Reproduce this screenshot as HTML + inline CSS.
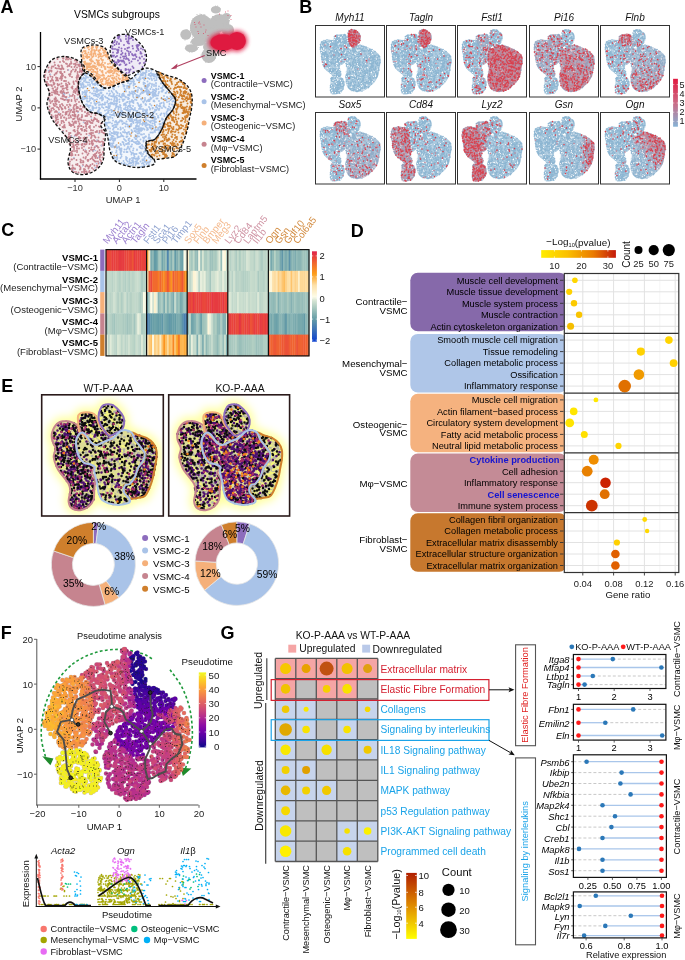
<!DOCTYPE html>
<html><head><meta charset="utf-8"><style>
html,body{margin:0;padding:0;background:#fff;}
svg{display:block;will-change:transform;font-family:"Liberation Sans", sans-serif;}
</style></head><body>
<svg width="685" height="960" viewBox="0 0 685 960">
<rect width="685" height="960" fill="#fff"/>
<text x="0.6" y="13.1" fill="#000" style="font-size:18px;font-weight:bold" >A</text>
<text x="117.0" y="14.5" text-anchor="middle" dominant-baseline="central" style="font-size:10.3px" >VSMCs subgroups</text>
<path d="M79.7 78.7C81.1 76.0 84.4 72.1 86.7 71.7C89.0 71.3 91.4 74.1 93.7 76.4C96.0 78.7 98.4 83.8 100.7 85.7C103.0 87.7 104.6 88.5 107.7 88.1C110.8 87.7 115.5 85.0 119.4 83.4C123.3 81.8 127.6 80.9 131.1 78.7C134.6 76.5 137.7 72.2 140.4 70.5C143.1 68.8 144.8 68.0 147.5 68.2C150.2 68.4 154.5 69.6 156.8 71.7C159.1 73.8 159.2 77.6 161.5 81.1C163.8 84.6 168.5 89.6 170.8 92.7C173.1 95.8 175.1 97.0 175.5 99.7C175.9 102.4 174.7 106.0 173.1 109.1C171.5 112.2 168.0 114.9 166.1 118.4C164.2 121.9 163.4 126.6 161.5 130.1C159.6 133.6 156.8 137.6 154.5 139.5C152.2 141.4 148.9 139.9 147.5 141.8C146.1 143.7 145.1 148.0 146.3 151.1C147.5 154.2 153.5 158.2 154.5 160.5C155.5 162.8 154.8 164.0 152.1 165.2C149.4 166.4 142.8 167.5 138.1 167.5C133.4 167.5 128.0 166.4 124.1 165.2C120.2 164.0 117.0 162.8 114.7 160.5C112.4 158.2 111.3 155.0 110.1 151.1C108.9 147.2 108.7 141.8 107.7 137.1C106.7 132.4 104.6 126.4 104.2 123.1C103.8 119.8 106.4 118.8 105.4 117.3C104.4 115.8 101.1 114.8 98.4 113.8C95.7 112.8 91.8 113.4 89.1 111.4C86.4 109.5 83.8 106.0 82.0 102.1C80.2 98.2 78.9 92.0 78.5 88.1C78.1 84.2 78.3 81.4 79.7 78.7Z" fill="#f3f7fc" />
<path d="M44.7 71.7C45.9 68.2 48.6 62.5 51.7 60.0C54.8 57.5 59.5 56.7 63.4 56.5C67.3 56.3 71.7 57.5 75.0 58.9C78.3 60.3 81.6 62.6 83.2 64.7C84.8 66.8 85.0 69.4 84.4 71.7C83.8 74.0 80.7 76.0 79.7 78.7C78.7 81.4 78.1 84.2 78.5 88.1C78.9 92.0 80.2 98.2 82.0 102.1C83.8 106.0 86.4 109.5 89.1 111.4C91.8 113.4 95.9 112.6 98.4 113.8C100.9 115.0 103.8 116.5 104.2 118.4C104.6 120.3 100.5 123.1 100.7 125.4C100.9 127.8 104.8 129.0 105.4 132.5C106.0 136.0 104.6 141.8 104.2 146.5C103.8 151.2 104.4 156.6 103.1 160.5C101.8 164.4 99.2 167.5 96.1 169.8C93.0 172.1 88.3 174.1 84.4 174.5C80.5 174.9 75.4 174.1 72.7 172.2C70.0 170.2 68.4 166.7 68.0 162.8C67.6 158.9 70.4 152.7 70.4 148.8C70.4 144.9 70.0 143.0 68.0 139.5C66.0 136.0 61.4 131.3 58.7 127.8C56.0 124.3 53.7 122.3 51.7 118.4C49.8 114.5 47.4 108.7 47.0 104.4C46.6 100.1 49.7 96.6 49.3 92.7C48.9 88.8 45.5 84.6 44.7 81.1C43.9 77.6 43.5 75.2 44.7 71.7Z" fill="#f7eeef" />
<path d="M82.0 48.4C84.0 45.9 89.8 44.9 93.7 44.9C97.6 44.9 102.7 45.9 105.4 48.4C108.1 50.9 108.1 56.7 110.1 60.0C112.0 63.3 114.4 65.7 117.1 68.2C119.8 70.7 124.3 73.2 126.4 75.2C128.5 77.2 131.1 78.5 129.9 79.9C128.7 81.3 123.1 82.0 119.4 83.4C115.7 84.8 110.8 87.7 107.7 88.1C104.6 88.5 103.4 87.7 100.7 85.7C98.0 83.8 94.3 78.9 91.4 76.4C88.5 73.9 84.8 73.2 83.2 70.5C81.6 67.8 81.8 63.7 81.6 60.0C81.4 56.3 80.0 50.9 82.0 48.4Z" fill="#fef4ec" />
<path d="M117.1 35.5C119.8 34.4 125.3 33.8 128.8 34.8C132.3 35.8 135.4 38.8 138.1 41.4C140.8 44.0 143.7 47.6 145.1 50.7C146.5 53.8 146.7 57.1 146.3 60.0C145.9 62.9 144.6 66.2 142.8 68.2C141.1 70.2 138.1 70.5 135.8 71.7C133.5 72.9 130.8 74.6 128.8 75.2C126.9 75.8 126.0 76.6 124.1 75.2C122.1 73.8 119.0 69.5 117.1 67.0C115.1 64.5 113.6 62.7 112.4 60.0C111.2 57.3 110.1 53.8 110.1 50.7C110.1 47.6 111.2 43.9 112.4 41.4C113.6 38.9 114.4 36.6 117.1 35.5Z" fill="#efeaf6" />
<path d="M156.8 71.7C157.6 70.7 162.6 74.0 166.1 75.2C169.6 76.4 174.3 77.0 177.8 78.7C181.3 80.5 184.9 83.0 187.2 85.7C189.5 88.4 191.0 91.6 191.8 95.1C192.6 98.6 192.2 102.9 191.8 106.8C191.4 110.7 190.3 114.5 189.5 118.4C188.7 122.3 188.4 125.8 187.2 130.1C186.0 134.4 184.4 139.8 182.5 144.1C180.6 148.4 178.2 153.5 175.5 155.8C172.8 158.1 169.2 157.5 166.1 158.1C163.0 158.7 159.1 159.3 156.8 159.3C154.5 159.3 153.7 159.5 152.1 158.1C150.5 156.7 148.5 153.8 147.5 151.1C146.5 148.4 145.1 143.7 146.3 141.8C147.5 139.9 152.0 141.4 154.5 139.5C157.0 137.6 159.6 133.6 161.5 130.1C163.4 126.6 164.2 121.9 166.1 118.4C168.0 114.9 171.5 112.2 173.1 109.1C174.7 106.0 175.9 102.4 175.5 99.7C175.1 97.0 173.1 95.8 170.8 92.7C168.5 89.6 163.8 84.6 161.5 81.1C159.2 77.6 156.0 72.7 156.8 71.7Z" fill="#f8ede1" />
<path transform="scale(0.5)" d="M303 141h0m-5 1h0m-5-1h0m-1 1h0m-11-1h0m-114 14h0m2-5h0m2-3h0m1 6h0m0-1h0m1 1h0m1-7h0m1-1h0m1 10h0m1-7h0m3 3h0m0 2h0m0-1h0m0 0h0m2 2h0m2 1h0m1-2h0m86 2h0m1-5h0m0 0h0m4-2h0m4 6h0m1-10h0m0 5h0m0 1h0m2-2h0m1 3h0m2-1h0m0-3h0m0-2h0m2 10h0m1-9h0m2 3h0m0 3h0m1-7h0m1-1h0m4 6h0m1-2h0m1 0h0m1 3h0m1 2h0m1-7h0m1 5h0m1-3h0m2 0h0m0 2h0m1 2h0m1-3h0m2 4h0m0-4h0m3 0h0m1 0h0m0 3h0m2-1h0m1 4h0m9 12h0m-4 0h0m-9-11h0m0 4h0m-1 6h0m0 1h0m-2-6h0m-2-4h0m-4 3h0m-1-3h0m-3 10h0m-1 0h0m0-9h0m-3-2h0m-1 7h0m-4-7h0m-1 11h0m-1-1h0m0-6h0m0-3h0m-1 1h0m-1 7h0m-2-9h0m-4 2h0m-2 2h0m0 2h0m-1-5h0m0 4h0m-3-1h0m-1-1h0m-6 4h0m-1 3h0m0-1h0m0-5h0m0 5h0m-1-2h0m-1-6h0m-2 6h0m-1 4h0m-2-5h0m-1-1h0m-2 0h0m-1 5h0m-64 1h0m0 0h0m0-5h0m-1-4h0m0 8h0m-4-5h0m-3 5h0m0-3h0m-1 0h0m-1-4h0m-3 1h0m-1 5h0m-3 0h0m-3-9h0m0 8h0m-1-4h0m-2-3h0m-1-1h0m0 7h0m0-1h0m-1-5h0m-2 9h0m-1-8h0m-1 0h0m0 1h0m-1-2h0m-1 6h0m-2 15h0m1-2h0m1-8h0m0 1h0m1 1h0m1 2h0m0-3h0m0 5h0m0-3h0m3-3h0m0 8h0m1-1h0m0-6h0m0 3h0m3 1h0m1 0h0m1 0h0m4-3h0m4 2h0m0-3h0m4 7h0m0 0h0m2 1h0m0-8h0m2-1h0m1 9h0m1-7h0m2 6h0m1 1h0m2-8h0m0 10h0m1-9h0m8 4h0m1 0h0m1 2h0m1 0h0m4 1h0m9-3h0m6 1h0m0 2h0m2 2h0m0-5h0m1-3h0m8 2h0m9-4h0m1 4h0m2-1h0m0 5h0m0-6h0m5 1h0m0 4h0m2-4h0m2 5h0m1-4h0m0 1h0m0-3h0m1-3h0m7 3h0m0-1h0m1 6h0m2-8h0m6 7h0m3 1h0m3 3h0m1-2h0m1 2h0m3-11h0m2 4h0m1 4h0m0-4h0m2 2h0m1 3h0m1-5h0m0 7h0m1-4h0m0-5h0m1 2h0m0 1h0m0-4h0m2 2h0m3 7h0m2-4h0m1-6h0m0 2h0m2 9h0m2-7h0m0-3h0m4 3h0m0-1h0m0 6h0m0-6h0m1 8h0m4-1h0m1-5h0m0 0h0m4 3h0m2 1h0m1-2h0m1-3h0m1-4h0m1 1h0m1 3h0m2 3h0m7 11h0m-4-3h0m-2 3h0m-1 0h0m-4-6h0m-2 1h0m0 2h0m-2 0h0m-5 1h0m-1 3h0m-1 4h0m-3 0h0m-1-8h0m-1 1h0m0-2h0m0 6h0m-2-8h0m0 6h0m-1 4h0m0-5h0m0 6h0m-1-3h0m-1 0h0m0-5h0m-1 7h0m-1-5h0m-3 1h0m-1 2h0m-1-4h0m0 3h0m-1 2h0m0-4h0m-1-2h0m0-2h0m-1 9h0m0-4h0m0-3h0m-1 1h0m-1 4h0m0-2h0m-1-3h0m-1 0h0m0-2h0m-3 2h0m-2-1h0m0 3h0m-2-1h0m0 2h0m-2-1h0m-2 3h0m-3 3h0m-2-11h0m-1 3h0m0 1h0m-1 6h0m-1 0h0m-1-9h0m-2 6h0m-1-5h0m0 5h0m-1-2h0m-1-1h0m-1 5h0m-2-5h0m0-1h0m0 4h0m-3 0h0m-2-3h0m0 5h0m0 2h0m-1-2h0m-2 1h0m0 0h0m-4-7h0m-1-3h0m0 2h0m0 0h0m-1 0h0m-2 8h0m-1-3h0m-2 1h0m-1 3h0m0-1h0m-5-2h0m-4-2h0m-1-1h0m0 6h0m-1-7h0m0 0h0m-1-2h0m-4 6h0m-1 2h0m0-1h0m-2-4h0m-2-3h0m-3 5h0m-1 1h0m0 0h0m-1-6h0m0 9h0m-4-4h0m-7-7h0m-1 10h0m-2-10h0m-1 6h0m0-1h0m-1 2h0m0-7h0m-1 5h0m0-5h0m-2 11h0m-1-1h0m0-2h0m0-7h0m-3 1h0m0 7h0m-1-5h0m0-2h0m-1-2h0m0 3h0m-1 0h0m0 6h0m-1 2h0m-1-4h0m-2 4h0m0-9h0m-2 5h0m-2 0h0m-4-2h0m-6-4h0m0 1h0m-1 8h0m0-5h0m-1 3h0m-1 2h0m0-5h0m-1-3h0m0 7h0m-2-4h0m-3-1h0m0 4h0m-5-8h0m-2 1h0m5 18h0m2 0h0m0-4h0m2-2h0m1 5h0m2-3h0m0 1h0m2 1h0m0-1h0m1 1h0m1 5h0m0-9h0m1 4h0m0 6h0m3 0h0m1-10h0m1 7h0m0-3h0m3-1h0m1 1h0m1 1h0m1 0h0m2 4h0m2-2h0m3-8h0m1 7h0m2-5h0m4 3h0m1-1h0m2-2h0m0 3h0m1-1h0m0 5h0m0-9h0m1 2h0m1 5h0m0-3h0m4-3h0m2 2h0m3 8h0m0-1h0m0-6h0m2 2h0m2 1h0m3-7h0m1 7h0m2-6h0m1-1h0m2 1h0m0 10h0m0-1h0m1-9h0m0 5h0m0 1h0m0-3h0m0 2h0m2-5h0m1 9h0m1-6h0m1 7h0m0-7h0m0 3h0m1 1h0m3-8h0m1 7h0m0-7h0m2 2h0m2 1h0m2 4h0m1-7h0m0 10h0m1-3h0m2 0h0m0 0h0m1-6h0m2 1h0m0 1h0m4 0h0m0 3h0m1 0h0m1-1h0m1 6h0m3 0h0m1 0h0m1-3h0m2-8h0m1 10h0m0-7h0m3 4h0m3-4h0m0-2h0m0 7h0m3-8h0m0 3h0m1-1h0m2-2h0m0 0h0m3 6h0m1 1h0m2-2h0m1 6h0m2 0h0m2-3h0m0-4h0m0 3h0m3 4h0m2-2h0m1 0h0m1 1h0m1-3h0m0 1h0m1 2h0m1-3h0m1-4h0m0 3h0m2-1h0m3-3h0m1 8h0m1-1h0m0 1h0m1 1h0m1-11h0m3 5h0m2 0h0m3 5h0m5-5h0m3 1h0m2-6h0m2 6h0m2 1h0m1 1h0m1-6h0m2 3h0m2 6h0m3-3h0m0-7h0m1 2h0m1 3h0m2 5h0m0-11h0m1 4h0m1 6h0m2-4h0m0 0h0m1 5h0m-2 7h0m-1 4h0m0-1h0m0-1h0m-3-3h0m-5-1h0m-1 5h0m-4-9h0m-3 11h0m-3-2h0m0-1h0m0-4h0m-1 4h0m0-7h0m-4 1h0m-2 7h0m-1-6h0m0 1h0m0 4h0m-1 0h0m-1 0h0m-4-2h0m0 5h0m-2-2h0m0 1h0m-9-3h0m-3-3h0m-2 6h0m-6-5h0m0 1h0m-1-2h0m0 1h0m-4-4h0m-4 8h0m-1-4h0m-2 6h0m0-4h0m-1 1h0m-1 0h0m-1-2h0m-1-3h0m-1-1h0m-8 0h0m-1 6h0m-1-8h0m-4 7h0m-1 3h0m0-10h0m-1 3h0m0 0h0m0 4h0m-2 1h0m-1 1h0m-1 2h0m0-11h0m-2 1h0m-1 6h0m-1 4h0m0-6h0m-1-1h0m0-1h0m-2 1h0m0 2h0m-7 1h0m-1-1h0m0 4h0m-1-10h0m-2 10h0m-1-1h0m-2 0h0m0-6h0m-1 2h0m-1 1h0m0-3h0m0 5h0m0 3h0m-3-8h0m-1 2h0m-2-1h0m-1-2h0m-3-1h0m0 3h0m-2 4h0m-1 1h0m0-6h0m-2 5h0m0-4h0m-1 7h0m0 0h0m-2-10h0m-1 9h0m-1 0h0m-2-9h0m0 3h0m0 1h0m-2 0h0m-3-1h0m-1 6h0m0-4h0m-3-1h0m-2-4h0m-1 10h0m0-10h0m0 5h0m-2-5h0m-3 2h0m0 8h0m-2-5h0m-1-3h0m-1-1h0m0 1h0m-3 7h0m-1-1h0m0 2h0m-3-9h0m-1 5h0m-3 4h0m0-4h0m-3 1h0m-1-3h0m-2 0h0m8 11h0m2 3h0m0-2h0m3-4h0m1 3h0m2-4h0m4 0h0m2 9h0m2-3h0m1-1h0m0 5h0m1-7h0m0 6h0m1-6h0m0 7h0m0-1h0m1-8h0m2 9h0m5-10h0m3 5h0m3 6h0m1-7h0m2 6h0m0-2h0m1 1h0m0-8h0m1 4h0m1-5h0m3 4h0m1 0h0m0 4h0m2-2h0m3 0h0m0 1h0m1 3h0m0-4h0m1-3h0m0-1h0m6 5h0m0 4h0m1-8h0m0-2h0m2 10h0m2-3h0m0 2h0m1 1h0m0-7h0m0-4h0m2 7h0m0-1h0m0 3h0m3 0h0m1-7h0m3 1h0m2 1h0m2 1h0m1-3h0m0 0h0m1 4h0m1 5h0m2-4h0m0-4h0m2 0h0m1-3h0m2 2h0m1 7h0m0 2h0m1-7h0m2-1h0m1 1h0m0-4h0m3 6h0m2 0h0m3 5h0m0-9h0m1 7h0m0-8h0m0 8h0m3-7h0m4 2h0m0-2h0m0 5h0m2 4h0m0 0h0m2-7h0m0 1h0m1 5h0m1-3h0m2-4h0m0 8h0m0-2h0m0-4h0m6-4h0m0 2h0m1 8h0m4-10h0m0-1h0m1 0h0m0 9h0m1 1h0m2-2h0m0-1h0m1-4h0m1 2h0m2-1h0m2-3h0m3 3h0m0-1h0m1-2h0m4 10h0m1-11h0m4 11h0m5 0h0m0-2h0m1-2h0m1-5h0m1 3h0m1-3h0m3 2h0m1-4h0m-5 13h0m-2 1h0m0 0h0m-5-2h0m0 4h0m-3 7h0m-1-1h0m-1 1h0m0-2h0m-3-8h0m0 1h0m-4 5h0m-1-3h0m0 3h0m-3-7h0m-1 10h0m-1 1h0m-1-5h0m-1 5h0m0-2h0m-1 0h0m-1-5h0m-1 2h0m-1-4h0m-2 6h0m-1-3h0m-1-5h0m-4 1h0m-1 5h0m0-4h0m-4 5h0m0-6h0m0 10h0m-1-3h0m-3-8h0m-5 2h0m-2 4h0m0-6h0m-1 0h0m0 1h0m-2 5h0m0-2h0m-1-2h0m-1 4h0m-1-6h0m0 3h0m-1-1h0m0 1h0m-1 6h0m0-9h0m-2 2h0m-1 2h0m-4 2h0m0-1h0m-1-5h0m-1 11h0m0-2h0m-1 2h0m-1-7h0m-1 4h0m0-6h0m-2 9h0m0-4h0m-1-2h0m-2 5h0m-1-9h0m-3 3h0m-2-3h0m-2 0h0m-3 1h0m-3-1h0m-2 2h0m-1 2h0m-2-3h0m-2 1h0m-6 0h0m-2-3h0m-1 2h0m-1 6h0m0-6h0m-2 0h0m-2 5h0m0-1h0m-1-5h0m0 0h0m-2 6h0m0-1h0m-1 1h0m0 4h0m-1-2h0m-2-4h0m-2-5h0m-1 10h0m0-7h0m-2-1h0m-3 2h0m-3-1h0m7 18h0m1-4h0m1 1h0m1 2h0m1 3h0m0-5h0m3-1h0m3 0h0m4 2h0m2-6h0m1 10h0m3-2h0m0-5h0m2 6h0m0-8h0m1 2h0m1 2h0m1 3h0m2-4h0m1-1h0m2-3h0m2 0h0m1 0h0m0 2h0m2 5h0m0-5h0m3 3h0m3 1h0m1 1h0m1-5h0m2 6h0m4-8h0m1 1h0m0 9h0m1-9h0m1-1h0m0 7h0m0 1h0m1 0h0m0-1h0m1-5h0m1-3h0m1 4h0m1 0h0m0 2h0m2-6h0m3 5h0m0-5h0m2 10h0m0-9h0m0 3h0m1 0h0m0 2h0m1-1h0m1 0h0m1-4h0m2 4h0m0 3h0m1-8h0m0 2h0m3 6h0m1 2h0m1-5h0m0 3h0m3-3h0m0 2h0m1 2h0m0-9h0m1 10h0m0-4h0m1-6h0m0 5h0m1 1h0m1 4h0m1-1h0m1-8h0m1 8h0m2-6h0m0 7h0m2-5h0m1-3h0m0 9h0m3-10h0m0 6h0m3-5h0m1 5h0m0-1h0m0-6h0m1 4h0m0 6h0m2-6h0m7 4h0m1-6h0m1 6h0m4 2h0m0 0h0m0-4h0m2-2h0m-2 10h0m-2 0h0m-1 4h0m-1-2h0m-1-3h0m0 9h0m-1-8h0m-1 6h0m-1-2h0m0 0h0m-1-2h0m-2 4h0m-3 0h0m0-4h0m0-1h0m-2 6h0m0 1h0m-3-5h0m0-3h0m-1-2h0m-2 7h0m-1-3h0m-1 0h0m0 0h0m-1-4h0m-1 3h0m-3 4h0m-1-2h0m-1 3h0m-1-5h0m-2-3h0m-2 7h0m-2-2h0m0 0h0m-2 0h0m-1 2h0m0 1h0m-2 2h0m0-6h0m-1 4h0m-1-1h0m-1 1h0m-1-4h0m0-4h0m0 11h0m-2-5h0m0 5h0m0-3h0m-1-7h0m-2 5h0m-1 4h0m0-8h0m0-2h0m-2 5h0m-1 5h0m-1-5h0m-4 5h0m-1-2h0m-1-8h0m-2 0h0m-1 3h0m-1-3h0m-2 1h0m-5 0h0m-2 7h0m-3-4h0m-4 2h0m-1 1h0m0-4h0m0 4h0m-5-1h0m-3-4h0m-2 0h0m-3 9h0m0-8h0m-1 2h0m-1 2h0m-1-7h0m-5 5h0m0 6h0m-3-9h0m-1 3h0m-5 0h0m4 14h0m4-3h0m1 1h0m3-3h0m0 5h0m1 3h0m0-8h0m1 6h0m2 1h0m0-6h0m1-2h0m1 3h0m1-1h0m2-3h0m1 5h0m2 3h0m0 3h0m0-8h0m0-2h0m0 5h0m1-5h0m0 1h0m2 8h0m3-1h0m0-7h0m1 6h0m1-3h0m0 2h0m2 1h0m1-8h0m1 9h0m2-8h0m1-1h0m3 2h0m0 7h0m0 1h0m1-6h0m0-2h0m1 7h0m0 0h0m1-8h0m2-1h0m1 4h0m2 1h0m4-5h0m4 11h0m2-5h0m1 3h0m0-9h0m2 10h0m1-2h0m0-5h0m3 6h0m0-6h0m1-1h0m3 3h0m2 0h0m2 6h0m2-7h0m2 6h0m1-1h0m1 0h0m6 1h0m0-5h0m0 1h0m3-5h0m3 0h0m2 0h0m4-1h0m8 2h0m0-1h0m0 1h0m-12 14h0m-1 0h0m-5-4h0m0 3h0m-1-1h0m-2-1h0m0-1h0m-5 5h0m-4-4h0m-1 6h0m0-2h0m-6-2h0m-1 8h0m-2-3h0m-1 1h0m-1 2h0m0-4h0m-1-1h0m0 0h0m-2 5h0m0-9h0m-1 6h0m-1 2h0m0-8h0m-3 6h0m-3-2h0m0-2h0m-2 2h0m-4-5h0m0 6h0m-2-3h0m0 6h0m0-8h0m-2 9h0m-3-5h0m-1-1h0m-1-1h0m-2-2h0m-1 7h0m0 0h0m-2-1h0m-14-7h0m-1 3h0m0-1h0m-1 2h0m0-4h0m-2 9h0m0-4h0m-1-1h0m0-3h0m-1 9h0m-1-11h0m-1 2h0m-1 9h0m0-11h0m-1 4h0m-2 6h0m0-6h0m-1-1h0m2 10h0m1 1h0m1 3h0m1 0h0m1 1h0m1-4h0m2 3h0m2 2h0m2-3h0m1-1h0m1 3h0m0-4h0m1 6h0m1-1h0m3-2h0m1 3h0m0 3h0m0-3h0m2-8h0m0 10h0m1-8h0m1 8h0m0-1h0m4-9h0m2 11h0m0-8h0m3-3h0m1 11h0m1-11h0m1 8h0m1-3h0m0 2h0m2-7h0m1 9h0m0 2h0m2-6h0m2 0h0m1-4h0m3 8h0m7-9h0m0 11h0m3-11h0m2 6h0m2 2h0m0-3h0m3 4h0m0-7h0m2 3h0m3 4h0m1-2h0m2-6h0m1-1h0m6 23h0m-5-4h0m-1-3h0m-3-2h0m-2 2h0m-2 4h0m-4-3h0m0 3h0m-3-2h0m-5-6h0m-1 8h0m-3 0h0m-2 0h0m0 2h0m-2-4h0m0-5h0m-3 5h0m0 3h0m-2-6h0m-6 1h0m-2 0h0m-5 0h0m-5-2h0m0 7h0m-1-5h0m0-1h0m-1-2h0m0 7h0m0-4h0m0 1h0m-6 4h0m-2-5h0m0-3h0m-1 4h0m-8-1h0m3 9h0m1 0h0m1 4h0m1-2h0m2 6h0m1-6h0m0 5h0m1-7h0m0 6h0m1-3h0m3 6h0m3-6h0m2-3h0m4 9h0m5-8h0m0 4h0m1 2h0m1-4h0m1 7h0m4 0h0m0-3h0m1-2h0m4-2h0m0 5h0m2-1h0m0 3h0m1-7h0m0 0h0m2-3h0m1 4h0m1 6h0m0 0h0m1-5h0m1-1h0m1 5h0m1-5h0m1 2h0m1-6h0m0 2h0m1 2h0m3 6h0m3-11h0m1 7h0m0 0h0m0 2h0m2-2h0m1 2h0m1-4h0m0 0h0m0-3h0m3 9h0m0-11h0m1 8h0m5-5h0m2 8h0m0-8h0m0 0h0m2 4h0m-4 6h0m0 4h0m-1-4h0m-1 0h0m-1 0h0m-2 3h0m-3-4h0m-1 8h0m-1-3h0m0 1h0m-2-4h0m-2 7h0m0-6h0m-3 7h0m-4-7h0m-1-1h0m-2 1h0m-1-1h0m-1 1h0m-1 3h0m-4-6h0m0 2h0m-1 4h0m-1-6h0m-2 2h0m-1 5h0m-1-5h0m-3 1h0m-3 3h0m-2-1h0m-4-3h0m0 1h0m-2 1h0m-4-2h0" stroke="#a9c3e8" stroke-width="3.80" stroke-linecap="round" fill="none" />
<path transform="scale(0.5)" d="M142 119h0m-3-2h0m-3 2h0m-1-4h0m-2 0h0m0 1h0m-1 3h0m0-5h0m-5 3h0m-1 0h0m-11 1h0m-15 7h0m9 0h0m1 5h0m6 1h0m1 0h0m3-7h0m3 7h0m3-9h0m2 2h0m4 3h0m2 1h0m5 2h0m1-2h0m2-4h0m1 3h0m5 1h0m2-7h0m0-1h0m1 7h0m0 4h0m1-2h0m1-8h0m1 3h0m2 5h0m1 2h0m1-1h0m2-2h0m5 2h0m2 10h0m-1-5h0m0-1h0m0-2h0m-1 11h0m0-6h0m-2 4h0m-3 1h0m0-10h0m0 6h0m-1-5h0m-5 2h0m-2 5h0m-1-1h0m-1 4h0m-1-9h0m-3 5h0m-3 3h0m0-8h0m-4-2h0m-3 0h0m0 8h0m-1-7h0m-8 5h0m-2-3h0m0 2h0m-1-5h0m-1 5h0m-1 2h0m-1-1h0m-3-5h0m0 4h0m-3 6h0m-1-6h0m-3-1h0m-4-3h0m-3 0h0m-1 8h0m0 2h0m0-7h0m-3 5h0m-1 1h0m-2-7h0m-5 6h0m-2 9h0m0 5h0m1-11h0m5 11h0m2-11h0m2 5h0m1 4h0m4 1h0m4-4h0m2-3h0m1 8h0m1-9h0m0 1h0m7-3h0m1 2h0m1 7h0m0-9h0m1 3h0m0 8h0m1-5h0m1 2h0m0-4h0m0 5h0m1-2h0m3-7h0m1 10h0m1 1h0m7-6h0m1 0h0m1 3h0m1-4h0m1-4h0m2 10h0m9 1h0m1-3h0m1-8h0m0 4h0m1 6h0m0-4h0m1 2h0m2-8h0m4 0h0m0 5h0m2 0h0m-6 8h0m-3 6h0m-1 0h0m0 2h0m-1-7h0m-2 4h0m-5 3h0m0-2h0m-10 2h0m-5-3h0m0 5h0m-3-5h0m-1 0h0m-4-5h0m-1 3h0m0 7h0m-2-11h0m-1 1h0m-4 4h0m-1-3h0m0-2h0m0 2h0m-2 2h0m0-3h0m-1 4h0m-3 6h0m0 0h0m-2-2h0m-1-4h0m0 0h0m-2-3h0m-1 3h0m-2 2h0m0-1h0m-5-4h0m-2 6h0m-2 0h0m1 5h0m1 0h0m1 1h0m1-2h0m2 2h0m4 0h0m1 1h0m1 1h0m1 5h0m1 0h0m1-8h0m1 0h0m0-1h0m2 6h0m2 5h0m2 0h0m1-11h0m0 8h0m1-5h0m0-1h0m3-1h0m3 4h0m2 0h0m1 5h0m1-6h0m0 5h0m2 0h0m4-1h0m0-6h0m1 1h0m1 2h0m0 6h0m1-9h0m0 9h0m0-5h0m4-6h0m4 7h0m2-2h0m0 4h0m3-9h0m3 11h0m0-1h0m1 1h0m1-2h0m2-3h0m0-1h0m0 6h0m1-8h0m1-3h0m2 21h0m-3-7h0m0 2h0m0 5h0m-1 0h0m0 0h0m-2-8h0m-2 3h0m0 2h0m-1-2h0m-2-3h0m-1 3h0m-1 5h0m-10-4h0m-3 1h0m-4 0h0m-1-1h0m0 6h0m0-2h0m0-4h0m-1-3h0m0 6h0m-1 3h0m-1-6h0m0 2h0m-1-1h0m-1-4h0m-2 1h0m0 2h0m-3 5h0m-3-2h0m0-4h0m-2-1h0m-1 4h0m-1-3h0m-1-2h0m0 5h0m-2-2h0m-1-4h0m-3 4h0m0 5h0m-4-3h0m0 4h0m-2-10h0m-1 14h0m2 4h0m0 2h0m0 0h0m0-2h0m1 3h0m4 1h0m1-1h0m4-4h0m0 1h0m1 4h0m1-8h0m0 3h0m1-1h0m0 5h0m1 1h0m0-2h0m2 0h0m7-4h0m3-4h0m0 5h0m2 1h0m1-6h0m1 7h0m2-6h0m1 5h0m1-5h0m2 6h0m2 3h0m1-3h0m2-8h0m3 8h0m0 2h0m1-10h0m5 4h0m0-4h0m1 8h0m1 3h0m3-4h0m15 16h0m-3-1h0m-5-2h0m-3-8h0m-2 11h0m-1-1h0m-2 0h0m0-6h0m-1 2h0m-3 0h0m-1 2h0m-1 3h0m-6-4h0m-1-1h0m-1-1h0m-2 5h0m-1-10h0m-2 6h0m-4 4h0m0 1h0m-4-4h0m-2-3h0m-3 5h0m-1-3h0m0 3h0m-2-9h0m-4 10h0m-1-5h0m-2-2h0m-1 5h0m-1-1h0m-1 0h0m-1-3h0m-6-2h0m-2 7h0m0 7h0m0 0h0m0 1h0m2 3h0m2-7h0m0 4h0m3-5h0m2 3h0m2 5h0m2-2h0m2 2h0m3-8h0m1 3h0m5-3h0m1 3h0m1-1h0m1 6h0m4-8h0m1 9h0m0-8h0m2 10h0m0-3h0m3-1h0m2-4h0m2 5h0m1-3h0m2-1h0m2 4h0m2 0h0m0-7h0m0 7h0m1-4h0m1 4h0m0-5h0m4-2h0m0 5h0m2 1h0m1-7h0m0 7h0m4-4h0m0-2h0m3 1h0m1 4h0m6 2h0m4 3h0m1 0h0m1-2h0m7 2h0m11 12h0m0 0h0m-3-9h0m0 0h0m0 8h0m-2-2h0m-1 3h0m-6-6h0m-4-4h0m-4 3h0m0-1h0m-3 1h0m0 0h0m-7 1h0m0 1h0m0-4h0m-1 5h0m-3 4h0m-1 0h0m0-2h0m-2-7h0m-1 9h0m0-7h0m-1 2h0m0 2h0m-4-3h0m0-3h0m-1 0h0m-1 7h0m0-5h0m0-4h0m-2 10h0m-1-7h0m0 7h0m-1-8h0m-3 5h0m-1-3h0m-2-4h0m-1 8h0m-1-5h0m-4 6h0m0-9h0m-2 1h0m-2 6h0m-1 0h0m0 0h0m-3-4h0m-3 5h0m0-2h0m-1-6h0m-1 2h0m-3-2h0m-1 11h0m-1-8h0m0 3h0m-2 4h0m-1-7h0m0 4h0m0 2h0m-1-6h0m0 3h0m-5-1h0m-2 1h0m0 2h0m-1-6h0m8 12h0m1-1h0m0 6h0m1 2h0m2-3h0m1-2h0m4 6h0m3-4h0m0-4h0m3 0h0m2 3h0m1 5h0m3-10h0m6 5h0m1 2h0m0 3h0m2-1h0m2 1h0m2-7h0m1 7h0m1 0h0m0-3h0m1-1h0m2-3h0m2 0h0m0 3h0m5-3h0m2 5h0m0-1h0m4-7h0m4 1h0m0 0h0m3 5h0m0-5h0m1 5h0m1 4h0m1-1h0m1-6h0m0 5h0m0-6h0m1 6h0m0-3h0m3-3h0m2 2h0m2 1h0m0 1h0m1-6h0m2 6h0m1-4h0m1-1h0m5 10h0m2-9h0m3 0h0m0 2h0m5 3h0m2-1h0m3 14h0m-4 1h0m-3-7h0m-1 8h0m-1-9h0m-4 9h0m-6-8h0m-2 7h0m-4 0h0m0-1h0m-2-8h0m0 4h0m-2-2h0m-5 3h0m0 5h0m-1-9h0m-2 7h0m-1 2h0m0-2h0m-2-6h0m-3 7h0m0-3h0m-1-6h0m-1 6h0m0-6h0m-4 1h0m0-1h0m-2 1h0m0 4h0m-1 4h0m-5 2h0m-1-3h0m0-6h0m-2 7h0m-5-9h0m-9 10h0m-3-7h0m-1-2h0m-1-1h0m-1 3h0m-1 7h0m-1-8h0m5 17h0m6 4h0m2-2h0m0-4h0m0-3h0m3 8h0m0-8h0m1 6h0m8-1h0m2-2h0m1 2h0m2-4h0m0-1h0m0 3h0m1-5h0m2 10h0m0-7h0m1-1h0m3 3h0m7 6h0m4-7h0m1 7h0m5-8h0m3 2h0m0-1h0m0-2h0m1 0h0m0 8h0m1-3h0m2-5h0m2 5h0m1 1h0m1 2h0m1 1h0m0-11h0m3 0h0m3 11h0m2-10h0m5-1h0m0 0h0m3 2h0m2 1h0m-1 19h0m-1-8h0m-1 6h0m-2-1h0m-4 1h0m-3-1h0m0-1h0m-1-1h0m-3 2h0m-3-1h0m-2-2h0m-2 7h0m-1-4h0m-1-2h0m-1 6h0m0-3h0m-1-8h0m-3 7h0m0 0h0m-2-3h0m0 0h0m-3 5h0m-1-2h0m-1 0h0m-2-5h0m-1 5h0m-1 0h0m-1-2h0m0 1h0m0-6h0m-6 0h0m-1 0h0m0 5h0m-2-4h0m-1-1h0m-2 9h0m-4-1h0m-3-3h0m-6 6h0m-1-3h0m-1-4h0m0-3h0m-3 0h0m2 11h0m5 6h0m2-1h0m0-5h0m1 3h0m1 7h0m0-3h0m0-1h0m3-4h0m3-2h0m0 9h0m0-4h0m3-4h0m1 8h0m5-8h0m1 2h0m0 5h0m1-8h0m3 5h0m1-5h0m2 1h0m2-1h0m0 0h0m5 8h0m1-8h0m3 11h0m1-4h0m2-5h0m1-2h0m2 11h0m1-4h0m2-2h0m2-1h0m1 0h0m2 3h0m1 0h0m6-4h0m3-3h0m0 3h0m1 15h0m-1-1h0m0-1h0m-3 5h0m-2 1h0m-1 0h0m0-5h0m-1-5h0m-1 6h0m-3-3h0m-2 3h0m-1 5h0m-2-3h0m-3 2h0m-1-8h0m-1-2h0m-6 2h0m-2 5h0m-2 3h0m-2-5h0m-1-3h0m-2 1h0m-3-3h0m-2 7h0m-8 3h0m-3-6h0m0-3h0m-3 9h0m-1-8h0m-4 0h0m-1 8h0m-1-3h0m-1-2h0m0 5h0m0 1h0m0-8h0m-1 2h0m-2 5h0m-1 0h0m1 13h0m3-4h0m1 0h0m4-2h0m5 3h0m8-1h0m1 2h0m4 1h0m1-7h0m4 2h0m1-3h0m3 6h0m1 2h0m1-2h0m4-2h0m3-2h0m0 0h0m1-2h0m1 5h0m2 2h0m1-9h0m1 1h0m0 10h0m1-7h0m1-3h0m0 10h0m3-7h0m1 7h0m3-11h0m0 3h0m1-1h0m0 5h0m2 3h0m3-7h0m-3 10h0m-1 0h0m-4 2h0m-2 6h0m-1-2h0m-1 4h0m-4-4h0m-4-3h0m-4 2h0m-1 2h0m-2 2h0m-2-1h0m-1-1h0m-2-2h0m-2 3h0m-4-9h0m-1 6h0m0 0h0m0-5h0m-4 0h0m-1-1h0m0 11h0m-2-3h0m-4-4h0m0 2h0m-3-1h0m-6 6h0m-1-4h0m-6-4h0m0 2h0m0 1h0m-1 0h0m5 7h0m1 4h0m1-1h0m1-2h0m0-1h0m1-1h0m1 8h0m2-6h0m0-1h0m2 7h0m5 1h0m3-6h0m1-2h0m0 1h0m3 6h0m4-6h0m0 5h0m0 1h0m0-4h0m1 6h0m1-7h0m0 4h0m3 0h0m1 3h0m3-9h0m1 7h0m1-2h0m5-6h0m3 3h0" stroke="#c6848f" stroke-width="3.80" stroke-linecap="round" fill="none" />
<path transform="scale(0.5)" d="M195 93h0m-1 2h0m-2-1h0m-6 0h0m0 1h0m-2 0h0m0-2h0m-6 0h0m-1 1h0m-1 1h0m-1 0h0m-10 10h0m3-3h0m1-6h0m1 11h0m1-5h0m0 2h0m1 3h0m5-2h0m1-6h0m4 5h0m0-1h0m1 1h0m0 2h0m0-9h0m1 2h0m0 2h0m0 0h0m3 6h0m1-7h0m1 3h0m1 3h0m0-4h0m3-6h0m0 4h0m0-1h0m0-3h0m4 5h0m0 1h0m2 3h0m1-5h0m2-4h0m3 1h0m1 3h0m1 5h0m1 1h0m1-2h0m0-2h0m1-1h0m0-4h0m1 6h0m2 3h0m5 9h0m0 0h0m-2 3h0m0-8h0m-1 4h0m-1-3h0m0-2h0m-2 4h0m0-3h0m-2 0h0m-3 1h0m-3 2h0m-1 6h0m0 0h0m-1-2h0m0-9h0m-1 0h0m0 4h0m0-3h0m-3 4h0m0 0h0m0-4h0m-1 6h0m-1-6h0m-4 3h0m-1-4h0m-4 4h0m0-3h0m-2 5h0m-1 0h0m-1 4h0m0-8h0m-1-2h0m-1 11h0m-1-10h0m0 10h0m-1-5h0m-2 0h0m-1 0h0m-1-5h0m0 7h0m-1-5h0m-1 4h0m-2-2h0m-3 4h0m-1-5h0m-1-2h0m0 1h0m0 3h0m-1 3h0m3 7h0m1 2h0m1 0h0m0-3h0m0 6h0m1-3h0m1 2h0m2-1h0m0 4h0m0 0h0m0-1h0m2-3h0m1 1h0m1 3h0m1-4h0m1-7h0m0 9h0m2-7h0m0 5h0m1-4h0m1-1h0m2 1h0m0 8h0m3-5h0m1 1h0m3-7h0m1 1h0m1 8h0m0-4h0m1-4h0m0 8h0m0-4h0m1-3h0m1 4h0m0-5h0m0 10h0m0-10h0m0 9h0m1-1h0m2 1h0m2-2h0m1-8h0m0 10h0m1-9h0m0 4h0m1-5h0m1 10h0m0 0h0m3-4h0m0 0h0m6 2h0m4-1h0m0-6h0m1 0h0m0 1h0m6 7h0m14 13h0m-1 0h0m-3 1h0m-1-4h0m-2-3h0m0 6h0m-2-1h0m-1-3h0m-1 5h0m0-4h0m-1 4h0m0-11h0m-1 7h0m-2-7h0m-1 4h0m0 6h0m-2 1h0m0-7h0m-1-2h0m0 6h0m-2 1h0m0-6h0m-2 0h0m0 6h0m-3-7h0m0 9h0m-4-5h0m-1-2h0m0 2h0m0-4h0m-2-1h0m-3 9h0m-1 1h0m-1-9h0m0 9h0m-3-3h0m-5 3h0m0-6h0m-1 2h0m-1-1h0m-1-5h0m-2 3h0m-1-4h0m-2 10h0m0-8h0m0 6h0m-1-7h0m-1 6h0m0 0h0m-1-5h0m-1 4h0m-1-5h0m-1 7h0m-1 0h0m0-5h0m-2-1h0m-1 6h0m-1-6h0m-1 2h0m-1-1h0m0-1h0m-1 4h0m0-4h0m-5 2h0m0 0h0m0 3h0m-1-7h0m6 12h0m8 6h0m1 0h0m1-6h0m0 8h0m1-1h0m2-7h0m1 5h0m0 5h0m3-10h0m1 0h0m0 11h0m0-11h0m1 7h0m1-4h0m1 5h0m0-1h0m0-5h0m1 1h0m1 8h0m1-1h0m1-4h0m1 4h0m1 1h0m2-4h0m3-6h0m0 6h0m1-2h0m0 1h0m2 5h0m0-4h0m4-5h0m4 7h0m1-9h0m0 8h0m1-7h0m2 8h0m0-8h0m2 6h0m1-7h0m3 3h0m0 4h0m2-5h0m1 9h0m4-8h0m0 6h0m2-4h0m3 2h0m0 0h0m4-5h0m3 5h0m1-1h0m1 4h0m3-5h0m1 6h0m2-4h0m1 3h0m2 5h0m-1-2h0m-1-1h0m-1 2h0m-1 1h0m0-1h0m-1 1h0m0 1h0m-3-1h0m-1 0h0m-1 2h0m0 0h0m-1-4h0m0-1h0m-1 5h0m0 1h0m0 0h0m-4-4h0m-1 6h0m0-5h0m-2-3h0m0 8h0m-3-3h0m-1-1h0m0 6h0m-1-8h0m-3 5h0m-1-6h0m0 9h0m-1-4h0m-1-4h0m0 7h0m-1-9h0m-1 0h0m-1 8h0m-2-2h0m0 5h0m-2-1h0m-1-8h0m-1 9h0m-1-6h0m0 4h0m0 0h0m-2 1h0m-1-10h0m0 5h0m-1 3h0m-1-6h0m-3-1h0m-3 5h0m0-3h0m-1-1h0m0 9h0m-2-3h0m-1-4h0m-3 5h0m0-9h0m-2 0h0m0 2h0m-1 3h0m-1-3h0m0 2h0m-2 1h0m10 10h0m2-3h0m3 1h0m4-1h0m4 2h0m4 1h0m2 0h0m0-1h0m1-1h0m2 0h0m1 2h0m1 0h0m1-1h0m0-1h0m1 1h0" stroke="#f5b07a" stroke-width="3.80" stroke-linecap="round" fill="none" />
<path transform="scale(0.5)" d="M252 71h0m-22 10h0m6-8h0m0 3h0m1 1h0m1-2h0m1-3h0m2 7h0m1 3h0m10-4h0m0-5h0m2 10h0m3-8h0m0 7h0m0-4h0m1-6h0m2 5h0m3-1h0m1-2h0m2 6h0m12 10h0m-2 2h0m-1-2h0m-1 4h0m-1-3h0m-8 1h0m-7-5h0m0 8h0m-2-9h0m-8 4h0m-10-3h0m0 1h0m0 7h0m-4-11h0m-1 4h0m-4-4h0m0 6h0m-3-4h0m-1 7h0m0-8h0m-1 12h0m2 1h0m0 7h0m0 0h0m4-7h0m4 8h0m0-7h0m1 2h0m1 4h0m0-2h0m1-3h0m6 2h0m0-5h0m2 9h0m5-8h0m1 9h0m3-6h0m1-5h0m2 7h0m1 4h0m3-3h0m5-7h0m7 5h0m2-5h0m1 0h0m0 1h0m1 2h0m4 7h0m0-3h0m1-7h0m1 10h0m3-8h0m4 11h0m-2 8h0m-4-5h0m-4 4h0m-1-2h0m-6-1h0m-2-3h0m0-2h0m-1 0h0m0 9h0m-3-7h0m-1 7h0m-1-8h0m-1-2h0m-6 2h0m-1 9h0m-1-1h0m-3-2h0m-1 2h0m0-6h0m-1-4h0m-2 5h0m-1 4h0m-2-4h0m-3-4h0m-1 0h0m-1 6h0m-7-3h0m0 0h0m-3 2h0m-3-3h0m0 0h0m-2 2h0m-2-2h0m4 11h0m1 2h0m3 1h0m1 0h0m1 3h0m2-6h0m0-2h0m1 3h0m0 1h0m1-3h0m1 1h0m0 8h0m2-1h0m1-8h0m2 2h0m2-2h0m1 2h0m1 0h0m1 3h0m2 4h0m2-1h0m5-8h0m1 5h0m4-3h0m13-2h0m3 6h0m1-1h0m8 0h0m3-3h0m-6 11h0m-18 2h0m-2-3h0m-4 6h0m-2 3h0m-2-3h0m-4 0h0m-1 0h0m-1-1h0m0 2h0m-9 0h0m11 6h0m0 0h0m5-1h0m9-1h0" stroke="#8d6cbd" stroke-width="3.80" stroke-linecap="round" fill="none" />
<path transform="scale(0.5)" d="M317 145h0m2 6h0m0-2h0m2-3h0m0 9h0m2-6h0m1 2h0m1 4h0m3-1h0m3-3h0m3 3h0m32 12h0m-3-2h0m-2-1h0m0 0h0m-4 1h0m-3 2h0m-2-9h0m-2 1h0m-7 7h0m0-2h0m-1-5h0m-1 1h0m0-2h0m-1 4h0m-4-5h0m-1 6h0m-4 2h0m-1-2h0m-2-4h0m-1 4h0m0-6h0m-2 6h0m-5-6h0m10 13h0m1 3h0m1-4h0m0 2h0m3 0h0m0 6h0m3-3h0m3 4h0m3-9h0m4 10h0m2-3h0m1-5h0m1 6h0m2-8h0m1 6h0m2-1h0m1 1h0m2 5h0m0-5h0m3 0h0m3-6h0m1 8h0m1-1h0m1-2h0m0-3h0m1 6h0m2 1h0m1 1h0m1-1h0m8 12h0m0-1h0m-3 2h0m-2-3h0m-2 2h0m-2-5h0m-2 1h0m0 0h0m0 2h0m-1-5h0m-1 3h0m-1 6h0m-1-4h0m0-3h0m-4 6h0m-1-7h0m-1-2h0m0 5h0m-1 4h0m-5-4h0m0-2h0m-1-1h0m-3 6h0m-1-4h0m-2-2h0m0 6h0m-2-1h0m2 5h0m2 4h0m1 0h0m1-4h0m0 8h0m3-1h0m2-5h0m1-1h0m5-2h0m1 5h0m1-4h0m1 5h0m0-6h0m1 11h0m2-10h0m1 6h0m2-3h0m1 6h0m1-8h0m1 5h0m0-2h0m3 1h0m1-3h0m0-3h0m1 3h0m1 3h0m1-5h0m0 6h0m1 2h0m0 5h0m-1-1h0m0 1h0m-1-2h0m-1 9h0m-1 2h0m-4-8h0m-1 6h0m-3 2h0m-3 0h0m-2 0h0m-1-1h0m-2-4h0m0-5h0m-1 5h0m-1 0h0m0-5h0m0 6h0m0 2h0m-4 0h0m-1-4h0m0 0h0m-1 3h0m-2-2h0m-1-3h0m-2 2h0m-4 13h0m1 1h0m0 1h0m1 3h0m4-9h0m1 7h0m0-3h0m1-4h0m1-2h0m8 0h0m2 10h0m1-9h0m1 5h0m0 4h0m0-5h0m1 1h0m1 3h0m0-8h0m0 3h0m2 5h0m0-2h0m1 0h0m1-4h0m0 4h0m2 1h0m0 1h0m1 2h0m0-2h0m0-2h0m2-4h0m1-2h0m1 7h0m1-8h0m1 2h0m-5 11h0m0-1h0m-1 2h0m-1 3h0m-1 1h0m-1-3h0m-2 5h0m-1-3h0m0 1h0m-3 4h0m-2-2h0m-8 1h0m0-8h0m-5 1h0m0 9h0m-1-4h0m-4 0h0m-1-1h0m0 5h0m0-4h0m-2 1h0m-2-3h0m0-2h0m-1 0h0m-1-3h0m-2 9h0m-1-3h0m0-2h0m-3 3h0m-1 4h0m-4 11h0m1-2h0m4 1h0m2-3h0m1 5h0m3-6h0m1 2h0m3-7h0m2 1h0m1-1h0m1 2h0m0 0h0m1 2h0m3 5h0m2 0h0m0-6h0m0 6h0m0-3h0m3 5h0m0 0h0m5-1h0m0-8h0m1 9h0m1-10h0m6 3h0m1-4h0m1 11h0m2-3h0m1-5h0m0 0h0m0 11h0m-2-2h0m-1 3h0m0 5h0m-1 3h0m0-8h0m-3 4h0m-2-7h0m-3 4h0m-3 1h0m-1-2h0m-1-3h0m0 5h0m-2 3h0m-3-1h0m-2 4h0m-4-9h0m0 4h0m-1 5h0m-1-5h0m-2 4h0m0 1h0m0-8h0m-1 8h0m-1-11h0m-1 0h0m-1 5h0m-1 2h0m-1-6h0m0 9h0m-1-4h0m0-6h0m-4 8h0m-2-6h0m-3 9h0m0-11h0m0 8h0m-1-5h0m-4 6h0m-7 14h0m1 0h0m7-5h0m2-5h0m1 9h0m0-5h0m2 0h0m2 4h0m1 0h0m1 2h0m0 0h0m1-5h0m3-4h0m6-1h0m1 8h0m1 1h0m1-5h0m5 1h0m0-6h0m2 10h0m2 0h0m3-9h0m6 10h0m1-8h0m2-1h0m1 3h0m5-5h0m0 3h0m-7 13h0m-1 3h0m-2-1h0m-1 1h0m-2 1h0m-5-6h0m0 0h0m-2 5h0m-2-7h0m-1 11h0m-2-7h0m-1 6h0m-1-2h0m-4 2h0m-2-7h0m-1-2h0m-2 2h0m0 2h0m-2-1h0m0 2h0m-1-3h0m-3 8h0m-1-10h0m0 3h0m0-3h0m-1 10h0m-2-4h0m-1-1h0m-3 1h0m-4 2h0m0 2h0m-5-5h0m0-4h0m-1 7h0m-1-1h0m-2 0h0m0 2h0m-4-4h0m-1 5h0m-1-6h0m-6 2h0m-3 7h0m0 5h0m0-5h0m1 6h0m1-7h0m2 0h0m5 7h0m0-6h0m1 8h0m1-3h0m0 1h0m0-1h0m0-7h0m1 7h0m1 4h0m1 0h0m0-7h0m0 6h0m1-8h0m2 5h0m0-4h0m1 3h0m7 4h0m2 1h0m2 0h0m1-4h0m3-7h0m0 7h0m2-3h0m0 4h0m2-5h0m3 0h0m0 5h0m1-5h0m1 5h0m2 3h0m0-7h0m3 4h0m2-8h0m1 2h0m2 1h0m1-2h0m1 9h0m0-6h0m3-1h0m2 5h0m0-2h0m2-6h0m0 1h0m1 8h0m0-7h0m7-1h0m0 0h0m0 0h0m-15 13h0m0 7h0m0-7h0m-1 6h0m0-1h0m-2-1h0m0 2h0m-10-8h0m-3 9h0m0 0h0m-1 1h0m-1-1h0m-1-7h0m0 7h0m-1-4h0m-1 1h0m-1 2h0m-1-6h0m-1 2h0m-5 7h0m-3-5h0m-1-4h0m-2 1h0m-1 0h0m0 4h0m-1-1h0m-2 5h0m-1-1h0m-3-1h0m-2-7h0m0 8h0m-1-7h0m0-2h0m-1 1h0m-1-1h0m0-1h0m-1 0h0m5 14h0m0 0h0m10-1h0m3 5h0m9-1h0m3-1h0m1-4h0m1 2h0m3-2h0m10 0h0m1 1h0m4-1h0" stroke="#cf7f2c" stroke-width="3.80" stroke-linecap="round" fill="none" />
<path transform="scale(0.5)" d="M291 157h0m-13 8h0m-103 12h0m12-2h0m71-1h0m14-1h0m19-1h0m47 13h0m-39 4h0m-12-8h0m-16 1h0m-22 1h0m-71-2h0m-8 12h0m23 10h0m81-8h0m11 1h0m38 0h0m4 3h0m3 2h0m8-4h0m-29 14h0m-81 10h0m8 3h0m69 12h0m-10-4h0m-8 8h0m2 3h0m30 0h0m-7 11h0m-7 3h0m-46-4h0m3 19h0m1-6h0m9 6h0m-35 14h0m-7 8h0m3 17h0m-5 0h0m65 10h0" stroke="#cf7f2c" stroke-width="3.00" stroke-linecap="round" fill="none" />
<path transform="scale(0.5)" d="M160 126h0m-23 14h0m-40 1h0m4 8h0m38 40h0m-10 0h0m-2-2h0m-29 11h0m35 0h0m5-3h0m18 1h0m-38 29h0m22-7h0m16 7h0m27 11h0m-79-2h0m63 11h0m36 11h0m-77 7h0m17 9h0m6 1h0m29-2h0m20-4h0m-4 13h0m-25 4h0m-14-2h0m16 17h0m20-7h0m12-1h0m-12 10h0m-4 1h0m-49 17h0m10-4h0m49-1h0m3 11h0m-7 2h0m-2 8h0m-26-3h0m-18 8h0m43-4h0" stroke="#a9c3e8" stroke-width="3.00" stroke-linecap="round" fill="none" />
<path d="M79.7 78.7C81.1 76.0 84.4 72.1 86.7 71.7C89.0 71.3 91.4 74.1 93.7 76.4C96.0 78.7 98.4 83.8 100.7 85.7C103.0 87.7 104.6 88.5 107.7 88.1C110.8 87.7 115.5 85.0 119.4 83.4C123.3 81.8 127.6 80.9 131.1 78.7C134.6 76.5 137.7 72.2 140.4 70.5C143.1 68.8 144.8 68.0 147.5 68.2C150.2 68.4 154.5 69.6 156.8 71.7C159.1 73.8 159.2 77.6 161.5 81.1C163.8 84.6 168.5 89.6 170.8 92.7C173.1 95.8 175.1 97.0 175.5 99.7C175.9 102.4 174.7 106.0 173.1 109.1C171.5 112.2 168.0 114.9 166.1 118.4C164.2 121.9 163.4 126.6 161.5 130.1C159.6 133.6 156.8 137.6 154.5 139.5C152.2 141.4 148.9 139.9 147.5 141.8C146.1 143.7 145.1 148.0 146.3 151.1C147.5 154.2 153.5 158.2 154.5 160.5C155.5 162.8 154.8 164.0 152.1 165.2C149.4 166.4 142.8 167.5 138.1 167.5C133.4 167.5 128.0 166.4 124.1 165.2C120.2 164.0 117.0 162.8 114.7 160.5C112.4 158.2 111.3 155.0 110.1 151.1C108.9 147.2 108.7 141.8 107.7 137.1C106.7 132.4 104.6 126.4 104.2 123.1C103.8 119.8 106.4 118.8 105.4 117.3C104.4 115.8 101.1 114.8 98.4 113.8C95.7 112.8 91.8 113.4 89.1 111.4C86.4 109.5 83.8 106.0 82.0 102.1C80.2 98.2 78.9 92.0 78.5 88.1C78.1 84.2 78.3 81.4 79.7 78.7Z" fill="none" stroke="#111" stroke-width="1.3" stroke-dasharray="3 1.8"/>
<path d="M44.7 71.7C45.9 68.2 48.6 62.5 51.7 60.0C54.8 57.5 59.5 56.7 63.4 56.5C67.3 56.3 71.7 57.5 75.0 58.9C78.3 60.3 81.6 62.6 83.2 64.7C84.8 66.8 85.0 69.4 84.4 71.7C83.8 74.0 80.7 76.0 79.7 78.7C78.7 81.4 78.1 84.2 78.5 88.1C78.9 92.0 80.2 98.2 82.0 102.1C83.8 106.0 86.4 109.5 89.1 111.4C91.8 113.4 95.9 112.6 98.4 113.8C100.9 115.0 103.8 116.5 104.2 118.4C104.6 120.3 100.5 123.1 100.7 125.4C100.9 127.8 104.8 129.0 105.4 132.5C106.0 136.0 104.6 141.8 104.2 146.5C103.8 151.2 104.4 156.6 103.1 160.5C101.8 164.4 99.2 167.5 96.1 169.8C93.0 172.1 88.3 174.1 84.4 174.5C80.5 174.9 75.4 174.1 72.7 172.2C70.0 170.2 68.4 166.7 68.0 162.8C67.6 158.9 70.4 152.7 70.4 148.8C70.4 144.9 70.0 143.0 68.0 139.5C66.0 136.0 61.4 131.3 58.7 127.8C56.0 124.3 53.7 122.3 51.7 118.4C49.8 114.5 47.4 108.7 47.0 104.4C46.6 100.1 49.7 96.6 49.3 92.7C48.9 88.8 45.5 84.6 44.7 81.1C43.9 77.6 43.5 75.2 44.7 71.7Z" fill="none" stroke="#111" stroke-width="1.3" stroke-dasharray="3 1.8"/>
<path d="M82.0 48.4C84.0 45.9 89.8 44.9 93.7 44.9C97.6 44.9 102.7 45.9 105.4 48.4C108.1 50.9 108.1 56.7 110.1 60.0C112.0 63.3 114.4 65.7 117.1 68.2C119.8 70.7 124.3 73.2 126.4 75.2C128.5 77.2 131.1 78.5 129.9 79.9C128.7 81.3 123.1 82.0 119.4 83.4C115.7 84.8 110.8 87.7 107.7 88.1C104.6 88.5 103.4 87.7 100.7 85.7C98.0 83.8 94.3 78.9 91.4 76.4C88.5 73.9 84.8 73.2 83.2 70.5C81.6 67.8 81.8 63.7 81.6 60.0C81.4 56.3 80.0 50.9 82.0 48.4Z" fill="none" stroke="#111" stroke-width="1.3" stroke-dasharray="3 1.8"/>
<path d="M117.1 35.5C119.8 34.4 125.3 33.8 128.8 34.8C132.3 35.8 135.4 38.8 138.1 41.4C140.8 44.0 143.7 47.6 145.1 50.7C146.5 53.8 146.7 57.1 146.3 60.0C145.9 62.9 144.6 66.2 142.8 68.2C141.1 70.2 138.1 70.5 135.8 71.7C133.5 72.9 130.8 74.6 128.8 75.2C126.9 75.8 126.0 76.6 124.1 75.2C122.1 73.8 119.0 69.5 117.1 67.0C115.1 64.5 113.6 62.7 112.4 60.0C111.2 57.3 110.1 53.8 110.1 50.7C110.1 47.6 111.2 43.9 112.4 41.4C113.6 38.9 114.4 36.6 117.1 35.5Z" fill="none" stroke="#111" stroke-width="1.3" stroke-dasharray="3 1.8"/>
<path d="M156.8 71.7C157.6 70.7 162.6 74.0 166.1 75.2C169.6 76.4 174.3 77.0 177.8 78.7C181.3 80.5 184.9 83.0 187.2 85.7C189.5 88.4 191.0 91.6 191.8 95.1C192.6 98.6 192.2 102.9 191.8 106.8C191.4 110.7 190.3 114.5 189.5 118.4C188.7 122.3 188.4 125.8 187.2 130.1C186.0 134.4 184.4 139.8 182.5 144.1C180.6 148.4 178.2 153.5 175.5 155.8C172.8 158.1 169.2 157.5 166.1 158.1C163.0 158.7 159.1 159.3 156.8 159.3C154.5 159.3 153.7 159.5 152.1 158.1C150.5 156.7 148.5 153.8 147.5 151.1C146.5 148.4 145.1 143.7 146.3 141.8C147.5 139.9 152.0 141.4 154.5 139.5C157.0 137.6 159.6 133.6 161.5 130.1C163.4 126.6 164.2 121.9 166.1 118.4C168.0 114.9 171.5 112.2 173.1 109.1C174.7 106.0 175.9 102.4 175.5 99.7C175.1 97.0 173.1 95.8 170.8 92.7C168.5 89.6 163.8 84.6 161.5 81.1C159.2 77.6 156.0 72.7 156.8 71.7Z" fill="none" stroke="#111" stroke-width="1.3" stroke-dasharray="3 1.8"/>
<line x1="40.5" y1="32.0" x2="40.5" y2="179.5" stroke="#000" stroke-width="1.3" />
<line x1="39.9" y1="179.0" x2="196.5" y2="179.0" stroke="#000" stroke-width="1.3" />
<line x1="37.5" y1="66.6" x2="40.5" y2="66.6" stroke="#222" stroke-width="1" />
<text x="36.0" y="66.6" text-anchor="end" dominant-baseline="central" fill="#333" style="font-size:9.2px" >10</text>
<line x1="37.5" y1="107.9" x2="40.5" y2="107.9" stroke="#222" stroke-width="1" />
<text x="36.0" y="107.9" text-anchor="end" dominant-baseline="central" fill="#333" style="font-size:9.2px" >0</text>
<line x1="37.5" y1="149.1" x2="40.5" y2="149.1" stroke="#222" stroke-width="1" />
<text x="36.0" y="149.1" text-anchor="end" dominant-baseline="central" fill="#333" style="font-size:9.2px" >−10</text>
<line x1="75.0" y1="179.0" x2="75.0" y2="182.0" stroke="#222" stroke-width="1" />
<text x="75.0" y="188.0" text-anchor="middle" dominant-baseline="central" fill="#333" style="font-size:9.2px" >−10</text>
<line x1="119.4" y1="179.0" x2="119.4" y2="182.0" stroke="#222" stroke-width="1" />
<text x="119.4" y="188.0" text-anchor="middle" dominant-baseline="central" fill="#333" style="font-size:9.2px" >0</text>
<line x1="163.8" y1="179.0" x2="163.8" y2="182.0" stroke="#222" stroke-width="1" />
<text x="163.8" y="188.0" text-anchor="middle" dominant-baseline="central" fill="#333" style="font-size:9.2px" >10</text>
<text x="123.0" y="199.0" text-anchor="middle" dominant-baseline="central" fill="#222" style="font-size:9.4px" >UMAP 1</text>
<text x="0" y="0" transform="translate(18.6 104.0) rotate(-90)" text-anchor="middle" dominant-baseline="central" fill="#222" style="font-size:9.4px" >UMAP 2</text>
<text x="125.0" y="31.5" dominant-baseline="central" fill="#222" style="font-size:9.2px" >VSMCs-1</text>
<text x="64.1" y="40.5" dominant-baseline="central" fill="#222" style="font-size:9.2px" >VSMCs-3</text>
<text x="114.7" y="115.0" dominant-baseline="central" fill="#222" style="font-size:9.2px" >VSMCs-2</text>
<text x="48.2" y="139.5" dominant-baseline="central" fill="#222" style="font-size:9.2px" >VSMCs-4</text>
<text x="151.7" y="148.8" dominant-baseline="central" fill="#222" style="font-size:9.2px" >VSMCs-5</text>
<g fill="#bfbfbf">
<ellipse cx="215.9" cy="9.8" rx="5" ry="3.8"/>
<ellipse cx="226.5" cy="16.4" rx="4" ry="3.5"/>
<ellipse cx="201.5" cy="27.5" rx="11.5" ry="13"/>
<ellipse cx="219.4" cy="23" rx="10" ry="9"/>
<ellipse cx="185.8" cy="34.5" rx="5.5" ry="5.2"/>
<ellipse cx="198.4" cy="41.5" rx="7.5" ry="4.5"/>
<ellipse cx="191.4" cy="48.2" rx="6.5" ry="4"/>
<ellipse cx="208.9" cy="55.5" rx="7.5" ry="7.5"/>
<ellipse cx="211" cy="35" rx="9" ry="9"/>
<ellipse cx="211" cy="47" rx="8" ry="6"/>
<ellipse cx="228" cy="30" rx="6" ry="6"/>
</g>
<path transform="scale(0.5)" d="M440 17h0m-1 4h0m-2-1h0m-2-8h0m0 6h0m-4-6h0m-4 8h0m-2-5h0m-1 3h0m-34 17h0m2-1h0m2-5h0m0 0h0m6-1h0m1 2h0m2-1h0m3 3h0m0 0h0m2-3h0m2 1h0m15 4h0m0-1h0m2 0h0m5-2h0m0 4h0m10-4h0m3 4h0m0-3h0m6-1h0m2-1h0m1 0h0m7 3h0m0-1h0m-2 9h0m0 1h0m-5-6h0m0 8h0m0 1h0m-1-4h0m0 5h0m-1-2h0m-1-4h0m-4 7h0m-8-1h0m-1-8h0m-2 5h0m-2-1h0m-1-1h0m-3-1h0m-1-1h0m-2 4h0m-1-7h0m-1 7h0m0-5h0m-5-1h0m-3 1h0m-3 7h0m-4-8h0m-2 9h0m-16-8h0m-4-1h0m-3 1h0m-1 3h0m-10 18h0m7-8h0m1 6h0m1-8h0m2 4h0m4 2h0m1-4h0m0 6h0m11-8h0m6 5h0m1 1h0m5-2h0m3 2h0m4 4h0m0-7h0m0 2h0m1-1h0m0 4h0m0 1h0m1-9h0m1 6h0m0-3h0m2 6h0m1-3h0m0-6h0m0 9h0m1-7h0m1 1h0m1-4h0m0 7h0m1 1h0m0 3h0m3-8h0m2 3h0m0 5h0m1-1h0m0-9h0m4 0h0m1 7h0m5-8h0m3 2h0m2 5h0m3 3h0m1-1h0m1-7h0m1 0h0m2 5h0m0-2h0m5 1h0m2 12h0m-5-1h0m-2-2h0m-1 4h0m-2-3h0m0-1h0m-3 5h0m0-5h0m-3 0h0m-1-2h0m-2 3h0m-2 0h0m-3-2h0m-2 2h0m-2 3h0m-6-6h0m-4 4h0m-1-4h0m-2 3h0m0-1h0m-3 7h0m-1-8h0m-1 8h0m-4-4h0m0 5h0m-1-7h0m-1-1h0m0-1h0m-1 0h0m0-1h0m-2-1h0m-1 2h0m-3-1h0m-1-1h0m-7 6h0m-3-2h0m0 4h0m-1 1h0m0-8h0m-2 2h0m-3 8h0m-3-11h0m-6 1h0m-1 9h0m-2-1h0m-5-5h0m-1-1h0m-1 2h0m-5 6h0m0-9h0m-1 2h0m0 4h0m4 9h0m1 3h0m1-7h0m7 2h0m7-1h0m4 0h0m0-1h0m1 5h0m0-2h0m1-3h0m2 3h0m0 1h0m3-4h0m0 8h0m0-5h0m1 6h0m0-6h0m1-3h0m2 1h0m1 6h0m1 1h0m1-3h0m0-5h0m1 0h0m2 5h0m0 3h0m4 0h0m0-3h0m2-6h0m1 8h0m0-1h0m2-1h0m2-2h0m0-1h0m2 7h0m3-2h0m1-3h0m0 4h0m0-7h0m0 9h0m0-10h0m0 2h0m2-3h0m1 4h0m1 3h0m0-1h0m7 3h0m6-7h0m-5 21h0m-1-6h0m-2 0h0m-5 0h0m-1 4h0m-3 1h0m-4 1h0m-1-10h0m-3 2h0m-3 6h0m-1-9h0m-1 3h0m-1-3h0m0 11h0m-3-5h0m-1-6h0m-8 11h0m-3-4h0m-1 0h0m-4-4h0m-2-3h0m-1 2h0m0 4h0m0 3h0m-2 1h0m-2-8h0m0 9h0m0-2h0m-1-9h0m-7 6h0m-2 7h0m3-1h0m4 8h0m5 0h0m5-2h0m6-4h0m10 7h0m1 2h0m3-3h0m2 3h0m1-8h0m0 2h0m3-3h0m2 6h0m2-8h0m2 1h0m1 10h0m0-10h0m0 5h0m4 1h0m0-7h0m1 11h0m0-5h0m3-4h0m1 9h0m1-7h0m4-2h0m3-1h0m-8 19h0m0-2h0m-2 4h0m-3-1h0m-2-4h0m-1 1h0m-2-1h0m-6-4h0m-3 5h0m0-4h0m-2 5h0m-8-5h0m9 14h0m6-1h0m0 2h0m2-4h0m6 0h0m0 0h0" stroke="#bfbfbf" stroke-width="2.40" stroke-linecap="round" fill="none" />
<defs><filter id="fb" x="-50%" y="-50%" width="200%" height="200%"><feGaussianBlur stdDeviation="2"/></filter></defs>
<g fill="#e0143c" filter="url(#fb)" opacity="0.9"><ellipse cx="236.9" cy="40.9" rx="10.5" ry="10.5"/><ellipse cx="223" cy="42.5" rx="14.5" ry="10"/></g>
<g fill="#df1a40"><ellipse cx="236.9" cy="40.9" rx="9" ry="9"/><ellipse cx="223" cy="42.5" rx="12.5" ry="8.2"/></g>
<path transform="scale(0.5)" d="M456 22h0m-17 6h0m12-4h0m5 7h0m6 0h0m0 8h0m-63 5h0m-2 2h0m-8-1h0m1 4h0m2 5h0m8-6h0m2 6h0m6-4h0m8 21h0m-4-11h0m-1 4h0m-4 3h0m-10 0h0m-1-4h0" stroke="#e04060" stroke-width="1.80" stroke-linecap="round" fill="none" />
<line x1="204.7" y1="55.5" x2="173.0" y2="68.0" stroke="#b04060" stroke-width="1.1" />
<path d="M170.6 69.2 L177.5 63.6 L176.6 68.6 Z" fill="#b04060"/>
<text x="206.0" y="52.5" dominant-baseline="central" fill="#111" style="font-size:9.2px" >SMC</text>
<circle cx="204.1" cy="80.6" r="2.50" fill="#8d6cbd" />
<text x="210.8" y="78.6" fill="#000" style="font-size:8.9px;font-weight:bold" >VSMC-1</text>
<text x="210.8" y="86.9" fill="#222" style="font-size:9.2px" >(Contractile−VSMC)</text>
<circle cx="204.1" cy="101.8" r="2.50" fill="#a9c3e8" />
<text x="210.8" y="99.8" fill="#000" style="font-size:8.9px;font-weight:bold" >VSMC-2</text>
<text x="210.8" y="108.1" fill="#222" style="font-size:9.2px" >(Mesenchymal−VSMC)</text>
<circle cx="204.1" cy="123.0" r="2.50" fill="#f5b07a" />
<text x="210.8" y="121.0" fill="#000" style="font-size:8.9px;font-weight:bold" >VSMC-3</text>
<text x="210.8" y="129.3" fill="#222" style="font-size:9.2px" >(Osteogenic−VSMC)</text>
<circle cx="204.1" cy="144.2" r="2.50" fill="#c6848f" />
<text x="210.8" y="142.2" fill="#000" style="font-size:8.9px;font-weight:bold" >VSMC-4</text>
<text x="210.8" y="150.5" fill="#222" style="font-size:9.2px" >(Mφ−VSMC)</text>
<circle cx="204.1" cy="165.4" r="2.50" fill="#cf7f2c" />
<text x="210.8" y="163.4" fill="#000" style="font-size:8.9px;font-weight:bold" >VSMC-5</text>
<text x="210.8" y="171.7" fill="#222" style="font-size:9.2px" >(Fibroblast−VSMC)</text>
<text x="299.2" y="12.8" fill="#000" style="font-size:18px;font-weight:bold" >B</text>
<defs><g id="bbase"><path d="M33.4 4.7C34.1 3.9 35.4 3.2 36.6 3.2C37.8 3.2 39.6 3.9 40.8 4.7C42.0 5.5 43.3 6.7 44.0 7.9C44.7 9.1 45.0 10.7 45.0 12.1C45.0 13.5 44.7 15.1 44.0 16.3C43.3 17.5 41.9 18.5 40.8 19.5C39.7 20.4 38.7 22.1 37.6 22.1C36.6 22.1 35.2 20.4 34.5 19.5C33.8 18.5 33.8 17.5 33.4 16.3C33.1 15.1 32.6 13.5 32.4 12.1C32.2 10.7 32.2 9.1 32.4 7.9C32.6 6.7 32.7 5.5 33.4 4.7Z" fill="#afcce0"/><path d="M18.7 10.0C19.5 9.4 21.5 8.8 22.9 8.4C24.3 8.1 25.9 7.8 27.1 7.9C28.4 8.0 29.4 8.2 30.3 8.9C31.2 9.6 31.9 10.9 32.4 12.1C32.9 13.3 33.1 15.1 33.4 16.3C33.8 17.5 34.7 18.4 34.5 19.5C34.3 20.5 33.1 21.6 32.4 22.6C31.7 23.7 30.6 24.0 30.3 25.8C29.9 27.5 30.6 31.2 30.3 33.1C29.9 35.1 29.1 36.5 28.2 37.3C27.3 38.2 25.7 39.6 25.0 38.4C24.3 37.2 24.3 32.2 24.0 30.0C23.6 27.7 23.4 26.5 22.9 24.7C22.5 23.0 22.0 21.0 21.3 19.5C20.6 17.9 19.2 16.5 18.7 15.2C18.2 14.0 18.2 13.0 18.2 12.1C18.2 11.2 17.9 10.6 18.7 10.0Z" fill="#afcce0"/><path d="M4.5 19.5C4.8 17.9 5.1 16.2 6.1 15.2C7.1 14.3 8.9 13.9 10.3 13.7C11.7 13.4 13.1 13.4 14.5 13.7C15.9 13.9 17.6 14.3 18.7 15.2C19.9 16.2 20.6 17.9 21.3 19.5C22.0 21.0 22.5 23.0 22.9 24.7C23.4 26.5 23.6 27.7 24.0 30.0C24.3 32.2 25.0 36.3 25.0 38.4C25.0 40.5 23.8 41.0 24.0 42.6C24.2 44.2 26.1 46.4 26.1 47.8C26.1 49.2 25.0 50.5 24.0 51.0C22.9 51.5 21.0 51.3 19.8 51.0C18.5 50.6 17.8 49.8 16.6 48.9C15.4 48.0 13.6 46.8 12.4 45.7C11.2 44.7 10.2 44.0 9.3 42.6C8.3 41.2 7.2 39.4 6.6 37.3C6.0 35.2 5.9 32.1 5.6 30.0C5.2 27.9 4.7 26.5 4.5 24.7C4.3 23.0 4.3 21.0 4.5 19.5Z" fill="#afcce0"/><path d="M15.6 51.0C16.4 49.9 18.4 50.5 19.8 50.5C21.2 50.5 22.7 50.6 24.0 51.0C25.3 51.3 26.9 51.5 27.7 52.6C28.4 53.6 28.6 55.6 28.7 57.3C28.8 59.0 28.8 61.0 28.2 62.6C27.6 64.1 26.4 65.8 25.0 66.8C23.6 67.7 21.3 68.2 19.8 68.3C18.2 68.5 16.4 68.6 15.6 67.8C14.7 67.0 14.6 65.4 14.5 63.6C14.4 61.9 14.9 59.4 15.0 57.3C15.2 55.2 14.8 52.1 15.6 51.0Z" fill="#afcce0"/><path d="M30.3 25.8C30.6 24.0 31.2 23.2 32.4 22.6C33.6 22.0 36.2 22.6 37.6 22.1C39.0 21.6 39.6 20.0 40.8 19.5C42.0 18.9 43.4 18.8 45.0 18.9C46.6 19.1 48.5 19.9 50.3 20.5C52.0 21.1 53.8 21.7 55.5 22.6C57.3 23.5 59.3 24.5 60.8 25.8C62.3 27.0 63.8 28.2 64.5 30.0C65.2 31.7 65.1 34.2 65.0 36.3C64.9 38.4 64.3 40.5 63.9 42.6C63.6 44.7 63.6 46.8 62.9 48.9C62.2 51.0 61.1 53.3 59.7 55.2C58.3 57.1 56.2 59.0 54.5 60.5C52.7 62.0 51.1 63.3 49.2 64.1C47.3 65.0 45.0 65.6 42.9 65.7C40.8 65.8 38.3 65.4 36.6 64.7C34.8 64.0 33.4 62.9 32.4 61.5C31.3 60.1 30.6 58.4 30.3 56.3C29.9 54.2 30.1 51.2 30.3 48.9C30.5 46.6 31.3 44.5 31.3 42.6C31.3 40.7 30.5 38.9 30.3 37.3C30.1 35.8 30.3 35.1 30.3 33.1C30.3 31.2 29.9 27.5 30.3 25.8Z" fill="#afcce0"/><path transform="scale(0.5)" d="M67 10h0m0-1h0m2 1h0m1-1h0m1-1h0m1 1h0m1 1h0m0-2h0m1 3h0m3 0h0m1-3h0m1 1h0m1 0h0m1 2h0m8 9h0m-1-3h0m-1-2h0m-1-1h0m0 4h0m-1-3h0m0 4h0m-1-5h0m0 7h0m0 2h0m-1-9h0m-1 2h0m0-1h0m0-2h0m-1 10h0m-1-7h0m-1-1h0m-1 0h0m0 2h0m0 2h0m0 2h0m-1-6h0m-1 6h0m0-6h0m-1 5h0m0-7h0m0 5h0m0-3h0m0-3h0m-1 4h0m0 1h0m-1 1h0m-1 3h0m0-8h0m0 7h0m-1-3h0m-1 5h0m-1-9h0m0 0h0m-2 6h0m0-1h0m-1 1h0m0 4h0m-1-3h0m0-6h0m0 9h0m-4-1h0m-1-4h0m0 1h0m-2-2h0m-1 2h0m-3 4h0m0-2h0m-2-2h0m0 2h0m-2-2h0m-3 4h0m0-1h0m-3 1h0m-1-5h0m0 4h0m0-3h0m-1 4h0m-1-4h0m-3 2h0m-26 11h0m3 3h0m0-3h0m1 0h0m1-3h0m0 5h0m1-1h0m1-1h0m0 2h0m1-4h0m1 3h0m2-1h0m0-4h0m1 7h0m1-2h0m3-2h0m1 0h0m1 1h0m0-2h0m0 4h0m2-3h0m1 4h0m0-6h0m2 5h0m2-5h0m1-3h0m1 6h0m1-2h0m0-2h0m0 6h0m0 1h0m1 0h0m1-10h0m0 9h0m1-4h0m0-2h0m0 2h0m0-4h0m1 1h0m0 6h0m1-4h0m1-5h0m0 0h0m1 10h0m0-2h0m0-2h0m1-2h0m0 6h0m1-3h0m0 2h0m0-9h0m0 4h0m1 0h0m1 1h0m0 1h0m1 2h0m0 0h0m1-1h0m1 0h0m1-4h0m0 5h0m1-6h0m1 0h0m0 0h0m0-1h0m0 7h0m0 3h0m0-9h0m1 5h0m0-1h0m0 2h0m1-3h0m0 5h0m0 1h0m0-3h0m1-1h0m0 1h0m0-8h0m1 5h0m0 4h0m0-8h0m0 9h0m1-7h0m1 5h0m0-6h0m1-1h0m0 6h0m1-7h0m0 1h0m0 3h0m0 3h0m1-5h0m0-1h0m1-1h0m0 11h0m0-2h0m1-9h0m1 8h0m0 1h0m0-1h0m1-3h0m0 0h0m1 4h0m0 0h0m1-3h0m1-5h0m0 8h0m0-2h0m1-2h0m0 4h0m1-8h0m0 5h0m1-3h0m0 1h0m0 2h0m1-5h0m0 2h0m0 6h0m1 1h0m0-6h0m1 6h0m0 1h0m0-5h0m1-4h0m0-2h0m1 0h0m0 11h0m1-3h0m0 0h0m0-1h0m2 4h0m0-10h0m0-1h0m0 0h0m0 11h0m1-9h0m0 8h0m0-5h0m2 1h0m0-5h0m0 4h0m2-5h0m24 23h0m-4 0h0m-4 0h0m0-2h0m-4-3h0m0 2h0m-4-3h0m-1-1h0m-1 2h0m0 3h0m-1 2h0m0-6h0m0 1h0m-1 4h0m0 1h0m0-8h0m-1 3h0m-1 5h0m0-6h0m-2-3h0m0 7h0m0-7h0m-2 8h0m-2-6h0m0 6h0m-1-4h0m0 2h0m0 0h0m0-2h0m-1-2h0m-1-1h0m-1 0h0m0 3h0m-3 3h0m-1-1h0m0-1h0m-1-3h0m-1 4h0m0-1h0m0 4h0m-1-6h0m0 3h0m-3-6h0m-1-2h0m-1 1h0m0 2h0m-1 1h0m0-1h0m-1-2h0m-1 8h0m-1-7h0m0-2h0m0 10h0m-1 0h0m0-1h0m0-6h0m-1-1h0m0 6h0m0-4h0m-1 2h0m0-3h0m-1 3h0m-1 4h0m0-5h0m0-1h0m-1 1h0m0 4h0m0 2h0m0-5h0m-1 1h0m-1 2h0m0-2h0m-1-3h0m-1-2h0m0 0h0m-1 6h0m-1 0h0m-1-3h0m0-2h0m-1 7h0m0 1h0m-1-8h0m-1-2h0m-1 0h0m0 9h0m0-7h0m-1-3h0m-1 0h0m0 7h0m-2-1h0m-1-3h0m-1-2h0m0 0h0m0 8h0m0-6h0m-2 8h0m0-8h0m0 1h0m-1-2h0m0 4h0m-1-6h0m0 6h0m0 5h0m-1-9h0m0 9h0m0-11h0m-1 6h0m0 3h0m-1-1h0m-1-2h0m0-6h0m-1 2h0m-2 1h0m-1 8h0m-1-6h0m0-4h0m0-1h0m-1 5h0m0-5h0m-1 11h0m-1-10h0m-1 7h0m0-6h0m-1 2h0m-2 3h0m-1-3h0m0 4h0m-1-4h0m-2-1h0m0 2h0m-2 0h0m-1 2h0m0 3h0m0-10h0m-1 7h0m0-4h0m0 1h0m0 1h0m-1 0h0m0-4h0m0 1h0m-1 5h0m0 3h0m0-8h0m0 2h0m0 7h0m-1-7h0m-1 6h0m0-9h0m0 10h0m0-4h0m1 8h0m1 1h0m1 4h0m0-2h0m0-2h0m0 0h0m0 3h0m1-3h0m0 6h0m1-5h0m1-3h0m0 7h0m0-5h0m1 3h0m0 3h0m0-7h0m1 1h0m0 4h0m1-4h0m0 5h0m1-3h0m0-4h0m0 5h0m1-3h0m0 1h0m1 3h0m2 1h0m1-9h0m0 0h0m3 1h0m0 5h0m1-5h0m1 3h0m1 7h0m0-7h0m1-2h0m1-1h0m0 6h0m1 3h0m0-2h0m0-6h0m0 5h0m0 1h0m2 2h0m0 0h0m1-7h0m0 2h0m0 6h0m1-11h0m2 5h0m0 6h0m1-2h0m0-8h0m0 6h0m1 4h0m1-6h0m0-2h0m1 2h0m0-3h0m1 8h0m0-5h0m0 6h0m1-4h0m0-1h0m1 1h0m0 4h0m1-11h0m0 5h0m0-4h0m0 8h0m1-3h0m0 2h0m0 0h0m1 2h0m0-7h0m0 4h0m0 3h0m0-2h0m0 1h0m0-2h0m1 3h0m1-2h0m1 3h0m0-3h0m0-6h0m1 8h0m0-6h0m1-2h0m1 8h0m0-7h0m0 1h0m1 3h0m0-1h0m0 0h0m0-6h0m1 3h0m0 5h0m2-8h0m0 4h0m0-4h0m0 0h0m0 9h0m0-7h0m1 9h0m1-4h0m1 3h0m1 0h0m1-7h0m1 4h0m2-3h0m0-1h0m1-3h0m0 7h0m1-6h0m3 7h0m0 0h0m1-7h0m0 5h0m1-4h0m0 7h0m1 2h0m0-11h0m1 9h0m0-5h0m0 1h0m0 5h0m1 1h0m1-11h0m0 9h0m0-7h0m1-1h0m1 0h0m0 1h0m0 0h0m2 6h0m0-3h0m1-1h0m1 5h0m1-1h0m1-1h0m0-1h0m0 2h0m2-6h0m1 1h0m0 4h0m1 1h0m0 2h0m0 1h0m1-1h0m0-9h0m2 0h0m2 1h0m2-1h0m0 2h0m1 5h0m2-6h0m1 9h0m3 0h0m1-11h0m0 2h0m1-2h0m0 7h0m2-6h0m1 7h0m0-3h0m0-1h0m3-1h0m1 7h0m1-4h0m3 5h0m1-8h0m2 8h0m2-1h0m3 1h0m3 9h0m-1-7h0m0 6h0m-1-6h0m-1-1h0m-1 8h0m0-8h0m-1 3h0m-1 1h0m0 2h0m-1 2h0m-1 2h0m0-6h0m0-3h0m-1 4h0m0-2h0m-2 4h0m0-6h0m-1 1h0m0-2h0m0 11h0m-1-7h0m-1 5h0m0-2h0m0 3h0m-1-4h0m0-3h0m-1-2h0m-1 8h0m0-7h0m-1 8h0m0-7h0m-1 6h0m0-7h0m0 2h0m-1-2h0m0-2h0m-1 9h0m0-7h0m-2 7h0m-1-6h0m0 6h0m-1-4h0m0 3h0m-1-4h0m-1-3h0m-1 2h0m-1 6h0m-1-6h0m0 5h0m-1-5h0m-1 3h0m0-1h0m-1 5h0m0 0h0m-1-3h0m-1 2h0m-5-5h0m0 6h0m-1-7h0m0-3h0m-1 7h0m-1 1h0m0-6h0m0 0h0m-1-1h0m0 1h0m0 7h0m0-6h0m-1 1h0m-1 0h0m0 0h0m-1-1h0m0-2h0m0 0h0m-1 2h0m-1 6h0m0-1h0m0-4h0m-1-1h0m0 2h0m0-1h0m-1 1h0m0 2h0m-2 3h0m0-3h0m-1 4h0m-1-11h0m-1 5h0m0 0h0m-1 0h0m0-3h0m-3 3h0m0-1h0m0-3h0m0-1h0m-2 8h0m0-1h0m0-2h0m-2-2h0m-2 8h0m-1-4h0m0 0h0m0 3h0m0-5h0m0 2h0m-2-7h0m0 5h0m-1-2h0m0 4h0m0 0h0m0-4h0m-1 8h0m-1-4h0m0-1h0m-1-4h0m0 5h0m0-6h0m0 0h0m0 9h0m-1-5h0m0 1h0m-1 5h0m0-9h0m0 2h0m-1 0h0m-1 7h0m0-8h0m0 8h0m-1-9h0m0 7h0m0-8h0m-1 1h0m-1 3h0m0-5h0m0 4h0m0 2h0m-2 0h0m-1 1h0m0 3h0m0-7h0m-1 7h0m0-9h0m0 6h0m-1 2h0m0-6h0m-1 6h0m0-8h0m0 0h0m0 0h0m0 4h0m0-4h0m-3 6h0m0-6h0m0-1h0m-1 2h0m-1-1h0m-1 1h0m0 5h0m-2 3h0m0-9h0m0-1h0m0 2h0m0 3h0m0-1h0m-2-3h0m0-1h0m0 7h0m0-6h0m-1 1h0m-1-2h0m0 1h0m-3 8h0m0 2h0m-2-11h0m0 9h0m-1-8h0m0 4h0m-1 3h0m0-8h0m0 3h0m-2 0h0m0-3h0m0 1h0m0 7h0m0-4h0m-1 4h0m-1-4h0m0 5h0m-2-9h0m-1 7h0m-1 0h0m-2-6h0m-1 6h0m0-3h0m-1-3h0m2 11h0m1 5h0m2 3h0m0-7h0m0 5h0m0-4h0m1 8h0m0-1h0m0-2h0m2-2h0m1 3h0m0-1h0m1-4h0m1 5h0m1-6h0m0-2h0m1 6h0m0-6h0m0 10h0m0-10h0m0 10h0m1-8h0m1 2h0m1 3h0m0 3h0m0-2h0m1-2h0m1-2h0m0-3h0m0 0h0m2 2h0m0 1h0m0-3h0m0 2h0m0 8h0m0-7h0m0 0h0m0-4h0m2 2h0m2 0h0m1 2h0m1 4h0m0 1h0m1-6h0m1-3h0m1 7h0m2-7h0m1 9h0m1-2h0m1 2h0m0 1h0m1-8h0m0-2h0m1 5h0m3-3h0m6-2h0m4 3h0m1 5h0m1-2h0m1-2h0m4 5h0m0-5h0m0 4h0m1 1h0m0-7h0m1 3h0m0 3h0m1-1h0m1 1h0m2-4h0m0-3h0m0 10h0m0-2h0m1-6h0m0-1h0m1 5h0m0 0h0m0-1h0m2-4h0m1 4h0m0-6h0m1 1h0m0 9h0m1 0h0m0-5h0m0-2h0m1 1h0m1 3h0m1 0h0m0-6h0m0 4h0m1 0h0m0-2h0m0 0h0m1 7h0m0 1h0m1-11h0m0 6h0m1-4h0m0-1h0m0 7h0m0 0h0m1-8h0m0 0h0m1 5h0m1 1h0m2 3h0m1-8h0m0 9h0m1-2h0m1-5h0m1 3h0m2 3h0m0-7h0m1 6h0m1-1h0m1 1h0m1-1h0m0-5h0m0 0h0m0 6h0m6-5h0m1 7h0m1-4h0m0 3h0m0-2h0m1-4h0m1 6h0m0-2h0m0-5h0m0 2h0m0 6h0m1-8h0m1 5h0m0 2h0m0-5h0m0 7h0m0-10h0m1 7h0m0-6h0m4-2h0m0 2h0m0 9h0m1-2h0m0 2h0m1-7h0m0 6h0m1 1h0m0-6h0m0-2h0m1 4h0m0-6h0m0 2h0m3 4h0m0-1h0m1-3h0m0 0h0m1-2h0m0-1h0m-2 16h0m-1 0h0m0-4h0m-2 10h0m-1 1h0m-2-2h0m0-2h0m-1 1h0m0-6h0m0 8h0m-2-6h0m0 0h0m-1-2h0m-1 0h0m-1 7h0m0-2h0m-2-3h0m-2 2h0m0-6h0m0 2h0m-2 5h0m0 3h0m-1-9h0m0 3h0m-1 2h0m0 0h0m-3 4h0m0-1h0m0 0h0m0-4h0m-1 1h0m0-5h0m-1 2h0m-1 6h0m-1-1h0m-1 3h0m0-10h0m0 4h0m0-4h0m-1-1h0m-1 10h0m0-3h0m0-4h0m-1-1h0m-2 6h0m-1-2h0m0-2h0m0-1h0m-1-1h0m-1 2h0m0 1h0m0-4h0m-1 10h0m0-2h0m-1-2h0m0-6h0m0 5h0m-1-4h0m-2 8h0m-1-9h0m0 3h0m-2-4h0m0 4h0m-2 6h0m-1-6h0m0-1h0m0 4h0m-2-7h0m-1 9h0m-1-9h0m0 6h0m-1 3h0m-1-3h0m-1-1h0m-1-2h0m-1 1h0m0 1h0m-1 5h0m-1-2h0m0-3h0m-1 3h0m-1-7h0m-2 9h0m-3-2h0m-12-1h0m-2-3h0m0-2h0m-1 2h0m0-1h0m0-3h0m0 9h0m-3 2h0m0-5h0m-1 1h0m0 4h0m0-6h0m-1 2h0m0 2h0m0-3h0m-1-4h0m-1 1h0m-1 8h0m0-8h0m-2 1h0m0-4h0m-1 7h0m-1-6h0m0 4h0m-1-1h0m0 4h0m-1-1h0m0 0h0m0 1h0m-1-3h0m0-1h0m-1-2h0m0 5h0m-1-3h0m0 1h0m0 0h0m0 5h0m-1-8h0m0 0h0m0 5h0m0-1h0m0-6h0m-2 5h0m0 1h0m-3-2h0m-5-4h0m12 21h0m1-1h0m1 0h0m0-1h0m1-7h0m0 2h0m1 6h0m1-8h0m1 2h0m0 2h0m1-2h0m0-2h0m1 0h0m0 10h0m1-4h0m0 4h0m0-2h0m1-2h0m1-6h0m0 2h0m0 1h0m0 3h0m0 1h0m3-7h0m0 6h0m0 0h0m1-3h0m1 3h0m0 2h0m2-5h0m0 1h0m0-4h0m1 2h0m0 0h0m1 7h0m1 1h0m0 0h0m2 0h0m7-4h0m0 1h0m0-3h0m1-3h0m0 7h0m1 3h0m0-7h0m0 0h0m0-2h0m1-1h0m0 9h0m1-8h0m0 3h0m2-2h0m0 4h0m0-6h0m0 10h0m1-11h0m0 1h0m0 7h0m1 1h0m0-7h0m0 3h0m0-3h0m1 4h0m0-1h0m1 0h0m0-4h0m2 4h0m1 2h0m1 4h0m0 0h0m0-4h0m3 0h0m0 1h0m1 1h0m1-8h0m1 0h0m0 3h0m1 1h0m0 2h0m0 2h0m1-9h0m0 8h0m1 3h0m0-9h0m1 7h0m1-8h0m0 2h0m0-1h0m0 9h0m1-9h0m0 7h0m1-3h0m2-2h0m0-2h0m0 8h0m1-5h0m0-5h0m3 10h0m0-5h0m1 4h0m0-4h0m0-3h0m1 2h0m0 6h0m1-3h0m1-4h0m3-2h0m0-1h0m1 7h0m0 0h0m3-2h0m0 3h0m2 1h0m1-9h0m0 7h0m0-5h0m0 0h0m0 8h0m2-3h0m0 3h0m1-6h0m0 4h0m4-2h0m0 2h0m1 0h0m1-6h0m2 4h0m0 0h0m0-6h0m1 1h0m0 0h0m0 6h0m0-6h0m0-1h0m1 1h0m1 6h0m1-2h0m1-3h0m0-2h0m-8 16h0m-2 0h0m0-2h0m-2-2h0m0 8h0m-1-7h0m0 1h0m-1 3h0m-2-1h0m0-3h0m-1 4h0m0 3h0m0-2h0m-2-4h0m-1 4h0m-1-6h0m-1 3h0m-1-3h0m0 6h0m-1-1h0m-1 5h0m0-5h0m0-1h0m-2-3h0m0 3h0m-1-4h0m0 8h0m-1 1h0m-1-7h0m0 6h0m0-7h0m-1 1h0m-1 7h0m0-5h0m0 5h0m0 1h0m-1-5h0m-2 6h0m0 0h0m-1-1h0m-1-2h0m0 0h0m-1-1h0m0-2h0m-1-4h0m-2 9h0m-3-5h0m-1 5h0m0-7h0m0 8h0m0-2h0m0-7h0m-1 8h0m-2 1h0m0-2h0m-1-5h0m0 7h0m0-8h0m0 2h0m-2-5h0m-1 5h0m-1-1h0m0 4h0m0 0h0m-1-2h0m0 5h0m-3-4h0m0 1h0m-1-6h0m0 5h0m-1-1h0m-3-3h0m0 2h0m-5 3h0m0 2h0m0-6h0m0 0h0m-1-1h0m0 0h0m-2 4h0m-1-3h0m-2 7h0m0-10h0m-1 5h0m0 3h0m-1-5h0m0-3h0m0 8h0m-1-2h0m0 0h0m-1-3h0m0 6h0m-1-2h0m-1-5h0m0 8h0m-1-3h0m0 3h0m-1-7h0m0 7h0m0-9h0m-1 1h0m-1 6h0m0-9h0m-1 8h0m-1-7h0m0 5h0m0-3h0m0-1h0m-1 3h0m0-2h0m-1 0h0m-2 8h0m-1 0h0m0-8h0m-1 8h0m0-11h0m-1 11h0m0-10h0m0-1h0m-1 10h0m-1 1h0m0 3h0m0 4h0m0-3h0m0 6h0m2-8h0m0 2h0m1-3h0m2 2h0m0 3h0m1 5h0m0 0h0m1-3h0m2 3h0m1 1h0m0-6h0m0-2h0m2 7h0m0-1h0m0-2h0m1 3h0m0-1h0m0-6h0m0-3h0m1 5h0m0 1h0m1 4h0m0-3h0m0-2h0m0-2h0m1 4h0m0-4h0m0 5h0m1 3h0m0-9h0m1 2h0m2-4h0m1 2h0m0 4h0m0 0h0m1 3h0m0-9h0m0 9h0m2-8h0m1 0h0m0-1h0m0 1h0m0 5h0m11-3h0m0-1h0m1-2h0m1 5h0m2 0h0m0 2h0m3 2h0m0-4h0m3-4h0m0 5h0m0 3h0m1-2h0m0-7h0m1 3h0m1 4h0m2 3h0m2 1h0m0-8h0m1-2h0m1 9h0m1-9h0m0-1h0m0 9h0m1-5h0m0 3h0m1 1h0m1 0h0m1 0h0m0-1h0m1-3h0m0-4h0m2 4h0m0 6h0m0-7h0m1 1h0m4-4h0m0 4h0m1-2h0m0 1h0m0 0h0m2-3h0m1 1h0m4 2h0m1-2h0m-57 12h0m-1 0h0m-1 1h0m-5 0h0m-2-1h0m0 1h0m-4 0h0m-4-2h0" stroke="#8db6d2" stroke-width="3.20" stroke-linecap="round" fill="none" /><path transform="scale(0.5)" d="M85 18h0m0 1h0m-2-5h0m-2 6h0m0 0h0m-2 2h0m-2-9h0m-3 2h0m-1-3h0m-1 0h0m0 1h0m0 0h0m-5 0h0m-13 5h0m-2 4h0m-2 1h0m-3-2h0m-1 0h0m-6 2h0m-3 0h0m-20 7h0m6-1h0m0 0h0m2 4h0m3 2h0m1-3h0m1 1h0m4-2h0m4-4h0m6 2h0m4 5h0m4-4h0m1-2h0m10-3h0m1 4h0m0-4h0m1 8h0m2-4h0m3 2h0m7-6h0m1 9h0m2 1h0m0-7h0m0 1h0m3-1h0m5 2h0m18 16h0m-1-2h0m0 1h0m-10-6h0m-2 4h0m-4-3h0m-5 2h0m-9-4h0m-2-2h0m-2 10h0m-9-8h0m-1 2h0m-1 3h0m0 0h0m-1-1h0m0 1h0m-1-6h0m-4 7h0m-6 0h0m-1-8h0m-1 0h0m-13 5h0m-2 6h0m-3-9h0m-8-2h0m-4 10h0m0-2h0m-2-4h0m-2 6h0m0-8h0m-1 10h0m1 5h0m1-4h0m2 1h0m2 1h0m3-3h0m5 0h0m3 2h0m6 4h0m6-5h0m8 3h0m1-1h0m5-3h0m3 11h0m1-5h0m2-1h0m0-3h0m7 6h0m1-6h0m6 4h0m4 2h0m2 1h0m2-9h0m1 6h0m1-4h0m1-2h0m2 0h0m2 0h0m1 5h0m15 6h0m7-6h0m2 4h0m0-8h0m1 1h0m8 10h0m-1 6h0m-1-2h0m-13-3h0m-2 3h0m-5 2h0m-5-3h0m-3 5h0m-4-5h0m-6 0h0m-2 2h0m-6-5h0m-6 2h0m-1 8h0m-4-5h0m-1 1h0m-6 3h0m-2-5h0m-2 1h0m-3-5h0m0 10h0m0-3h0m-2 4h0m-1-8h0m-4-3h0m-1 8h0m-8-6h0m-5 3h0m-1 4h0m-8-6h0m0 8h0m-1-2h0m-4-9h0m0 11h0m-1 4h0m1 0h0m5-2h0m1 5h0m0 0h0m6-4h0m1 9h0m1-7h0m2 7h0m6-1h0m5-7h0m0 4h0m1 3h0m1-7h0m1 7h0m16-9h0m3 1h0m0 5h0m1 0h0m3 1h0m4 2h0m7-6h0m4 3h0m1-4h0m0 3h0m2 3h0m6 1h0m8-7h0m4 8h0m5-5h0m1-6h0m13 10h0m1 4h0m-7 5h0m-5 2h0m0-1h0m-1 1h0m-6-9h0m-6 1h0m0 1h0m-6 0h0m-2 5h0m-1-3h0m-2 3h0m-2-5h0m-8 5h0m-2-7h0m-1 3h0m0 1h0m-4 0h0m-9 4h0m-14-5h0m-6 1h0m-7 6h0m-3-6h0m-2 5h0m-5-5h0m-1-4h0m-3 0h0m14 13h0m4 0h0m0 4h0m0 6h0m3-3h0m2-3h0m1 5h0m2-3h0m15-2h0m1 4h0m3-5h0m1-1h0m4-1h0m2 1h0m1 0h0m1 6h0m3-7h0m2 2h0m4 4h0m1-8h0m4 7h0m1-5h0m12-1h0m1 8h0m0-3h0m13-1h0m4 0h0m0-2h0m0-3h0m-3 12h0m-2 5h0m-1-2h0m-6-1h0m-5-2h0m0 10h0m-1 0h0m0 0h0m-3-8h0m-5 8h0m-2-3h0m-1 4h0m-5-10h0m-11 8h0m-1-3h0m-7-5h0m-4 8h0m0-4h0m-10 5h0m-1-5h0m-2-4h0m-6-1h0m-2 7h0m-1-4h0m-2 1h0m-4-3h0m-2 4h0m-1 6h0m-2 6h0m2 4h0m1-7h0m5 1h0m9 6h0m4-2h0m20-4h0m1-1h0m12 5h0m1-4h0m3 2h0m4-4h0m1 7h0m4-1h0m-47 6h0m-10 0h0m-6 0h0m-2 3h0" stroke="#ffffff" stroke-width="2.20" stroke-linecap="round" fill="none" /></g></defs>
<rect x="315.5" y="25.5" width="69.0" height="71.5" fill="#fff" stroke="#333" stroke-width="1.0" />
<use href="#bbase" transform="translate(315.5 26.1)"/>
<g transform="translate(315.5 26.1)">
<path d="M33.4 4.7C34.1 3.9 35.4 3.2 36.6 3.2C37.8 3.2 39.6 3.9 40.8 4.7C42.0 5.5 43.3 6.7 44.0 7.9C44.7 9.1 45.0 10.7 45.0 12.1C45.0 13.5 44.7 15.1 44.0 16.3C43.3 17.5 41.9 18.5 40.8 19.5C39.7 20.4 38.7 22.1 37.6 22.1C36.6 22.1 35.2 20.4 34.5 19.5C33.8 18.5 33.8 17.5 33.4 16.3C33.1 15.1 32.6 13.5 32.4 12.1C32.2 10.7 32.2 9.1 32.4 7.9C32.6 6.7 32.7 5.5 33.4 4.7Z" fill="#d8404e" fill-opacity="0.41"/>
<path transform="scale(0.5)" d="M70 10h0m1-2h0m0 1h0m1-1h0m3 2h0m0 1h0m4 0h0m10 12h0m-1-1h0m0-2h0m-1-5h0m-3-3h0m-1 6h0m-2-5h0m-1 6h0m-1-5h0m-2 8h0m0-10h0m-2 1h0m-3 0h0m-1 4h0m-1-5h0m-1 11h0m0-10h0m-2 13h0m3 6h0m1-1h0m0-2h0m2-2h0m0-3h0m2 4h0m1 0h0m2 1h0m1-5h0m5 0h0m1 2h0m2 2h0m-6 11h0m-1 0h0m-2-1h0m0 0h0m-1 4h0m-2-3h0m-1 1h0m-3-1h0m-52-1h0m18 20h0m70 8h0m-56 5h0m-37 1h0m89 0h0m-18 14h0" stroke="#cf8090" stroke-width="3.00" stroke-linecap="round" fill="none" />
<path transform="scale(0.5)" d="M68 11h0m0-1h0m4-3h0m6 2h0m1 2h0m1-1h0m1-1h0m8 11h0m-3 0h0m-2-8h0m-2 7h0m0 2h0m-2-8h0m-2-1h0m0 10h0m0-5h0m-1 6h0m-1-11h0m-1 7h0m0 3h0m-2-5h0m0 6h0m-1-6h0m-1-5h0m-1 7h0m-1-2h0m0 2h0m-1 1h0m0-4h0m0-1h0m-1 4h0m-1-4h0m0 6h0m0-4h0m-26 3h0m26 6h0m1 4h0m0 1h0m1-4h0m1-3h0m0 3h0m0 8h0m0-10h0m1 5h0m0-6h0m3 9h0m1-5h0m0 0h0m0 1h0m1 0h0m0-3h0m1 2h0m0 7h0m1-6h0m0-1h0m0 2h0m1 5h0m0-7h0m2 2h0m0-1h0m0-4h0m1 7h0m0-8h0m1 5h0m1 2h0m2-7h0m2 9h0m1-6h0m1 2h0m-8 8h0m0-1h0m-5 1h0m-1 2h0m0 1h0m-3 0h0m0-1h0m-1-1h0m0-1h0m-9 6h0m-3-3h0m-8 5h0m-21-4h0m22 16h0m39-1h0m11 13h0m-43-2h0m-41 13h0m2-4h0m2 1h0m45 27h0" stroke="#d8404e" stroke-width="3.20" stroke-linecap="round" fill="none" />
</g>
<text x="350.0" y="17.7" text-anchor="middle" dominant-baseline="central" fill="#111" style="font-size:10px;font-style:italic" >Myh11</text>
<rect x="386.5" y="25.5" width="69.0" height="71.5" fill="#fff" stroke="#333" stroke-width="1.0" />
<use href="#bbase" transform="translate(386.5 26.1)"/>
<g transform="translate(386.5 26.1)">
<path d="M33.4 4.7C34.1 3.9 35.4 3.2 36.6 3.2C37.8 3.2 39.6 3.9 40.8 4.7C42.0 5.5 43.3 6.7 44.0 7.9C44.7 9.1 45.0 10.7 45.0 12.1C45.0 13.5 44.7 15.1 44.0 16.3C43.3 17.5 41.9 18.5 40.8 19.5C39.7 20.4 38.7 22.1 37.6 22.1C36.6 22.1 35.2 20.4 34.5 19.5C33.8 18.5 33.8 17.5 33.4 16.3C33.1 15.1 32.6 13.5 32.4 12.1C32.2 10.7 32.2 9.1 32.4 7.9C32.6 6.7 32.7 5.5 33.4 4.7Z" fill="#d8404e" fill-opacity="0.38"/>
<path transform="scale(0.5)" d="M70 9h0m2 1h0m3 1h0m4-1h0m9 9h0m0-3h0m-3 2h0m0-5h0m-1 2h0m-1 4h0m-1-7h0m-1 8h0m-1-5h0m-2-1h0m-2-2h0m-1 9h0m0-7h0m-4 2h0m-4 7h0m-1-11h0m0 10h0m-16-5h0m-13 12h0m27 4h0m2 1h0m4-4h0m1 2h0m0 0h0m0-6h0m1 1h0m1-1h0m0 7h0m4-9h0m0 6h0m1 5h0m0-3h0m3-1h0m1-5h0m0 5h0m1 3h0m2-4h0m1-3h0m0 5h0m1-5h0m0 2h0m-8 11h0m-8-2h0m-1-1h0m-4 3h0m-16 2h0m-2 3h0m-2 0h0m-9 2h0m-13-10h0m-13 13h0m3 0h0m6 3h0m37 4h0m17 2h0m4 10h0m-1-7h0m-33-1h0m-3 6h0m-22 4h0m-4 0h0m33 6h0m15 3h0m2 0h0m1-3h0m12-5h0m21 3h0m23 9h0m-20 0h0m-25 1h0m-3 9h0m0-6h0m-24 4h0m-16-7h0m-2 7h0m17 15h0m17-1h0m14-7h0m1 3h0m25 15h0m-1-9h0m-18 3h0m-25-3h0m-32 9h0m41 3h0m9 9h0m4 0h0" stroke="#cf8090" stroke-width="3.00" stroke-linecap="round" fill="none" />
<path transform="scale(0.5)" d="M72 10h0m1-1h0m0 2h0m1-4h0m1 2h0m2-1h0m0 1h0m4 2h0m0-1h0m0 1h0m5 12h0m0 0h0m-1-10h0m0 1h0m-5 7h0m-1 1h0m0-9h0m0 6h0m-1-4h0m0 2h0m-5-1h0m0-1h0m0 1h0m0 6h0m-3-8h0m0 9h0m-2-9h0m-3 7h0m-8 1h0m-1-3h0m-1-2h0m-5 0h0m-26 13h0m10 5h0m8-7h0m0-1h0m21 4h0m1-4h0m3 3h0m2 5h0m1-8h0m0 4h0m1-4h0m2 1h0m1 3h0m1 1h0m1 2h0m1-10h0m1 5h0m1 6h0m1-6h0m0 5h0m1-8h0m0 7h0m1-3h0m0-3h0m0-3h0m1 11h0m1-5h0m0-5h0m2 9h0m1-7h0m0 0h0m1 0h0m18 20h0m-26-10h0m0 3h0m-2 1h0m-1-5h0m-2 0h0m0 7h0m-1-1h0m-1-3h0m-2 1h0m-11 7h0m-1-3h0m0-4h0m-18 0h0m-11-3h0m0-1h0m-6 10h0m-6-7h0m-1 1h0m29 17h0m15 2h0m24-8h0m9-3h0m21 12h0m-13 6h0m-17 3h0m-1-5h0m-6 0h0m-6 7h0m-22-10h0m-1 1h0m-1 8h0m-3 5h0m23 7h0m0-5h0m55-1h0m4-3h0m-11 22h0m-40-9h0m-26 5h0m-2-3h0m-4-3h0m-6 20h0m33 1h0m2-1h0m0-7h0m3 0h0m32 1h0m5 5h0m10-5h0m1 1h0m-15 15h0m-3-7h0m-6 4h0m-11 0h0m-4 1h0m-16 4h0m0-9h0m-17 10h0m-9-7h0m-6 9h0m18 3h0m28-2h0m4 9h0m5-1h0m7-7h0" stroke="#d8404e" stroke-width="3.20" stroke-linecap="round" fill="none" />
</g>
<text x="421.0" y="17.7" text-anchor="middle" dominant-baseline="central" fill="#111" style="font-size:10px;font-style:italic" >Tagln</text>
<rect x="457.5" y="25.5" width="69.0" height="71.5" fill="#fff" stroke="#333" stroke-width="1.0" />
<use href="#bbase" transform="translate(457.5 26.1)"/>
<g transform="translate(457.5 26.1)">
<path d="M18.7 10.0C19.5 9.4 21.5 8.8 22.9 8.4C24.3 8.1 25.9 7.8 27.1 7.9C28.4 8.0 29.4 8.2 30.3 8.9C31.2 9.6 31.9 10.9 32.4 12.1C32.9 13.3 33.1 15.1 33.4 16.3C33.8 17.5 34.7 18.4 34.5 19.5C34.3 20.5 33.1 21.6 32.4 22.6C31.7 23.7 30.6 24.0 30.3 25.8C29.9 27.5 30.6 31.2 30.3 33.1C29.9 35.1 29.1 36.5 28.2 37.3C27.3 38.2 25.7 39.6 25.0 38.4C24.3 37.2 24.3 32.2 24.0 30.0C23.6 27.7 23.4 26.5 22.9 24.7C22.5 23.0 22.0 21.0 21.3 19.5C20.6 17.9 19.2 16.5 18.7 15.2C18.2 14.0 18.2 13.0 18.2 12.1C18.2 11.2 17.9 10.6 18.7 10.0Z" fill="#d8404e" fill-opacity="0.10"/>
<path d="M30.3 25.8C30.6 24.0 31.2 23.2 32.4 22.6C33.6 22.0 36.2 22.6 37.6 22.1C39.0 21.6 39.6 20.0 40.8 19.5C42.0 18.9 43.4 18.8 45.0 18.9C46.6 19.1 48.5 19.9 50.3 20.5C52.0 21.1 53.8 21.7 55.5 22.6C57.3 23.5 59.3 24.5 60.8 25.8C62.3 27.0 63.8 28.2 64.5 30.0C65.2 31.7 65.1 34.2 65.0 36.3C64.9 38.4 64.3 40.5 63.9 42.6C63.6 44.7 63.6 46.8 62.9 48.9C62.2 51.0 61.1 53.3 59.7 55.2C58.3 57.1 56.2 59.0 54.5 60.5C52.7 62.0 51.1 63.3 49.2 64.1C47.3 65.0 45.0 65.6 42.9 65.7C40.8 65.8 38.3 65.4 36.6 64.7C34.8 64.0 33.4 62.9 32.4 61.5C31.3 60.1 30.6 58.4 30.3 56.3C29.9 54.2 30.1 51.2 30.3 48.9C30.5 46.6 31.3 44.5 31.3 42.6C31.3 40.7 30.5 38.9 30.3 37.3C30.1 35.8 30.3 35.1 30.3 33.1C30.3 31.2 29.9 27.5 30.3 25.8Z" fill="#d8404e" fill-opacity="0.41"/>
<path transform="scale(0.5)" d="M68 10h0m9 1h0m10 8h0m-13-4h0m-18 7h0m-14 4h0m6 5h0m1-2h0m11-4h0m10 6h0m34 13h0m-3 2h0m-4 1h0m-2-4h0m0 0h0m0 1h0m-3 1h0m-1-6h0m-6 8h0m-6-6h0m0 4h0m-2-7h0m-4 9h0m-1-10h0m-3 10h0m-1-10h0m-3 6h0m-5-3h0m-13-3h0m-9 5h0m-2 4h0m-21-3h0m-3 8h0m3 3h0m4-6h0m21 8h0m1-5h0m10 2h0m6-2h0m8 2h0m8-1h0m1-2h0m1 7h0m0-2h0m1 4h0m1-5h0m0-4h0m0-1h0m1 5h0m4 1h0m0-5h0m1 6h0m1-8h0m2 1h0m1-1h0m1 8h0m4-5h0m1 7h0m5-6h0m2 1h0m3-5h0m0 3h0m0 5h0m2-5h0m1-1h0m2 7h0m1 0h0m2-2h0m6-2h0m3-1h0m0 2h0m2 5h0m2-3h0m0 6h0m-2-2h0m-3 6h0m0-1h0m-3 0h0m-1-5h0m-2 10h0m-1 1h0m-2-8h0m-3 1h0m-1-4h0m-1 11h0m0-5h0m-3-2h0m-2 1h0m-2 5h0m0-6h0m0 1h0m0 1h0m-2-3h0m-5 2h0m-4 0h0m0-1h0m-3-4h0m-5 6h0m-1-2h0m-2-4h0m0 1h0m0 1h0m-1 2h0m-2 0h0m-3 6h0m-2-8h0m-3 1h0m0 2h0m-1-1h0m-1 0h0m0 5h0m-1-2h0m-1-7h0m-15 6h0m-2-2h0m-5 5h0m-7 1h0m-17 5h0m7 5h0m3-7h0m10 8h0m17-6h0m4-3h0m1 1h0m6 3h0m1 0h0m4 4h0m0-2h0m6-6h0m2 10h0m0-9h0m0 3h0m3-2h0m2 0h0m2 8h0m0 0h0m0-3h0m3-2h0m2 0h0m0 4h0m2 0h0m2 0h0m1 1h0m1-2h0m2 0h0m2-4h0m0-1h0m3-3h0m0 1h0m0 0h0m1 8h0m15 2h0m3-1h0m1 1h0m5 10h0m-3-6h0m0 3h0m-2 4h0m-1-10h0m-3 1h0m-5 7h0m0-4h0m-2 3h0m0 2h0m0-2h0m0-6h0m-3 1h0m-1 7h0m-2-9h0m-2 3h0m0 1h0m-2-1h0m0 5h0m-1-5h0m-1 8h0m0-4h0m-2-5h0m-1 3h0m0 0h0m-1 2h0m-1 3h0m-4-1h0m-3-4h0m0 4h0m-1-5h0m-3 2h0m-1-6h0m0 3h0m-2 2h0m0-3h0m-2 0h0m-5 7h0m-2 1h0m-1-5h0m-26-1h0m0 6h0m-4-8h0m-2 8h0m9 13h0m1-1h0m5-1h0m14-5h0m2 3h0m1 1h0m2 0h0m2 3h0m1-9h0m1 8h0m1-7h0m1 7h0m3-5h0m1-2h0m0 8h0m4 0h0m1 0h0m0 0h0m2 0h0m1-1h0m1 1h0m7-6h0m0-1h0m7 7h0m3-10h0m1 7h0m3-6h0m1 4h0m1 3h0m1-1h0m2-7h0m5 6h0m1-6h0m-4 12h0m-3 0h0m-1 3h0m-1-4h0m-2 2h0m-1 1h0m-8-1h0m-1 6h0m-3 1h0m-2 1h0m0-4h0m-1-3h0m-2-2h0m0-1h0m-2 5h0m-3 5h0m-3-6h0m-3-3h0m-2 7h0m-1-8h0m-2 9h0m-3-1h0m-3 1h0m0-4h0m-2-4h0m-4 10h0m0-9h0m-4-2h0m-8 2h0m-8 1h0m-9-3h0m-1 8h0m-1-5h0m3 20h0m6-7h0m1-2h0m1 4h0m24-4h0m0 4h0m2-6h0m0 6h0m2 3h0m0-8h0m7 4h0m1-3h0m1 1h0m9 2h0m1 0h0m3 0h0m1-5h0m1 5h0m2-5h0m1 2h0m2-2h0m-53 13h0m-16 1h0m-1-1h0" stroke="#cf8090" stroke-width="3.00" stroke-linecap="round" fill="none" />
<path transform="scale(0.5)" d="M88 18h0m-3-2h0m-4 6h0m-9-5h0m-1 1h0m-3 4h0m-1-8h0m-13 2h0m0 7h0m-7 0h0m-4-4h0m-1 1h0m0 1h0m-24 9h0m6-1h0m4 1h0m19-1h0m1-2h0m4 3h0m1 0h0m12 4h0m0-1h0m1 1h0m1 1h0m16-5h0m21 16h0m-2 0h0m-7 1h0m0-2h0m-2 2h0m0-6h0m-1 6h0m-2-8h0m0 5h0m0-1h0m-1 4h0m0-8h0m-1 8h0m-2-6h0m0 2h0m0 1h0m-3-4h0m0 0h0m-1-1h0m-1 3h0m-2-4h0m-2 5h0m-3-1h0m-2-4h0m0 9h0m-1-2h0m-2 1h0m-2 1h0m-1 0h0m-1-1h0m-5-2h0m-2 3h0m-3 0h0m0-4h0m-3 1h0m-12 0h0m-10-3h0m-3 0h0m-3 0h0m-1-3h0m-1 1h0m-9 8h0m6 12h0m6-5h0m2-2h0m1 3h0m19 2h0m5-9h0m4 8h0m1-8h0m2 0h0m3 9h0m1-6h0m5 2h0m2-3h0m0 3h0m2 0h0m1 6h0m0-9h0m3 4h0m0 3h0m1-4h0m2 6h0m1-2h0m2-8h0m2 1h0m5 8h0m1-5h0m1-2h0m1 6h0m0-8h0m3 1h0m1 1h0m0 0h0m1 8h0m1-11h0m1 8h0m1-7h0m1 8h0m0 1h0m0-1h0m2-4h0m3-1h0m0 3h0m1 1h0m1 2h0m0-1h0m0-3h0m3-2h0m3-2h0m4 7h0m2-5h0m1 1h0m6 5h0m2 6h0m-1-2h0m0 9h0m-1-2h0m-2-7h0m-1 0h0m-1 8h0m0-5h0m-1 1h0m-4-6h0m0 9h0m-1-7h0m-1 5h0m0-7h0m0 3h0m-1 3h0m0 3h0m-2-7h0m0 3h0m-2 0h0m0 5h0m0 1h0m-1-10h0m-1 1h0m-1 3h0m-1 3h0m0 3h0m0-1h0m-1 1h0m0-10h0m-1 9h0m-1-8h0m-1 7h0m-1-9h0m-1 4h0m-1 1h0m-1 6h0m-1-3h0m-2-8h0m-2 4h0m0 0h0m0 0h0m0-2h0m-2 3h0m-1 6h0m-3-7h0m-1 6h0m-1-8h0m0 7h0m-3-2h0m0-5h0m0 3h0m-1 3h0m0-8h0m-1 6h0m-2-6h0m0 7h0m0 0h0m-2-1h0m0 0h0m-1-4h0m0 8h0m0-1h0m0-7h0m-2 9h0m0-4h0m-1 2h0m0 2h0m0-7h0m-3-2h0m0 3h0m-2 3h0m-1-2h0m-4 0h0m-1-5h0m0 5h0m-1 2h0m-5 2h0m-1-4h0m-9 4h0m-15-7h0m-4 1h0m-3-2h0m-3 1h0m-4 0h0m0 0h0m0 6h0m-3 4h0m6 9h0m2 1h0m1-4h0m1-2h0m0 3h0m6-5h0m0 1h0m14-3h0m0 2h0m2 5h0m16-4h0m4 3h0m0-7h0m0 2h0m0 8h0m1-4h0m1-2h0m0 0h0m2 5h0m0-4h0m3-2h0m2-1h0m0 9h0m1-2h0m1-3h0m1 5h0m0-5h0m5 5h0m2-5h0m0 0h0m2-2h0m2 7h0m1-10h0m1 0h0m0 8h0m1-5h0m2 1h0m1-2h0m0 0h0m3 2h0m0 0h0m2-4h0m1 2h0m1 0h0m1 5h0m0 1h0m0 0h0m1-6h0m2 6h0m1-6h0m0 5h0m0-6h0m1 9h0m1-3h0m0-7h0m0 2h0m0-2h0m1 8h0m1-6h0m0 1h0m0 6h0m1-8h0m0 9h0m1-1h0m0 0h0m3-4h0m0-4h0m3 1h0m1-3h0m2 0h0m0 11h0m1-8h0m2 7h0m0 0h0m0-7h0m2 2h0m2-2h0m-5 10h0m-1 2h0m-1-1h0m-1 8h0m-2-8h0m0 9h0m-1-1h0m0-7h0m0-2h0m-2 5h0m-1-6h0m0 6h0m-4 0h0m-1 4h0m0-5h0m-2 0h0m-1 1h0m0-1h0m-2-2h0m0 1h0m-1 1h0m-1 0h0m-1 3h0m0-4h0m-1 4h0m-3-4h0m-1-4h0m0 4h0m0-4h0m-1 8h0m-3-8h0m-1 11h0m0-9h0m-1 7h0m-4 1h0m-2-5h0m-2-4h0m-5 3h0m-2-1h0m-1 8h0m-5 0h0m-1-2h0m0 1h0m-1-4h0m0 0h0m0 5h0m-1-3h0m0 3h0m0-7h0m-2-1h0m-16 1h0m-12 6h0m-4 9h0m5 1h0m1-4h0m9 1h0m1-3h0m13 3h0m1-2h0m0-2h0m0 10h0m2-4h0m0-4h0m1 5h0m1 2h0m2-7h0m2-1h0m3 3h0m4 4h0m1 2h0m0-6h0m3 6h0m1-2h0m2-8h0m0 6h0m2 0h0m1 2h0m1-4h0m1-1h0m1 7h0m1-1h0m1-1h0m0-1h0m1-7h0m0 5h0m1 0h0m4-2h0m0-2h0m2 4h0m2 0h0m0-4h0m3-2h0m0 5h0m2-4h0m1 10h0m0-10h0m4 4h0m1 0h0m1-3h0m0 6h0m1-2h0m4 5h0m1-9h0m0 8h0m0-3h0m1-1h0m1-1h0m1-5h0m0 5h0m-9 8h0m-2 7h0m-2-7h0m-3 10h0m0-11h0m-6 6h0m-1 4h0m0-6h0m-1-1h0m0-2h0m-1 4h0m-2 2h0m0-6h0m-1 8h0m-1-8h0m-1 9h0m-3 0h0m-1-9h0m-1 6h0m0 0h0m0-3h0m-3 5h0m0-7h0m0-1h0m-1-1h0m-1 3h0m-3-1h0m0-2h0m0 2h0m0 0h0m-1 5h0m-1-1h0m-1-5h0m0 8h0m-1 1h0m-1-3h0m-4 3h0m0-3h0m-2-7h0m0 7h0m-4-2h0m0-5h0m-2 0h0m-1 0h0m-11 6h0m0-1h0m-2 0h0m-12 6h0m-8 8h0m5-4h0m2-1h0m1 0h0m1 2h0m0 6h0m2-10h0m1 9h0m1-4h0m2 2h0m1-1h0m10-3h0m11 1h0m1 1h0m5-5h0m1 4h0m4-3h0m0 0h0m1 9h0m2-3h0m1 1h0m1-2h0m2 1h0m0-1h0m1-5h0m0 5h0m0 1h0m5 1h0m1 2h0m1-8h0m2-1h0m0-1h0m0 8h0m2 0h0m0-7h0m2 0h0m3 5h0m3-3h0m1-1h0m-56 10h0m-1 0h0m-5 3h0m-6 0h0" stroke="#d8404e" stroke-width="3.20" stroke-linecap="round" fill="none" />
</g>
<text x="492.0" y="17.7" text-anchor="middle" dominant-baseline="central" fill="#111" style="font-size:10px;font-style:italic" >Fstl1</text>
<rect x="529.5" y="25.5" width="69.0" height="71.5" fill="#fff" stroke="#333" stroke-width="1.0" />
<use href="#bbase" transform="translate(529.5 26.1)"/>
<g transform="translate(529.5 26.1)">
<path d="M18.7 10.0C19.5 9.4 21.5 8.8 22.9 8.4C24.3 8.1 25.9 7.8 27.1 7.9C28.4 8.0 29.4 8.2 30.3 8.9C31.2 9.6 31.9 10.9 32.4 12.1C32.9 13.3 33.1 15.1 33.4 16.3C33.8 17.5 34.7 18.4 34.5 19.5C34.3 20.5 33.1 21.6 32.4 22.6C31.7 23.7 30.6 24.0 30.3 25.8C29.9 27.5 30.6 31.2 30.3 33.1C29.9 35.1 29.1 36.5 28.2 37.3C27.3 38.2 25.7 39.6 25.0 38.4C24.3 37.2 24.3 32.2 24.0 30.0C23.6 27.7 23.4 26.5 22.9 24.7C22.5 23.0 22.0 21.0 21.3 19.5C20.6 17.9 19.2 16.5 18.7 15.2C18.2 14.0 18.2 13.0 18.2 12.1C18.2 11.2 17.9 10.6 18.7 10.0Z" fill="#d8404e" fill-opacity="0.11"/>
<path d="M4.5 19.5C4.8 17.9 5.1 16.2 6.1 15.2C7.1 14.3 8.9 13.9 10.3 13.7C11.7 13.4 13.1 13.4 14.5 13.7C15.9 13.9 17.6 14.3 18.7 15.2C19.9 16.2 20.6 17.9 21.3 19.5C22.0 21.0 22.5 23.0 22.9 24.7C23.4 26.5 23.6 27.7 24.0 30.0C24.3 32.2 25.0 36.3 25.0 38.4C25.0 40.5 23.8 41.0 24.0 42.6C24.2 44.2 26.1 46.4 26.1 47.8C26.1 49.2 25.0 50.5 24.0 51.0C22.9 51.5 21.0 51.3 19.8 51.0C18.5 50.6 17.8 49.8 16.6 48.9C15.4 48.0 13.6 46.8 12.4 45.7C11.2 44.7 10.2 44.0 9.3 42.6C8.3 41.2 7.2 39.4 6.6 37.3C6.0 35.2 5.9 32.1 5.6 30.0C5.2 27.9 4.7 26.5 4.5 24.7C4.3 23.0 4.3 21.0 4.5 19.5Z" fill="#d8404e" fill-opacity="0.11"/>
<linearGradient id="bg1" gradientUnits="userSpaceOnUse" x1="60" y1="25" x2="35" y2="60"><stop offset="0" stop-color="#d8404e" stop-opacity="0.16"/><stop offset="1" stop-color="#d8404e" stop-opacity="0.38"/></linearGradient>
<path d="M30.3 25.8C30.6 24.0 31.2 23.2 32.4 22.6C33.6 22.0 36.2 22.6 37.6 22.1C39.0 21.6 39.6 20.0 40.8 19.5C42.0 18.9 43.4 18.8 45.0 18.9C46.6 19.1 48.5 19.9 50.3 20.5C52.0 21.1 53.8 21.7 55.5 22.6C57.3 23.5 59.3 24.5 60.8 25.8C62.3 27.0 63.8 28.2 64.5 30.0C65.2 31.7 65.1 34.2 65.0 36.3C64.9 38.4 64.3 40.5 63.9 42.6C63.6 44.7 63.6 46.8 62.9 48.9C62.2 51.0 61.1 53.3 59.7 55.2C58.3 57.1 56.2 59.0 54.5 60.5C52.7 62.0 51.1 63.3 49.2 64.1C47.3 65.0 45.0 65.6 42.9 65.7C40.8 65.8 38.3 65.4 36.6 64.7C34.8 64.0 33.4 62.9 32.4 61.5C31.3 60.1 30.6 58.4 30.3 56.3C29.9 54.2 30.1 51.2 30.3 48.9C30.5 46.6 31.3 44.5 31.3 42.6C31.3 40.7 30.5 38.9 30.3 37.3C30.1 35.8 30.3 35.1 30.3 33.1C30.3 31.2 29.9 27.5 30.3 25.8Z" fill="url(#bg1)"/>
<path transform="scale(0.5)" d="M68 11h0m13 1h0m-11 2h0m0 5h0m-7 4h0m-3-3h0m-13-2h0m-9 4h0m-19 13h0m7-6h0m9 5h0m9-5h0m1-4h0m1 7h0m11-2h0m4 4h0m2-9h0m22 4h0m13 12h0m-3 2h0m-9-4h0m-12 8h0m-5-8h0m-4 4h0m-4-5h0m-8 0h0m-7 4h0m-3-3h0m-4 1h0m-1 5h0m-1-3h0m-1 3h0m-6-7h0m-1 4h0m-3 5h0m-8 0h0m-8 5h0m1 7h0m3-5h0m0 2h0m1 1h0m0-9h0m4 9h0m1-4h0m2 5h0m6-5h0m9-5h0m2 5h0m25-3h0m0 4h0m0 4h0m2-4h0m1 5h0m4-8h0m1 4h0m5-2h0m2-1h0m5 5h0m4-4h0m2 2h0m17-6h0m0 10h0m5-2h0m3-5h0m8 4h0m5 14h0m-2-8h0m-13 1h0m-14 5h0m-6-5h0m-2 4h0m-3-4h0m-2 4h0m-2-6h0m-5 10h0m-3-7h0m-2 5h0m0-7h0m-2 9h0m-3-1h0m0 0h0m-4-5h0m-5 0h0m-11 3h0m-8-7h0m-4 9h0m-1-8h0m-6 1h0m-2 3h0m0-5h0m-2 10h0m-5-6h0m-7-1h0m38 12h0m9-4h0m6 0h0m5 9h0m4-9h0m0 7h0m1-1h0m2-6h0m2 9h0m1-9h0m1 3h0m1 6h0m2-5h0m1-2h0m1 3h0m6-1h0m1 0h0m2-1h0m0 8h0m1 0h0m2-8h0m1 4h0m6 2h0m3-9h0m10 11h0m8-1h0m0 3h0m-6 2h0m-2 4h0m-4 1h0m-3 0h0m-9-6h0m-2-2h0m-2 6h0m-1-6h0m-3 11h0m-1 0h0m-7-1h0m-5 0h0m-3 1h0m-3-1h0m-3-9h0m0 1h0m-2 0h0m-9 3h0m-13 6h0m-11-7h0m-9 2h0m-1 3h0m-1-2h0m36 16h0m0-9h0m3 4h0m0-2h0m2 2h0m1 2h0m4-7h0m3 6h0m1-2h0m0 0h0m2 5h0m7 1h0m2-2h0m8 0h0m2-7h0m9-2h0m3 7h0m3 1h0m0 3h0m1 0h0m9-7h0m-6 10h0m-2 0h0m-1-2h0m-3 6h0m-2-6h0m-1 9h0m-2-6h0m-1-3h0m-2 10h0m-3-5h0m-2 4h0m-1-4h0m-2 5h0m-7-1h0m-3 2h0m-5 0h0m-4-2h0m-3-2h0m-3-1h0m-4-1h0m-1-4h0m-1 5h0m-1 1h0m-10-6h0m-6 1h0m-15 0h0m7 13h0m10 6h0m18-6h0m3 4h0m2-2h0m9 2h0m2-6h0m1 6h0m1-6h0m3 8h0m3-1h0m3-2h0m3-4h0m2 5h0" stroke="#cf8090" stroke-width="3.00" stroke-linecap="round" fill="none" />
<path transform="scale(0.5)" d="M67 10h0m15 0h0m-2 3h0m-6 8h0m-4-8h0m-20 9h0m-2-2h0m-6 1h0m-1-1h0m-23 15h0m14-1h0m6-9h0m6 1h0m1 1h0m3 4h0m2 0h0m6-5h0m0-1h0m3 1h0m1 5h0m4-6h0m1 10h0m7-5h0m13-1h0m27 17h0m-5 0h0m-12-6h0m-5-2h0m0 8h0m-3 1h0m-8-7h0m0 7h0m-3-11h0m-3 0h0m-1 9h0m-7-2h0m-2-7h0m-4 4h0m0-3h0m-1 8h0m-2-5h0m-4 1h0m-3-5h0m-6 11h0m-1-2h0m-7-9h0m-1 5h0m-5-5h0m-2 5h0m-2-2h0m-7 1h0m0 7h0m-1 0h0m-1-7h0m-6 12h0m4 4h0m5-8h0m2 0h0m4 5h0m1 6h0m0-2h0m7-8h0m2 3h0m1-3h0m5 10h0m2 0h0m1-6h0m2 2h0m1 0h0m1-1h0m8 4h0m0-3h0m1 0h0m0 4h0m3-10h0m2 0h0m0 10h0m4-8h0m1-2h0m0 8h0m4 0h0m1-6h0m1 7h0m4-9h0m2 10h0m2 0h0m12-2h0m3-5h0m0-1h0m3-2h0m0 5h0m1 1h0m3 0h0m4-1h0m1 0h0m1-2h0m0 3h0m0-2h0m6-2h0m0-3h0m1 7h0m1 3h0m1 0h0m3-6h0m2 4h0m3 3h0m0 8h0m-1-6h0m-3 3h0m0 4h0m-3-1h0m-1-6h0m-3 0h0m-8 7h0m-1-8h0m-1 8h0m0-2h0m0 2h0m-1 0h0m0 1h0m-2-3h0m-1-2h0m0 2h0m0-1h0m-1-5h0m-1 3h0m-5-2h0m-1 6h0m-2-2h0m-2 0h0m-1 5h0m-3-10h0m-3 2h0m0 3h0m-1 1h0m-1 5h0m0-7h0m-3 5h0m-2 0h0m-1-6h0m-1-1h0m0 4h0m-8-2h0m-2 6h0m-1-1h0m-7-7h0m-2 5h0m0-3h0m-4 3h0m-3-4h0m-1-1h0m-1 4h0m-3-1h0m-15-2h0m-2 0h0m-3 3h0m0 3h0m-5 0h0m5 14h0m12-10h0m2 4h0m0-1h0m7 5h0m4-2h0m4-3h0m0-3h0m3-1h0m11 5h0m9-3h0m0 6h0m3 1h0m2-6h0m4 6h0m1 0h0m1-2h0m12 1h0m3-3h0m6 1h0m0 3h0m0-2h0m1 0h0m1 1h0m7 3h0m0-1h0m6-10h0m2 0h0m1 7h0m1-2h0m3-5h0m2 4h0m0-1h0m-3 18h0m-1-1h0m-3-1h0m0 4h0m-3-11h0m-4 8h0m-1-4h0m0 1h0m-4-2h0m-2 5h0m0 2h0m-3-9h0m-2 7h0m0-2h0m0-5h0m-2 4h0m-2-2h0m-1-3h0m-2 1h0m-5 10h0m-1-7h0m-3-2h0m-1-2h0m0 4h0m-1 1h0m0-5h0m-1 0h0m-3 0h0m-1 1h0m0 1h0m-3 2h0m0-3h0m-3-1h0m-1 0h0m-1 3h0m0 3h0m0-6h0m-1 7h0m0 1h0m-2-3h0m0-5h0m-7 10h0m-14-4h0m-1-5h0m-3 10h0m-10-8h0m-3 4h0m-7-2h0m-1-2h0m13 9h0m5 6h0m0-6h0m2 9h0m18-9h0m1 4h0m2-2h0m1 7h0m0-4h0m1-5h0m1 11h0m1-10h0m0 2h0m3 4h0m0-5h0m0 7h0m1 0h0m1 1h0m0-7h0m1 5h0m0-3h0m3 5h0m1-6h0m5 5h0m0-1h0m1 2h0m3-5h0m0 2h0m1-6h0m2 10h0m0-3h0m1-4h0m5-4h0m1 6h0m2 1h0m3-7h0m3 11h0m3-5h0m0 5h0m0-1h0m1-2h0m1-6h0m1 8h0m1-2h0m1-6h0m3 6h0m0-8h0m1 5h0m-1 12h0m-2-5h0m-3 3h0m-4-1h0m0 3h0m-1-1h0m-1 4h0m-2 2h0m-4-7h0m-2 1h0m-1-4h0m0 7h0m-1 0h0m-2-6h0m-1 10h0m-2-6h0m0 2h0m0 4h0m-4-9h0m0 2h0m0 1h0m-3-5h0m-4 0h0m-3 5h0m0 4h0m-1 2h0m-1-5h0m-1-3h0m-1 2h0m-1-2h0m-2 6h0m0 0h0m-2-7h0m0-1h0m-4 10h0m-2-9h0m-20 8h0m-5 2h0m32 0h0m5 3h0m1-3h0m1 7h0m1-4h0m1 1h0m0 2h0m1 4h0m0-3h0m0 1h0m5-3h0m5-1h0m0 2h0m1 4h0m1-1h0m1-4h0m3 3h0m0-6h0m1-2h0m0 5h0m2-5h0m0 5h0m1-4h0m2 1h0m2 0h0m-56 11h0m-5 0h0" stroke="#d8404e" stroke-width="3.20" stroke-linecap="round" fill="none" />
</g>
<text x="564.0" y="17.7" text-anchor="middle" dominant-baseline="central" fill="#111" style="font-size:10px;font-style:italic" >Pi16</text>
<rect x="600.5" y="25.5" width="69.0" height="71.5" fill="#fff" stroke="#333" stroke-width="1.0" />
<use href="#bbase" transform="translate(600.5 26.1)"/>
<g transform="translate(600.5 26.1)">
<linearGradient id="bg2" gradientUnits="userSpaceOnUse" x1="0" y1="8" x2="0" y2="22"><stop offset="0" stop-color="#d8404e" stop-opacity="0.34"/><stop offset="1" stop-color="#d8404e" stop-opacity="0.05"/></linearGradient>
<path d="M18.7 10.0C19.5 9.4 21.5 8.8 22.9 8.4C24.3 8.1 25.9 7.8 27.1 7.9C28.4 8.0 29.4 8.2 30.3 8.9C31.2 9.6 31.9 10.9 32.4 12.1C32.9 13.3 33.1 15.1 33.4 16.3C33.8 17.5 34.7 18.4 34.5 19.5C34.3 20.5 33.1 21.6 32.4 22.6C31.7 23.7 30.6 24.0 30.3 25.8C29.9 27.5 30.6 31.2 30.3 33.1C29.9 35.1 29.1 36.5 28.2 37.3C27.3 38.2 25.7 39.6 25.0 38.4C24.3 37.2 24.3 32.2 24.0 30.0C23.6 27.7 23.4 26.5 22.9 24.7C22.5 23.0 22.0 21.0 21.3 19.5C20.6 17.9 19.2 16.5 18.7 15.2C18.2 14.0 18.2 13.0 18.2 12.1C18.2 11.2 17.9 10.6 18.7 10.0Z" fill="url(#bg2)"/>
<linearGradient id="bg3" gradientUnits="userSpaceOnUse" x1="0" y1="30" x2="0" y2="64"><stop offset="0" stop-color="#d8404e" stop-opacity="0.05"/><stop offset="1" stop-color="#d8404e" stop-opacity="0.20"/></linearGradient>
<path d="M30.3 25.8C30.6 24.0 31.2 23.2 32.4 22.6C33.6 22.0 36.2 22.6 37.6 22.1C39.0 21.6 39.6 20.0 40.8 19.5C42.0 18.9 43.4 18.8 45.0 18.9C46.6 19.1 48.5 19.9 50.3 20.5C52.0 21.1 53.8 21.7 55.5 22.6C57.3 23.5 59.3 24.5 60.8 25.8C62.3 27.0 63.8 28.2 64.5 30.0C65.2 31.7 65.1 34.2 65.0 36.3C64.9 38.4 64.3 40.5 63.9 42.6C63.6 44.7 63.6 46.8 62.9 48.9C62.2 51.0 61.1 53.3 59.7 55.2C58.3 57.1 56.2 59.0 54.5 60.5C52.7 62.0 51.1 63.3 49.2 64.1C47.3 65.0 45.0 65.6 42.9 65.7C40.8 65.8 38.3 65.4 36.6 64.7C34.8 64.0 33.4 62.9 32.4 61.5C31.3 60.1 30.6 58.4 30.3 56.3C29.9 54.2 30.1 51.2 30.3 48.9C30.5 46.6 31.3 44.5 31.3 42.6C31.3 40.7 30.5 38.9 30.3 37.3C30.1 35.8 30.3 35.1 30.3 33.1C30.3 31.2 29.9 27.5 30.3 25.8Z" fill="url(#bg3)"/>
<path transform="scale(0.5)" d="M85 16h0m-29 6h0m-3-1h0m0-5h0m-2 1h0m-2 0h0m-1 6h0m-1-3h0m-4-2h0m-3 2h0m-11 11h0m8 3h0m1-7h0m1-1h0m3 9h0m6-11h0m2 5h0m4 3h0m2-4h0m1 5h0m1 0h0m2-9h0m2 11h0m9-4h0m7 3h0m5 12h0m-14-9h0m-3 10h0m-4-11h0m-8 10h0m-4-9h0m-21 2h0m-17 10h0m22 8h0m12 0h0m3-6h0m21 0h0m28 7h0m11-1h0m8-6h0m-1 17h0m-32 2h0m-29 1h0m-9-10h0m-15 2h0m-10-1h0m1 19h0m12 0h0m5-4h0m4-1h0m14-4h0m29 4h0m8 3h0m23-1h0m10 3h0m-9 6h0m0 2h0m-3 5h0m-4-8h0m-3 8h0m-12-6h0m-3-3h0m-22 9h0m0-7h0m-27 3h0m-8-5h0m16 19h0m14-8h0m5 0h0m6 1h0m8 9h0m12-7h0m3 6h0m16-4h0m1-4h0m4 0h0m0 1h0m2 2h0m-3 8h0m-3 0h0m-6 6h0m-1-3h0m-5 8h0m-1-2h0m-6-2h0m-4 3h0m-12-8h0m-1 0h0m-3 1h0m-3 0h0m-1-3h0m-3 11h0m-6-1h0m-28-9h0m-2 18h0m16 4h0m16-10h0m13 4h0m12 3h0m-62 5h0" stroke="#cf8090" stroke-width="3.00" stroke-linecap="round" fill="none" />
<path transform="scale(0.5)" d="M60 20h0m-1 1h0m-1-2h0m0 1h0m-2-3h0m0 1h0m-1 1h0m-2 0h0m-5 0h0m-3-1h0m-1 1h0m0 4h0m-20 11h0m12-2h0m2-3h0m4-5h0m1 3h0m0 4h0m0-2h0m0 3h0m1 1h0m5-1h0m0-5h0m4-1h0m1 9h0m1-4h0m0-1h0m2-6h0m1 5h0m0-2h0m2 4h0m14 3h0m2-7h0m3 2h0m3 3h0m15 9h0m-3 2h0m-8 2h0m-7-8h0m-1 1h0m-3 2h0m-1-3h0m-14 1h0m-5-1h0m-5 1h0m-2 1h0m-1 0h0m-3 0h0m-6 5h0m-26 7h0m1 8h0m1-9h0m15 9h0m8-9h0m4 9h0m6-1h0m6-7h0m12 5h0m5-6h0m10 7h0m6-1h0m14-1h0m11-3h0m1 3h0m2 12h0m-12-1h0m-1 4h0m-8-4h0m-3 3h0m-1-8h0m-3 10h0m-2-11h0m-2 6h0m-1-5h0m-2 6h0m-2 2h0m-9-4h0m-19 0h0m-1-5h0m-2 6h0m-6-1h0m-16-3h0m0 9h0m-4-8h0m-4 12h0m4 1h0m4-3h0m12 5h0m6-5h0m11-1h0m11 4h0m12 3h0m11 0h0m9 4h0m7-7h0m5-1h0m4 1h0m4 5h0m1-2h0m1 8h0m-2 8h0m0-4h0m-14 1h0m-3-5h0m-1 1h0m-5 5h0m-1-2h0m-3-3h0m-1 0h0m-3 7h0m-2-4h0m-2-6h0m0 0h0m-9 9h0m-2-4h0m-3 5h0m-25-1h0m-4-5h0m10 9h0m4 6h0m11-2h0m1-4h0m2 6h0m1-8h0m3 2h0m1-2h0m2 2h0m6 6h0m6 3h0m3-1h0m7-8h0m1 9h0m5-6h0m2 0h0m3 6h0m5-8h0m4 5h0m3-7h0m2 10h0m5-8h0m-10 11h0m0-1h0m-2 7h0m-1-5h0m0 1h0m-5 2h0m-1 0h0m0 5h0m-5-9h0m0 1h0m-1 5h0m0-3h0m-6 4h0m-2 0h0m0-6h0m-2 2h0m-1 3h0m-4 1h0m-1-5h0m-2 7h0m-1-3h0m-1 3h0m-1-8h0m0-1h0m-5 5h0m-9 4h0m-2-6h0m-12 6h0m-21 3h0m4-2h0m2 0h0m0 11h0m1-1h0m8-10h0m1 4h0m2 1h0m3 3h0m4-3h0m1 0h0m13-1h0m1 2h0m2-1h0m5 5h0m1 0h0m5-9h0m0 3h0m1 5h0m2-7h0m4 2h0m1 3h0m6-2h0m1-1h0m1-3h0m2 1h0m1 1h0m0 2h0m0-4h0m1 0h0m-60 14h0m-2 0h0" stroke="#d8404e" stroke-width="3.20" stroke-linecap="round" fill="none" />
</g>
<text x="635.0" y="17.7" text-anchor="middle" dominant-baseline="central" fill="#111" style="font-size:10px;font-style:italic" >Flnb</text>
<rect x="315.5" y="112.5" width="69.0" height="71.5" fill="#fff" stroke="#333" stroke-width="1.0" />
<use href="#bbase" transform="translate(315.5 113.1)"/>
<g transform="translate(315.5 113.1)">
<linearGradient id="bg4" gradientUnits="userSpaceOnUse" x1="0" y1="8" x2="0" y2="24"><stop offset="0" stop-color="#d8404e" stop-opacity="0.23"/><stop offset="1" stop-color="#d8404e" stop-opacity="0.05"/></linearGradient>
<path d="M18.7 10.0C19.5 9.4 21.5 8.8 22.9 8.4C24.3 8.1 25.9 7.8 27.1 7.9C28.4 8.0 29.4 8.2 30.3 8.9C31.2 9.6 31.9 10.9 32.4 12.1C32.9 13.3 33.1 15.1 33.4 16.3C33.8 17.5 34.7 18.4 34.5 19.5C34.3 20.5 33.1 21.6 32.4 22.6C31.7 23.7 30.6 24.0 30.3 25.8C29.9 27.5 30.6 31.2 30.3 33.1C29.9 35.1 29.1 36.5 28.2 37.3C27.3 38.2 25.7 39.6 25.0 38.4C24.3 37.2 24.3 32.2 24.0 30.0C23.6 27.7 23.4 26.5 22.9 24.7C22.5 23.0 22.0 21.0 21.3 19.5C20.6 17.9 19.2 16.5 18.7 15.2C18.2 14.0 18.2 13.0 18.2 12.1C18.2 11.2 17.9 10.6 18.7 10.0Z" fill="url(#bg4)"/>
<linearGradient id="bg5" gradientUnits="userSpaceOnUse" x1="0" y1="30" x2="0" y2="64"><stop offset="0" stop-color="#d8404e" stop-opacity="0.04"/><stop offset="1" stop-color="#d8404e" stop-opacity="0.14"/></linearGradient>
<path d="M30.3 25.8C30.6 24.0 31.2 23.2 32.4 22.6C33.6 22.0 36.2 22.6 37.6 22.1C39.0 21.6 39.6 20.0 40.8 19.5C42.0 18.9 43.4 18.8 45.0 18.9C46.6 19.1 48.5 19.9 50.3 20.5C52.0 21.1 53.8 21.7 55.5 22.6C57.3 23.5 59.3 24.5 60.8 25.8C62.3 27.0 63.8 28.2 64.5 30.0C65.2 31.7 65.1 34.2 65.0 36.3C64.9 38.4 64.3 40.5 63.9 42.6C63.6 44.7 63.6 46.8 62.9 48.9C62.2 51.0 61.1 53.3 59.7 55.2C58.3 57.1 56.2 59.0 54.5 60.5C52.7 62.0 51.1 63.3 49.2 64.1C47.3 65.0 45.0 65.6 42.9 65.7C40.8 65.8 38.3 65.4 36.6 64.7C34.8 64.0 33.4 62.9 32.4 61.5C31.3 60.1 30.6 58.4 30.3 56.3C29.9 54.2 30.1 51.2 30.3 48.9C30.5 46.6 31.3 44.5 31.3 42.6C31.3 40.7 30.5 38.9 30.3 37.3C30.1 35.8 30.3 35.1 30.3 33.1C30.3 31.2 29.9 27.5 30.3 25.8Z" fill="url(#bg5)"/>
<path transform="scale(0.5)" d="M84 17h0m-13 2h0m-9 3h0m-1-3h0m-1 2h0m-9-1h0m-6 3h0m-5-3h0m-24 14h0m17-1h0m4-8h0m1 0h0m4 3h0m8 1h0m0-3h0m8 4h0m2-5h0m4 9h0m4-1h0m15 8h0m-20-4h0m-47 19h0m5-4h0m18 6h0m28-1h0m29-3h0m10-1h0m18 16h0m-2-3h0m-64-6h0m-2 7h0m-21-3h0m-7-1h0m-1 1h0m-8 13h0m0 1h0m2 0h0m22 5h0m2-6h0m23-2h0m27 0h0m29 1h0m1 13h0m-2-2h0m-11 8h0m-5-9h0m-5 5h0m-7-4h0m-20-3h0m-5 5h0m-28-5h0m-13 3h0m-2 2h0m6 13h0m3 3h0m2 2h0m3-11h0m0 9h0m32-9h0m5 0h0m7 1h0m27 0h0m2 7h0m7 0h0m-13 12h0m-11-3h0m-2 2h0m-2 1h0m-1-4h0m-9 1h0m-4 4h0m-1-5h0m-35-4h0m-12 6h0m24 11h0m26 0h0m9 0h0m4 2h0m5-2h0m-55 8h0m-6 2h0m-3-1h0" stroke="#cf8090" stroke-width="3.00" stroke-linecap="round" fill="none" />
<path transform="scale(0.5)" d="M82 16h0m-1 5h0m-15-9h0m-5 11h0m-3-4h0m-6-2h0m-4 2h0m-3-1h0m0 1h0m-4 0h0m-1 4h0m0-2h0m-1 2h0m-19 12h0m4 0h0m18-1h0m1-2h0m5 2h0m1-8h0m3 1h0m4 8h0m0-1h0m1-7h0m3 3h0m14-2h0m4 1h0m-11 17h0m-2-4h0m-4 0h0m-3 0h0m-1-3h0m-5-3h0m-4 0h0m-4 5h0m-2 6h0m-15-9h0m-7 0h0m17 17h0m1 0h0m10-7h0m35 9h0m5-3h0m4 4h0m2-9h0m21 10h0m13 5h0m-7 5h0m-12-1h0m-5-1h0m-5 3h0m-2-6h0m-12 2h0m-1-3h0m-11 0h0m-16 2h0m-9 0h0m-15-3h0m-6 1h0m-10 6h0m5 14h0m16-5h0m0 2h0m9-3h0m19 4h0m11 0h0m8-2h0m8 2h0m1-3h0m6-5h0m15 1h0m7 12h0m-15-2h0m-3 10h0m-5-7h0m-11 3h0m-3 2h0m-13 3h0m-7-2h0m-34-1h0m-4 0h0m8 15h0m12-2h0m8 1h0m12-6h0m1 5h0m0-9h0m1 0h0m12 8h0m1 2h0m3-6h0m9 6h0m2-10h0m3 8h0m2 3h0m9-11h0m7 6h0m5 3h0m-9 11h0m-2-3h0m-3-4h0m-1 9h0m-3-8h0m-2-2h0m-2 9h0m-4-2h0m-1-2h0m-6-4h0m-1 10h0m0-2h0m-14 1h0m-4-2h0m0-4h0m-4 0h0m-5 0h0m-8 3h0m-6 0h0m-3-4h0m-3 7h0m-4-1h0m5 5h0m6 7h0m23-4h0m4 0h0m6 3h0m13-6h0m8 0h0m4-1h0" stroke="#d8404e" stroke-width="3.20" stroke-linecap="round" fill="none" />
</g>
<text x="350.0" y="104.7" text-anchor="middle" dominant-baseline="central" fill="#111" style="font-size:10px;font-style:italic" >Sox5</text>
<rect x="386.5" y="112.5" width="69.0" height="71.5" fill="#fff" stroke="#333" stroke-width="1.0" />
<use href="#bbase" transform="translate(386.5 113.1)"/>
<g transform="translate(386.5 113.1)">
<path d="M4.5 19.5C4.8 17.9 5.1 16.2 6.1 15.2C7.1 14.3 8.9 13.9 10.3 13.7C11.7 13.4 13.1 13.4 14.5 13.7C15.9 13.9 17.6 14.3 18.7 15.2C19.9 16.2 20.6 17.9 21.3 19.5C22.0 21.0 22.5 23.0 22.9 24.7C23.4 26.5 23.6 27.7 24.0 30.0C24.3 32.2 25.0 36.3 25.0 38.4C25.0 40.5 23.8 41.0 24.0 42.6C24.2 44.2 26.1 46.4 26.1 47.8C26.1 49.2 25.0 50.5 24.0 51.0C22.9 51.5 21.0 51.3 19.8 51.0C18.5 50.6 17.8 49.8 16.6 48.9C15.4 48.0 13.6 46.8 12.4 45.7C11.2 44.7 10.2 44.0 9.3 42.6C8.3 41.2 7.2 39.4 6.6 37.3C6.0 35.2 5.9 32.1 5.6 30.0C5.2 27.9 4.7 26.5 4.5 24.7C4.3 23.0 4.3 21.0 4.5 19.5Z" fill="#d8404e" fill-opacity="0.22"/>
<path d="M15.6 51.0C16.4 49.9 18.4 50.5 19.8 50.5C21.2 50.5 22.7 50.6 24.0 51.0C25.3 51.3 26.9 51.5 27.7 52.6C28.4 53.6 28.6 55.6 28.7 57.3C28.8 59.0 28.8 61.0 28.2 62.6C27.6 64.1 26.4 65.8 25.0 66.8C23.6 67.7 21.3 68.2 19.8 68.3C18.2 68.5 16.4 68.6 15.6 67.8C14.7 67.0 14.6 65.4 14.5 63.6C14.4 61.9 14.9 59.4 15.0 57.3C15.2 55.2 14.8 52.1 15.6 51.0Z" fill="#d8404e" fill-opacity="0.20"/>
<path transform="scale(0.5)" d="M54 19h0m-10 0h0m-23 13h0m2 3h0m2-5h0m5 3h0m12 0h0m1-2h0m16-6h0m11 9h0m13 7h0m-40 5h0m0-4h0m0 3h0m-2 1h0m-6-2h0m-3-3h0m-4-3h0m-1 4h0m-4-2h0m-3 1h0m-1 3h0m-10-2h0m6 12h0m8 4h0m2-9h0m4 4h0m1-4h0m2 8h0m7-5h0m1-1h0m3 1h0m7-3h0m5 4h0m6 6h0m11-10h0m4 7h0m42-3h0m-18 18h0m-23-8h0m-29 2h0m-1 5h0m-5-6h0m0 5h0m-3 2h0m-5-6h0m-12-5h0m-2 6h0m-7 2h0m5 5h0m7-1h0m3 7h0m3-6h0m0 10h0m8-4h0m4-5h0m5 8h0m0-3h0m4-7h0m13 10h0m16-8h0m10 7h0m7-1h0m10-7h0m17 11h0m-27 1h0m-31 5h0m-16 5h0m-5-4h0m-2-5h0m-7 6h0m-2-6h0m-2 3h0m-1-1h0m-3 2h0m-4-6h0m0 5h0m-1-5h0m15 14h0m2 7h0m3-6h0m6-1h0m23 9h0m4-8h0m19 3h0m16 4h0m-17 9h0m-38 0h0m-1 4h0m0-6h0m0 5h0m0 1h0m-4-4h0m-4-2h0m-1-4h0m0 10h0m-1-4h0m-1-2h0m-2 6h0m-1-5h0m0 1h0m-2-5h0m-3 8h0m-1-4h0m-2 5h0m-2 10h0m1-3h0m0 2h0m1 1h0m20-9h0m20 9h0m4-1h0m11 0h0m3-6h0m-42 10h0" stroke="#cf8090" stroke-width="3.00" stroke-linecap="round" fill="none" />
<path transform="scale(0.5)" d="M71 11h0m3-1h0m8 3h0m-27 5h0m-7 4h0m-11 0h0m0 1h0m-23 7h0m2 3h0m1-1h0m7-4h0m0 7h0m1-2h0m1-2h0m1 0h0m5-1h0m3 5h0m0-2h0m1-3h0m2 3h0m1-9h0m1 11h0m3 0h0m6-11h0m9 6h0m5 1h0m17-3h0m0 7h0m12 8h0m-17-6h0m-7 0h0m0 9h0m-5-5h0m-5 1h0m0 3h0m-4-8h0m-8 2h0m-1 7h0m-1-2h0m0 1h0m-1-1h0m-2-3h0m0 1h0m-1-6h0m-2 11h0m-1-3h0m0-2h0m-1-1h0m-4 4h0m-1-9h0m-1 11h0m-1-6h0m-4-2h0m-7 5h0m-1-4h0m-2 2h0m-3 1h0m-3 5h0m4 9h0m2-7h0m1 6h0m1 2h0m3-1h0m2-7h0m7 9h0m0 0h0m1-1h0m2-4h0m3 3h0m1-3h0m0-3h0m1 6h0m0-7h0m1 6h0m0 3h0m0-5h0m2-5h0m2 2h0m1 6h0m3 2h0m0-4h0m10 3h0m1-4h0m9-2h0m5 0h0m11 6h0m13-4h0m3-5h0m21 11h0m-3 5h0m-11 4h0m-26-7h0m-16 3h0m-8-5h0m-9 7h0m0-7h0m-2 3h0m-2 3h0m-3 4h0m-1-2h0m-4-6h0m-3 0h0m-6 2h0m-1-4h0m-1 11h0m-3-3h0m-1 3h0m-2-8h0m-4 6h0m0-5h0m0-3h0m-1 4h0m8 12h0m4 6h0m0-8h0m1 5h0m3-7h0m1 3h0m1 1h0m1-1h0m2 0h0m2 6h0m4-9h0m0 3h0m1 0h0m1 0h0m1 3h0m2-6h0m1 3h0m0 0h0m1-3h0m1 7h0m1-7h0m0 10h0m0-1h0m2-5h0m21-5h0m12 3h0m30 2h0m-1 13h0m-44 2h0m-27-5h0m-5 4h0m-1 3h0m-2 1h0m-1-10h0m-2-1h0m-1 9h0m-1-3h0m0-6h0m-5 5h0m-4-5h0m18 12h0m0 10h0m1-9h0m1 6h0m1-2h0m1 0h0m5-4h0m1 7h0m1-8h0m0 0h0m0 8h0m3 1h0m1 0h0m38-1h0m13-4h0m17 7h0m1-2h0m-65 14h0m0-6h0m0 5h0m0 1h0m-1-5h0m0 3h0m-5 0h0m0 2h0m-1 0h0m-2-11h0m-1 0h0m-2 8h0m0 2h0m-4-6h0m0-4h0m0 4h0m-1 2h0m-3 3h0m-5 0h0m-1 8h0m2-2h0m5 2h0m1-1h0m5 6h0m1 0h0m1-3h0m0-4h0m1 7h0m9-6h0m41 3h0m-48 7h0m-9 2h0m-2-1h0" stroke="#d8404e" stroke-width="3.20" stroke-linecap="round" fill="none" />
</g>
<text x="421.0" y="104.7" text-anchor="middle" dominant-baseline="central" fill="#111" style="font-size:10px;font-style:italic" >Cd84</text>
<rect x="457.5" y="112.5" width="69.0" height="71.5" fill="#fff" stroke="#333" stroke-width="1.0" />
<use href="#bbase" transform="translate(457.5 113.1)"/>
<g transform="translate(457.5 113.1)">
<path d="M18.7 10.0C19.5 9.4 21.5 8.8 22.9 8.4C24.3 8.1 25.9 7.8 27.1 7.9C28.4 8.0 29.4 8.2 30.3 8.9C31.2 9.6 31.9 10.9 32.4 12.1C32.9 13.3 33.1 15.1 33.4 16.3C33.8 17.5 34.7 18.4 34.5 19.5C34.3 20.5 33.1 21.6 32.4 22.6C31.7 23.7 30.6 24.0 30.3 25.8C29.9 27.5 30.6 31.2 30.3 33.1C29.9 35.1 29.1 36.5 28.2 37.3C27.3 38.2 25.7 39.6 25.0 38.4C24.3 37.2 24.3 32.2 24.0 30.0C23.6 27.7 23.4 26.5 22.9 24.7C22.5 23.0 22.0 21.0 21.3 19.5C20.6 17.9 19.2 16.5 18.7 15.2C18.2 14.0 18.2 13.0 18.2 12.1C18.2 11.2 17.9 10.6 18.7 10.0Z" fill="#d8404e" fill-opacity="0.14"/>
<path d="M4.5 19.5C4.8 17.9 5.1 16.2 6.1 15.2C7.1 14.3 8.9 13.9 10.3 13.7C11.7 13.4 13.1 13.4 14.5 13.7C15.9 13.9 17.6 14.3 18.7 15.2C19.9 16.2 20.6 17.9 21.3 19.5C22.0 21.0 22.5 23.0 22.9 24.7C23.4 26.5 23.6 27.7 24.0 30.0C24.3 32.2 25.0 36.3 25.0 38.4C25.0 40.5 23.8 41.0 24.0 42.6C24.2 44.2 26.1 46.4 26.1 47.8C26.1 49.2 25.0 50.5 24.0 51.0C22.9 51.5 21.0 51.3 19.8 51.0C18.5 50.6 17.8 49.8 16.6 48.9C15.4 48.0 13.6 46.8 12.4 45.7C11.2 44.7 10.2 44.0 9.3 42.6C8.3 41.2 7.2 39.4 6.6 37.3C6.0 35.2 5.9 32.1 5.6 30.0C5.2 27.9 4.7 26.5 4.5 24.7C4.3 23.0 4.3 21.0 4.5 19.5Z" fill="#d8404e" fill-opacity="0.34"/>
<path d="M15.6 51.0C16.4 49.9 18.4 50.5 19.8 50.5C21.2 50.5 22.7 50.6 24.0 51.0C25.3 51.3 26.9 51.5 27.7 52.6C28.4 53.6 28.6 55.6 28.7 57.3C28.8 59.0 28.8 61.0 28.2 62.6C27.6 64.1 26.4 65.8 25.0 66.8C23.6 67.7 21.3 68.2 19.8 68.3C18.2 68.5 16.4 68.6 15.6 67.8C14.7 67.0 14.6 65.4 14.5 63.6C14.4 61.9 14.9 59.4 15.0 57.3C15.2 55.2 14.8 52.1 15.6 51.0Z" fill="#d8404e" fill-opacity="0.36"/>
<path transform="scale(0.5)" d="M84 21h0m-1-7h0m-4 3h0m-8 3h0m-20 1h0m-39 12h0m3 2h0m5-7h0m3 2h0m0 2h0m1-1h0m7 2h0m1 2h0m0-2h0m1-2h0m3 0h0m0 2h0m2-7h0m1 2h0m4 0h0m2 5h0m1-8h0m2 5h0m5 5h0m9-11h0m0 0h0m2 8h0m1 3h0m10-4h0m8-7h0m4 2h0m13 18h0m-37 1h0m-9 0h0m-2-1h0m-1 2h0m-1 0h0m-2-5h0m-1-2h0m-2-1h0m-1 7h0m-1-9h0m-3 4h0m-3 4h0m-1-7h0m-3 1h0m-2 8h0m0-10h0m-2 7h0m-10-4h0m0 0h0m-2 6h0m-2-7h0m-5 8h0m-1 0h0m0-2h0m4 6h0m3-1h0m2 4h0m1 5h0m0-7h0m1 1h0m1 3h0m0 4h0m1-2h0m1-4h0m3-4h0m1 0h0m1 3h0m2-4h0m1 9h0m0-6h0m0 7h0m2 0h0m4-2h0m0-2h0m3-5h0m3-1h0m5 3h0m4 1h0m25-4h0m1 16h0m-29-4h0m-1 6h0m-3-2h0m0 2h0m-2-3h0m-1-1h0m-1 1h0m-1 6h0m-2 0h0m-5-6h0m0 3h0m-3 5h0m-3-3h0m-2 3h0m-1-4h0m-1-2h0m-2-5h0m-2 2h0m0-2h0m-4 8h0m1 7h0m2-1h0m5-1h0m1 6h0m1-6h0m1 1h0m3 4h0m1 4h0m1-3h0m0 1h0m8-7h0m4 4h0m4-5h0m4 3h0m2-3h0m0 2h0m3-2h0m10 9h0m10-3h0m39 2h0m5 10h0m-28 2h0m-12 0h0m-29 3h0m-2-3h0m-1 3h0m-5-11h0m-1 9h0m0 1h0m-2-4h0m-4-4h0m-4-1h0m0 3h0m-3-4h0m2 23h0m5-11h0m9 4h0m4 4h0m1 0h0m4 10h0m-4 2h0m-2 0h0m-1-5h0m-4 2h0m-1 4h0m-4 2h0m-1 0h0m-1-6h0m-1 6h0m-3-11h0m-1 10h0m3 2h0m3 8h0m1-8h0m5 3h0m2-2h0m0 3h0m2 1h0m0 1h0m0 2h0m1-5h0m2 3h0m1 0h0m6-4h0m21 7h0m-39 7h0m-3 0h0" stroke="#cf8090" stroke-width="3.00" stroke-linecap="round" fill="none" />
<path transform="scale(0.5)" d="M78 23h0m-9 0h0m0-3h0m-3-5h0m-6 4h0m-3 1h0m0-3h0m-2 2h0m-2 2h0m-3 1h0m-36 12h0m1 1h0m5-2h0m3-3h0m1 0h0m3-2h0m1 2h0m4 1h0m2 0h0m1 1h0m3 0h0m1-4h0m0-1h0m0-2h0m0 3h0m0-1h0m13 6h0m3-4h0m2 1h0m3 1h0m0 2h0m1 1h0m2-2h0m1 0h0m6-7h0m10-1h0m5 2h0m-7 13h0m-1-2h0m-11 3h0m0 1h0m-1-1h0m-4 3h0m-3-6h0m-1 9h0m-2-1h0m-1 1h0m-1-4h0m-3 2h0m-7-1h0m0 0h0m0 3h0m-3-7h0m-3-2h0m0 3h0m-5 5h0m0-5h0m-1 2h0m0 4h0m-1-6h0m-2-2h0m-1 6h0m-1 3h0m0-4h0m-1-7h0m-6 5h0m0 5h0m0-4h0m0 5h0m-1 0h0m0-3h0m-1-3h0m-3 1h0m0 1h0m-1-4h0m0-2h0m-1 4h0m0 5h0m-1-7h0m0 8h0m-1 3h0m1 7h0m0-2h0m0-6h0m1 9h0m0-1h0m1-3h0m0 2h0m1 3h0m2-11h0m1 1h0m1-1h0m1 6h0m2 1h0m1-7h0m0 0h0m1 10h0m1-8h0m1-1h0m0 6h0m0-7h0m1 3h0m0 2h0m0-3h0m1 9h0m1-1h0m1-7h0m1 3h0m0 5h0m3-6h0m1 4h0m0-4h0m1 6h0m0-1h0m1-8h0m2 7h0m0-6h0m0-1h0m2 2h0m2 5h0m0-6h0m3 0h0m3-2h0m0 10h0m3-7h0m2-3h0m1 6h0m0-4h0m2 4h0m1 3h0m22 1h0m29-10h0m6 22h0m-12-11h0m-1 3h0m-15-3h0m-21 0h0m-10 10h0m-3-9h0m-1 7h0m0-6h0m-2-2h0m-1 0h0m-1 2h0m-1 0h0m-1 8h0m-1-6h0m-1 3h0m-1 4h0m0-7h0m-1 4h0m-1-2h0m0 1h0m0-5h0m-1-1h0m0 4h0m-2 6h0m-1-5h0m-1-5h0m0 10h0m-1-11h0m-1 6h0m0 5h0m0-1h0m-2-1h0m0-3h0m-1 2h0m-1 0h0m0-2h0m-1 3h0m-1-5h0m-2 6h0m-2-9h0m-1 4h0m0 6h0m-3-11h0m-2 3h0m0 7h0m0-8h0m-1 1h0m-1 6h0m-1-3h0m-1 8h0m1 2h0m0-3h0m1 5h0m2-6h0m0 6h0m2 5h0m1-4h0m0-6h0m1 1h0m1 4h0m2 5h0m2-4h0m0 1h0m1-5h0m2 4h0m4-7h0m1 10h0m0-2h0m2-5h0m1 1h0m2 7h0m0-7h0m3-2h0m2 7h0m2-7h0m3 7h0m0-7h0m6-1h0m24 2h0m0-1h0m24-1h0m1 3h0m25-4h0m-21 12h0m-9 4h0m-52 5h0m-1-7h0m0 0h0m-1-2h0m-4 11h0m-1-4h0m0 4h0m0-10h0m-1 1h0m-3 6h0m0-7h0m-1 7h0m0-4h0m-2-3h0m-2 8h0m-1-6h0m-1-3h0m-6 1h0m-2 2h0m16 16h0m2-7h0m1 4h0m0-3h0m1 2h0m0 3h0m0 1h0m2-2h0m1-1h0m2 6h0m1-8h0m0 9h0m1-9h0m0-1h0m0 7h0m3 1h0m2 2h0m52-5h0m2 3h0m6-1h0m-3 4h0m-13 11h0m-3-5h0m-20-2h0m-7 2h0m-12-6h0m-1 1h0m-2 9h0m-1-4h0m0-1h0m0 4h0m-1 1h0m-1-10h0m0 11h0m-2-5h0m-1 3h0m-1-2h0m0-7h0m-1 7h0m0-1h0m-1 3h0m0-6h0m-1 6h0m-1-3h0m-2 0h0m0 1h0m0 0h0m-1-5h0m-1 7h0m-3-6h0m0 1h0m-1 4h0m-1-7h0m0-1h0m-1 5h0m0 6h0m-1 7h0m1-2h0m2 2h0m2 4h0m0-8h0m0-2h0m1 0h0m0 10h0m3-6h0m1 7h0m0-11h0m2 3h0m0 3h0m2 4h0m2 1h0m0-9h0m1-2h0m1 9h0m3-3h0m0-5h0m1 8h0m2-5h0m0 0h0m1 1h0m0 0h0m1-4h0m1-1h0m37 8h0m-48 6h0m0-2h0m-3 2h0m-1 2h0m-3-3h0m-4 0h0m-2-1h0m-1 3h0m0-1h0" stroke="#d8404e" stroke-width="3.20" stroke-linecap="round" fill="none" />
</g>
<text x="492.0" y="104.7" text-anchor="middle" dominant-baseline="central" fill="#111" style="font-size:10px;font-style:italic" >Lyz2</text>
<rect x="529.5" y="112.5" width="69.0" height="71.5" fill="#fff" stroke="#333" stroke-width="1.0" />
<use href="#bbase" transform="translate(529.5 113.1)"/>
<g transform="translate(529.5 113.1)">
<linearGradient id="bg6" gradientUnits="userSpaceOnUse" x1="50" y1="0" x2="64" y2="0"><stop offset="0" stop-color="#d8404e" stop-opacity="0.01"/><stop offset="1" stop-color="#d8404e" stop-opacity="0.32"/></linearGradient>
<path d="M30.3 25.8C30.6 24.0 31.2 23.2 32.4 22.6C33.6 22.0 36.2 22.6 37.6 22.1C39.0 21.6 39.6 20.0 40.8 19.5C42.0 18.9 43.4 18.8 45.0 18.9C46.6 19.1 48.5 19.9 50.3 20.5C52.0 21.1 53.8 21.7 55.5 22.6C57.3 23.5 59.3 24.5 60.8 25.8C62.3 27.0 63.8 28.2 64.5 30.0C65.2 31.7 65.1 34.2 65.0 36.3C64.9 38.4 64.3 40.5 63.9 42.6C63.6 44.7 63.6 46.8 62.9 48.9C62.2 51.0 61.1 53.3 59.7 55.2C58.3 57.1 56.2 59.0 54.5 60.5C52.7 62.0 51.1 63.3 49.2 64.1C47.3 65.0 45.0 65.6 42.9 65.7C40.8 65.8 38.3 65.4 36.6 64.7C34.8 64.0 33.4 62.9 32.4 61.5C31.3 60.1 30.6 58.4 30.3 56.3C29.9 54.2 30.1 51.2 30.3 48.9C30.5 46.6 31.3 44.5 31.3 42.6C31.3 40.7 30.5 38.9 30.3 37.3C30.1 35.8 30.3 35.1 30.3 33.1C30.3 31.2 29.9 27.5 30.3 25.8Z" fill="url(#bg6)"/>
<path transform="scale(0.5)" d="M22 28h0m39 1h0m3-3h0m47 20h0m-99 8h0m43 3h0m55 1h0m2-10h0m1 3h0m8 5h0m2-1h0m6 7h0m-1 7h0m-2 0h0m-2-6h0m0 7h0m-7-1h0m0-5h0m-2 2h0m-1 3h0m-6-2h0m-6 1h0m-13-7h0m-34 1h0m56 19h0m11 1h0m1-1h0m1 0h0m3 5h0m0 4h0m-1 4h0m-1 0h0m-1-6h0m-1 6h0m-2-5h0m-2-5h0m-47 1h0m-32 13h0m67 1h0m2-2h0m3 8h0m7 2h0m1-7h0m1 1h0m-8 13h0" stroke="#cf8090" stroke-width="3.00" stroke-linecap="round" fill="none" />
<path transform="scale(0.5)" d="M80 14h0m-34 3h0m-11 16h0m10-9h0m7 9h0m14-7h0m8 4h0m11-6h0m19 20h0m-27-5h0m-25 5h0m-3-8h0m-17 4h0m77 9h0m5 6h0m0-5h0m10 7h0m3 2h0m1 1h0m-1 0h0m-2 6h0m-1-5h0m-5 1h0m0 2h0m-1 2h0m-3-3h0m0 7h0m-1-10h0m-1 6h0m0 3h0m-1 1h0m-1-3h0m-3-2h0m-4 5h0m-35-7h0m4 16h0m35 0h0m0-3h0m4-1h0m3-3h0m2 4h0m1 7h0m5-1h0m1-10h0m0 2h0m2 3h0m1 4h0m1-8h0m-2 17h0m-1 0h0m0 2h0m0-6h0m-2 0h0m-1 2h0m-1 0h0m0 7h0m-2-7h0m-1 4h0m-5 3h0m-1-7h0m-2-4h0m-7 4h0m-9-2h0m-9 14h0m22 0h0m7-3h0m0 1h0m2 2h0m1 1h0m1 2h0m1-2h0m0-4h0m2 0h0m1 1h0m1 3h0m-8 14h0m-3-6h0m-2 10h0m-5-2h0m0-1h0m0 0h0m-1 0h0m-30-8h0m0 1h0m0 6h0m-33 4h0m-10-9h0m6 17h0m35-6h0m-36 11h0" stroke="#d8404e" stroke-width="3.20" stroke-linecap="round" fill="none" />
</g>
<text x="564.0" y="104.7" text-anchor="middle" dominant-baseline="central" fill="#111" style="font-size:10px;font-style:italic" >Gsn</text>
<rect x="600.5" y="112.5" width="69.0" height="71.5" fill="#fff" stroke="#333" stroke-width="1.0" />
<use href="#bbase" transform="translate(600.5 113.1)"/>
<g transform="translate(600.5 113.1)">
<linearGradient id="bg7" gradientUnits="userSpaceOnUse" x1="44" y1="46" x2="62" y2="30"><stop offset="0" stop-color="#d8404e" stop-opacity="0.02"/><stop offset="1" stop-color="#d8404e" stop-opacity="0.43"/></linearGradient>
<path d="M30.3 25.8C30.6 24.0 31.2 23.2 32.4 22.6C33.6 22.0 36.2 22.6 37.6 22.1C39.0 21.6 39.6 20.0 40.8 19.5C42.0 18.9 43.4 18.8 45.0 18.9C46.6 19.1 48.5 19.9 50.3 20.5C52.0 21.1 53.8 21.7 55.5 22.6C57.3 23.5 59.3 24.5 60.8 25.8C62.3 27.0 63.8 28.2 64.5 30.0C65.2 31.7 65.1 34.2 65.0 36.3C64.9 38.4 64.3 40.5 63.9 42.6C63.6 44.7 63.6 46.8 62.9 48.9C62.2 51.0 61.1 53.3 59.7 55.2C58.3 57.1 56.2 59.0 54.5 60.5C52.7 62.0 51.1 63.3 49.2 64.1C47.3 65.0 45.0 65.6 42.9 65.7C40.8 65.8 38.3 65.4 36.6 64.7C34.8 64.0 33.4 62.9 32.4 61.5C31.3 60.1 30.6 58.4 30.3 56.3C29.9 54.2 30.1 51.2 30.3 48.9C30.5 46.6 31.3 44.5 31.3 42.6C31.3 40.7 30.5 38.9 30.3 37.3C30.1 35.8 30.3 35.1 30.3 33.1C30.3 31.2 29.9 27.5 30.3 25.8Z" fill="url(#bg7)"/>
<path transform="scale(0.5)" d="M71 9h0m7 13h0m-6 0h0m-27 5h0m7 8h0m23-1h0m27 13h0m0 0h0m-7-6h0m-2-1h0m-1 2h0m0 1h0m0 1h0m-3 0h0m-2 0h0m0-1h0m-1 0h0m-1 0h0m-23 3h0m0-1h0m-1 1h0m-16-3h0m-1-7h0m-15 6h0m-7 1h0m-1 3h0m28 4h0m5 7h0m15 2h0m4-10h0m1 6h0m6-2h0m5 6h0m6-8h0m0-3h0m2 5h0m1 5h0m2 1h0m2-3h0m0-6h0m1 5h0m3-4h0m3 7h0m1-3h0m12 3h0m1-6h0m0 5h0m1 2h0m1-2h0m2-2h0m5 10h0m-1-1h0m-7-2h0m-2 7h0m-1 0h0m-2-3h0m-8-2h0m-3 0h0m-3-4h0m-1 10h0m0-3h0m-2 4h0m-1-8h0m-5 2h0m-2 5h0m-2-7h0m0 0h0m-3 8h0m-4 0h0m-10-10h0m-51 8h0m-8-6h0m20 13h0m17 2h0m8-6h0m15 7h0m18 1h0m2-1h0m1-2h0m1-5h0m0 0h0m10 4h0m6 7h0m2-10h0m1 5h0m1-6h0m7 1h0m5 4h0m0 0h0m0 5h0m4-9h0m-2 11h0m-2 2h0m-8 0h0m-4 8h0m-5-9h0m-3 2h0m-4 0h0m-10 0h0m-2-3h0m-66 1h0m18 21h0m4-1h0m3-7h0m59 9h0m5-6h0m2-5h0m4 5h0m0-3h0m-18 11h0m-51 8h0m-16 2h0m-4 2h0" stroke="#cf8090" stroke-width="3.00" stroke-linecap="round" fill="none" />
<path transform="scale(0.5)" d="M78 9h0m5 8h0m-3-4h0m-7 7h0m-2-1h0m-1-1h0m-3-2h0m-11 5h0m-3-3h0m-34 14h0m4-2h0m15-4h0m25 6h0m5-1h0m1 3h0m5-9h0m1 7h0m0-3h0m1 3h0m34 13h0m-4 0h0m-1 0h0m0 1h0m-2-2h0m-1 1h0m-2-2h0m-3 4h0m-2-5h0m-2-3h0m-7 1h0m0-2h0m-1 4h0m-4-6h0m0 8h0m-3 3h0m-3 0h0m-1-6h0m-8-3h0m-4 8h0m-6-3h0m-10-5h0m-1 3h0m-5 4h0m-30-8h0m15 15h0m9-4h0m14 8h0m18-5h0m4-2h0m2 9h0m1-10h0m1 8h0m1 2h0m4-8h0m2 1h0m3 6h0m0-6h0m4 8h0m9-3h0m1-1h0m1-7h0m1 8h0m0-2h0m3-6h0m1 9h0m3-7h0m1 7h0m1-3h0m1 5h0m0-10h0m1 6h0m3 1h0m2-5h0m1 7h0m1-1h0m1-7h0m0 8h0m3-2h0m4 1h0m0 0h0m3 9h0m0 2h0m0-2h0m-2 0h0m-1-6h0m-1 5h0m-7-1h0m0 0h0m-4 7h0m0-3h0m-2-1h0m0-1h0m0-5h0m-1-1h0m-4 7h0m-4-1h0m-9-5h0m-9 7h0m-4-8h0m-14 11h0m-10-6h0m-5 2h0m-11 5h0m35 4h0m0 5h0m16-4h0m2-1h0m3-3h0m3 2h0m1-3h0m1 0h0m1 3h0m1 1h0m4 7h0m1 0h0m1-10h0m0 3h0m1 3h0m2-4h0m1-3h0m4 8h0m2-5h0m0 0h0m2-2h0m0-1h0m2 9h0m3 1h0m2-10h0m-4 15h0m0 4h0m-3 4h0m-3-10h0m-1 9h0m0-8h0m-1-1h0m-5 5h0m0 3h0m-3-2h0m-1-7h0m-1 0h0m-1 6h0m0-4h0m-7 8h0m-3 1h0m-4-8h0m0-1h0m-47 14h0m28 4h0m3-2h0m17 1h0m13-5h0m4 1h0m0 2h0m1 2h0m4-6h0m0 1h0m5 3h0m-10 7h0m0 4h0m-19 1h0m-10 1h0m-30 2h0m-14-4h0m-4 13h0m61-5h0" stroke="#d8404e" stroke-width="3.20" stroke-linecap="round" fill="none" />
</g>
<text x="635.0" y="104.7" text-anchor="middle" dominant-baseline="central" fill="#111" style="font-size:10px;font-style:italic" >Ogn</text>
<defs><linearGradient id="gB" x1="0" y1="0" x2="0" y2="1"><stop offset="0" stop-color="#e2193f"/><stop offset="0.5" stop-color="#cc6a84"/><stop offset="1" stop-color="#86b3d6"/></linearGradient></defs>
<rect x="673.1" y="78.8" width="4.8" height="47.9" fill="url(#gB)" />
<line x1="673.1" y1="84.6" x2="674.3" y2="84.6" stroke="#fff" stroke-width="0.6" />
<line x1="676.7" y1="84.6" x2="677.9" y2="84.6" stroke="#fff" stroke-width="0.6" />
<text x="679.5" y="84.6" dominant-baseline="central" fill="#111" style="font-size:9px" >5</text>
<line x1="673.1" y1="93.8" x2="674.3" y2="93.8" stroke="#fff" stroke-width="0.6" />
<line x1="676.7" y1="93.8" x2="677.9" y2="93.8" stroke="#fff" stroke-width="0.6" />
<text x="679.5" y="93.8" dominant-baseline="central" fill="#111" style="font-size:9px" >4</text>
<line x1="673.1" y1="103.0" x2="674.3" y2="103.0" stroke="#fff" stroke-width="0.6" />
<line x1="676.7" y1="103.0" x2="677.9" y2="103.0" stroke="#fff" stroke-width="0.6" />
<text x="679.5" y="103.0" dominant-baseline="central" fill="#111" style="font-size:9px" >3</text>
<line x1="673.1" y1="112.2" x2="674.3" y2="112.2" stroke="#fff" stroke-width="0.6" />
<line x1="676.7" y1="112.2" x2="677.9" y2="112.2" stroke="#fff" stroke-width="0.6" />
<text x="679.5" y="112.2" dominant-baseline="central" fill="#111" style="font-size:9px" >2</text>
<line x1="673.1" y1="121.4" x2="674.3" y2="121.4" stroke="#fff" stroke-width="0.6" />
<line x1="676.7" y1="121.4" x2="677.9" y2="121.4" stroke="#fff" stroke-width="0.6" />
<text x="679.5" y="121.4" dominant-baseline="central" fill="#111" style="font-size:9px" >1</text>
<text x="1.2" y="236.0" fill="#000" style="font-size:18px;font-weight:bold" >C</text>
<style>.hm rect{height:21.56px;width:2.20px}</style>
<g class="hm" transform="translate(0 249.60)">
<rect x="106.00" fill="#e7403e"/>
<rect x="107.85" fill="#e8433d"/>
<rect x="109.69" fill="#ea4b3a"/>
<rect x="111.54" fill="#e73d3f"/>
<rect x="113.38" fill="#e8413e"/>
<rect x="115.23" fill="#e7413e"/>
<rect x="117.07" fill="#e8423d"/>
<rect x="118.92" fill="#e53941"/>
<rect x="120.76" fill="#e63d3f"/>
<rect x="122.61" fill="#e63b40"/>
<rect x="124.45" fill="#e8453c"/>
<rect x="126.30" fill="#e9463c"/>
<rect x="128.15" fill="#ea4a3a"/>
<rect x="129.99" fill="#e8453c"/>
<rect x="131.84" fill="#ec5636"/>
<rect x="133.68" fill="#e53841"/>
<rect x="135.53" fill="#e8423d"/>
<rect x="137.37" fill="#e8433d"/>
<rect x="139.22" fill="#e73d3f"/>
<rect x="141.06" fill="#e9463c"/>
<rect x="142.91" fill="#e8423e"/>
<rect x="144.75" fill="#e73e3f"/>
<rect x="146.60" fill="#fdaa36"/>
<rect x="148.45" fill="#fdebc1"/>
<rect x="150.29" fill="#7cacaf"/>
<rect x="152.14" fill="#87b3b3"/>
<rect x="153.98" fill="#639ba6"/>
<rect x="155.83" fill="#6ba1a9"/>
<rect x="157.67" fill="#9fc2bb"/>
<rect x="159.52" fill="#a9c9bf"/>
<rect x="161.36" fill="#70a4aa"/>
<rect x="163.21" fill="#84b1b1"/>
<rect x="165.05" fill="#99beb9"/>
<rect x="166.90" fill="#5087ae"/>
<rect x="168.75" fill="#9abfba"/>
<rect x="170.59" fill="#7faeb0"/>
<rect x="172.44" fill="#a9c9bf"/>
<rect x="174.28" fill="#639ba6"/>
<rect x="176.13" fill="#80aeb0"/>
<rect x="177.97" fill="#9dc1bb"/>
<rect x="179.82" fill="#77a8ad"/>
<rect x="181.66" fill="#6ba1a9"/>
<rect x="183.51" fill="#fdfbe6"/>
<rect x="185.35" fill="#e8efdc"/>
<rect x="187.20" fill="#fdf0cd"/>
<rect x="189.05" fill="#b5d0c4"/>
<rect x="190.89" fill="#a5c7be"/>
<rect x="192.74" fill="#c2d9ca"/>
<rect x="194.58" fill="#98beb9"/>
<rect x="196.43" fill="#91b9b6"/>
<rect x="198.27" fill="#f2f5e1"/>
<rect x="200.12" fill="#a2c5bd"/>
<rect x="201.96" fill="#d6e5d3"/>
<rect x="203.81" fill="#aeccc1"/>
<rect x="205.65" fill="#abcbc0"/>
<rect x="207.50" fill="#bcd5c8"/>
<rect x="209.35" fill="#9dc1bb"/>
<rect x="211.19" fill="#9ec2bb"/>
<rect x="213.04" fill="#accbc0"/>
<rect x="214.88" fill="#a8c8bf"/>
<rect x="216.73" fill="#c1d8ca"/>
<rect x="218.57" fill="#e1ebd9"/>
<rect x="220.42" fill="#96bdb8"/>
<rect x="222.26" fill="#fdfbe6"/>
<rect x="224.11" fill="#fdf6da"/>
<rect x="225.95" fill="#bcd5c8"/>
<rect x="227.80" fill="#cadece"/>
<rect x="229.65" fill="#b6d1c5"/>
<rect x="231.49" fill="#c5dacc"/>
<rect x="233.34" fill="#bed6c8"/>
<rect x="235.18" fill="#adcbc1"/>
<rect x="237.03" fill="#c3d9cb"/>
<rect x="238.87" fill="#adccc1"/>
<rect x="240.72" fill="#c4dacb"/>
<rect x="242.56" fill="#b9d3c6"/>
<rect x="244.41" fill="#bcd5c8"/>
<rect x="246.25" fill="#d7e5d4"/>
<rect x="248.10" fill="#cfe0d0"/>
<rect x="249.95" fill="#c3d9cb"/>
<rect x="251.79" fill="#c3d9cb"/>
<rect x="253.64" fill="#b6d1c5"/>
<rect x="255.48" fill="#ccdecf"/>
<rect x="257.33" fill="#c5dacc"/>
<rect x="259.17" fill="#b5d0c4"/>
<rect x="261.02" fill="#accbc0"/>
<rect x="262.86" fill="#bed6c9"/>
<rect x="264.71" fill="#bcd5c8"/>
<rect x="266.55" fill="#c8dccd"/>
<rect x="268.40" fill="#c5dacc"/>
<rect x="270.25" fill="#77a9ad"/>
<rect x="272.09" fill="#8eb8b5"/>
<rect x="273.94" fill="#b7d2c5"/>
<rect x="275.78" fill="#98beb9"/>
<rect x="277.63" fill="#9bc0ba"/>
<rect x="279.47" fill="#77a8ad"/>
<rect x="281.32" fill="#6097a8"/>
<rect x="283.16" fill="#88b3b3"/>
<rect x="285.01" fill="#7aaaae"/>
<rect x="286.85" fill="#8bb6b4"/>
<rect x="288.70" fill="#5c93a9"/>
<rect x="290.55" fill="#85b2b2"/>
<rect x="292.39" fill="#89b4b3"/>
<rect x="294.24" fill="#7dacaf"/>
<rect x="296.08" fill="#90b9b6"/>
<rect x="297.93" fill="#89b4b3"/>
<rect x="299.77" fill="#8bb5b4"/>
<rect x="301.62" fill="#9ec2bb"/>
<rect x="303.46" fill="#9ec2bb"/>
<rect x="305.31" fill="#9cc1ba"/>
<rect x="307.15" fill="#8eb7b5"/>
</g>
<g class="hm" transform="translate(0 270.86)">
<rect x="106.00" fill="#bfd7c9"/>
<rect x="107.85" fill="#c3d9cb"/>
<rect x="109.69" fill="#c1d8ca"/>
<rect x="111.54" fill="#b8d2c6"/>
<rect x="113.38" fill="#c2d8ca"/>
<rect x="115.23" fill="#c6dbcc"/>
<rect x="117.07" fill="#bbd4c7"/>
<rect x="118.92" fill="#b4d0c4"/>
<rect x="120.76" fill="#c3d9cb"/>
<rect x="122.61" fill="#b7d2c6"/>
<rect x="124.45" fill="#b1cec3"/>
<rect x="126.30" fill="#bcd5c8"/>
<rect x="128.15" fill="#b1cec3"/>
<rect x="129.99" fill="#c1d8ca"/>
<rect x="131.84" fill="#bad3c7"/>
<rect x="133.68" fill="#bfd7c9"/>
<rect x="135.53" fill="#c8dccd"/>
<rect x="137.37" fill="#c8dccd"/>
<rect x="139.22" fill="#bdd6c8"/>
<rect x="141.06" fill="#aacabf"/>
<rect x="142.91" fill="#bad3c7"/>
<rect x="144.75" fill="#b4d0c4"/>
<rect x="146.60" fill="#fde0a8"/>
<rect x="148.45" fill="#ed5835"/>
<rect x="150.29" fill="#ea4a3a"/>
<rect x="152.14" fill="#f16a2e"/>
<rect x="153.98" fill="#f16b2d"/>
<rect x="155.83" fill="#f1692e"/>
<rect x="157.67" fill="#f57c27"/>
<rect x="159.52" fill="#f06530"/>
<rect x="161.36" fill="#f57b27"/>
<rect x="163.21" fill="#f98a21"/>
<rect x="165.05" fill="#f4742a"/>
<rect x="166.90" fill="#ec5636"/>
<rect x="168.75" fill="#f57928"/>
<rect x="170.59" fill="#fb951d"/>
<rect x="172.44" fill="#ee5e33"/>
<rect x="174.28" fill="#f3712b"/>
<rect x="176.13" fill="#f26c2d"/>
<rect x="177.97" fill="#f67e26"/>
<rect x="179.82" fill="#f26d2d"/>
<rect x="181.66" fill="#ec5636"/>
<rect x="183.51" fill="#f68125"/>
<rect x="185.35" fill="#fd9d1a"/>
<rect x="187.20" fill="#d3e3d2"/>
<rect x="189.05" fill="#bdd5c8"/>
<rect x="190.89" fill="#d0e1d1"/>
<rect x="192.74" fill="#fdf3d3"/>
<rect x="194.58" fill="#fdf6da"/>
<rect x="196.43" fill="#e9efdc"/>
<rect x="198.27" fill="#b8d3c6"/>
<rect x="200.12" fill="#e8efdc"/>
<rect x="201.96" fill="#dae7d5"/>
<rect x="203.81" fill="#e8efdc"/>
<rect x="205.65" fill="#bed6c9"/>
<rect x="207.50" fill="#bed6c9"/>
<rect x="209.35" fill="#a5c6bd"/>
<rect x="211.19" fill="#ccdfcf"/>
<rect x="213.04" fill="#cadece"/>
<rect x="214.88" fill="#d8e6d4"/>
<rect x="216.73" fill="#e5edda"/>
<rect x="218.57" fill="#d0e1d1"/>
<rect x="220.42" fill="#c6dbcc"/>
<rect x="222.26" fill="#e4edda"/>
<rect x="224.11" fill="#ccdfcf"/>
<rect x="225.95" fill="#ccdfcf"/>
<rect x="227.80" fill="#b4d0c4"/>
<rect x="229.65" fill="#c8dccd"/>
<rect x="231.49" fill="#b8d2c6"/>
<rect x="233.34" fill="#d0e1d0"/>
<rect x="235.18" fill="#b7d1c5"/>
<rect x="237.03" fill="#bad3c7"/>
<rect x="238.87" fill="#bfd7c9"/>
<rect x="240.72" fill="#b8d2c6"/>
<rect x="242.56" fill="#b1cec3"/>
<rect x="244.41" fill="#b4d0c4"/>
<rect x="246.25" fill="#b7d2c5"/>
<rect x="248.10" fill="#bcd5c8"/>
<rect x="249.95" fill="#c7dccd"/>
<rect x="251.79" fill="#c4dacb"/>
<rect x="253.64" fill="#c1d8ca"/>
<rect x="255.48" fill="#c6dbcc"/>
<rect x="257.33" fill="#abcac0"/>
<rect x="259.17" fill="#b9d3c6"/>
<rect x="261.02" fill="#b9d3c6"/>
<rect x="262.86" fill="#b5d0c4"/>
<rect x="264.71" fill="#c3d9cb"/>
<rect x="266.55" fill="#b8d3c6"/>
<rect x="268.40" fill="#fdf0cd"/>
<rect x="270.25" fill="#fdf6da"/>
<rect x="272.09" fill="#fde1a9"/>
<rect x="273.94" fill="#fddca0"/>
<rect x="275.78" fill="#fde5b3"/>
<rect x="277.63" fill="#fdcd80"/>
<rect x="279.47" fill="#fdd898"/>
<rect x="281.32" fill="#fdc672"/>
<rect x="283.16" fill="#fdbd5d"/>
<rect x="285.01" fill="#fdd087"/>
<rect x="286.85" fill="#fddea3"/>
<rect x="288.70" fill="#fde1ab"/>
<rect x="290.55" fill="#fdc46c"/>
<rect x="292.39" fill="#fddc9f"/>
<rect x="294.24" fill="#fdd188"/>
<rect x="296.08" fill="#fdd693"/>
<rect x="297.93" fill="#fdefc9"/>
<rect x="299.77" fill="#fdd795"/>
<rect x="301.62" fill="#fdd795"/>
<rect x="303.46" fill="#fdd694"/>
<rect x="305.31" fill="#fddb9d"/>
<rect x="307.15" fill="#fdd693"/>
</g>
<g class="hm" transform="translate(0 292.12)">
<rect x="106.00" fill="#b3cfc4"/>
<rect x="107.85" fill="#c5dacc"/>
<rect x="109.69" fill="#b9d3c6"/>
<rect x="111.54" fill="#c0d7c9"/>
<rect x="113.38" fill="#d0e1d1"/>
<rect x="115.23" fill="#c1d8ca"/>
<rect x="117.07" fill="#b3cfc4"/>
<rect x="118.92" fill="#c2d9ca"/>
<rect x="120.76" fill="#afcdc2"/>
<rect x="122.61" fill="#c0d7c9"/>
<rect x="124.45" fill="#cddfcf"/>
<rect x="126.30" fill="#b3cfc4"/>
<rect x="128.15" fill="#bdd5c8"/>
<rect x="129.99" fill="#b5d0c4"/>
<rect x="131.84" fill="#c0d7c9"/>
<rect x="133.68" fill="#c2d8ca"/>
<rect x="135.53" fill="#c0d7c9"/>
<rect x="137.37" fill="#bbd4c7"/>
<rect x="139.22" fill="#aacabf"/>
<rect x="141.06" fill="#b5d0c4"/>
<rect x="142.91" fill="#fdfbe6"/>
<rect x="144.75" fill="#e8efdc"/>
<rect x="146.60" fill="#70a4aa"/>
<rect x="148.45" fill="#b4d0c4"/>
<rect x="150.29" fill="#fdfbe6"/>
<rect x="152.14" fill="#d3e3d2"/>
<rect x="153.98" fill="#fdf0cd"/>
<rect x="155.83" fill="#e8efdc"/>
<rect x="157.67" fill="#87b3b3"/>
<rect x="159.52" fill="#a2c4bc"/>
<rect x="161.36" fill="#a9c9bf"/>
<rect x="163.21" fill="#7cacaf"/>
<rect x="165.05" fill="#b8d2c6"/>
<rect x="166.90" fill="#89b4b3"/>
<rect x="168.75" fill="#aeccc1"/>
<rect x="170.59" fill="#8fb8b6"/>
<rect x="172.44" fill="#79aaae"/>
<rect x="174.28" fill="#c5dacc"/>
<rect x="176.13" fill="#90b9b6"/>
<rect x="177.97" fill="#9ec2bb"/>
<rect x="179.82" fill="#77a9ad"/>
<rect x="181.66" fill="#86b2b2"/>
<rect x="183.51" fill="#a3c5bd"/>
<rect x="185.35" fill="#93bbb7"/>
<rect x="187.20" fill="#e9473c"/>
<rect x="189.05" fill="#e7403e"/>
<rect x="190.89" fill="#ea4c3a"/>
<rect x="192.74" fill="#e53642"/>
<rect x="194.58" fill="#e9483b"/>
<rect x="196.43" fill="#e7413e"/>
<rect x="198.27" fill="#e8443d"/>
<rect x="200.12" fill="#e63d40"/>
<rect x="201.96" fill="#e9463c"/>
<rect x="203.81" fill="#e9493b"/>
<rect x="205.65" fill="#e8423e"/>
<rect x="207.50" fill="#e73f3f"/>
<rect x="209.35" fill="#e8443d"/>
<rect x="211.19" fill="#e53642"/>
<rect x="213.04" fill="#e73e3f"/>
<rect x="214.88" fill="#e63a41"/>
<rect x="216.73" fill="#e63b40"/>
<rect x="218.57" fill="#e63c40"/>
<rect x="220.42" fill="#e8453d"/>
<rect x="222.26" fill="#e53841"/>
<rect x="224.11" fill="#e9463c"/>
<rect x="225.95" fill="#e8423d"/>
<rect x="227.80" fill="#dfead8"/>
<rect x="229.65" fill="#d8e6d4"/>
<rect x="231.49" fill="#c1d8ca"/>
<rect x="233.34" fill="#c9ddcd"/>
<rect x="235.18" fill="#c3d9cb"/>
<rect x="237.03" fill="#dbe8d6"/>
<rect x="238.87" fill="#c8dccd"/>
<rect x="240.72" fill="#ccdfcf"/>
<rect x="242.56" fill="#c5dacc"/>
<rect x="244.41" fill="#c7dbcc"/>
<rect x="246.25" fill="#d3e3d2"/>
<rect x="248.10" fill="#c2d8ca"/>
<rect x="249.95" fill="#cddfcf"/>
<rect x="251.79" fill="#c7dccd"/>
<rect x="253.64" fill="#c8dccd"/>
<rect x="255.48" fill="#bfd6c9"/>
<rect x="257.33" fill="#dbe8d6"/>
<rect x="259.17" fill="#bbd4c7"/>
<rect x="261.02" fill="#bfd7c9"/>
<rect x="262.86" fill="#c8dccd"/>
<rect x="264.71" fill="#cddfcf"/>
<rect x="266.55" fill="#c4dacb"/>
<rect x="268.40" fill="#86b2b2"/>
<rect x="270.25" fill="#95bcb8"/>
<rect x="272.09" fill="#8eb8b5"/>
<rect x="273.94" fill="#93bab7"/>
<rect x="275.78" fill="#b0cdc2"/>
<rect x="277.63" fill="#81afb0"/>
<rect x="279.47" fill="#9bc0ba"/>
<rect x="281.32" fill="#a0c3bc"/>
<rect x="283.16" fill="#96bdb8"/>
<rect x="285.01" fill="#97bdb8"/>
<rect x="286.85" fill="#a9c9bf"/>
<rect x="288.70" fill="#99beb9"/>
<rect x="290.55" fill="#85b1b2"/>
<rect x="292.39" fill="#96bdb8"/>
<rect x="294.24" fill="#a0c3bc"/>
<rect x="296.08" fill="#96bdb8"/>
<rect x="297.93" fill="#94bbb7"/>
<rect x="299.77" fill="#9dc1bb"/>
<rect x="301.62" fill="#95bcb8"/>
<rect x="303.46" fill="#9dc1bb"/>
<rect x="305.31" fill="#a4c5bd"/>
<rect x="307.15" fill="#93bbb7"/>
</g>
<g class="hm" transform="translate(0 313.38)">
<rect x="106.00" fill="#a0c3bc"/>
<rect x="107.85" fill="#bed6c8"/>
<rect x="109.69" fill="#b4d0c4"/>
<rect x="111.54" fill="#a8c8bf"/>
<rect x="113.38" fill="#a1c4bc"/>
<rect x="115.23" fill="#b0cdc2"/>
<rect x="117.07" fill="#b2cfc3"/>
<rect x="118.92" fill="#b5d0c4"/>
<rect x="120.76" fill="#b4d0c4"/>
<rect x="122.61" fill="#abcac0"/>
<rect x="124.45" fill="#accbc0"/>
<rect x="126.30" fill="#a0c3bc"/>
<rect x="128.15" fill="#a8c8bf"/>
<rect x="129.99" fill="#abcac0"/>
<rect x="131.84" fill="#bbd4c7"/>
<rect x="133.68" fill="#a2c5bd"/>
<rect x="135.53" fill="#c3d9cb"/>
<rect x="137.37" fill="#e8efdc"/>
<rect x="139.22" fill="#d3e3d2"/>
<rect x="141.06" fill="#aac9bf"/>
<rect x="142.91" fill="#b2cfc3"/>
<rect x="144.75" fill="#b4d0c4"/>
<rect x="146.60" fill="#477cb3"/>
<rect x="148.45" fill="#568dac"/>
<rect x="150.29" fill="#6199a7"/>
<rect x="152.14" fill="#6aa0a8"/>
<rect x="153.98" fill="#70a4aa"/>
<rect x="155.83" fill="#6aa0a8"/>
<rect x="157.67" fill="#639ba6"/>
<rect x="159.52" fill="#689fa7"/>
<rect x="161.36" fill="#6098a8"/>
<rect x="163.21" fill="#7aaaae"/>
<rect x="165.05" fill="#70a4aa"/>
<rect x="166.90" fill="#699fa8"/>
<rect x="168.75" fill="#6097a8"/>
<rect x="170.59" fill="#649ca6"/>
<rect x="172.44" fill="#699fa8"/>
<rect x="174.28" fill="#659da6"/>
<rect x="176.13" fill="#79aaae"/>
<rect x="177.97" fill="#7eadb0"/>
<rect x="179.82" fill="#71a4ab"/>
<rect x="181.66" fill="#5b92aa"/>
<rect x="183.51" fill="#4b81b1"/>
<rect x="185.35" fill="#477cb3"/>
<rect x="187.20" fill="#94bcb8"/>
<rect x="189.05" fill="#bed6c9"/>
<rect x="190.89" fill="#6fa3aa"/>
<rect x="192.74" fill="#77a9ad"/>
<rect x="194.58" fill="#87b3b3"/>
<rect x="196.43" fill="#a5c6bd"/>
<rect x="198.27" fill="#8cb6b4"/>
<rect x="200.12" fill="#6aa0a8"/>
<rect x="201.96" fill="#9cc1ba"/>
<rect x="203.81" fill="#a2c5bd"/>
<rect x="205.65" fill="#afcdc2"/>
<rect x="207.50" fill="#fdf6da"/>
<rect x="209.35" fill="#e8efdc"/>
<rect x="211.19" fill="#c5dacc"/>
<rect x="213.04" fill="#a7c8be"/>
<rect x="214.88" fill="#aeccc1"/>
<rect x="216.73" fill="#8fb8b5"/>
<rect x="218.57" fill="#8cb6b5"/>
<rect x="220.42" fill="#aeccc1"/>
<rect x="222.26" fill="#85b1b2"/>
<rect x="224.11" fill="#81afb1"/>
<rect x="225.95" fill="#d3e3d2"/>
<rect x="227.80" fill="#e7403e"/>
<rect x="229.65" fill="#e73d3f"/>
<rect x="231.49" fill="#e9473c"/>
<rect x="233.34" fill="#e7403e"/>
<rect x="235.18" fill="#e9493b"/>
<rect x="237.03" fill="#ea4b3a"/>
<rect x="238.87" fill="#e43343"/>
<rect x="240.72" fill="#e9483b"/>
<rect x="242.56" fill="#ea4d39"/>
<rect x="244.41" fill="#e7413e"/>
<rect x="246.25" fill="#e9483b"/>
<rect x="248.10" fill="#e73f3f"/>
<rect x="249.95" fill="#ec5437"/>
<rect x="251.79" fill="#ea4b3a"/>
<rect x="253.64" fill="#e63d40"/>
<rect x="255.48" fill="#e8423e"/>
<rect x="257.33" fill="#e94a3b"/>
<rect x="259.17" fill="#e63a41"/>
<rect x="261.02" fill="#e63d40"/>
<rect x="262.86" fill="#e9463c"/>
<rect x="264.71" fill="#e63c40"/>
<rect x="266.55" fill="#e73f3f"/>
<rect x="268.40" fill="#70a4aa"/>
<rect x="270.25" fill="#76a8ac"/>
<rect x="272.09" fill="#82b0b1"/>
<rect x="273.94" fill="#72a5ab"/>
<rect x="275.78" fill="#6ba1a9"/>
<rect x="277.63" fill="#79aaae"/>
<rect x="279.47" fill="#89b4b3"/>
<rect x="281.32" fill="#81afb1"/>
<rect x="283.16" fill="#73a5ab"/>
<rect x="285.01" fill="#6299a7"/>
<rect x="286.85" fill="#89b4b3"/>
<rect x="288.70" fill="#7cacaf"/>
<rect x="290.55" fill="#89b4b4"/>
<rect x="292.39" fill="#7eadaf"/>
<rect x="294.24" fill="#79a9ad"/>
<rect x="296.08" fill="#82afb1"/>
<rect x="297.93" fill="#76a8ac"/>
<rect x="299.77" fill="#78a9ad"/>
<rect x="301.62" fill="#73a6ac"/>
<rect x="303.46" fill="#639ba6"/>
<rect x="305.31" fill="#8cb6b5"/>
<rect x="307.15" fill="#8db7b5"/>
</g>
<g class="hm" transform="translate(0 334.64)">
<rect x="106.00" fill="#e8efdc"/>
<rect x="107.85" fill="#c0d7c9"/>
<rect x="109.69" fill="#e1ebd9"/>
<rect x="111.54" fill="#cadece"/>
<rect x="113.38" fill="#c0d7ca"/>
<rect x="115.23" fill="#b8d2c6"/>
<rect x="117.07" fill="#d8e6d4"/>
<rect x="118.92" fill="#d2e2d2"/>
<rect x="120.76" fill="#bcd5c8"/>
<rect x="122.61" fill="#ccdecf"/>
<rect x="124.45" fill="#bbd4c7"/>
<rect x="126.30" fill="#c1d8ca"/>
<rect x="128.15" fill="#d0e1d1"/>
<rect x="129.99" fill="#c2d8ca"/>
<rect x="131.84" fill="#bdd6c8"/>
<rect x="133.68" fill="#b5d1c5"/>
<rect x="135.53" fill="#cbdece"/>
<rect x="137.37" fill="#c2d9cb"/>
<rect x="139.22" fill="#b8d2c6"/>
<rect x="141.06" fill="#dde9d7"/>
<rect x="142.91" fill="#bdd6c8"/>
<rect x="144.75" fill="#bfd7c9"/>
<rect x="146.60" fill="#fdebc1"/>
<rect x="148.45" fill="#fdc875"/>
<rect x="150.29" fill="#fdbf61"/>
<rect x="152.14" fill="#fdf8e0"/>
<rect x="153.98" fill="#fdce82"/>
<rect x="155.83" fill="#fddb9d"/>
<rect x="157.67" fill="#fdc977"/>
<rect x="159.52" fill="#fdebc1"/>
<rect x="161.36" fill="#fdbf63"/>
<rect x="163.21" fill="#fb941e"/>
<rect x="165.05" fill="#fdbd5d"/>
<rect x="166.90" fill="#fdda9b"/>
<rect x="168.75" fill="#fdb955"/>
<rect x="170.59" fill="#fdc56e"/>
<rect x="172.44" fill="#f88723"/>
<rect x="174.28" fill="#fdc56f"/>
<rect x="176.13" fill="#fda429"/>
<rect x="177.97" fill="#f57b27"/>
<rect x="179.82" fill="#fdb54d"/>
<rect x="181.66" fill="#fdb955"/>
<rect x="183.51" fill="#fdac3a"/>
<rect x="185.35" fill="#fdaa36"/>
<rect x="187.20" fill="#d3e3d2"/>
<rect x="189.05" fill="#a4c6bd"/>
<rect x="190.89" fill="#e8efdc"/>
<rect x="192.74" fill="#c4dacb"/>
<rect x="194.58" fill="#c7dccd"/>
<rect x="196.43" fill="#7eadaf"/>
<rect x="198.27" fill="#d3e3d2"/>
<rect x="200.12" fill="#b3cfc4"/>
<rect x="201.96" fill="#81afb1"/>
<rect x="203.81" fill="#c5dacc"/>
<rect x="205.65" fill="#8fb8b5"/>
<rect x="207.50" fill="#a7c8be"/>
<rect x="209.35" fill="#b3cfc4"/>
<rect x="211.19" fill="#c3d9cb"/>
<rect x="213.04" fill="#abcac0"/>
<rect x="214.88" fill="#a5c6be"/>
<rect x="216.73" fill="#91bab6"/>
<rect x="218.57" fill="#accbc0"/>
<rect x="220.42" fill="#bad4c7"/>
<rect x="222.26" fill="#98beb9"/>
<rect x="224.11" fill="#cbdece"/>
<rect x="225.95" fill="#7faeb0"/>
<rect x="227.80" fill="#a3c5bd"/>
<rect x="229.65" fill="#a4c6bd"/>
<rect x="231.49" fill="#aac9bf"/>
<rect x="233.34" fill="#accbc1"/>
<rect x="235.18" fill="#b4d0c4"/>
<rect x="237.03" fill="#a3c5bd"/>
<rect x="238.87" fill="#99beb9"/>
<rect x="240.72" fill="#9dc1bb"/>
<rect x="242.56" fill="#a5c7be"/>
<rect x="244.41" fill="#a0c3bc"/>
<rect x="246.25" fill="#a5c7be"/>
<rect x="248.10" fill="#a7c8be"/>
<rect x="249.95" fill="#a9c9bf"/>
<rect x="251.79" fill="#b2cfc3"/>
<rect x="253.64" fill="#adccc1"/>
<rect x="255.48" fill="#9bc0ba"/>
<rect x="257.33" fill="#a1c4bc"/>
<rect x="259.17" fill="#a3c5bd"/>
<rect x="261.02" fill="#a3c5bd"/>
<rect x="262.86" fill="#b1cec3"/>
<rect x="264.71" fill="#b2cfc3"/>
<rect x="266.55" fill="#accbc0"/>
<rect x="268.40" fill="#ec5436"/>
<rect x="270.25" fill="#f06530"/>
<rect x="272.09" fill="#ee5e33"/>
<rect x="273.94" fill="#ed5736"/>
<rect x="275.78" fill="#ee5e33"/>
<rect x="277.63" fill="#ef6331"/>
<rect x="279.47" fill="#f06431"/>
<rect x="281.32" fill="#ed5835"/>
<rect x="283.16" fill="#ed5935"/>
<rect x="285.01" fill="#eb5138"/>
<rect x="286.85" fill="#eb5138"/>
<rect x="288.70" fill="#ee5d33"/>
<rect x="290.55" fill="#ef6131"/>
<rect x="292.39" fill="#f06430"/>
<rect x="294.24" fill="#ef6131"/>
<rect x="296.08" fill="#eb5237"/>
<rect x="297.93" fill="#ef5f32"/>
<rect x="299.77" fill="#ef6331"/>
<rect x="301.62" fill="#ef5f32"/>
<rect x="303.46" fill="#ee5c34"/>
<rect x="305.31" fill="#f06331"/>
<rect x="307.15" fill="#f06331"/>
</g>
<rect x="106.0" y="249.6" width="203.0" height="106.3" fill="none" stroke="#111" stroke-width="1.2" />
<line x1="146.6" y1="249.6" x2="146.6" y2="355.9" stroke="#111" stroke-width="1.2" />
<line x1="187.2" y1="249.6" x2="187.2" y2="355.9" stroke="#111" stroke-width="1.2" />
<line x1="227.8" y1="249.6" x2="227.8" y2="355.9" stroke="#111" stroke-width="1.2" />
<line x1="268.4" y1="249.6" x2="268.4" y2="355.9" stroke="#111" stroke-width="1.2" />
<rect x="100.2" y="249.6" width="4.3" height="21.3" fill="#8d6cbd" />
<rect x="100.2" y="270.9" width="4.3" height="21.3" fill="#a9c3e8" />
<rect x="100.2" y="292.1" width="4.3" height="21.3" fill="#f5b07a" />
<rect x="100.2" y="313.4" width="4.3" height="21.3" fill="#c6848f" />
<rect x="100.2" y="334.6" width="4.3" height="21.3" fill="#cf7f2c" />
<text x="98.0" y="261.2" text-anchor="end" fill="#000" style="font-size:9.5px;font-weight:bold" >VSMC-1</text>
<text x="98.0" y="270.0" text-anchor="end" fill="#222" style="font-size:9.5px" >(Contractile−VSMC)</text>
<text x="98.0" y="282.5" text-anchor="end" fill="#000" style="font-size:9.5px;font-weight:bold" >VSMC-2</text>
<text x="98.0" y="291.3" text-anchor="end" fill="#222" style="font-size:9.5px" >(Mesenchymal−VSMC)</text>
<text x="98.0" y="303.7" text-anchor="end" fill="#000" style="font-size:9.5px;font-weight:bold" >VSMC-3</text>
<text x="98.0" y="312.5" text-anchor="end" fill="#222" style="font-size:9.5px" >(Osteogenic−VSMC)</text>
<text x="98.0" y="325.0" text-anchor="end" fill="#000" style="font-size:9.5px;font-weight:bold" >VSMC-4</text>
<text x="98.0" y="333.8" text-anchor="end" fill="#222" style="font-size:9.5px" >(Mφ−VSMC)</text>
<text x="98.0" y="346.2" text-anchor="end" fill="#000" style="font-size:9.5px;font-weight:bold" >VSMC-5</text>
<text x="98.0" y="355.0" text-anchor="end" fill="#222" style="font-size:9.5px" >(Fibroblast−VSMC)</text>
<text x="0" y="0" transform="translate(107.5 244.5) rotate(-52)" fill="#9b7fcf" style="font-size:9.8px" >Myh11</text>
<text x="0" y="0" transform="translate(116.8 244.5) rotate(-52)" fill="#9b7fcf" style="font-size:9.8px" >Acta2</text>
<text x="0" y="0" transform="translate(126.1 244.5) rotate(-52)" fill="#9b7fcf" style="font-size:9.8px" >Actn1</text>
<text x="0" y="0" transform="translate(135.4 244.5) rotate(-52)" fill="#9b7fcf" style="font-size:9.8px" >Tagln</text>
<text x="0" y="0" transform="translate(148.1 244.5) rotate(-52)" fill="#8ea2cf" style="font-size:9.8px" >Fstl1</text>
<text x="0" y="0" transform="translate(157.4 244.5) rotate(-52)" fill="#8ea2cf" style="font-size:9.8px" >Sca1</text>
<text x="0" y="0" transform="translate(166.7 244.5) rotate(-52)" fill="#8ea2cf" style="font-size:9.8px" >Pi16</text>
<text x="0" y="0" transform="translate(176.0 244.5) rotate(-52)" fill="#8ea2cf" style="font-size:9.8px" >Timp1</text>
<text x="0" y="0" transform="translate(188.7 244.5) rotate(-52)" fill="#f4b98c" style="font-size:9.8px" >Sox5</text>
<text x="0" y="0" transform="translate(198.0 244.5) rotate(-52)" fill="#f4b98c" style="font-size:9.8px" >Flnb</text>
<text x="0" y="0" transform="translate(207.3 244.5) rotate(-52)" fill="#f4b98c" style="font-size:9.8px" >Bmper</text>
<text x="0" y="0" transform="translate(216.6 244.5) rotate(-52)" fill="#f4b98c" style="font-size:9.8px" >Meg3</text>
<text x="0" y="0" transform="translate(229.3 244.5) rotate(-52)" fill="#cf93a3" style="font-size:9.8px" >Lyz2</text>
<text x="0" y="0" transform="translate(238.6 244.5) rotate(-52)" fill="#cf93a3" style="font-size:9.8px" >Cd84</text>
<text x="0" y="0" transform="translate(247.9 244.5) rotate(-52)" fill="#cf93a3" style="font-size:9.8px" >Laptm5</text>
<text x="0" y="0" transform="translate(257.2 244.5) rotate(-52)" fill="#cf93a3" style="font-size:9.8px" >Il1b</text>
<text x="0" y="0" transform="translate(269.9 244.5) rotate(-52)" fill="#d28a3e" style="font-size:9.8px" >Ogn</text>
<text x="0" y="0" transform="translate(279.2 244.5) rotate(-52)" fill="#d28a3e" style="font-size:9.8px" >Gsn</text>
<text x="0" y="0" transform="translate(288.5 244.5) rotate(-52)" fill="#d28a3e" style="font-size:9.8px" >Gdf10</text>
<text x="0" y="0" transform="translate(297.8 244.5) rotate(-52)" fill="#d28a3e" style="font-size:9.8px" >Col6a5</text>
<defs><linearGradient id="gC" x1="0" y1="0" x2="0" y2="1"><stop offset="0.000" stop-color="#e0224a"/><stop offset="0.125" stop-color="#f06530"/><stop offset="0.250" stop-color="#fd9d1a"/><stop offset="0.375" stop-color="#fde0a8"/><stop offset="0.500" stop-color="#fdfbe6"/><stop offset="0.550" stop-color="#d3e3d2"/><stop offset="0.625" stop-color="#a9c9bf"/><stop offset="0.750" stop-color="#649ca6"/><stop offset="0.875" stop-color="#3a6fb8"/><stop offset="1.000" stop-color="#0a3fd0"/></linearGradient></defs>
<rect x="312.0" y="251.3" width="4.9" height="90.4" fill="url(#gC)" />
<line x1="312.0" y1="255.9" x2="313.2" y2="255.9" stroke="#fff" stroke-width="0.6" />
<line x1="315.7" y1="255.9" x2="316.9" y2="255.9" stroke="#fff" stroke-width="0.6" />
<text x="319.5" y="255.9" dominant-baseline="central" fill="#111" style="font-size:9.4px" >2</text>
<line x1="312.0" y1="276.9" x2="313.2" y2="276.9" stroke="#fff" stroke-width="0.6" />
<line x1="315.7" y1="276.9" x2="316.9" y2="276.9" stroke="#fff" stroke-width="0.6" />
<text x="319.5" y="276.9" dominant-baseline="central" fill="#111" style="font-size:9.4px" >1</text>
<line x1="312.0" y1="298.0" x2="313.2" y2="298.0" stroke="#fff" stroke-width="0.6" />
<line x1="315.7" y1="298.0" x2="316.9" y2="298.0" stroke="#fff" stroke-width="0.6" />
<text x="319.5" y="298.0" dominant-baseline="central" fill="#111" style="font-size:9.4px" >0</text>
<line x1="312.0" y1="319.1" x2="313.2" y2="319.1" stroke="#fff" stroke-width="0.6" />
<line x1="315.7" y1="319.1" x2="316.9" y2="319.1" stroke="#fff" stroke-width="0.6" />
<text x="319.5" y="319.1" dominant-baseline="central" fill="#111" style="font-size:9.4px" >−1</text>
<line x1="312.0" y1="340.1" x2="313.2" y2="340.1" stroke="#fff" stroke-width="0.6" />
<line x1="315.7" y1="340.1" x2="316.9" y2="340.1" stroke="#fff" stroke-width="0.6" />
<text x="319.5" y="340.1" dominant-baseline="central" fill="#111" style="font-size:9.4px" >−2</text>
<text x="350.8" y="236.6" fill="#000" style="font-size:18px;font-weight:bold" >D</text>
<rect x="410.3" y="272.7" width="156.5" height="58.5" fill="#8669aa" rx="7.5" />
<rect x="410.3" y="333.9" width="156.5" height="58.5" fill="#afc6e8" rx="7.5" />
<rect x="410.3" y="393.7" width="156.5" height="58.5" fill="#f5b27f" rx="7.5" />
<rect x="410.3" y="453.5" width="156.5" height="58.5" fill="#c48b96" rx="7.5" />
<rect x="410.3" y="513.3" width="156.5" height="58.5" fill="#c7782e" rx="7.5" />
<rect x="564.3" y="273.5" width="114.5" height="299.0" fill="#fff" />
<line x1="567.4" y1="273.5" x2="567.4" y2="572.5" stroke="#ececec" stroke-width="0.6" />
<line x1="598.2" y1="273.5" x2="598.2" y2="572.5" stroke="#ececec" stroke-width="0.6" />
<line x1="629.0" y1="273.5" x2="629.0" y2="572.5" stroke="#ececec" stroke-width="0.6" />
<line x1="659.8" y1="273.5" x2="659.8" y2="572.5" stroke="#ececec" stroke-width="0.6" />
<line x1="582.8" y1="273.5" x2="582.8" y2="572.5" stroke="#e2e2e2" stroke-width="1.0" />
<line x1="613.6" y1="273.5" x2="613.6" y2="572.5" stroke="#e2e2e2" stroke-width="1.0" />
<line x1="644.4" y1="273.5" x2="644.4" y2="572.5" stroke="#e2e2e2" stroke-width="1.0" />
<line x1="675.2" y1="273.5" x2="675.2" y2="572.5" stroke="#e2e2e2" stroke-width="1.0" />
<line x1="564.3" y1="280.3" x2="678.8" y2="280.3" stroke="#e2e2e2" stroke-width="1.0" />
<line x1="564.3" y1="291.8" x2="678.8" y2="291.8" stroke="#e2e2e2" stroke-width="1.0" />
<line x1="564.3" y1="303.3" x2="678.8" y2="303.3" stroke="#e2e2e2" stroke-width="1.0" />
<line x1="564.3" y1="314.8" x2="678.8" y2="314.8" stroke="#e2e2e2" stroke-width="1.0" />
<line x1="564.3" y1="326.3" x2="678.8" y2="326.3" stroke="#e2e2e2" stroke-width="1.0" />
<line x1="564.3" y1="340.1" x2="678.8" y2="340.1" stroke="#e2e2e2" stroke-width="1.0" />
<line x1="564.3" y1="351.6" x2="678.8" y2="351.6" stroke="#e2e2e2" stroke-width="1.0" />
<line x1="564.3" y1="363.1" x2="678.8" y2="363.1" stroke="#e2e2e2" stroke-width="1.0" />
<line x1="564.3" y1="374.6" x2="678.8" y2="374.6" stroke="#e2e2e2" stroke-width="1.0" />
<line x1="564.3" y1="386.1" x2="678.8" y2="386.1" stroke="#e2e2e2" stroke-width="1.0" />
<line x1="564.3" y1="399.9" x2="678.8" y2="399.9" stroke="#e2e2e2" stroke-width="1.0" />
<line x1="564.3" y1="411.4" x2="678.8" y2="411.4" stroke="#e2e2e2" stroke-width="1.0" />
<line x1="564.3" y1="422.9" x2="678.8" y2="422.9" stroke="#e2e2e2" stroke-width="1.0" />
<line x1="564.3" y1="434.4" x2="678.8" y2="434.4" stroke="#e2e2e2" stroke-width="1.0" />
<line x1="564.3" y1="445.9" x2="678.8" y2="445.9" stroke="#e2e2e2" stroke-width="1.0" />
<line x1="564.3" y1="459.7" x2="678.8" y2="459.7" stroke="#e2e2e2" stroke-width="1.0" />
<line x1="564.3" y1="471.2" x2="678.8" y2="471.2" stroke="#e2e2e2" stroke-width="1.0" />
<line x1="564.3" y1="482.7" x2="678.8" y2="482.7" stroke="#e2e2e2" stroke-width="1.0" />
<line x1="564.3" y1="494.2" x2="678.8" y2="494.2" stroke="#e2e2e2" stroke-width="1.0" />
<line x1="564.3" y1="505.7" x2="678.8" y2="505.7" stroke="#e2e2e2" stroke-width="1.0" />
<line x1="564.3" y1="519.5" x2="678.8" y2="519.5" stroke="#e2e2e2" stroke-width="1.0" />
<line x1="564.3" y1="531.0" x2="678.8" y2="531.0" stroke="#e2e2e2" stroke-width="1.0" />
<line x1="564.3" y1="542.5" x2="678.8" y2="542.5" stroke="#e2e2e2" stroke-width="1.0" />
<line x1="564.3" y1="554.0" x2="678.8" y2="554.0" stroke="#e2e2e2" stroke-width="1.0" />
<line x1="564.3" y1="565.5" x2="678.8" y2="565.5" stroke="#e2e2e2" stroke-width="1.0" />
<text x="558.0" y="280.6" text-anchor="end" dominant-baseline="central" style="font-size:9.25px" >Muscle cell development</text>
<line x1="560.0" y1="280.3" x2="563.5" y2="280.3" stroke="#333" stroke-width="0.9" />
<circle cx="574.9" cy="280.3" r="2.80" fill="#ffd700" />
<text x="558.0" y="292.1" text-anchor="end" dominant-baseline="central" style="font-size:9.25px" >Muscle tissue development</text>
<line x1="560.0" y1="291.8" x2="563.5" y2="291.8" stroke="#333" stroke-width="0.9" />
<circle cx="569.2" cy="291.8" r="3.10" fill="#ffd200" />
<text x="558.0" y="303.6" text-anchor="end" dominant-baseline="central" style="font-size:9.25px" >Muscle system process</text>
<line x1="560.0" y1="303.3" x2="563.5" y2="303.3" stroke="#333" stroke-width="0.9" />
<circle cx="574.0" cy="303.3" r="3.20" fill="#fcca00" />
<text x="558.0" y="315.1" text-anchor="end" dominant-baseline="central" style="font-size:9.25px" >Muscle contraction</text>
<line x1="560.0" y1="314.8" x2="563.5" y2="314.8" stroke="#333" stroke-width="0.9" />
<circle cx="579.1" cy="314.8" r="3.20" fill="#f9c400" />
<text x="558.0" y="326.6" text-anchor="end" dominant-baseline="central" style="font-size:9.25px" >Actin cytoskeleton organization</text>
<line x1="560.0" y1="326.3" x2="563.5" y2="326.3" stroke="#333" stroke-width="0.9" />
<circle cx="570.6" cy="326.3" r="3.50" fill="#f5be00" />
<text x="407.5" y="301.9" text-anchor="end" dominant-baseline="central" style="font-size:9.7px" >Contractile−</text>
<text x="407.5" y="310.1" text-anchor="end" dominant-baseline="central" style="font-size:9.7px" >VSMC</text>
<text x="558.0" y="340.4" text-anchor="end" dominant-baseline="central" style="font-size:9.25px" >Smooth muscle cell migration</text>
<line x1="560.0" y1="340.1" x2="563.5" y2="340.1" stroke="#333" stroke-width="0.9" />
<circle cx="668.9" cy="340.1" r="3.80" fill="#ffd400" />
<text x="558.0" y="351.9" text-anchor="end" dominant-baseline="central" style="font-size:9.25px" >Tissue remodeling</text>
<line x1="560.0" y1="351.6" x2="563.5" y2="351.6" stroke="#333" stroke-width="0.9" />
<circle cx="640.8" cy="351.6" r="4.10" fill="#ffd200" />
<text x="558.0" y="363.4" text-anchor="end" dominant-baseline="central" style="font-size:9.25px" >Collagen metabolic process</text>
<line x1="560.0" y1="363.1" x2="563.5" y2="363.1" stroke="#333" stroke-width="0.9" />
<circle cx="673.6" cy="363.1" r="3.90" fill="#ffd000" />
<text x="558.0" y="374.9" text-anchor="end" dominant-baseline="central" style="font-size:9.25px" >Ossification</text>
<line x1="560.0" y1="374.6" x2="563.5" y2="374.6" stroke="#333" stroke-width="0.9" />
<circle cx="638.9" cy="374.6" r="5.30" fill="#f09a00" />
<text x="558.0" y="386.4" text-anchor="end" dominant-baseline="central" style="font-size:9.25px" >Inflammatory response</text>
<line x1="560.0" y1="386.1" x2="563.5" y2="386.1" stroke="#333" stroke-width="0.9" />
<circle cx="624.7" cy="386.1" r="6.30" fill="#e07000" />
<text x="407.5" y="363.8" text-anchor="end" dominant-baseline="central" style="font-size:9.7px" >Mesenchymal−</text>
<text x="407.5" y="372.8" text-anchor="end" dominant-baseline="central" style="font-size:9.7px" >VSMC</text>
<text x="558.0" y="400.2" text-anchor="end" dominant-baseline="central" style="font-size:9.25px" >Muscle cell migration</text>
<line x1="560.0" y1="399.9" x2="563.5" y2="399.9" stroke="#333" stroke-width="0.9" />
<circle cx="595.9" cy="399.9" r="2.40" fill="#ffe800" />
<text x="558.0" y="411.7" text-anchor="end" dominant-baseline="central" style="font-size:9.25px" >Actin filament−based process</text>
<line x1="560.0" y1="411.4" x2="563.5" y2="411.4" stroke="#333" stroke-width="0.9" />
<circle cx="573.7" cy="411.4" r="3.80" fill="#ffe600" />
<text x="558.0" y="423.2" text-anchor="end" dominant-baseline="central" style="font-size:9.25px" >Circulatory system development</text>
<line x1="560.0" y1="422.9" x2="563.5" y2="422.9" stroke="#333" stroke-width="0.9" />
<circle cx="569.7" cy="422.9" r="4.40" fill="#ffe400" />
<text x="558.0" y="434.7" text-anchor="end" dominant-baseline="central" style="font-size:9.25px" >Fatty acid metabolic process</text>
<line x1="560.0" y1="434.4" x2="563.5" y2="434.4" stroke="#333" stroke-width="0.9" />
<circle cx="584.3" cy="434.4" r="3.50" fill="#ffe000" />
<text x="558.0" y="446.2" text-anchor="end" dominant-baseline="central" style="font-size:9.25px" >Neutral lipid metabolic process</text>
<line x1="560.0" y1="445.9" x2="563.5" y2="445.9" stroke="#333" stroke-width="0.9" />
<circle cx="618.5" cy="445.9" r="3.10" fill="#ffd500" />
<text x="407.5" y="424.5" text-anchor="end" dominant-baseline="central" style="font-size:9.7px" >Osteogenic−</text>
<text x="407.5" y="432.4" text-anchor="end" dominant-baseline="central" style="font-size:9.7px" >VSMC</text>
<text x="559.5" y="460.0" text-anchor="end" dominant-baseline="central" fill="#1515d0" style="font-size:9.25px;font-weight:bold" >Cytokine production</text>
<line x1="560.0" y1="459.7" x2="563.5" y2="459.7" stroke="#333" stroke-width="0.9" />
<circle cx="593.7" cy="459.7" r="5.00" fill="#f08e00" />
<text x="558.0" y="471.5" text-anchor="end" dominant-baseline="central" style="font-size:9.25px" >Cell adhesion</text>
<line x1="560.0" y1="471.2" x2="563.5" y2="471.2" stroke="#333" stroke-width="0.9" />
<circle cx="587.2" cy="471.2" r="5.40" fill="#e88000" />
<text x="558.0" y="483.0" text-anchor="end" dominant-baseline="central" style="font-size:9.25px" >Inflammatory response</text>
<line x1="560.0" y1="482.7" x2="563.5" y2="482.7" stroke="#333" stroke-width="0.9" />
<circle cx="605.5" cy="482.7" r="5.30" fill="#cc2200" />
<text x="559.5" y="494.5" text-anchor="end" dominant-baseline="central" fill="#1515d0" style="font-size:9.25px;font-weight:bold" >Cell senescence</text>
<line x1="560.0" y1="494.2" x2="563.5" y2="494.2" stroke="#333" stroke-width="0.9" />
<circle cx="604.7" cy="494.2" r="4.90" fill="#e07000" />
<text x="558.0" y="506.0" text-anchor="end" dominant-baseline="central" style="font-size:9.25px" >Immune system process</text>
<line x1="560.0" y1="505.7" x2="563.5" y2="505.7" stroke="#333" stroke-width="0.9" />
<circle cx="591.8" cy="505.7" r="5.90" fill="#cc3300" />
<text x="407.5" y="483.5" text-anchor="end" dominant-baseline="central" style="font-size:9.7px" >Mφ−VSMC</text>
<text x="558.0" y="519.8" text-anchor="end" dominant-baseline="central" style="font-size:9.25px" >Collagen fibril organization</text>
<line x1="560.0" y1="519.5" x2="563.5" y2="519.5" stroke="#333" stroke-width="0.9" />
<circle cx="644.7" cy="519.5" r="2.40" fill="#ffd800" />
<text x="558.0" y="531.3" text-anchor="end" dominant-baseline="central" style="font-size:9.25px" >Collagen metabolic process</text>
<line x1="560.0" y1="531.0" x2="563.5" y2="531.0" stroke="#333" stroke-width="0.9" />
<circle cx="647.1" cy="531.0" r="2.20" fill="#ffd800" />
<text x="558.0" y="542.8" text-anchor="end" dominant-baseline="central" style="font-size:9.25px" >Extracellular matrix disassembly</text>
<line x1="560.0" y1="542.5" x2="563.5" y2="542.5" stroke="#333" stroke-width="0.9" />
<circle cx="616.9" cy="542.5" r="3.10" fill="#ffd000" />
<text x="558.0" y="554.3" text-anchor="end" dominant-baseline="central" style="font-size:9.25px" >Extracellular structure organization</text>
<line x1="560.0" y1="554.0" x2="563.5" y2="554.0" stroke="#333" stroke-width="0.9" />
<circle cx="615.4" cy="554.0" r="4.30" fill="#e06000" />
<text x="558.0" y="565.8" text-anchor="end" dominant-baseline="central" style="font-size:9.25px" >Extracellular matrix organization</text>
<line x1="560.0" y1="565.5" x2="563.5" y2="565.5" stroke="#333" stroke-width="0.9" />
<circle cx="615.4" cy="565.5" r="4.30" fill="#e06000" />
<text x="407.5" y="539.9" text-anchor="end" dominant-baseline="central" style="font-size:9.7px" >Fibroblast−</text>
<text x="407.5" y="548.0" text-anchor="end" dominant-baseline="central" style="font-size:9.7px" >VSMC</text>
<line x1="564.3" y1="333.3" x2="678.8" y2="333.3" stroke="#333" stroke-width="1.2" />
<line x1="564.3" y1="393.1" x2="678.8" y2="393.1" stroke="#333" stroke-width="1.2" />
<line x1="564.3" y1="452.9" x2="678.8" y2="452.9" stroke="#333" stroke-width="1.2" />
<line x1="564.3" y1="512.7" x2="678.8" y2="512.7" stroke="#333" stroke-width="1.2" />
<rect x="564.3" y="273.5" width="114.5" height="299.0" fill="none" stroke="#333" stroke-width="1.2" />
<line x1="582.8" y1="572.5" x2="582.8" y2="575.5" stroke="#333" stroke-width="0.9" />
<text x="582.8" y="583.4" text-anchor="middle" dominant-baseline="central" fill="#222" style="font-size:9.4px" >0.04</text>
<line x1="613.6" y1="572.5" x2="613.6" y2="575.5" stroke="#333" stroke-width="0.9" />
<text x="613.6" y="583.4" text-anchor="middle" dominant-baseline="central" fill="#222" style="font-size:9.4px" >0.08</text>
<line x1="644.4" y1="572.5" x2="644.4" y2="575.5" stroke="#333" stroke-width="0.9" />
<text x="644.4" y="583.4" text-anchor="middle" dominant-baseline="central" fill="#222" style="font-size:9.4px" >0.12</text>
<line x1="675.2" y1="572.5" x2="675.2" y2="575.5" stroke="#333" stroke-width="0.9" />
<text x="675.2" y="583.4" text-anchor="middle" dominant-baseline="central" fill="#222" style="font-size:9.4px" >0.16</text>
<text x="627.9" y="594.8" text-anchor="middle" dominant-baseline="central" fill="#111" style="font-size:9.6px" >Gene ratio</text>
<defs><linearGradient id="gD" x1="0" y1="0" x2="1" y2="0"><stop offset="0" stop-color="#ffec00"/><stop offset="0.35" stop-color="#fbc000"/><stop offset="0.7" stop-color="#ea7a00"/><stop offset="1" stop-color="#c41a0a"/></linearGradient></defs>
<rect x="541.2" y="250.1" width="74.7" height="7.7" fill="url(#gD)" />
<line x1="554.4" y1="250.1" x2="554.4" y2="251.5" stroke="#fff" stroke-width="0.7" />
<line x1="554.4" y1="256.4" x2="554.4" y2="257.8" stroke="#fff" stroke-width="0.7" />
<text x="554.4" y="265.0" text-anchor="middle" dominant-baseline="central" fill="#222" style="font-size:9.4px" >10</text>
<line x1="581.4" y1="250.1" x2="581.4" y2="251.5" stroke="#fff" stroke-width="0.7" />
<line x1="581.4" y1="256.4" x2="581.4" y2="257.8" stroke="#fff" stroke-width="0.7" />
<text x="581.4" y="265.0" text-anchor="middle" dominant-baseline="central" fill="#222" style="font-size:9.4px" >20</text>
<line x1="607.9" y1="250.1" x2="607.9" y2="251.5" stroke="#fff" stroke-width="0.7" />
<line x1="607.9" y1="256.4" x2="607.9" y2="257.8" stroke="#fff" stroke-width="0.7" />
<text x="607.9" y="265.0" text-anchor="middle" dominant-baseline="central" fill="#222" style="font-size:9.4px" >30</text>
<text x="546.3" y="241.7" dominant-baseline="central" style="font-size:9.9px" fill="#111">−Log<tspan style="font-size:5.6px" dy="3.2">10</tspan><tspan dy="-3.2">(pvalue)</tspan></text>
<text x="0" y="0" transform="translate(626.3 254.5) rotate(-90)" text-anchor="middle" dominant-baseline="central" fill="#111" style="font-size:10px" >Count</text>
<circle cx="638.5" cy="250.1" r="4.00" fill="#000" />
<text x="638.5" y="263.0" text-anchor="middle" dominant-baseline="central" fill="#222" style="font-size:9.4px" >25</text>
<circle cx="653.7" cy="250.1" r="5.10" fill="#000" />
<text x="653.7" y="263.0" text-anchor="middle" dominant-baseline="central" fill="#222" style="font-size:9.4px" >50</text>
<circle cx="668.8" cy="250.1" r="6.10" fill="#000" />
<text x="668.8" y="263.0" text-anchor="middle" dominant-baseline="central" fill="#222" style="font-size:9.4px" >75</text>
<text x="1.3" y="392.1" fill="#000" style="font-size:18px;font-weight:bold" >E</text>
<text x="108.5" y="388.6" text-anchor="middle" dominant-baseline="central" fill="#111" style="font-size:10.3px" >WT-P-AAA</text>
<text x="240.0" y="388.6" text-anchor="middle" dominant-baseline="central" fill="#111" style="font-size:10.3px" >KO-P-AAA</text>
<clipPath id="ce1"><rect x="42.5" y="395.6" width="120" height="119.6"/></clipPath>
<clipPath id="ce2"><rect x="169.5" y="395.6" width="119.3" height="119.6"/></clipPath>
<g clip-path="url(#ce1)"><defs><filter id="fe41" x="-30%" y="-30%" width="160%" height="160%"><feGaussianBlur stdDeviation="4.5"/></filter></defs>
<g filter="url(#fe41)" fill="#ffff90" opacity="0.75"><path d="M76.9 437.8C77.9 435.8 80.2 432.8 81.9 432.6C83.5 432.3 85.2 434.3 86.8 436.1C88.5 437.9 90.1 441.7 91.8 443.1C93.5 444.6 94.6 445.2 96.8 444.9C99.0 444.7 102.3 442.6 105.1 441.4C107.8 440.2 110.9 439.5 113.4 437.8C115.8 436.2 118.0 433.0 120.0 431.7C121.9 430.3 123.0 429.8 125.0 429.9C126.9 430.1 129.9 430.9 131.6 432.6C133.2 434.2 133.3 437.0 134.9 439.7C136.6 442.3 139.9 446.1 141.5 448.4C143.2 450.8 144.6 451.6 144.8 453.7C145.1 455.8 144.2 458.4 143.1 460.8C142.0 463.1 139.5 465.2 138.2 467.8C136.8 470.5 136.3 474.0 134.9 476.7C133.5 479.3 131.6 482.3 129.9 483.7C128.3 485.2 126.0 484.0 125.0 485.5C124.0 486.9 123.3 490.2 124.1 492.5C125.0 494.9 129.3 497.8 129.9 499.6C130.6 501.4 130.2 502.3 128.2 503.2C126.3 504.0 121.6 504.9 118.3 504.9C115.0 504.9 111.2 504.0 108.4 503.2C105.6 502.3 103.4 501.4 101.7 499.6C100.1 497.8 99.3 495.5 98.5 492.5C97.6 489.6 97.5 485.5 96.8 481.9C96.1 478.4 94.6 473.9 94.3 471.4C94.0 468.9 95.8 468.2 95.1 467.0C94.5 465.8 92.1 465.1 90.2 464.3C88.2 463.6 85.5 464.0 83.6 462.5C81.6 461.1 79.8 458.4 78.5 455.5C77.3 452.6 76.3 447.9 76.1 444.9C75.8 442.0 75.9 439.9 76.9 437.8Z" stroke="#ffff80" stroke-width="9"/><path d="M52.1 432.6C52.9 429.9 54.9 425.6 57.1 423.7C59.3 421.8 62.6 421.2 65.4 421.1C68.1 420.9 71.2 421.9 73.6 422.9C75.9 423.9 78.3 425.7 79.4 427.3C80.5 428.9 80.7 430.8 80.2 432.6C79.8 434.3 77.6 435.8 76.9 437.8C76.2 439.9 75.8 442.0 76.1 444.9C76.3 447.9 77.3 452.6 78.5 455.5C79.8 458.4 81.6 461.1 83.6 462.5C85.5 464.0 88.4 463.5 90.2 464.3C92.0 465.2 94.0 466.4 94.3 467.8C94.6 469.3 91.7 471.3 91.8 473.1C91.9 474.9 94.7 475.8 95.1 478.5C95.5 481.1 94.6 485.5 94.3 489.0C94.0 492.6 94.5 496.7 93.5 499.6C92.5 502.5 90.8 504.9 88.5 506.6C86.3 508.4 83.0 509.9 80.2 510.2C77.5 510.5 73.9 509.9 72.0 508.4C70.0 507.0 68.9 504.3 68.6 501.3C68.3 498.4 70.3 493.7 70.3 490.8C70.3 487.8 70.0 486.4 68.6 483.7C67.2 481.1 64.0 477.6 62.0 474.9C60.1 472.3 58.4 470.8 57.1 467.8C55.7 464.9 54.0 460.5 53.7 457.2C53.4 454.0 55.6 451.3 55.4 448.4C55.1 445.5 52.6 442.3 52.1 439.7C51.6 437.0 51.3 435.2 52.1 432.6Z" stroke="#ffff80" stroke-width="9"/><path d="M78.5 415.0C80.0 413.1 84.1 412.3 86.8 412.3C89.6 412.3 93.2 413.1 95.1 415.0C97.1 416.9 97.1 421.2 98.5 423.7C99.9 426.2 101.5 428.0 103.4 429.9C105.4 431.8 108.5 433.7 110.0 435.2C111.5 436.7 113.3 437.7 112.5 438.8C111.7 439.8 107.7 440.4 105.1 441.4C102.4 442.4 99.0 444.7 96.8 444.9C94.6 445.2 93.7 444.6 91.8 443.1C89.9 441.7 87.3 438.0 85.2 436.1C83.1 434.2 80.6 433.7 79.4 431.7C78.2 429.6 78.4 426.5 78.3 423.7C78.1 420.9 77.1 416.9 78.5 415.0Z" stroke="#ffff80" stroke-width="9"/><path d="M103.4 405.2C105.4 404.4 109.2 404.0 111.7 404.7C114.2 405.4 116.4 407.7 118.3 409.7C120.2 411.7 122.3 414.4 123.3 416.7C124.3 419.0 124.4 421.5 124.1 423.7C123.9 425.9 122.9 428.4 121.7 429.9C120.4 431.4 118.3 431.7 116.7 432.6C115.0 433.4 113.1 434.8 111.7 435.2C110.3 435.6 109.8 436.2 108.4 435.2C107.0 434.2 104.8 430.9 103.4 429.0C102.0 427.1 100.9 425.8 100.1 423.7C99.3 421.7 98.5 419.0 98.5 416.7C98.5 414.4 99.3 411.6 100.1 409.7C100.9 407.8 101.5 406.1 103.4 405.2Z" stroke="#ffff80" stroke-width="9"/><path d="M131.6 432.6C132.1 431.8 135.7 434.3 138.2 435.2C140.7 436.1 144.0 436.5 146.5 437.8C149.0 439.2 151.5 441.1 153.1 443.1C154.8 445.2 155.9 447.6 156.4 450.2C156.9 452.9 156.7 456.1 156.4 459.1C156.1 462.0 155.3 464.9 154.8 467.8C154.2 470.7 154.0 473.4 153.1 476.7C152.3 479.9 151.2 484.0 149.8 487.2C148.4 490.5 146.8 494.3 144.8 496.1C142.9 497.8 140.4 497.4 138.2 497.8C136.0 498.2 133.2 498.7 131.6 498.7C129.9 498.7 129.3 498.8 128.2 497.8C127.1 496.8 125.7 494.6 125.0 492.5C124.3 490.5 123.3 486.9 124.1 485.5C125.0 484.0 128.2 485.2 129.9 483.7C131.7 482.3 133.5 479.3 134.9 476.7C136.3 474.0 136.8 470.5 138.2 467.8C139.5 465.2 142.0 463.1 143.1 460.8C144.2 458.4 145.1 455.8 144.8 453.7C144.6 451.6 143.2 450.8 141.5 448.4C139.9 446.1 136.6 442.3 134.9 439.7C133.3 437.0 131.0 433.3 131.6 432.6Z" stroke="#ffff80" stroke-width="9"/></g>
<path d="M76.9 437.8C77.9 435.8 80.2 432.8 81.9 432.6C83.5 432.3 85.2 434.3 86.8 436.1C88.5 437.9 90.1 441.7 91.8 443.1C93.5 444.6 94.6 445.2 96.8 444.9C99.0 444.7 102.3 442.6 105.1 441.4C107.8 440.2 110.9 439.5 113.4 437.8C115.8 436.2 118.0 433.0 120.0 431.7C121.9 430.3 123.0 429.8 125.0 429.9C126.9 430.1 129.9 430.9 131.6 432.6C133.2 434.2 133.3 437.0 134.9 439.7C136.6 442.3 139.9 446.1 141.5 448.4C143.2 450.8 144.6 451.6 144.8 453.7C145.1 455.8 144.2 458.4 143.1 460.8C142.0 463.1 139.5 465.2 138.2 467.8C136.8 470.5 136.3 474.0 134.9 476.7C133.5 479.3 131.6 482.3 129.9 483.7C128.3 485.2 126.0 484.0 125.0 485.5C124.0 486.9 123.3 490.2 124.1 492.5C125.0 494.9 129.3 497.8 129.9 499.6C130.6 501.4 130.2 502.3 128.2 503.2C126.3 504.0 121.6 504.9 118.3 504.9C115.0 504.9 111.2 504.0 108.4 503.2C105.6 502.3 103.4 501.4 101.7 499.6C100.1 497.8 99.3 495.5 98.5 492.5C97.6 489.6 97.5 485.5 96.8 481.9C96.1 478.4 94.6 473.9 94.3 471.4C94.0 468.9 95.8 468.2 95.1 467.0C94.5 465.8 92.1 465.1 90.2 464.3C88.2 463.6 85.5 464.0 83.6 462.5C81.6 461.1 79.8 458.4 78.5 455.5C77.3 452.6 76.3 447.9 76.1 444.9C75.8 442.0 75.9 439.9 76.9 437.8Z" fill="#dedc96"/>
<path d="M52.1 432.6C52.9 429.9 54.9 425.6 57.1 423.7C59.3 421.8 62.6 421.2 65.4 421.1C68.1 420.9 71.2 421.9 73.6 422.9C75.9 423.9 78.3 425.7 79.4 427.3C80.5 428.9 80.7 430.8 80.2 432.6C79.8 434.3 77.6 435.8 76.9 437.8C76.2 439.9 75.8 442.0 76.1 444.9C76.3 447.9 77.3 452.6 78.5 455.5C79.8 458.4 81.6 461.1 83.6 462.5C85.5 464.0 88.4 463.5 90.2 464.3C92.0 465.2 94.0 466.4 94.3 467.8C94.6 469.3 91.7 471.3 91.8 473.1C91.9 474.9 94.7 475.8 95.1 478.5C95.5 481.1 94.6 485.5 94.3 489.0C94.0 492.6 94.5 496.7 93.5 499.6C92.5 502.5 90.8 504.9 88.5 506.6C86.3 508.4 83.0 509.9 80.2 510.2C77.5 510.5 73.9 509.9 72.0 508.4C70.0 507.0 68.9 504.3 68.6 501.3C68.3 498.4 70.3 493.7 70.3 490.8C70.3 487.8 70.0 486.4 68.6 483.7C67.2 481.1 64.0 477.6 62.0 474.9C60.1 472.3 58.4 470.8 57.1 467.8C55.7 464.9 54.0 460.5 53.7 457.2C53.4 454.0 55.6 451.3 55.4 448.4C55.1 445.5 52.6 442.3 52.1 439.7C51.6 437.0 51.3 435.2 52.1 432.6Z" fill="#dedc96"/>
<path d="M78.5 415.0C80.0 413.1 84.1 412.3 86.8 412.3C89.6 412.3 93.2 413.1 95.1 415.0C97.1 416.9 97.1 421.2 98.5 423.7C99.9 426.2 101.5 428.0 103.4 429.9C105.4 431.8 108.5 433.7 110.0 435.2C111.5 436.7 113.3 437.7 112.5 438.8C111.7 439.8 107.7 440.4 105.1 441.4C102.4 442.4 99.0 444.7 96.8 444.9C94.6 445.2 93.7 444.6 91.8 443.1C89.9 441.7 87.3 438.0 85.2 436.1C83.1 434.2 80.6 433.7 79.4 431.7C78.2 429.6 78.4 426.5 78.3 423.7C78.1 420.9 77.1 416.9 78.5 415.0Z" fill="#dedc96"/>
<path d="M103.4 405.2C105.4 404.4 109.2 404.0 111.7 404.7C114.2 405.4 116.4 407.7 118.3 409.7C120.2 411.7 122.3 414.4 123.3 416.7C124.3 419.0 124.4 421.5 124.1 423.7C123.9 425.9 122.9 428.4 121.7 429.9C120.4 431.4 118.3 431.7 116.7 432.6C115.0 433.4 113.1 434.8 111.7 435.2C110.3 435.6 109.8 436.2 108.4 435.2C107.0 434.2 104.8 430.9 103.4 429.0C102.0 427.1 100.9 425.8 100.1 423.7C99.3 421.7 98.5 419.0 98.5 416.7C98.5 414.4 99.3 411.6 100.1 409.7C100.9 407.8 101.5 406.1 103.4 405.2Z" fill="#dedc96"/>
<path d="M131.6 432.6C132.1 431.8 135.7 434.3 138.2 435.2C140.7 436.1 144.0 436.5 146.5 437.8C149.0 439.2 151.5 441.1 153.1 443.1C154.8 445.2 155.9 447.6 156.4 450.2C156.9 452.9 156.7 456.1 156.4 459.1C156.1 462.0 155.3 464.9 154.8 467.8C154.2 470.7 154.0 473.4 153.1 476.7C152.3 479.9 151.2 484.0 149.8 487.2C148.4 490.5 146.8 494.3 144.8 496.1C142.9 497.8 140.4 497.4 138.2 497.8C136.0 498.2 133.2 498.7 131.6 498.7C129.9 498.7 129.3 498.8 128.2 497.8C127.1 496.8 125.7 494.6 125.0 492.5C124.3 490.5 123.3 486.9 124.1 485.5C125.0 484.0 128.2 485.2 129.9 483.7C131.7 482.3 133.5 479.3 134.9 476.7C136.3 474.0 136.8 470.5 138.2 467.8C139.5 465.2 142.0 463.1 143.1 460.8C144.2 458.4 145.1 455.8 144.8 453.7C144.6 451.6 143.2 450.8 141.5 448.4C139.9 446.1 136.6 442.3 134.9 439.7C133.3 437.0 131.0 433.3 131.6 432.6Z" fill="#dedc96"/>
<path transform="scale(0.5)" d="M227 814h0m-2-3h0m-2 0h0m-2 0h0m-1 1h0m-1 3h0m0-5h0m-12 5h0m-2-1h0m-37 13h0m10-1h0m21-1h0m1 0h0m1-3h0m3-6h0m1 2h0m1 1h0m0-2h0m1 1h0m1-2h0m1 3h0m1 5h0m1-6h0m0 6h0m1-3h0m1-3h0m1 3h0m0 2h0m1-2h0m0 2h0m3-4h0m2 7h0m1-3h0m0-6h0m0 10h0m1-1h0m0-7h0m4 5h0m2-5h0m2 8h0m0-4h0m1-6h0m2 6h0m2-3h0m2 6h0m7 11h0m-1-5h0m0 4h0m0 0h0m-1-2h0m0-2h0m-1 4h0m0-5h0m0 8h0m0-5h0m-2 3h0m0 0h0m-1-9h0m-1 11h0m0-2h0m-1-1h0m-1-6h0m0-1h0m-2 7h0m-4-2h0m-2-1h0m-1 5h0m-1-5h0m-9 2h0m-1 3h0m-3-5h0m-2-5h0m-1 11h0m-1-1h0m-1-10h0m0 9h0m-2 2h0m-2-11h0m0 4h0m0 6h0m0-2h0m-1-2h0m-1 2h0m0-5h0m0 4h0m0 1h0m-1-1h0m-1-6h0m-1 7h0m-6 1h0m-2 2h0m0-1h0m-3-9h0m-1 5h0m-1 0h0m-2-5h0m-1 8h0m-1-3h0m-2 3h0m-2-3h0m-1 1h0m-1 3h0m-1-5h0m-1 6h0m-1-8h0m-3-1h0m-3 8h0m-1-2h0m-3 2h0m-39 11h0m2-1h0m9 2h0m14-2h0m9-1h0m1-6h0m0 2h0m2 1h0m1 5h0m1-3h0m2 5h0m0-3h0m3-7h0m2 6h0m3 2h0m3-7h0m0-2h0m0 1h0m2 6h0m1-7h0m2 1h0m0 5h0m3-1h0m1 5h0m3-10h0m1 3h0m1 3h0m1 0h0m1-5h0m0-1h0m1 5h0m7-5h0m4 4h0m1 1h0m0-2h0m0-2h0m1 7h0m0-5h0m2 3h0m1 0h0m0-2h0m1-3h0m0 5h0m1 5h0m0-3h0m2 0h0m3-7h0m0 7h0m1 1h0m2-5h0m0 3h0m3-3h0m0-4h0m4 7h0m2-2h0m2 1h0m1-6h0m0 3h0m3 7h0m1-3h0m1 2h0m3-8h0m4 9h0m1-1h0m1-6h0m0 3h0m1 2h0m0-7h0m2-1h0m-2 15h0m-3-2h0m-2 2h0m0-1h0m-1-2h0m-1 7h0m0-4h0m-4-2h0m0 5h0m-1 3h0m-1-6h0m0 5h0m-2-5h0m-1-2h0m0 5h0m-1 2h0m-3-2h0m-1 1h0m-1-2h0m0-1h0m0-3h0m0 6h0m-4-1h0m0 1h0m-1-1h0m0-3h0m-1-2h0m-1 6h0m0-5h0m-1 9h0m-1-5h0m-2 5h0m-4 0h0m0-11h0m-2 9h0m0 2h0m0-2h0m-1 2h0m-1-6h0m-2-3h0m-1 3h0m0-2h0m-1-2h0m0 8h0m-2-9h0m-1 6h0m-1-1h0m-1 0h0m-3-4h0m0 5h0m-1 0h0m0 2h0m-2-2h0m-2 0h0m0 2h0m0-7h0m0 2h0m0 2h0m-2-4h0m-3 6h0m-1-7h0m-1 1h0m0 6h0m-2-5h0m0-1h0m-1 4h0m0 1h0m0-5h0m-2 7h0m0 1h0m-1-7h0m-1 9h0m0-5h0m0 4h0m-3-9h0m-2 5h0m0 3h0m-3-2h0m-1 2h0m-2 0h0m-1-2h0m0-4h0m0 0h0m-12 2h0m-1 4h0m-2-4h0m-3 1h0m-2 3h0m-10-3h0m-1 1h0m0-4h0m0-3h0m-11 5h0m-14 10h0m0 8h0m3-11h0m9 6h0m1 4h0m0-3h0m1 1h0m7 0h0m2-3h0m5-1h0m16-4h0m3 11h0m1-10h0m6 0h0m6-1h0m4 2h0m1 6h0m5-7h0m0 0h0m2 9h0m1 0h0m1-2h0m0-5h0m2 6h0m2-7h0m1 7h0m1 2h0m0-5h0m1 4h0m1-4h0m3 0h0m1-4h0m0 7h0m1-3h0m0 0h0m1 1h0m1-1h0m2-3h0m2 0h0m1 8h0m1-10h0m0 5h0m1-5h0m2 8h0m0-5h0m2-1h0m1 1h0m2 6h0m1-2h0m0 0h0m1-1h0m2 4h0m0-11h0m1 5h0m1 3h0m3-1h0m0 1h0m0-5h0m1 7h0m1-6h0m1 2h0m0-3h0m1-1h0m2 9h0m0-10h0m2 3h0m2-1h0m3 0h0m7 6h0m2-8h0m3 8h0m2-4h0m5 5h0m7-10h0m5 9h0m5-1h0m6 3h0m6-4h0m5 3h0m15 9h0m0 0h0m0 4h0m-4-2h0m-2 0h0m-1 2h0m-10-1h0m0-6h0m-3 0h0m-4 4h0m-12 2h0m-2 0h0m-32-5h0m-4 3h0m-1-2h0m-4-4h0m0-1h0m-8 5h0m-5-5h0m-4 1h0m-1 3h0m0 3h0m0-3h0m-1 2h0m-2-3h0m-1 6h0m-2 0h0m0 0h0m-3-9h0m-2 3h0m-2 4h0m-1 1h0m0-2h0m-2-4h0m-3 5h0m-1-7h0m-3 10h0m0-11h0m-2 7h0m-15-3h0m-6 0h0m-4 7h0m-1-10h0m-2 9h0m-9-6h0m-2 0h0m-3 2h0m-4 3h0m-12-6h0m-2 0h0m-6 8h0m-3 0h0m-1-11h0m0 7h0m13 10h0m1 1h0m1 4h0m3-5h0m13 3h0m6 1h0m10-3h0m1-3h0m3-1h0m31 6h0m6-7h0m3-1h0m1 11h0m5-5h0m2 0h0m0-6h0m0 6h0m4-3h0m2 0h0m8 7h0m2-4h0m1 0h0m2-5h0m24 10h0m8-11h0m2 8h0m7-6h0m2-1h0m1 3h0m8 5h0m4 2h0m4-1h0m1-7h0m1 5h0m3-3h0m0-3h0m3 6h0m3-1h0m1-2h0m1-5h0m3 6h0m1-2h0m1 7h0m1-6h0m2 6h0m8 7h0m-2-3h0m-7 5h0m-2-1h0m-6 3h0m0-3h0m-2-6h0m-2-1h0m-1 2h0m-1 7h0m0 0h0m-5-8h0m0 9h0m-2-1h0m-6-3h0m-1 1h0m-4-5h0m-3 3h0m-1 2h0m-15 1h0m-1 2h0m-5-7h0m-9 8h0m-5-6h0m-22-5h0m-22 0h0m-6 1h0m-10 8h0m-1-4h0m-5-2h0m-8 4h0m-8-6h0m-3 3h0m-5 0h0m-3 1h0m-2-1h0m-10 2h0m-13-3h0m0-3h0m-1 9h0m0-4h0m-3 3h0m-1-3h0m-1 6h0m6 6h0m10-2h0m7 0h0m0 3h0m2-4h0m5 9h0m12 0h0m1-10h0m2 5h0m8 2h0m3-2h0m2 0h0m9 5h0m5-5h0m3-6h0m5 6h0m3 1h0m1-4h0m1 6h0m1 0h0m1-6h0m4 3h0m3-6h0m5 5h0m4 4h0m5 2h0m3-4h0m0 3h0m2 0h0m6-5h0m8 6h0m15-10h0m5 3h0m16-4h0m3 5h0m2 3h0m8 0h0m2 3h0m1-6h0m1 5h0m4-10h0m1 11h0m1-8h0m0-3h0m9 8h0m9-8h0m-2 18h0m-1-4h0m-8-2h0m0 11h0m0-10h0m-2 9h0m-3-9h0m-2 2h0m-2 4h0m-2 2h0m-1-7h0m-4-1h0m-2 8h0m-2-6h0m0 4h0m-11-5h0m-24 7h0m-7-5h0m-10 0h0m-2 6h0m-5-5h0m-7 4h0m-3-6h0m-4 0h0m-4 3h0m-3-1h0m-2 3h0m-19-3h0m-3 0h0m-11 3h0m0-3h0m-2 5h0m-8 0h0m0 1h0m-7-9h0m-2 5h0m-9-5h0m0 7h0m-4-3h0m-14-4h0m-4 3h0m-4-2h0m-2-3h0m13 16h0m10-2h0m1 9h0m4-2h0m5-7h0m8 5h0m1 0h0m5 4h0m1 0h0m16-10h0m3 5h0m3 2h0m14-5h0m3 0h0m9 1h0m0 2h0m6 2h0m4-3h0m7-5h0m23 7h0m6 3h0m18-6h0m4 0h0m1 0h0m1 1h0m1-5h0m2 11h0m0-10h0m6 2h0m0 3h0m4 3h0m3-7h0m2 4h0m6-5h0m6 8h0m-2 10h0m0-1h0m-1 4h0m-5 1h0m-5-5h0m-4-6h0m-2 7h0m-3 1h0m-7 3h0m-2-6h0m-2 0h0m-1 4h0m0-9h0m-1 9h0m-2 0h0m-1-5h0m-9 7h0m-4-3h0m-4-1h0m0 0h0m-8-6h0m-7 2h0m-16-1h0m-2 1h0m-2-2h0m-4 8h0m-5 2h0m-30-6h0m0 5h0m-3-10h0m-1 5h0m-2-1h0m-1 6h0m-6-8h0m-8 8h0m-1-4h0m-13 0h0m-3-4h0m-3-2h0m-5 7h0m2 7h0m9-1h0m0 0h0m4-1h0m1 8h0m3 1h0m3 1h0m1 0h0m20-9h0m4 10h0m0 0h0m7-4h0m14-3h0m11 7h0m12-10h0m2 5h0m5 2h0m4-1h0m2-4h0m9 2h0m6 1h0m1 4h0m1-8h0m3 1h0m5 0h0m1 1h0m1-1h0m0 6h0m0 0h0m1-7h0m3 8h0m1-4h0m2-5h0m1 7h0m0-1h0m2 4h0m1-6h0m1 4h0m1-1h0m5 1h0m6-1h0m3-2h0m4-5h0m0 8h0m1-8h0m0 7h0m1-1h0m0 4h0m2-8h0m2-3h0m0 6h0m0 5h0m-4 1h0m-1 9h0m-2-7h0m-2-1h0m-1 2h0m-1 2h0m-2-2h0m-1-3h0m-1 9h0m-2-7h0m0-1h0m-3 2h0m-5 2h0m-2 0h0m-1-1h0m-2 2h0m-5-3h0m0 7h0m-1-4h0m-10 3h0m0-2h0m-1-1h0m-1-3h0m0 0h0m-5 6h0m-7 0h0m-2-8h0m-2 10h0m-11-11h0m-2 5h0m-3 6h0m-9-11h0m-4 9h0m-1-8h0m-25 8h0m-3-4h0m-7 4h0m0 1h0m-2-10h0m-3 9h0m-1 2h0m-4-4h0m-10 4h0m-8 2h0m2 2h0m14 3h0m1 1h0m0-2h0m1-5h0m6 4h0m1 2h0m7-3h0m3 5h0m34-7h0m11 10h0m2-2h0m4-5h0m6 5h0m1-9h0m19 0h0m1 0h0m2 6h0m2-4h0m1 6h0m1-8h0m0 9h0m2 1h0m1 0h0m1-3h0m1-5h0m6 4h0m0 3h0m0-8h0m3-1h0m5 6h0m0-2h0m3-4h0m2 1h0m3 3h0m1-1h0m-31 9h0m-2 6h0m-2 1h0m-4 3h0m0-5h0m-4 6h0m-14-6h0m0-1h0m-2-4h0m-22 5h0m-24-2h0m0-1h0m-5 1h0m-12 0h0m0 6h0m-2 1h0m-2-10h0m-3 10h0m-4 1h0m-6-5h0m0 3h0m-3-1h0m-1-7h0m-2 3h0m-5 0h0m9 12h0m4 0h0m1-1h0m3-1h0m11 6h0m1-4h0" stroke="#b4b4a6" stroke-width="5.20" stroke-linecap="round" fill="none" />
<path transform="scale(0.5)" d="M228 814h0m-7-3h0m-5 1h0m-3-1h0m-5 1h0m-41 15h0m1 0h0m9 0h0m26-4h0m1-4h0m2 2h0m0 1h0m3-5h0m3 7h0m2 0h0m1 1h0m5-6h0m4 4h0m2-6h0m2 1h0m0 1h0m2-1h0m4-1h0m1 8h0m1 1h0m7 8h0m0 0h0m-3-4h0m-1 4h0m0-4h0m-4 5h0m-6 4h0m-1-10h0m-2-1h0m0 5h0m-2-3h0m0 6h0m-1-6h0m-1 9h0m-2-11h0m-5 0h0m0 7h0m-3-4h0m0 8h0m-2-9h0m-6-2h0m-1 8h0m-2 1h0m-1 2h0m-2-4h0m-1-1h0m-8-3h0m0 8h0m-3-4h0m-1 4h0m-1-7h0m0 2h0m-2 5h0m0-11h0m0 0h0m-1 3h0m-1 8h0m-3-8h0m0 5h0m-3-6h0m-3 8h0m-11-4h0m0-4h0m-43 20h0m0-3h0m21 2h0m10-2h0m16-6h0m3 10h0m3 0h0m0-5h0m4 3h0m5-9h0m1 7h0m4-3h0m0 5h0m11 2h0m5-9h0m3 1h0m0 2h0m3-1h0m4 0h0m0-4h0m3 9h0m12-8h0m2 5h0m1 4h0m1-7h0m0 0h0m0 3h0m6 1h0m4 3h0m2-5h0m0 6h0m0-9h0m2-1h0m4 10h0m-3 3h0m-4-1h0m-2 5h0m-3 1h0m0-1h0m-1-5h0m-3 5h0m-1-1h0m-4-2h0m-2-1h0m-1 6h0m-1 2h0m-2-10h0m-1 0h0m0 0h0m-5 0h0m-4 7h0m-1-4h0m-4 6h0m-5 1h0m-1-9h0m-4 10h0m-2-2h0m-3-7h0m-1 9h0m-2-2h0m-2-7h0m0 7h0m-4-2h0m0-3h0m-1-1h0m0 8h0m-1-4h0m0 4h0m0-9h0m-5 5h0m0-4h0m-2-2h0m-1 9h0m-2-1h0m-3-8h0m-7 7h0m0-3h0m-2 4h0m-4-1h0m-1-3h0m-1 3h0m-1-3h0m-7 1h0m-4 4h0m-24-2h0m-9 7h0m4 5h0m4-3h0m4-3h0m16-2h0m13 2h0m22 1h0m0 1h0m3 5h0m1 2h0m1-2h0m0-3h0m7 3h0m0-4h0m2 5h0m0-1h0m2 0h0m1-1h0m3-8h0m3 4h0m4 5h0m2-3h0m3 5h0m3 0h0m2-6h0m3 0h0m3 1h0m1-1h0m1-3h0m4 4h0m2-3h0m1 2h0m1 0h0m1-2h0m1 0h0m78 20h0m-6-6h0m-7 4h0m-1 2h0m0-11h0m-1 4h0m-3 4h0m0 2h0m-2 0h0m-1-1h0m-7 2h0m-3-1h0m-6-7h0m-6 7h0m-2-4h0m0 1h0m-5 2h0m-4-3h0m-7 4h0m-15-2h0m-2-6h0m-6-1h0m-9 5h0m-6 4h0m-1-3h0m-2 2h0m0-1h0m-1-7h0m-5 8h0m-2-4h0m-1-3h0m0 0h0m-3 6h0m0 1h0m-1 1h0m-2-5h0m-2 3h0m-10-2h0m0-6h0m-8 6h0m-8-2h0m-1 7h0m-11-4h0m-2 3h0m-5-5h0m-2 5h0m-3 0h0m-6-1h0m-4 1h0m-8-4h0m-1 13h0m0-2h0m22 1h0m0-3h0m2 6h0m8 2h0m0-1h0m8-5h0m18 4h0m26 0h0m6 0h0m5-1h0m3-3h0m1 4h0m14 1h0m7-3h0m11-3h0m3 1h0m27-2h0m13-3h0m4 6h0m5-3h0m0 13h0m-5 3h0m0 3h0m-1-7h0m-2-1h0m0 4h0m-4-5h0m-1 10h0m-22-11h0m-18 2h0m-2 6h0m-7-5h0m-2 7h0m-23-5h0m-18 3h0m-3-5h0m-22-1h0m-6-2h0m-11 7h0m-6-4h0m-3 7h0m-2-2h0m-8 0h0m-13-7h0m-4 8h0m-4-2h0m0 12h0m7-1h0m27 5h0m13-2h0m6 0h0m5-4h0m13-1h0m6 4h0m47-7h0m6 9h0m7-3h0m48 3h0m2-10h0m4 7h0m1 3h0m5-5h0m0-4h0m-1 19h0m-3-8h0m-3 3h0m-4-3h0m-2 10h0m-5-3h0m-1-6h0m-1 7h0m-1 1h0m-1-5h0m0 0h0m-9 3h0m-1 3h0m-7-8h0m-1 4h0m-7 5h0m-5-4h0m-6-2h0m-6 2h0m-22-2h0m-3 3h0m-24-2h0m-2 1h0m-7-6h0m0 2h0m-11 7h0m-12-3h0m-4 0h0m-1 3h0m-2-6h0m-1-2h0m-17 1h0m-6 6h0m-14-9h0m-5 0h0m11 22h0m1 0h0m0-10h0m6 10h0m23-4h0m11-1h0m12 4h0m6-6h0m3 2h0m7-3h0m17 3h0m7 6h0m16-8h0m8-2h0m2 2h0m4 1h0m3 7h0m14-3h0m15-8h0m2 7h0m11 3h0m0-6h0m6 0h0m5 4h0m2-4h0m1-3h0m-7 13h0m-1 9h0m-1-1h0m-3-6h0m-6 4h0m0 1h0m-5-8h0m0 4h0m-3 6h0m0 0h0m-2-11h0m-1 11h0m-6-2h0m-8 2h0m-2-2h0m-6-9h0m-12 5h0m-17-5h0m-11 10h0m0-2h0m-46-7h0m-11-1h0m-11 7h0m-5 4h0m-10-2h0m10 8h0m10-2h0m1-3h0m7 9h0m3-8h0m6 10h0m4-6h0m2 3h0m3-2h0m27 5h0m9-4h0m2 2h0m17-6h0m26 6h0m8-3h0m3-5h0m3 0h0m3 7h0m2 1h0m1 0h0m3-5h0m8 2h0m0 5h0m2-8h0m4 2h0m7-5h0m-6 15h0m-2 1h0m-6-1h0m-2 3h0m-7 0h0m-1-2h0m-8-3h0m-5-1h0m-1 10h0m-2-3h0m-3-4h0m-1 6h0m-1-5h0m-3 6h0m-2-7h0m-2 7h0m0-3h0m-8-7h0m-3 11h0m-12-10h0m-8 0h0m-1 1h0m-3 7h0m-29 1h0m-3 1h0m-2-10h0m-5 6h0m-3 4h0m-18-11h0m0 9h0m-1 11h0m8-4h0m0-4h0m23 10h0m3-6h0m9-3h0m7 8h0m4-8h0m18 7h0m1-4h0m23 6h0m3-5h0m1-2h0m4 8h0m1-9h0m1 4h0m2-6h0m0 11h0m6-2h0m1-7h0m9 1h0m1 8h0m3-5h0m-22 6h0m-14 2h0m-3 6h0m-5 3h0m-7-8h0m-2 1h0m-61 0h0m-1-2h0m-21 6h0m-5 6h0m16 6h0m12-4h0" stroke="#f4f47c" stroke-width="4.80" stroke-linecap="round" fill="none" />
<path transform="scale(0.5)" d="M178 827h0m58-5h0m-60 10h0m-5 0h0m-1 4h0m-7 0h0m-49 13h0m0 0h0m3 2h0m13-2h0m2 2h0m1-1h0m3-3h0m29 4h0m4-4h0m8-3h0m9 4h0m1 3h0m16-7h0m41-4h0m-52 19h0m-4-6h0m-5-1h0m-6 8h0m-4-1h0m-5 4h0m-1-2h0m-9-6h0m-2 5h0m-5-4h0m-2 4h0m-2-5h0m0 2h0m-4 0h0m-9 5h0m0-3h0m0-4h0m-2 6h0m-3-5h0m0 2h0m-3-5h0m-3 0h0m-8 8h0m-5 5h0m1 2h0m4 6h0m4-4h0m4 4h0m6-7h0m1 3h0m0-3h0m3 2h0m2 6h0m0-7h0m1 3h0m3-4h0m0-3h0m1 11h0m4-2h0m5 0h0m3 1h0m1 0h0m2-6h0m1 3h0m0-6h0m5 6h0m6-7h0m1 3h0m10-1h0m11 7h0m1-2h0m1-2h0m7-5h0m4 6h0m3-5h0m2 3h0m9 1h0m2 2h0m50 3h0m4-2h0m25 9h0m-2 6h0m-4-9h0m0 9h0m-1-1h0m-3-4h0m-4 3h0m-4-3h0m-1 3h0m0-2h0m-17-2h0m-1 4h0m-38 1h0m-5-9h0m-8 0h0m-1 1h0m-2 0h0m-24 7h0m-1-7h0m-8 5h0m-21-3h0m-1-2h0m-9 3h0m-1 4h0m-7 2h0m-1-2h0m0 2h0m-1-8h0m-7 5h0m-1-1h0m-7 3h0m-3-7h0m-1 6h0m-1 3h0m1 5h0m2-4h0m2 10h0m1-1h0m3-10h0m0 8h0m1-1h0m5-7h0m0 2h0m1 1h0m5-2h0m1-1h0m3 5h0m0 0h0m3 3h0m7-1h0m1 3h0m1 1h0m0-5h0m1 0h0m2-4h0m2 7h0m31-5h0m11-4h0m1 2h0m32 6h0m8-2h0m3 5h0m31-1h0m11-6h0m1-3h0m3 3h0m0 6h0m14-5h0m3-4h0m3 0h0m3 3h0m3 12h0m0 0h0m-5 2h0m-7-4h0m-5 3h0m0-3h0m-4 8h0m-12 1h0m-4-1h0m-16 1h0m-2-4h0m-8 2h0m-9-7h0m-1 1h0m-16 2h0m-8 2h0m-5 3h0m0-3h0m0 4h0m-9-8h0m-10 2h0m-12-2h0m-25 4h0m-4 0h0m-4 2h0m0 1h0m-2-3h0m-2 1h0m0 0h0m-1 3h0m-4-1h0m0-5h0m0 5h0m-3-6h0m-3 4h0m0-2h0m-4-3h0m-2 6h0m-2-3h0m-5-6h0m-1 5h0m-8 7h0m4 0h0m4 3h0m2 3h0m1 0h0m1-3h0m4 0h0m12 2h0m12 5h0m5-10h0m0 0h0m2 1h0m2 2h0m4 4h0m6-5h0m5 5h0m51 0h0m9 0h0m4-2h0m15 5h0m16-2h0m0-3h0m9-4h0m5 9h0m1-7h0m12 8h0m6-9h0m2 7h0m5-7h0m5 0h0m-5 18h0m-2-3h0m-3-2h0m0 1h0m-9-1h0m-1 8h0m-1-11h0m0 10h0m0-3h0m-5 4h0m-3-4h0m-4 3h0m-11 1h0m-2-11h0m-2 0h0m-42 5h0m-25 3h0m-19 0h0m-6-2h0m-3-1h0m-1 4h0m0-4h0m-1 3h0m-1 3h0m-3-8h0m-9 1h0m0 1h0m-2 6h0m0-11h0m-3 3h0m-1-2h0m0 10h0m-1-5h0m-2 4h0m-1-4h0m0-6h0m-4 11h0m-8-8h0m-7 2h0m-4-2h0m-3 7h0m-3-7h0m-3 4h0m9 11h0m1 3h0m2 1h0m4-3h0m6 1h0m2-4h0m2 7h0m1-6h0m2-2h0m2 0h0m2 6h0m2-7h0m3 2h0m7 3h0m2-2h0m4 0h0m0 1h0m0 0h0m2 1h0m1 3h0m0-10h0m9 7h0m1-2h0m5-5h0m1 6h0m20 3h0m6-8h0m4-1h0m1 6h0m14-5h0m2 1h0m9-2h0m6 10h0m4-9h0m20 7h0m3-1h0m4-5h0m7 8h0m4-5h0m4 1h0m1 5h0m4-10h0m1 2h0m1 2h0m1 1h0m0 2h0m2-1h0m3 1h0m4-7h0m-6 15h0m-2-1h0m-3 0h0m-6-2h0m-1 7h0m-4-5h0m-1 5h0m-4-7h0m0 6h0m-1-5h0m0-2h0m-11 2h0m-10 4h0m-4 5h0m-16 0h0m-2-11h0m-13 6h0m-6 4h0m-17 1h0m-20-8h0m-1-1h0m-5 1h0m-3 4h0m-1 2h0m-8-3h0m-1-6h0m-1 9h0m-2-9h0m-1 10h0m0 0h0m-2-5h0m0 5h0m-4-3h0m-1 4h0m-4-5h0m-1 1h0m0-6h0m-4 6h0m0-7h0m0 0h0m-5 11h0m0-9h0m-2 6h0m-8-6h0m7 12h0m1 0h0m1 0h0m1 2h0m1-1h0m3 3h0m1-4h0m5 9h0m0-5h0m9 1h0m0 1h0m2 3h0m1-7h0m4-3h0m0 4h0m1 0h0m3 0h0m0 0h0m1 4h0m2-1h0m3-7h0m4 2h0m2 6h0m2-2h0m2-1h0m1-5h0m1 10h0m1 0h0m3-3h0m5-8h0m8 0h0m7 5h0m2 4h0m13-5h0m6-4h0m3 11h0m2-5h0m0-6h0m3 10h0m20-2h0m1 2h0m6-6h0m1-3h0m8 0h0m0 8h0m6-7h0m1 1h0m1 8h0m5-7h0m1-3h0m6 9h0m9-9h0m-6 17h0m-3 0h0m-1-4h0m-1 7h0m-1-6h0m-3 3h0m0 0h0m-3-2h0m-5 2h0m-1-4h0m-5 8h0m-4 0h0m-1-2h0m-2 0h0m-1-5h0m-9 8h0m0-4h0m-1 4h0m-4-7h0m-21-2h0m-22 3h0m-2-2h0m-26 7h0m-3-7h0m-1-1h0m-3 7h0m-1-3h0m-2 3h0m0-8h0m0 6h0m-1-1h0m-1-3h0m-1 6h0m-1-4h0m-2-4h0m-1 1h0m-1-1h0m-2 4h0m-1-3h0m0 4h0m0-2h0m-3 0h0m-1-3h0m-1 3h0m0 3h0m-15 9h0m10 5h0m1-4h0m2 6h0m11-6h0m5 5h0m8-3h0m1 2h0m2 0h0m2-9h0m22 5h0m15 6h0m0-4h0m22-6h0m15 8h0m1-7h0m6 4h0m3 5h0m3-8h0m4-1h0m2 4h0m3-5h0m0 1h0m3 8h0m5-3h0m2-3h0m-15 8h0m-2 0h0m-21 4h0m-15 1h0m-3-2h0m-45 0h0m-4 4h0m0 0h0m-1 2h0m-1-4h0m0 0h0m-4 0h0m-1-3h0m-3-2h0m-1 11h0m-3-4h0m-3 2h0m-1-1h0m-1-3h0m-2 3h0m-5-6h0m-6 5h0m-4-5h0m-1 6h0m-3-4h0m-1-1h0m-3 7h0m2 5h0m2-3h0m4 9h0m1-6h0m3-3h0m0 4h0m4 2h0m2-4h0m0 9h0m1 0h0m1-9h0m0-1h0m1 7h0m1-3h0m1 0h0m0-1h0m5-1h0m0 6h0m2-3h0m8-3h0m2-2h0" stroke="#4d0f6e" stroke-width="5.20" stroke-linecap="round" fill="none" />
<path transform="scale(0.5)" d="M224 814h0m-8-2h0m-7 0h0m-3 1h0m-4 9h0m1 3h0m1 1h0m6-4h0m0-2h0m3-4h0m6 8h0m0-2h0m0 2h0m2 0h0m16-1h0m4 8h0m-2 5h0m0-6h0m0 9h0m-6-8h0m-4 8h0m-4-11h0m-2 7h0m-1-1h0m-2-3h0m-7 7h0m-1-2h0m-3-2h0m-4-4h0m-14 3h0m-2 3h0m-3 0h0m-3-6h0m0 5h0m0-2h0m-3-4h0m0 10h0m-3-6h0m-5-2h0m-1-3h0m0 0h0m-1 7h0m-3 1h0m-2-8h0m0 9h0m-1-7h0m-43 15h0m7 5h0m10 1h0m1-3h0m9-1h0m2 2h0m9-1h0m3-7h0m2 8h0m0-5h0m3 7h0m0 0h0m1-4h0m1 0h0m1 4h0m1-5h0m4-4h0m2 2h0m2-1h0m0 7h0m2-9h0m1 10h0m2-7h0m1 1h0m0-3h0m3 2h0m1 0h0m1-2h0m1 2h0m3 7h0m0-10h0m1 5h0m6-1h0m3 1h0m5-6h0m1 9h0m1-1h0m3 2h0m4-6h0m1-2h0m7 7h0m1-3h0m0 2h0m7-3h0m5 0h0m3 0h0m4-4h0m1 0h0m1 1h0m-4 11h0m-2 3h0m-5 4h0m-2-2h0m-3-2h0m-2 4h0m-4-6h0m-2 2h0m-2 2h0m-2 3h0m-1-6h0m-4 7h0m-8-10h0m-3 6h0m-2-2h0m-7 2h0m-1-6h0m-1 11h0m-3-9h0m0 4h0m-3-4h0m-4 8h0m-6 0h0m0-3h0m-4 0h0m-1-7h0m-4 10h0m-4-6h0m0 4h0m-1-3h0m-2-2h0m0 4h0m-2 3h0m-5-8h0m-2 1h0m-1 8h0m-1-1h0m-1-2h0m-3-3h0m0-5h0m-8 4h0m-7-2h0m-5 4h0m-1 2h0m-2 3h0m-3-6h0m-13 8h0m0 10h0m1-9h0m1 5h0m14 3h0m2-3h0m0 0h0m4 3h0m7-9h0m4 8h0m1-5h0m11 0h0m3 1h0m0 3h0m6 2h0m1-3h0m0-7h0m9 8h0m4-7h0m5-1h0m12 1h0m3 6h0m0-2h0m1-3h0m2 0h0m8 4h0m5-1h0m6 1h0m1-4h0m4 4h0m1-4h0m2 3h0m1 0h0m4-2h0m6 8h0m4-11h0m3 2h0m13 6h0m19 0h0m24 14h0m-3 1h0m-4-5h0m0-1h0m0 5h0m-5-9h0m-4 9h0m0 1h0m0-11h0m-4 9h0m-4-8h0m-1 7h0m-2-2h0m-10-1h0m0 1h0m-1-6h0m-2 5h0m-5 6h0m-6-6h0m-5-3h0m-3 5h0m-12 2h0m-1 1h0m-5-6h0m0 6h0m-6-3h0m-5-3h0m0-4h0m-3 8h0m0-1h0m-1-3h0m-4-4h0m-2 9h0m-2-1h0m-4 3h0m-4-1h0m-6-4h0m-2-1h0m-3 1h0m-1-1h0m-2-4h0m-6-1h0m-8 0h0m-3 7h0m-4-4h0m0 8h0m-4-4h0m-2 1h0m-1-6h0m-4 6h0m-1-8h0m-4 6h0m-2-5h0m-3 10h0m-4-8h0m-3 8h0m-3-11h0m-1 0h0m-8 0h0m-7 13h0m2 9h0m2-9h0m1 7h0m2-8h0m11 4h0m0 0h0m6 1h0m1 4h0m8 0h0m7-6h0m0 8h0m2-5h0m0 1h0m7 1h0m10 3h0m2-3h0m2 2h0m1 0h0m2-10h0m7 2h0m3 3h0m6-5h0m0 0h0m7 3h0m1-1h0m3 0h0m8 4h0m1-2h0m4 6h0m6-5h0m2-3h0m2 1h0m9 0h0m6-3h0m12 3h0m4 5h0m0 1h0m2-9h0m6 6h0m10-3h0m0 7h0m5 0h0m0 0h0m4-9h0m3 6h0m5-2h0m8 6h0m3-8h0m2 5h0m3-3h0m4 3h0m1 12h0m-7-4h0m-1-3h0m-1 0h0m-5 0h0m-9 7h0m-3-8h0m-2 10h0m-15-8h0m-3-2h0m-5 6h0m-2 0h0m-4 4h0m-16 0h0m-3-9h0m-2 6h0m-6-3h0m-4 0h0m-2 5h0m-1-8h0m-4 8h0m-3-2h0m-2 4h0m-1-1h0m-6 1h0m-2-3h0m-1-4h0m-1 1h0m-1 5h0m-3-8h0m-7 1h0m-4-3h0m-4 5h0m-7 5h0m-4 1h0m-5-6h0m-5 5h0m-11-7h0m-2 6h0m-2-5h0m-3-2h0m-1 3h0m0 3h0m-1 3h0m-1-10h0m-1 5h0m0-5h0m-4 0h0m-4 10h0m-5 0h0m-1-6h0m-1 4h0m-1-9h0m-7 7h0m-1-7h0m-4 11h0m-1 6h0m0 2h0m2 0h0m0-1h0m4-3h0m7 7h0m1-10h0m2 8h0m2-4h0m1 5h0m1-5h0m5 6h0m4 0h0m3-4h0m7-3h0m3 1h0m1 7h0m0-3h0m7-3h0m4 3h0m16 3h0m5-3h0m1-2h0m4 1h0m0-1h0m2-5h0m3 4h0m5-5h0m7 3h0m1 7h0m21 0h0m9-10h0m2 6h0m4-4h0m6-2h0m0 11h0m2-11h0m11 2h0m5-1h0m2 10h0m2-3h0m3-4h0m14-3h0m4 6h0m0 1h0m2-7h0m3 7h0m1-7h0m0 10h0m6-7h0m1 4h0m1-2h0m2-2h0m2 12h0m-6 4h0m-4-5h0m-10 0h0m-17 5h0m-3-1h0m-1-6h0m-8 8h0m-3-6h0m-10 3h0m0-4h0m-5-2h0m-1 10h0m-13-2h0m-1 2h0m0-6h0m-8 2h0m-2-2h0m-2-3h0m-5 0h0m-4 2h0m-1 0h0m-7 0h0m-4 1h0m-1-1h0m-11 8h0m-2-2h0m-1-3h0m-6 2h0m-2 2h0m-1-7h0m-3-2h0m-2 9h0m-1-8h0m-1 0h0m-1 0h0m-1 0h0m-3 3h0m-1 3h0m-1-4h0m-3 3h0m-7 2h0m-5 1h0m-1-7h0m-5 3h0m0-4h0m-3 7h0m-6-9h0m-2 6h0m-4 4h0m-5-6h0m4 14h0m1 4h0m9-1h0m3-8h0m2 10h0m7-3h0m12-8h0m0 5h0m1 4h0m0-3h0m7-2h0m2 5h0m0 1h0m2-7h0m2 8h0m1-4h0m2 4h0m3-6h0m7 2h0m10 3h0m0 0h0m4-9h0m1 8h0m13-4h0m1 3h0m3-6h0m2 5h0m6-2h0m1-3h0m22-1h0m1 8h0m0-5h0m3 1h0m6 5h0m5-5h0m9-3h0m6 9h0m2 0h0m0-11h0m0 8h0m2-8h0m1 5h0m2 0h0m6 2h0m1-4h0m2 7h0m0 0h0m3-1h0m4-1h0m4-4h0m1 7h0m2-8h0m4 0h0m-7 17h0m-7-6h0m-10 7h0m-6-5h0m-2-3h0m-3 4h0m-1 6h0m-7-8h0m-2 2h0m-3 3h0m-5 2h0m-3-4h0m-10-2h0m-17 0h0m-1 7h0m-1-8h0m-1-2h0m-3 3h0m-3 5h0m-5-3h0m-3 0h0m-3 2h0m0-2h0m0 3h0m-25-3h0m-1 3h0m-1-2h0m-1-1h0m-3-2h0m0 3h0m-1-7h0m-4 4h0m-9-4h0m-5 9h0m-5-6h0m-4 8h0m0 0h0m-1-3h0m-1-3h0m-3-4h0m0-1h0m-3 11h0m-5-1h0m0-5h0m7 18h0m5-8h0m3 7h0m4-1h0m4 0h0m4-7h0m1-2h0m14 7h0m13-7h0m6 4h0m18-4h0m2 1h0m1 3h0m0 4h0m0-2h0m1-1h0m7-2h0m13-2h0m0 1h0m10 0h0m5 1h0m2 8h0m2-6h0m3 5h0m1 0h0m6-8h0m1 4h0m8 2h0m5-7h0m4 10h0m3-5h0m6 3h0m4-6h0m1 14h0m-2-1h0m-1 3h0m-3-5h0m-5 6h0m-2-1h0m-13-5h0m0 4h0m-1 5h0m-1-11h0m-3 11h0m-2-4h0m-1 0h0m-6 4h0m-5-1h0m-1-9h0m-2 9h0m-2-10h0m-6 3h0m-3 6h0m-13 0h0m0-1h0m-2-2h0m-14-4h0m-2 3h0m-1-1h0m-1-1h0m-1 1h0m-4 1h0m-2-4h0m-11 5h0m0 1h0m-1-7h0m-1 2h0m-1-2h0m-2 11h0m-7-5h0m-1-6h0m-4 0h0m-6 11h0m-3-9h0m-6 2h0m-8 0h0m-4 5h0m0 0h0m-1-3h0m-1 1h0m-1 6h0m1 1h0m2 9h0m4-4h0m10-1h0m6 5h0m1-8h0m6 5h0m2-3h0m4 5h0m5-2h0m1 0h0m1-6h0m0 8h0m1-2h0m14-4h0m8 1h0m4 6h0m1-4h0m7-1h0m2 3h0m9 0h0m11 2h0m1-10h0m13 3h0m7-4h0m1 5h0m1 2h0m0-6h0m3-1h0m0 1h0m2 2h0m3 4h0m5-2h0m6 4h0m1-1h0m1-7h0m3 3h0m2-3h0m-37 17h0m-1-2h0m-1-2h0m-2-1h0m-7 3h0m-3 4h0m-1-6h0m0 3h0m-1-3h0m-1 8h0m-10 0h0m-3-1h0m-5-1h0m-7-5h0m-25-2h0m-3-1h0m0 2h0m-1 1h0m-7 3h0m-6-5h0m-10 5h0m-6-4h0m-1 1h0m-3 4h0m-10-3h0m0-1h0m4 10h0m0 3h0m8-3h0m4 9h0m4-2h0m4 2h0m3-9h0m7-1h0m0 6h0m0 1h0m64-6h0" stroke="#0c0c0c" stroke-width="5.00" stroke-linecap="round" fill="none" />
<path transform="scale(0.5)" d="M233 826h0m-111 22h0m6 1h0m7-1h0m24-6h0m30 2h0m38 4h0m-56 6h0m-2 5h0m-14-6h0m-12 4h0m-6 5h0m-16 13h0m2-11h0m12 11h0m30-10h0m8 3h0m39 0h0m67 3h0m-127 12h0m-20-7h0m-10 9h0m-13-8h0m-2-1h0m39 14h0m62 4h0m56 13h0m-8-2h0m-31 4h0m-11-4h0m-6-1h0m-67 1h0m-15 1h0m-6-6h0m1 19h0m23-3h0m10 1h0m43-3h0m14 2h0m58 1h0m27-1h0m16-1h0m-16 18h0m-8-5h0m-82 3h0m-45 3h0m-6-5h0m-18 2h0m-3 0h0m-14 3h0m5 11h0m24-3h0m22-2h0m11 1h0m18-4h0m9-1h0m5 8h0m62-4h0m15 6h0m12-2h0m4 3h0m0 3h0m-1-1h0m-5 9h0m-6-2h0m-6-7h0m-31-1h0m0 0h0m-73 9h0m-6-6h0m-8-3h0m-11 9h0m-1-4h0m-12 1h0m-10-3h0m-6 5h0m-6-7h0m18 15h0m3 6h0m9-6h0m31 3h0m31-4h0m51 0h0m4 1h0m16 5h0m5-6h0m3 16h0m-28 0h0m-4-1h0m-9 3h0m-13-6h0m-5-1h0m-51 7h0m-12-5h0m-7 3h0m-18 2h0m-8 9h0m13-3h0m7 0h0m41 6h0m13-7h0m8 1h0m38 1h0m10 3h0m-8 6h0m-105 5h0m-6 1h0m-3 11h0m2-5h0m1 9h0m2-1h0m8-1h0m64-8h0" stroke="#a52c6a" stroke-width="5.00" stroke-linecap="round" fill="none" />
<path transform="scale(0.5)" d="M158 861h0m-20 2h0m166 24h0m-170 7h0m163-1h0m10 1h0m-15 6h0m-164 6h0m20 21h0m141 12h0m-18 18h0m-6 11h0m-30 35h0" stroke="#f07e1a" stroke-width="5.00" stroke-linecap="round" fill="none" />
<path d="M52.1 432.6C52.9 429.9 54.9 425.6 57.1 423.7C59.3 421.8 62.6 421.2 65.4 421.1C68.1 420.9 71.2 421.9 73.6 422.9C75.9 423.9 78.3 425.7 79.4 427.3C80.5 428.9 80.7 430.8 80.2 432.6C79.8 434.3 77.6 435.8 76.9 437.8C76.2 439.9 75.8 442.0 76.1 444.9C76.3 447.9 77.3 452.6 78.5 455.5C79.8 458.4 81.6 461.1 83.6 462.5C85.5 464.0 88.4 463.5 90.2 464.3C92.0 465.2 94.0 466.4 94.3 467.8C94.6 469.3 91.7 471.3 91.8 473.1C91.9 474.9 94.7 475.8 95.1 478.5C95.5 481.1 94.6 485.5 94.3 489.0C94.0 492.6 94.5 496.7 93.5 499.6C92.5 502.5 90.8 504.9 88.5 506.6C86.3 508.4 83.0 509.9 80.2 510.2C77.5 510.5 73.9 509.9 72.0 508.4C70.0 507.0 68.9 504.3 68.6 501.3C68.3 498.4 70.3 493.7 70.3 490.8C70.3 487.8 70.0 486.4 68.6 483.7C67.2 481.1 64.0 477.6 62.0 474.9C60.1 472.3 58.4 470.8 57.1 467.8C55.7 464.9 54.0 460.5 53.7 457.2C53.4 454.0 55.6 451.3 55.4 448.4C55.1 445.5 52.6 442.3 52.1 439.7C51.6 437.0 51.3 435.2 52.1 432.6Z" fill="none" stroke="#c6848f" stroke-width="2.0"/>
<path d="M78.5 415.0C80.0 413.1 84.1 412.3 86.8 412.3C89.6 412.3 93.2 413.1 95.1 415.0C97.1 416.9 97.1 421.2 98.5 423.7C99.9 426.2 101.5 428.0 103.4 429.9C105.4 431.8 108.5 433.7 110.0 435.2C111.5 436.7 113.3 437.7 112.5 438.8C111.7 439.8 107.7 440.4 105.1 441.4C102.4 442.4 99.0 444.7 96.8 444.9C94.6 445.2 93.7 444.6 91.8 443.1C89.9 441.7 87.3 438.0 85.2 436.1C83.1 434.2 80.6 433.7 79.4 431.7C78.2 429.6 78.4 426.5 78.3 423.7C78.1 420.9 77.1 416.9 78.5 415.0Z" fill="none" stroke="#f5b07a" stroke-width="2.0"/>
<path d="M103.4 405.2C105.4 404.4 109.2 404.0 111.7 404.7C114.2 405.4 116.4 407.7 118.3 409.7C120.2 411.7 122.3 414.4 123.3 416.7C124.3 419.0 124.4 421.5 124.1 423.7C123.9 425.9 122.9 428.4 121.7 429.9C120.4 431.4 118.3 431.7 116.7 432.6C115.0 433.4 113.1 434.8 111.7 435.2C110.3 435.6 109.8 436.2 108.4 435.2C107.0 434.2 104.8 430.9 103.4 429.0C102.0 427.1 100.9 425.8 100.1 423.7C99.3 421.7 98.5 419.0 98.5 416.7C98.5 414.4 99.3 411.6 100.1 409.7C100.9 407.8 101.5 406.1 103.4 405.2Z" fill="none" stroke="#8d6cbd" stroke-width="2.0"/>
<path d="M131.6 432.6C132.1 431.8 135.7 434.3 138.2 435.2C140.7 436.1 144.0 436.5 146.5 437.8C149.0 439.2 151.5 441.1 153.1 443.1C154.8 445.2 155.9 447.6 156.4 450.2C156.9 452.9 156.7 456.1 156.4 459.1C156.1 462.0 155.3 464.9 154.8 467.8C154.2 470.7 154.0 473.4 153.1 476.7C152.3 479.9 151.2 484.0 149.8 487.2C148.4 490.5 146.8 494.3 144.8 496.1C142.9 497.8 140.4 497.4 138.2 497.8C136.0 498.2 133.2 498.7 131.6 498.7C129.9 498.7 129.3 498.8 128.2 497.8C127.1 496.8 125.7 494.6 125.0 492.5C124.3 490.5 123.3 486.9 124.1 485.5C125.0 484.0 128.2 485.2 129.9 483.7C131.7 482.3 133.5 479.3 134.9 476.7C136.3 474.0 136.8 470.5 138.2 467.8C139.5 465.2 142.0 463.1 143.1 460.8C144.2 458.4 145.1 455.8 144.8 453.7C144.6 451.6 143.2 450.8 141.5 448.4C139.9 446.1 136.6 442.3 134.9 439.7C133.3 437.0 131.0 433.3 131.6 432.6Z" fill="none" stroke="#cf7f2c" stroke-width="2.0"/>
<path d="M76.9 437.8C77.9 435.8 80.2 432.8 81.9 432.6C83.5 432.3 85.2 434.3 86.8 436.1C88.5 437.9 90.1 441.7 91.8 443.1C93.5 444.6 94.6 445.2 96.8 444.9C99.0 444.7 102.3 442.6 105.1 441.4C107.8 440.2 110.9 439.5 113.4 437.8C115.8 436.2 118.0 433.0 120.0 431.7C121.9 430.3 123.0 429.8 125.0 429.9C126.9 430.1 129.9 430.9 131.6 432.6C133.2 434.2 133.3 437.0 134.9 439.7C136.6 442.3 139.9 446.1 141.5 448.4C143.2 450.8 144.6 451.6 144.8 453.7C145.1 455.8 144.2 458.4 143.1 460.8C142.0 463.1 139.5 465.2 138.2 467.8C136.8 470.5 136.3 474.0 134.9 476.7C133.5 479.3 131.6 482.3 129.9 483.7C128.3 485.2 126.0 484.0 125.0 485.5C124.0 486.9 123.3 490.2 124.1 492.5C125.0 494.9 129.3 497.8 129.9 499.6C130.6 501.4 130.2 502.3 128.2 503.2C126.3 504.0 121.6 504.9 118.3 504.9C115.0 504.9 111.2 504.0 108.4 503.2C105.6 502.3 103.4 501.4 101.7 499.6C100.1 497.8 99.3 495.5 98.5 492.5C97.6 489.6 97.5 485.5 96.8 481.9C96.1 478.4 94.6 473.9 94.3 471.4C94.0 468.9 95.8 468.2 95.1 467.0C94.5 465.8 92.1 465.1 90.2 464.3C88.2 463.6 85.5 464.0 83.6 462.5C81.6 461.1 79.8 458.4 78.5 455.5C77.3 452.6 76.3 447.9 76.1 444.9C75.8 442.0 75.9 439.9 76.9 437.8Z" fill="none" stroke="#a9c3e8" stroke-width="2.0"/></g>
<g clip-path="url(#ce2)"><defs><filter id="fe42" x="-30%" y="-30%" width="160%" height="160%"><feGaussianBlur stdDeviation="4.5"/></filter></defs>
<g filter="url(#fe42)" fill="#ffff90" opacity="0.75"><path d="M202.4 437.8C203.4 435.8 205.7 432.8 207.4 432.6C209.0 432.3 210.7 434.3 212.3 436.1C214.0 437.9 215.6 441.7 217.3 443.1C219.0 444.6 220.1 445.2 222.3 444.9C224.5 444.7 227.8 442.6 230.6 441.4C233.3 440.2 236.4 439.5 238.9 437.8C241.3 436.2 243.5 433.0 245.5 431.7C247.4 430.3 248.5 429.8 250.5 429.9C252.4 430.1 255.4 430.9 257.1 432.6C258.7 434.2 258.8 437.0 260.4 439.7C262.1 442.3 265.4 446.1 267.0 448.4C268.7 450.8 270.1 451.6 270.3 453.7C270.6 455.8 269.7 458.4 268.6 460.8C267.5 463.1 265.0 465.2 263.7 467.8C262.3 470.5 261.8 474.0 260.4 476.7C259.0 479.3 257.1 482.3 255.4 483.7C253.8 485.2 251.5 484.0 250.5 485.5C249.5 486.9 248.8 490.2 249.6 492.5C250.5 494.9 254.8 497.8 255.4 499.6C256.1 501.4 255.7 502.3 253.7 503.2C251.8 504.0 247.1 504.9 243.8 504.9C240.5 504.9 236.7 504.0 233.9 503.2C231.1 502.3 228.9 501.4 227.2 499.6C225.6 497.8 224.8 495.5 224.0 492.5C223.1 489.6 223.0 485.5 222.3 481.9C221.6 478.4 220.1 473.9 219.8 471.4C219.5 468.9 221.3 468.2 220.6 467.0C220.0 465.8 217.6 465.1 215.7 464.3C213.7 463.6 211.0 464.0 209.1 462.5C207.1 461.1 205.3 458.4 204.0 455.5C202.8 452.6 201.8 447.9 201.6 444.9C201.3 442.0 201.4 439.9 202.4 437.8Z" stroke="#ffff80" stroke-width="9"/><path d="M177.6 432.6C178.4 429.9 180.4 425.6 182.6 423.7C184.8 421.8 188.1 421.2 190.9 421.1C193.6 420.9 196.7 421.9 199.1 422.9C201.4 423.9 203.8 425.7 204.9 427.3C206.0 428.9 206.2 430.8 205.7 432.6C205.3 434.3 203.1 435.8 202.4 437.8C201.7 439.9 201.3 442.0 201.6 444.9C201.8 447.9 202.8 452.6 204.0 455.5C205.3 458.4 207.1 461.1 209.1 462.5C211.0 464.0 213.9 463.5 215.7 464.3C217.5 465.2 219.5 466.4 219.8 467.8C220.1 469.3 217.2 471.3 217.3 473.1C217.4 474.9 220.2 475.8 220.6 478.5C221.0 481.1 220.1 485.5 219.8 489.0C219.5 492.6 220.0 496.7 219.0 499.6C218.0 502.5 216.3 504.9 214.0 506.6C211.8 508.4 208.5 509.9 205.7 510.2C203.0 510.5 199.4 509.9 197.5 508.4C195.5 507.0 194.4 504.3 194.1 501.3C193.8 498.4 195.8 493.7 195.8 490.8C195.8 487.8 195.5 486.4 194.1 483.7C192.7 481.1 189.5 477.6 187.5 474.9C185.6 472.3 183.9 470.8 182.6 467.8C181.2 464.9 179.5 460.5 179.2 457.2C178.9 454.0 181.1 451.3 180.9 448.4C180.6 445.5 178.1 442.3 177.6 439.7C177.1 437.0 176.8 435.2 177.6 432.6Z" stroke="#ffff80" stroke-width="9"/><path d="M204.0 415.0C205.5 413.1 209.6 412.3 212.3 412.3C215.1 412.3 218.7 413.1 220.6 415.0C222.6 416.9 222.6 421.2 224.0 423.7C225.4 426.2 227.0 428.0 228.9 429.9C230.9 431.8 234.0 433.7 235.5 435.2C237.0 436.7 238.8 437.7 238.0 438.8C237.2 439.8 233.2 440.4 230.6 441.4C227.9 442.4 224.5 444.7 222.3 444.9C220.1 445.2 219.2 444.6 217.3 443.1C215.4 441.7 212.8 438.0 210.7 436.1C208.6 434.2 206.1 433.7 204.9 431.7C203.7 429.6 203.9 426.5 203.8 423.7C203.6 420.9 202.6 416.9 204.0 415.0Z" stroke="#ffff80" stroke-width="9"/><path d="M228.9 405.2C230.9 404.4 234.7 404.0 237.2 404.7C239.7 405.4 241.9 407.7 243.8 409.7C245.7 411.7 247.8 414.4 248.8 416.7C249.8 419.0 249.9 421.5 249.6 423.7C249.4 425.9 248.4 428.4 247.2 429.9C245.9 431.4 243.8 431.7 242.2 432.6C240.5 433.4 238.6 434.8 237.2 435.2C235.8 435.6 235.3 436.2 233.9 435.2C232.5 434.2 230.3 430.9 228.9 429.0C227.5 427.1 226.4 425.8 225.6 423.7C224.8 421.7 224.0 419.0 224.0 416.7C224.0 414.4 224.8 411.6 225.6 409.7C226.4 407.8 227.0 406.1 228.9 405.2Z" stroke="#ffff80" stroke-width="9"/><path d="M257.1 432.6C257.6 431.8 261.2 434.3 263.7 435.2C266.2 436.1 269.5 436.5 272.0 437.8C274.5 439.2 277.0 441.1 278.6 443.1C280.3 445.2 281.4 447.6 281.9 450.2C282.4 452.9 282.2 456.1 281.9 459.1C281.6 462.0 280.8 464.9 280.3 467.8C279.7 470.7 279.5 473.4 278.6 476.7C277.8 479.9 276.7 484.0 275.3 487.2C273.9 490.5 272.3 494.3 270.3 496.1C268.4 497.8 265.9 497.4 263.7 497.8C261.5 498.2 258.7 498.7 257.1 498.7C255.4 498.7 254.8 498.8 253.7 497.8C252.6 496.8 251.2 494.6 250.5 492.5C249.8 490.5 248.8 486.9 249.6 485.5C250.5 484.0 253.7 485.2 255.4 483.7C257.2 482.3 259.0 479.3 260.4 476.7C261.8 474.0 262.3 470.5 263.7 467.8C265.0 465.2 267.5 463.1 268.6 460.8C269.7 458.4 270.6 455.8 270.3 453.7C270.1 451.6 268.7 450.8 267.0 448.4C265.4 446.1 262.1 442.3 260.4 439.7C258.8 437.0 256.5 433.3 257.1 432.6Z" stroke="#ffff80" stroke-width="9"/></g>
<path d="M202.4 437.8C203.4 435.8 205.7 432.8 207.4 432.6C209.0 432.3 210.7 434.3 212.3 436.1C214.0 437.9 215.6 441.7 217.3 443.1C219.0 444.6 220.1 445.2 222.3 444.9C224.5 444.7 227.8 442.6 230.6 441.4C233.3 440.2 236.4 439.5 238.9 437.8C241.3 436.2 243.5 433.0 245.5 431.7C247.4 430.3 248.5 429.8 250.5 429.9C252.4 430.1 255.4 430.9 257.1 432.6C258.7 434.2 258.8 437.0 260.4 439.7C262.1 442.3 265.4 446.1 267.0 448.4C268.7 450.8 270.1 451.6 270.3 453.7C270.6 455.8 269.7 458.4 268.6 460.8C267.5 463.1 265.0 465.2 263.7 467.8C262.3 470.5 261.8 474.0 260.4 476.7C259.0 479.3 257.1 482.3 255.4 483.7C253.8 485.2 251.5 484.0 250.5 485.5C249.5 486.9 248.8 490.2 249.6 492.5C250.5 494.9 254.8 497.8 255.4 499.6C256.1 501.4 255.7 502.3 253.7 503.2C251.8 504.0 247.1 504.9 243.8 504.9C240.5 504.9 236.7 504.0 233.9 503.2C231.1 502.3 228.9 501.4 227.2 499.6C225.6 497.8 224.8 495.5 224.0 492.5C223.1 489.6 223.0 485.5 222.3 481.9C221.6 478.4 220.1 473.9 219.8 471.4C219.5 468.9 221.3 468.2 220.6 467.0C220.0 465.8 217.6 465.1 215.7 464.3C213.7 463.6 211.0 464.0 209.1 462.5C207.1 461.1 205.3 458.4 204.0 455.5C202.8 452.6 201.8 447.9 201.6 444.9C201.3 442.0 201.4 439.9 202.4 437.8Z" fill="#dedc96"/>
<path d="M177.6 432.6C178.4 429.9 180.4 425.6 182.6 423.7C184.8 421.8 188.1 421.2 190.9 421.1C193.6 420.9 196.7 421.9 199.1 422.9C201.4 423.9 203.8 425.7 204.9 427.3C206.0 428.9 206.2 430.8 205.7 432.6C205.3 434.3 203.1 435.8 202.4 437.8C201.7 439.9 201.3 442.0 201.6 444.9C201.8 447.9 202.8 452.6 204.0 455.5C205.3 458.4 207.1 461.1 209.1 462.5C211.0 464.0 213.9 463.5 215.7 464.3C217.5 465.2 219.5 466.4 219.8 467.8C220.1 469.3 217.2 471.3 217.3 473.1C217.4 474.9 220.2 475.8 220.6 478.5C221.0 481.1 220.1 485.5 219.8 489.0C219.5 492.6 220.0 496.7 219.0 499.6C218.0 502.5 216.3 504.9 214.0 506.6C211.8 508.4 208.5 509.9 205.7 510.2C203.0 510.5 199.4 509.9 197.5 508.4C195.5 507.0 194.4 504.3 194.1 501.3C193.8 498.4 195.8 493.7 195.8 490.8C195.8 487.8 195.5 486.4 194.1 483.7C192.7 481.1 189.5 477.6 187.5 474.9C185.6 472.3 183.9 470.8 182.6 467.8C181.2 464.9 179.5 460.5 179.2 457.2C178.9 454.0 181.1 451.3 180.9 448.4C180.6 445.5 178.1 442.3 177.6 439.7C177.1 437.0 176.8 435.2 177.6 432.6Z" fill="#dedc96"/>
<path d="M204.0 415.0C205.5 413.1 209.6 412.3 212.3 412.3C215.1 412.3 218.7 413.1 220.6 415.0C222.6 416.9 222.6 421.2 224.0 423.7C225.4 426.2 227.0 428.0 228.9 429.9C230.9 431.8 234.0 433.7 235.5 435.2C237.0 436.7 238.8 437.7 238.0 438.8C237.2 439.8 233.2 440.4 230.6 441.4C227.9 442.4 224.5 444.7 222.3 444.9C220.1 445.2 219.2 444.6 217.3 443.1C215.4 441.7 212.8 438.0 210.7 436.1C208.6 434.2 206.1 433.7 204.9 431.7C203.7 429.6 203.9 426.5 203.8 423.7C203.6 420.9 202.6 416.9 204.0 415.0Z" fill="#dedc96"/>
<path d="M228.9 405.2C230.9 404.4 234.7 404.0 237.2 404.7C239.7 405.4 241.9 407.7 243.8 409.7C245.7 411.7 247.8 414.4 248.8 416.7C249.8 419.0 249.9 421.5 249.6 423.7C249.4 425.9 248.4 428.4 247.2 429.9C245.9 431.4 243.8 431.7 242.2 432.6C240.5 433.4 238.6 434.8 237.2 435.2C235.8 435.6 235.3 436.2 233.9 435.2C232.5 434.2 230.3 430.9 228.9 429.0C227.5 427.1 226.4 425.8 225.6 423.7C224.8 421.7 224.0 419.0 224.0 416.7C224.0 414.4 224.8 411.6 225.6 409.7C226.4 407.8 227.0 406.1 228.9 405.2Z" fill="#dedc96"/>
<path d="M257.1 432.6C257.6 431.8 261.2 434.3 263.7 435.2C266.2 436.1 269.5 436.5 272.0 437.8C274.5 439.2 277.0 441.1 278.6 443.1C280.3 445.2 281.4 447.6 281.9 450.2C282.4 452.9 282.2 456.1 281.9 459.1C281.6 462.0 280.8 464.9 280.3 467.8C279.7 470.7 279.5 473.4 278.6 476.7C277.8 479.9 276.7 484.0 275.3 487.2C273.9 490.5 272.3 494.3 270.3 496.1C268.4 497.8 265.9 497.4 263.7 497.8C261.5 498.2 258.7 498.7 257.1 498.7C255.4 498.7 254.8 498.8 253.7 497.8C252.6 496.8 251.2 494.6 250.5 492.5C249.8 490.5 248.8 486.9 249.6 485.5C250.5 484.0 253.7 485.2 255.4 483.7C257.2 482.3 259.0 479.3 260.4 476.7C261.8 474.0 262.3 470.5 263.7 467.8C265.0 465.2 267.5 463.1 268.6 460.8C269.7 458.4 270.6 455.8 270.3 453.7C270.1 451.6 268.7 450.8 267.0 448.4C265.4 446.1 262.1 442.3 260.4 439.7C258.8 437.0 256.5 433.3 257.1 432.6Z" fill="#dedc96"/>
<path transform="scale(0.5)" d="M476 812h0m-1 0h0m-4 0h0m-4 1h0m-4 2h0m0-1h0m-2 1h0m-40 11h0m30-3h0m2-5h0m0 0h0m1 5h0m0-1h0m1-2h0m1 3h0m0-1h0m2 3h0m1-3h0m0-3h0m5 4h0m5-4h0m1-3h0m1 4h0m1 4h0m2-2h0m0 2h0m2-4h0m0 0h0m3 1h0m1 1h0m0-3h0m6 0h0m0 0h0m0 8h0m1-4h0m0 3h0m2 1h0m2-2h0m1 2h0m4 6h0m0 0h0m-1-2h0m0 0h0m-2 3h0m-5 3h0m0-5h0m0 1h0m0-2h0m-1 4h0m-2-5h0m-3 5h0m-1-3h0m-1-4h0m-2 6h0m-3-2h0m-1 1h0m0-1h0m0 3h0m0-3h0m-1 7h0m0 0h0m-1-9h0m0 1h0m-6 4h0m-2 1h0m0-5h0m-3-3h0m0 6h0m-1-1h0m0-4h0m-1 8h0m0 2h0m-3-10h0m-1 4h0m0 0h0m-1-2h0m0 8h0m-1-4h0m0 3h0m-1-1h0m-1-5h0m-7 7h0m-2-6h0m-1 1h0m-1-4h0m-4 3h0m0 1h0m-1-3h0m-6 3h0m-1-2h0m-2-2h0m0 0h0m0 0h0m0 4h0m-2-6h0m-5 11h0m-2-4h0m-1 0h0m-2 3h0m-1-7h0m-1 0h0m-1 0h0m-3 3h0m-31 11h0m7 5h0m1 0h0m1 1h0m1-4h0m21-5h0m3 6h0m1 0h0m0-6h0m2-1h0m0-1h0m0 4h0m2 1h0m2 0h0m1 6h0m1-8h0m3 8h0m2-6h0m1-2h0m0 8h0m3-7h0m0 7h0m1-8h0m3-2h0m0 6h0m5-5h0m1 6h0m0-5h0m1 7h0m2-3h0m2 3h0m0-10h0m4 10h0m0-3h0m0 1h0m2-6h0m3 4h0m2-6h0m0 5h0m0 4h0m0-3h0m1-5h0m1 10h0m1-2h0m6-4h0m3-2h0m1 7h0m0-10h0m3 7h0m1 2h0m0-7h0m0 3h0m0-3h0m1 7h0m0-9h0m0 4h0m0 3h0m2 2h0m2-2h0m2 0h0m0-7h0m1 10h0m1-9h0m2 9h0m1-1h0m0-3h0m2-2h0m1-1h0m1 6h0m1-8h0m0 6h0m2-2h0m4-4h0m2 10h0m0-10h0m0 10h0m1-2h0m0-5h0m-7 8h0m-1 1h0m-1 1h0m-1 8h0m-1-6h0m-1 5h0m0 1h0m-2 0h0m-2-1h0m-1-1h0m-1-4h0m-1 7h0m0-2h0m0-5h0m-1-2h0m0-2h0m-2 0h0m-1 0h0m0 8h0m0-6h0m-5 7h0m-1-9h0m-2 6h0m0-5h0m-1 4h0m0 5h0m0-10h0m-1 8h0m-2-5h0m-2 7h0m-1-4h0m-1-3h0m0 0h0m0 2h0m-1 3h0m0-7h0m0 1h0m-1 6h0m-2-7h0m-3 0h0m0 10h0m0-11h0m-1 5h0m-3 2h0m-2-3h0m-3 2h0m0-6h0m0 0h0m-1 5h0m-1-1h0m0 6h0m-2 1h0m-3-6h0m-1 1h0m0 2h0m0-6h0m-1 2h0m-1 4h0m0-6h0m0 9h0m-1-5h0m-1 4h0m-2-4h0m0-1h0m-1-5h0m-1 5h0m-1-2h0m-3 4h0m-2 2h0m-1 2h0m-1-9h0m0 8h0m-1-10h0m-3 10h0m-1-6h0m0 4h0m-11-5h0m-21 8h0m-14-10h0m-8 11h0m7 5h0m1 3h0m3-5h0m4 0h0m4-3h0m9 7h0m3-2h0m8 4h0m4-9h0m0 2h0m13 1h0m4-1h0m1 4h0m3-3h0m4-2h0m0 0h0m1 8h0m0-3h0m1 1h0m1-2h0m2-3h0m3 1h0m2 3h0m0-4h0m1 2h0m0-4h0m2 11h0m3-9h0m0 0h0m0 0h0m5 9h0m3-11h0m1 7h0m0-2h0m2 3h0m1-6h0m0 4h0m1-4h0m0 1h0m1 8h0m0-3h0m1-2h0m2-5h0m1 5h0m1 1h0m0-1h0m1 4h0m0-1h0m0-8h0m2 2h0m1 0h0m0 0h0m1 1h0m0 1h0m1-3h0m1 9h0m0-4h0m1-6h0m7 0h0m3 2h0m1-1h0m1-1h0m8-1h0m9 3h0m0 2h0m10-3h0m7 7h0m0-6h0m1 3h0m2-1h0m1 4h0m3 1h0m9 0h0m3 1h0m17 11h0m-5-6h0m-3 0h0m0 1h0m-2 2h0m-1-6h0m0 0h0m-2 4h0m-2 1h0m-1 3h0m-7-1h0m-1-1h0m-1 1h0m0-2h0m-2-6h0m-6 9h0m0 2h0m-12-8h0m-2-2h0m-12 6h0m-1 0h0m-6 0h0m-14-7h0m-1 0h0m-2 6h0m-1-5h0m-4 3h0m0 1h0m0-2h0m-1-2h0m-2 0h0m-3 8h0m0-8h0m-2 8h0m-1-6h0m-1 2h0m0-1h0m0-1h0m-1-1h0m-3 3h0m-1-2h0m-4 7h0m-1-7h0m-1 2h0m-4 1h0m-1-5h0m0 5h0m-6 2h0m-1-1h0m-9-4h0m-1-2h0m-11 5h0m-7-5h0m-2 10h0m-6-9h0m-13 8h0m-5-2h0m-7-4h0m-3-3h0m-2 1h0m-4 10h0m1 9h0m1-3h0m1 3h0m9-1h0m6-3h0m1-2h0m0 3h0m2 2h0m9-3h0m1-2h0m0 2h0m0-5h0m2 6h0m5 4h0m2 1h0m3-1h0m1-9h0m1 1h0m6 2h0m1 3h0m0-7h0m2 5h0m17 0h0m2 0h0m3 5h0m3-5h0m19-2h0m4 1h0m4 7h0m3-3h0m10-3h0m1 2h0m8 4h0m1 0h0m11-9h0m6 0h0m4 4h0m12 5h0m3-8h0m1-2h0m4 1h0m2 0h0m0 2h0m0 0h0m2 6h0m1-7h0m1 6h0m2-8h0m0 7h0m1 0h0m9-7h0m4 7h0m1-1h0m1-3h0m0 5h0m7 8h0m0 6h0m-2-11h0m-3 7h0m0-2h0m-4-3h0m-1 3h0m-4 3h0m-4-5h0m-1-2h0m-5 5h0m-3-4h0m0-2h0m-1 10h0m-29-1h0m-3-2h0m-3-6h0m0-1h0m-2 6h0m-2-1h0m-6 5h0m-5-6h0m-4 1h0m-8 6h0m-7-5h0m0 1h0m0 1h0m-5-7h0m-10 9h0m-10-2h0m-7-5h0m-2 6h0m-6-3h0m-2-2h0m-10-1h0m-27 7h0m-1-3h0m-1-2h0m-3-1h0m-5-3h0m0 3h0m-8 5h0m0-8h0m-1 0h0m-1 3h0m0-2h0m-7 14h0m1 5h0m13 2h0m2-7h0m1 4h0m3-5h0m2 8h0m29-5h0m0-1h0m10 6h0m5-6h0m3-3h0m2 4h0m12-2h0m3 5h0m16-6h0m4 8h0m11-11h0m14 3h0m0 5h0m17-3h0m4 6h0m3-5h0m1 2h0m19-1h0m3 2h0m3-1h0m2 1h0m2-6h0m1 2h0m1-2h0m0 6h0m2 1h0m0-6h0m3-3h0m11-1h0m-5 12h0m-4 6h0m-4 4h0m0-7h0m-1 0h0m-4 7h0m-3 1h0m-3-2h0m-1 1h0m-1-8h0m-2 4h0m-2 5h0m-10-2h0m0-7h0m-23-1h0m-7 5h0m-16 2h0m-1-8h0m-1 4h0m-7-2h0m-7 4h0m-35 4h0m-2-1h0m-2-3h0m-3 1h0m-3 0h0m-4-5h0m-5 8h0m-5-4h0m-2 3h0m0-2h0m-7 4h0m0-7h0m-3 4h0m-1-6h0m0 4h0m-6-3h0m-13 6h0m-5 0h0m6 5h0m2 8h0m11 0h0m3-4h0m9-4h0m3 6h0m6 0h0m0-7h0m0 1h0m1-2h0m2 11h0m6-11h0m5 9h0m4-2h0m7-2h0m25 2h0m1 3h0m1-2h0m2-7h0m2 10h0m1 0h0m0-6h0m1-4h0m34 3h0m5-4h0m0 0h0m3 7h0m1 2h0m2-4h0m0-3h0m15 8h0m3 1h0m1-1h0m0-8h0m1 6h0m1-2h0m3 3h0m3 2h0m3-3h0m0-2h0m4-6h0m1 0h0m1 5h0m0 3h0m0 0h0m2 2h0m0 1h0m1-3h0m1-8h0m2 11h0m0-10h0m2 6h0m6-5h0m0 6h0m0-3h0m-6 7h0m0 11h0m-4-1h0m-9 1h0m-2 0h0m-4-10h0m-3 7h0m0-8h0m-2 1h0m-3 9h0m-1 0h0m-6-1h0m-7-3h0m-3-3h0m-10 3h0m0 3h0m-6-6h0m-7 2h0m-1 2h0m-6-5h0m-11 1h0m-7 3h0m-9-6h0m-7 8h0m-5 1h0m-4-1h0m-2-8h0m-4 4h0m-6 6h0m-1-2h0m-2-6h0m-2 4h0m-9-1h0m-5 2h0m0-5h0m-1 1h0m-2 5h0m-3-2h0m-6-2h0m-1 4h0m-2-8h0m0 10h0m-1-6h0m-5-1h0m0 6h0m-1-7h0m5 12h0m5 3h0m2 3h0m1-2h0m12 1h0m0-5h0m5 9h0m12 0h0m1-9h0m2 4h0m1 3h0m4-1h0m4-6h0m2 5h0m8-6h0m2 3h0m2 0h0m27 5h0m0-1h0m3 0h0m3-4h0m21-3h0m1-1h0m12 8h0m4 1h0m1-7h0m4 1h0m0 0h0m2-2h0m3 10h0m2-3h0m8 2h0m1-1h0m1 2h0m3-1h0m2-8h0m0 10h0m-3 2h0m-3 5h0m-2-2h0m-4-1h0m-1-2h0m0 0h0m-6 4h0m-1-3h0m0-3h0m-2 8h0m-12-8h0m-4 2h0m-2 1h0m-1 2h0m-1-4h0m-2 10h0m-2-10h0m-2 7h0m-6 3h0m-1-10h0m-12 6h0m-4-5h0m-7 0h0m-2 3h0m-2 3h0m-14-7h0m-16 4h0m-13 3h0m-1-7h0m-4 5h0m-7 5h0m-8 0h0m-2-11h0m-1 7h0m-9 5h0m5 10h0m5-5h0m1-2h0m2 2h0m3 0h0m0 3h0m3-5h0m17-1h0m5 7h0m4-9h0m0 10h0m1-8h0m1 2h0m26 1h0m4 6h0m16-5h0m9-2h0m2 0h0m4 7h0m5-7h0m1 1h0m4 4h0m15 1h0m0-2h0m0-5h0m3-2h0m1 4h0m1-1h0m3 3h0m3-2h0m0-1h0m7-4h0m1 2h0m-38 16h0m-1 3h0m-10-5h0m-2-4h0m-7 6h0m-8 4h0m-2-6h0m-7 5h0m-2-2h0m-5-7h0m-1 4h0m-25-2h0m-1 0h0m-1 0h0m-2 7h0m-2-3h0m-4 3h0m-27 10h0m4-7h0m1 0h0m11 3h0m3-2h0m3 3h0m67-4h0m8 0h0" stroke="#b4b4a6" stroke-width="5.20" stroke-linecap="round" fill="none" />
<path transform="scale(0.5)" d="M476 815h0m-2-4h0m-17 3h0m-6 11h0m7-5h0m1 1h0m4 4h0m8-7h0m5 9h0m0-2h0m1-2h0m2-2h0m1 6h0m2-5h0m0 5h0m0-1h0m1-6h0m1-1h0m0 0h0m5 8h0m8 10h0m-2-1h0m-1-7h0m-1 9h0m-5 1h0m-1-3h0m-1-8h0m-2 1h0m-3 7h0m-1 0h0m-3-4h0m-3 1h0m-1-3h0m0 1h0m-1 6h0m-2-5h0m-2-2h0m-2-2h0m-1 3h0m-4-1h0m0 3h0m-21 0h0m-1 5h0m-2 0h0m-5-9h0m-5 5h0m-2-5h0m0 3h0m-3 6h0m-1-5h0m-1 5h0m-1-3h0m0-1h0m-5-1h0m-1 0h0m-3 4h0m-1-6h0m-28 20h0m1-5h0m3 1h0m13 3h0m14 0h0m5-5h0m0 5h0m1-2h0m1 1h0m0-5h0m1 1h0m3 2h0m0-5h0m4 0h0m0 8h0m1-5h0m1-3h0m1-2h0m1 11h0m3 0h0m2-5h0m1-2h0m1 6h0m0-3h0m4 3h0m1-7h0m5 4h0m5 0h0m3 1h0m0 1h0m3-4h0m2 2h0m1 4h0m4-1h0m2-5h0m2-2h0m1 2h0m1-2h0m0-2h0m0 10h0m1-7h0m3-1h0m0 0h0m3-1h0m0 2h0m0-3h0m3 10h0m6-11h0m0 5h0m1-2h0m0 0h0m3-3h0m3 0h0m1 4h0m1-4h0m0 10h0m-4 9h0m-5 3h0m-1-10h0m-1 10h0m-3-3h0m-1-4h0m-3 2h0m0 1h0m-1-3h0m-1-3h0m-1 0h0m-5 5h0m0-5h0m-6 0h0m-2 9h0m0-1h0m-3 3h0m0-6h0m-1 6h0m-12-1h0m-1-9h0m0 8h0m-3-3h0m-1 4h0m-9-5h0m-1 3h0m-1 0h0m-1-6h0m-1 0h0m-2 6h0m0 0h0m-1 0h0m0-8h0m-1 2h0m0 1h0m-6 0h0m0 7h0m-4-5h0m-2 3h0m0-7h0m-3 2h0m-10 8h0m-5-1h0m-10-8h0m-8 8h0m-16-3h0m4 12h0m8-4h0m3 1h0m21-4h0m1 8h0m7 1h0m11 1h0m4-8h0m0 4h0m3-1h0m2 2h0m2-1h0m1 0h0m5-1h0m2 5h0m1-4h0m0 2h0m5-4h0m1-2h0m1 2h0m2-4h0m3 1h0m0 0h0m0 9h0m1-4h0m3-1h0m1-5h0m2 3h0m2 5h0m3-3h0m2 0h0m0-5h0m7 7h0m1 2h0m3-3h0m0-1h0m1-2h0m27 4h0m24 0h0m21 10h0m-5-1h0m-8 3h0m-2-5h0m-6-2h0m-12 9h0m-2-9h0m-12 3h0m-22 2h0m-5 6h0m-12-6h0m-5 4h0m-2-5h0m-2-1h0m0 3h0m-2 3h0m-2-6h0m-1 8h0m-1-11h0m-2 0h0m-1 7h0m-1 1h0m-35-1h0m-11-6h0m-5 7h0m-12 2h0m-11-7h0m-8-1h0m-2 1h0m8 15h0m2-1h0m11-4h0m11 8h0m6-5h0m0-4h0m6 9h0m19-3h0m9-2h0m1 2h0m2-3h0m8 6h0m7 0h0m7-6h0m4 2h0m3-1h0m9 0h0m10 7h0m7-3h0m9-2h0m17 0h0m1-6h0m8 9h0m2-1h0m2 1h0m4-7h0m1-1h0m3 4h0m2 0h0m3 6h0m2-8h0m4 8h0m4-2h0m12-3h0m1 8h0m-3 0h0m-1 7h0m-1-1h0m-2 2h0m-2-5h0m-2 3h0m0-2h0m-2 2h0m-3-1h0m-2 3h0m-2-4h0m-2-3h0m-16 4h0m-8-2h0m-1-5h0m-13 5h0m-6-5h0m-2 9h0m-5-8h0m-12 0h0m-16 1h0m-2 9h0m-1-7h0m-3 3h0m-8-7h0m-5 5h0m-11 2h0m-14-5h0m-33 0h0m-14 8h0m-4-2h0m21 6h0m6 1h0m16 3h0m27 1h0m42 3h0m1-5h0m12 6h0m2-4h0m9 2h0m9-9h0m29 3h0m4-3h0m0 1h0m4 7h0m2 3h0m7-11h0m3 11h0m1-1h0m2-3h0m-4 5h0m-3 1h0m-1 10h0m-2-9h0m-4-2h0m-3 2h0m-2 2h0m-7 0h0m-1 1h0m-7 0h0m-6-3h0m-5 9h0m-12-10h0m-6 3h0m-17 3h0m-8-4h0m-38 4h0m-8-4h0m-4-1h0m-4 5h0m-3-6h0m0-1h0m-4 5h0m-15-4h0m0-1h0m-3 0h0m-13 1h0m-11 8h0m4 9h0m5-5h0m7-1h0m1 6h0m2-2h0m19 5h0m2-7h0m1 1h0m5-3h0m9 4h0m18 2h0m14-1h0m10 1h0m10-1h0m8-4h0m6 5h0m17-3h0m5 3h0m2 0h0m1 5h0m0-1h0m4 0h0m9-8h0m10 7h0m2 1h0m1 0h0m2-6h0m1-1h0m1 7h0m2-9h0m7-1h0m1 13h0m-4 4h0m-1 5h0m-1-2h0m-1-5h0m-8 8h0m-4-11h0m-3 4h0m-1-3h0m-1 4h0m-1-4h0m-3 5h0m0 2h0m-9 0h0m-1-6h0m0 0h0m-1 8h0m-2-5h0m-10 1h0m-18-3h0m-21 7h0m-9-5h0m-9-5h0m-25 10h0m-8 1h0m-28-10h0m-5 0h0m-1 11h0m5 4h0m6-1h0m7 5h0m4 3h0m6-5h0m11 5h0m3 0h0m24-9h0m14 7h0m0-4h0m7 3h0m10-6h0m5-1h0m13 4h0m5-4h0m3 5h0m11 4h0m2-8h0m0 2h0m5 6h0m1-3h0m4 2h0m1-7h0m2 5h0m7-5h0m11 6h0m2-1h0m-4 11h0m-5-3h0m-1 7h0m0-6h0m-4 3h0m-5 2h0m-11-8h0m-5 2h0m0 3h0m-3 1h0m-5 1h0m0 0h0m-10-5h0m-6 2h0m-15-5h0m-5 11h0m-2-4h0m-10-7h0m-14 1h0m-15 2h0m-5-1h0m0 6h0m-7-2h0m-9 1h0m-4-1h0m-8 0h0m-2 8h0m3-1h0m1 8h0m7-3h0m10-2h0m17 4h0m29-3h0m8-1h0m12 6h0m7-10h0m13 4h0m0 0h0m4-4h0m1 0h0m0 5h0m2 3h0m5 0h0m12-8h0m5 5h0m2 2h0m1 2h0m3-7h0m-19 10h0m-1 0h0m-21 2h0m-4 3h0m-15-2h0m-9-3h0m-36 0h0m-4 8h0m-3-4h0m-6 0h0m-3-4h0m-9 0h0m-7 5h0m-4 6h0m0-8h0m-4 8h0m-2-3h0m0-5h0m1 12h0m3 3h0m8 1h0m6 2h0m4-5h0" stroke="#f4f47c" stroke-width="4.80" stroke-linecap="round" fill="none" />
<path transform="scale(0.5)" d="M473 811h0m-15 2h0m-35 14h0m4 0h0m40-2h0m0-2h0m10 1h0m0 0h0m2 1h0m7-1h0m-9 7h0m-7 1h0m-5-4h0m-12 5h0m-12 1h0m-1-2h0m-1-2h0m0 5h0m-2-2h0m-4 2h0m-4 0h0m-4-3h0m-2-4h0m-2 6h0m-1 4h0m0-7h0m-3 1h0m-2-2h0m0 3h0m-3-4h0m-41 17h0m5-1h0m10 0h0m4 1h0m2 0h0m0 0h0m2 5h0m1-3h0m13-6h0m5 4h0m2-4h0m1 1h0m1 2h0m3 1h0m2 0h0m1-6h0m3 6h0m4 0h0m5 1h0m4 3h0m3-4h0m1 5h0m1-3h0m1 1h0m23-3h0m3-6h0m6 10h0m3-8h0m0 2h0m2 0h0m11 4h0m11 13h0m-5 2h0m-7 0h0m0-8h0m-11 0h0m-6-3h0m-5 11h0m-12-5h0m-7 3h0m0 2h0m-1-9h0m0 7h0m0 1h0m-1-4h0m-3-1h0m0 5h0m0 0h0m-1-5h0m-4-2h0m-3-3h0m-2 0h0m-2 9h0m-7-9h0m-3 7h0m-1 4h0m-1-2h0m0-1h0m-3 3h0m-1-11h0m0 9h0m-4 2h0m-14-10h0m-5 3h0m-17 1h0m0 3h0m-1 2h0m-4-4h0m-8-1h0m-4 3h0m-6 8h0m8-3h0m2 1h0m3 6h0m0-3h0m3-2h0m1 8h0m7-11h0m0 0h0m2 4h0m6 0h0m4 3h0m4 1h0m0-6h0m1 6h0m1-2h0m4-4h0m1 9h0m2-10h0m2 10h0m4-5h0m3-6h0m1 3h0m0 4h0m1 2h0m1-5h0m0 3h0m0-2h0m0-2h0m2 8h0m3-5h0m0-6h0m1 11h0m0-3h0m2-6h0m2 7h0m1-4h0m2 3h0m11-1h0m0-7h0m1 0h0m0 4h0m3-3h0m0 2h0m3 6h0m1 1h0m3-5h0m1 5h0m2-5h0m3 3h0m1-7h0m0 8h0m1 1h0m3-6h0m0 0h0m1 7h0m0-2h0m2-4h0m4-4h0m13 10h0m1 0h0m3 0h0m1-3h0m0-1h0m1-2h0m1 1h0m3-4h0m2 4h0m0 0h0m0 1h0m1 2h0m4-5h0m4 5h0m0 0h0m2 2h0m2-2h0m2-6h0m2 4h0m0 1h0m0 1h0m4-7h0m2 6h0m0 3h0m35 10h0m-12 0h0m-17 2h0m-1 0h0m-3-2h0m-3-4h0m-1-3h0m-3 3h0m-2 1h0m0-4h0m-3 6h0m-2-5h0m-5 6h0m-1-6h0m-1 4h0m-3 0h0m-6-5h0m-1 0h0m-3 5h0m-2-4h0m-1 3h0m-2-4h0m-2 2h0m0 4h0m-4-8h0m-2 11h0m-1-8h0m-2 3h0m-1 1h0m0-5h0m-1-2h0m-1 8h0m0-2h0m0-6h0m-2 8h0m-1-7h0m-1 9h0m-1-10h0m-2 9h0m-4-1h0m-2 2h0m-7-3h0m0-1h0m-5 2h0m-1-3h0m-5-5h0m-4 1h0m-1 9h0m0-5h0m0 5h0m0-8h0m-3-2h0m-1 7h0m0 3h0m-1-7h0m-3-2h0m0 1h0m-2 1h0m0-3h0m0 5h0m0-5h0m-1 10h0m0-1h0m-1-9h0m0 0h0m-1 9h0m-2-4h0m-1 2h0m-2 2h0m-2-3h0m-1-6h0m0 3h0m0-3h0m0 7h0m-1 1h0m-1-2h0m0-5h0m-1 6h0m-1-6h0m-2 5h0m-3-3h0m0 4h0m-3 4h0m-14 0h0m-1-5h0m0 1h0m-17-1h0m0-6h0m-1 6h0m-1 4h0m-3-3h0m8 11h0m5 2h0m4-5h0m6 3h0m2 3h0m2-3h0m6-3h0m0 4h0m11-6h0m1 3h0m4 6h0m0-5h0m0-4h0m3 1h0m1 7h0m5 0h0m0-1h0m1-7h0m1 1h0m0 2h0m1-1h0m1 8h0m1-5h0m0 4h0m0-8h0m1 6h0m0-3h0m1-3h0m2 9h0m0-2h0m0 0h0m2-9h0m1 0h0m1 1h0m2 5h0m3-2h0m7 7h0m1-7h0m1-1h0m0 5h0m3-7h0m1 0h0m1 6h0m2 1h0m3-3h0m1-2h0m5 2h0m2 5h0m1 0h0m0-2h0m1 1h0m2-4h0m1-2h0m0 7h0m2-10h0m3 11h0m1-10h0m0-1h0m1 9h0m2-6h0m0 6h0m2 1h0m1-9h0m0-1h0m1 4h0m0-3h0m2 10h0m1-9h0m1 6h0m1-3h0m2 0h0m1 6h0m1-5h0m0 1h0m2 3h0m1-7h0m0 3h0m0 3h0m1 0h0m2-5h0m1 6h0m1-1h0m1-8h0m1 2h0m0-1h0m1 1h0m1 4h0m1 3h0m1-2h0m1-5h0m0 6h0m1-3h0m0 1h0m0 1h0m2 1h0m1-4h0m0-3h0m2-1h0m1-1h0m0 1h0m3 4h0m1 0h0m1-2h0m4-3h0m0 3h0m1-3h0m1 6h0m2-3h0m1-3h0m3 9h0m20 1h0m10 6h0m-21 4h0m0 3h0m0-3h0m0 2h0m-1 1h0m-3-1h0m0-1h0m-7 2h0m0-7h0m-1 3h0m0-1h0m-1-6h0m0 8h0m-4-3h0m0 2h0m-1 3h0m0-7h0m-3 0h0m-3 6h0m0-2h0m-2 1h0m0-1h0m-1-4h0m0 3h0m0 5h0m-1-8h0m-2 8h0m-3-2h0m-4-6h0m0 1h0m-2 1h0m-2-4h0m0 10h0m0-11h0m-5 4h0m-2 3h0m-1-5h0m-1 3h0m0 0h0m0 4h0m0-1h0m-1 1h0m-3-5h0m-2-3h0m-3 5h0m0-3h0m0 1h0m-1 7h0m-2-9h0m-1 1h0m0 1h0m-3-3h0m-1-1h0m-1 11h0m-6-6h0m0 0h0m-3 3h0m-1 0h0m-1-2h0m-2 2h0m0-2h0m-1 2h0m-1-4h0m0-3h0m0 6h0m-1-4h0m-2-3h0m0 2h0m-3-1h0m-1 4h0m-2 6h0m-1-11h0m-6 11h0m0-4h0m-1-2h0m-4-3h0m-1 3h0m0 1h0m-3-1h0m-1-3h0m-3 4h0m-5-2h0m-1-3h0m0 4h0m-1 0h0m-1-3h0m-2 8h0m0-3h0m-1-1h0m-4 2h0m-3-8h0m0 3h0m-1 4h0m-1-1h0m-3 3h0m-2 1h0m-4-2h0m-1-4h0m-2 5h0m-12-7h0m-12 3h0m-10 10h0m4-2h0m17 7h0m1 0h0m16-8h0m1 9h0m3-8h0m1 7h0m1-5h0m1 8h0m6-4h0m1-7h0m1 6h0m2-2h0m2-4h0m5 8h0m2-4h0m1 4h0m1-4h0m1 4h0m0-4h0m2-3h0m1 3h0m1 4h0m2-6h0m9-2h0m0 2h0m0 5h0m2 0h0m0-2h0m2 3h0m1 3h0m0-7h0m3 0h0m0-3h0m0 1h0m1 9h0m1-10h0m3 5h0m0-2h0m1 4h0m1-5h0m2-1h0m1 7h0m3 1h0m1-9h0m2 4h0m1-3h0m0 7h0m1 1h0m2-3h0m1-5h0m2 5h0m1-3h0m0 4h0m2 3h0m0-7h0m1 7h0m6 0h0m1-6h0m2 4h0m0 2h0m1-3h0m1-7h0m0 1h0m0 8h0m3-8h0m1 8h0m0-2h0m1-4h0m2 5h0m1 1h0m0-9h0m4 3h0m0 0h0m4 1h0m1 2h0m1-2h0m1-3h0m0 9h0m3-3h0m1 0h0m0 0h0m1-6h0m0 8h0m3-7h0m1-1h0m2-2h0m0 6h0m1 0h0m2-3h0m0 4h0m0 1h0m1-1h0m2-6h0m0 5h0m1 5h0m1-1h0m3-3h0m0 3h0m2-6h0m1-4h0m1 6h0m1-6h0m1 2h0m0-1h0m1 3h0m0-3h0m1 7h0m1 0h0m8 0h0m7-8h0m-6 20h0m-16-7h0m-4 5h0m-1-3h0m-2 2h0m-4-3h0m0 6h0m-1-5h0m-1 4h0m-1 3h0m-2-1h0m-3-5h0m-1 0h0m-5 7h0m0-1h0m-1-9h0m-1 3h0m0 4h0m-1-3h0m-3 2h0m-2-6h0m-4 8h0m0-5h0m-1 3h0m-1-6h0m-6 8h0m-2-7h0m-1 4h0m-2 4h0m0-6h0m-1 1h0m-1 5h0m-2-7h0m-3-2h0m-2 4h0m0-1h0m-2 6h0m0-1h0m-2 1h0m-1-6h0m-4 6h0m0-10h0m-2 10h0m0 0h0m-2 1h0m0-3h0m0 0h0m-1-8h0m-3 5h0m-1 4h0m-2-5h0m0-3h0m-1 1h0m-2 9h0m0-11h0m0 8h0m-5-7h0m-1 1h0m0 7h0m-3-1h0m-1-4h0m0 3h0m-6 4h0m-7-8h0m0 5h0m-1-3h0m-7-5h0m-5 11h0m-6-5h0m-3-4h0m-1 2h0m-5-3h0m-1 2h0m-10-2h0m0 1h0m-4 2h0m-1 7h0m-3-8h0m-3 3h0m-1-6h0m-6 7h0m5 11h0m3-1h0m1-4h0m3 9h0m2-8h0m0-1h0m1-1h0m1 7h0m2-3h0m1 7h0m7-9h0m2 7h0m6-8h0m1 9h0m2 0h0m2-5h0m4 0h0m3 2h0m0 0h0m6 2h0m1-7h0m2 9h0m6-1h0m12-5h0m2-4h0m4 10h0m1 0h0m1-11h0m2 5h0m1 0h0m1-2h0m1 3h0m2-2h0m1 1h0m1 6h0m1-4h0m1-7h0m0 6h0m1 3h0m1 0h0m1 2h0m3-3h0m2 0h0m0 0h0m1-5h0m0 0h0m9-1h0m1 2h0m4-2h0m1 3h0m3 5h0m1-8h0m0 9h0m2 0h0m0-3h0m6 2h0m1-9h0m1-1h0m0 3h0m0-1h0m0 2h0m1 3h0m0 3h0m0-7h0m0 3h0m1 5h0m2-1h0m2-2h0m0 1h0m2-4h0m1-5h0m0 5h0m0-3h0m4-1h0m1 1h0m5-1h0m1 3h0m0-2h0m2 4h0m1 4h0m1-7h0m18 19h0m-4-2h0m-1 2h0m-12-6h0m0-2h0m-3 0h0m-4 7h0m-2 0h0m-1 2h0m0-8h0m0 8h0m0-9h0m-1 8h0m-1-2h0m-1 1h0m0 2h0m0-10h0m-2 10h0m-1 0h0m-1-11h0m0 11h0m-1-9h0m-4 1h0m-1 8h0m-2-2h0m-3 2h0m-4-10h0m0 8h0m-1-9h0m-1 2h0m-1 6h0m-1 3h0m0-3h0m-3-2h0m-6 5h0m0-8h0m0 5h0m-3-7h0m-1 5h0m0-6h0m-4 6h0m-1-2h0m-1-2h0m-1 0h0m-1 6h0m-1-6h0m0 5h0m0-6h0m-3 10h0m0-8h0m0 3h0m-1-2h0m-3 2h0m0-2h0m-1-4h0m-1 3h0m-2 0h0m0 4h0m-4-4h0m-1-1h0m0-2h0m-1 7h0m0-4h0m-1-2h0m-1 2h0m-1 5h0m-2-8h0m-2 5h0m-4 2h0m-9-4h0m-6 6h0m-1-9h0m-3 10h0m-9-6h0m-6 5h0m-1 2h0m-6-9h0m-6-1h0m0 7h0m-3 0h0m-2-7h0m-4 4h0m0 1h0m-3-4h0m-1-1h0m18 22h0m0-6h0m6-5h0m4 1h0m6 4h0m11 4h0m8-4h0m1-1h0m14-1h0m2 7h0m1 1h0m1-5h0m1 5h0m1-5h0m1 1h0m0-6h0m0 1h0m1 0h0m0 3h0m1 2h0m0 3h0m6-2h0m0-5h0m0 1h0m2 2h0m3-5h0m0-1h0m3 0h0m0 3h0m1 4h0m1 2h0m1 0h0m0-6h0m0 6h0m1 1h0m8-8h0m1 8h0m1-6h0m7 3h0m0-6h0m5 5h0m0-2h0m1 3h0m1-4h0m1-3h0m0 3h0m1-2h0m0 8h0m2-3h0m5-6h0m0 5h0m2-4h0m1 3h0m2 3h0m0-3h0m1 0h0m19 3h0m11 2h0m-10 4h0m-7-1h0m-9 2h0m-17-2h0m-1 7h0m-3-6h0m-1 10h0m-1-8h0m-2 1h0m-1 2h0m-2-3h0m0-1h0m-1 0h0m0 3h0m-3-2h0m-1 6h0m0-6h0m-1 6h0m-1 1h0m0-4h0m-2-5h0m0 7h0m-5-5h0m0-1h0m-1-2h0m-1 8h0m-1-7h0m0 0h0m-5 5h0m-1 4h0m-2-1h0m-3 2h0m0-4h0m-2 2h0m-2-9h0m-3 5h0m-3 1h0m-1 2h0m-1-2h0m-9 1h0m-8-3h0m-3 6h0m-2-10h0m-1 0h0m-5 7h0m-1 4h0m-3-5h0m-3-6h0m-9 6h0m-7-2h0m-1 0h0m-1-2h0m-2 8h0m-2-2h0m-1-4h0m1 17h0m2 0h0m6-3h0m0 4h0m2 1h0m6-10h0m0 8h0m1-1h0m1-4h0m6 0h0m2-3h0m12 0h0m8 6h0m14-1h0m0-3h0m2 3h0m1 3h0m0-5h0m1-4h0m1 4h0m0 7h0m0-8h0m4-1h0m0 5h0m1-7h0m1 2h0m3-1h0m1 3h0m1 1h0m3 4h0m5-9h0m2 3h0m2 2h0m0-5h0m1 2h0m1 4h0m0-5h0m0 10h0m3 0h0m4-11h0m1 6h0m1 0h0m1 5h0m2-1h0m0-4h0m3 3h0m1-3h0m0 1h0m1 0h0m1-1h0m0 2h0m3 2h0m3 1h0m3 0h0m6 0h0m6-9h0m10 3h0m-22 9h0m-2 1h0m0 0h0m-1 3h0m0-3h0m-1 1h0m-2-4h0m-1 8h0m-1 0h0m0-6h0m-2 5h0m-5-1h0m0-3h0m0 0h0m-2 2h0m0 5h0m-2-10h0m-1 0h0m0 10h0m-2 0h0m0 1h0m-1-5h0m-1 0h0m-1 2h0m-1-4h0m-4 3h0m-2-5h0m-1-2h0m0 10h0m-1-3h0m-2-5h0m-1 1h0m-1 6h0m0 1h0m-4-6h0m-2-1h0m-2-2h0m0 3h0m0 1h0m-1-4h0m0 5h0m-2-5h0m-1 1h0m-1-2h0m-22 4h0m-16 0h0m-3 4h0m-1 1h0m-2-8h0m-6 7h0m-6-4h0m4 9h0m3 10h0m10-8h0m1-1h0m64-2h0m1 0h0m1 0h0m11 0h0" stroke="#4d0f6e" stroke-width="5.20" stroke-linecap="round" fill="none" />
<path transform="scale(0.5)" d="M473 810h0m-1 5h0m-2-4h0m-1-1h0m-8 3h0m-41 14h0m31-2h0m3-6h0m0 0h0m2-1h0m5 8h0m1 1h0m8-4h0m2 3h0m4-8h0m4 8h0m1-10h0m2 6h0m4 5h0m4-1h0m5 11h0m-1 0h0m-1 1h0m-13-6h0m-3 6h0m-1-3h0m-1-6h0m-1 6h0m-1-7h0m-2 11h0m-4-1h0m-5-8h0m-2 5h0m-4 0h0m0-4h0m-7 8h0m-5 0h0m-11-4h0m-2-7h0m-4 1h0m-1 2h0m-5 5h0m-2 1h0m-52 11h0m12-2h0m5 1h0m3 4h0m6-2h0m16-1h0m0-5h0m2 4h0m3-7h0m6 3h0m1 2h0m5-5h0m7 9h0m0-5h0m9 1h0m4 4h0m7-8h0m0 6h0m2-1h0m6-2h0m0-1h0m2-1h0m1 9h0m9-3h0m9-1h0m6-2h0m6 1h0m2-2h0m0-3h0m-3 16h0m-6 2h0m-6-3h0m-4-4h0m-7 0h0m-3 11h0m-5-6h0m-8 4h0m-2-8h0m-1 8h0m-7-2h0m-14-7h0m-1 5h0m-1-3h0m-2 7h0m-1-7h0m-4 9h0m-1 0h0m-3-9h0m0 5h0m-1 1h0m-4-5h0m-3 8h0m-8 0h0m-4 0h0m0-1h0m-3 1h0m0-6h0m-1-2h0m-7 2h0m0 3h0m-3-6h0m-2 6h0m-5-3h0m-2 4h0m-7-7h0m-6 5h0m0 10h0m4-1h0m5-1h0m1 3h0m14-3h0m5-2h0m0 5h0m5 1h0m4-1h0m2 4h0m2 0h0m3-5h0m10 0h0m0-5h0m0 2h0m1-1h0m3 2h0m5 4h0m8-3h0m4 2h0m1 1h0m3 3h0m2-9h0m5 8h0m0-6h0m4-2h0m1 5h0m5-1h0m0-1h0m3 7h0m6-6h0m0-3h0m2 7h0m0-4h0m1 1h0m2-6h0m1 6h0m15 4h0m5-1h0m7-2h0m16 3h0m9-2h0m0 3h0m6-2h0m2 2h0m1-1h0m18 11h0m-10-9h0m-4 11h0m-8-10h0m-2 8h0m-1-4h0m-1 0h0m-3-5h0m-14 0h0m-2 11h0m-1-2h0m-13 2h0m-8-5h0m-14-5h0m-16 10h0m-9-8h0m-1 8h0m-2-9h0m-1 6h0m-8-5h0m-5 0h0m-11 7h0m-6-6h0m-11 0h0m-4 6h0m-3 0h0m-6-9h0m-3 6h0m-5-5h0m-2 0h0m-7 2h0m-5-4h0m0 11h0m-5-3h0m-4-4h0m10 19h0m0-5h0m2 1h0m5-3h0m3 4h0m0-1h0m8-1h0m4-6h0m2 5h0m0-2h0m0-1h0m4 4h0m8 3h0m9 1h0m8-8h0m0 1h0m1-3h0m2 2h0m25 7h0m9-8h0m1 6h0m16-1h0m16-4h0m0 8h0m8-7h0m1-1h0m2 7h0m10-1h0m1-8h0m3 7h0m18-3h0m14 7h0m4-10h0m0 2h0m5-2h0m0 20h0m-3-6h0m-8 7h0m-1-9h0m0 7h0m-14-8h0m-4 3h0m-1 8h0m-8-6h0m0 6h0m-14-7h0m-3 5h0m-10-8h0m-2-1h0m-3 7h0m-7-4h0m-11 0h0m-17-1h0m-6 8h0m-19-6h0m-5 4h0m-3 1h0m-9 0h0m-1 1h0m-2-1h0m-1 2h0m-1-7h0m-3 3h0m-4-4h0m-1-1h0m-12 3h0m-1 2h0m-1 2h0m-1 0h0m-2-4h0m-2 4h0m-3-1h0m-1 2h0m-3-7h0m-1 2h0m0 3h0m-6 0h0m0 0h0m-2 11h0m4-4h0m3 6h0m2-5h0m3 4h0m2-2h0m10 3h0m7-9h0m0 0h0m13 8h0m3 3h0m2-4h0m11-4h0m5 7h0m2-3h0m6 0h0m36-6h0m2 10h0m12-6h0m5-4h0m11 2h0m1 8h0m5-6h0m10 1h0m5 1h0m15-2h0m3-4h0m13 10h0m5 0h0m4-3h0m1 1h0m-6 5h0m-1 3h0m-7 5h0m-37-3h0m-6-1h0m-5 2h0m-1-5h0m-10 1h0m0-4h0m-5 9h0m-36-7h0m0 4h0m-2-5h0m-1 8h0m-1-9h0m-6 0h0m-4 9h0m-1-1h0m-3-3h0m0 3h0m-4-6h0m-8 9h0m-1-2h0m-1 1h0m-3 1h0m-4-9h0m-6 3h0m-7-5h0m-7 5h0m0-3h0m-1 1h0m-4-2h0m-2 0h0m-5 8h0m-3-4h0m0 3h0m-2 0h0m-7-5h0m7 12h0m8-2h0m3 5h0m0 2h0m10-8h0m2 10h0m3-1h0m13-8h0m8 10h0m3-10h0m4 10h0m7-10h0m4 0h0m7 3h0m12 3h0m8 3h0m28-10h0m27 1h0m10 10h0m6-4h0m0-7h0m3 3h0m15 4h0m1 10h0m-3 2h0m0-5h0m-2-1h0m-16 4h0m0 3h0m-9-3h0m-1 3h0m-8 0h0m-3 2h0m-5 0h0m-21-2h0m-10-5h0m-4 4h0m-9-1h0m-23 5h0m-1-3h0m-3-5h0m-13 8h0m-8-1h0m-8-2h0m-14 0h0m-5-7h0m-1 8h0m-2 0h0m-1 1h0m-1-3h0m12 6h0m7-1h0m6 9h0m0 1h0m11-4h0m4-2h0m7-3h0m0 0h0m5 9h0m23-8h0m6 1h0m5 1h0m4 6h0m32 0h0m0-1h0m8 2h0m2-3h0m13-7h0m1-1h0m8 11h0m0-11h0m3 10h0m0-3h0m1-2h0m4 6h0m1-7h0m2-3h0m2 1h0m-6 10h0m-1 0h0m-5 6h0m-4 5h0m-2-11h0m-2 9h0m-4-5h0m-7-2h0m-1 5h0m-1-6h0m-2-1h0m-1 9h0m-5 1h0m-4-5h0m-9 5h0m-2-6h0m-19-1h0m-37 3h0m-3-2h0m-1 3h0m-2 2h0m-1-3h0m-8 3h0m-1 2h0m-12-10h0m-4 5h0m-13-3h0m-2 3h0m0 13h0m5 4h0m4-5h0m0-5h0m16 7h0m4-8h0m1 1h0m0 1h0m3 7h0m1-9h0m5 10h0m7-3h0m30 2h0m1-4h0m1 6h0m12 0h0m4-9h0m1 4h0m1 0h0m12-5h0m7 3h0m5 2h0m2 2h0m4-3h0m2 5h0m7-9h0m3-1h0m1 4h0m2 3h0m9-1h0m-19 6h0m-8 0h0m-2 0h0m-6 5h0m-3 0h0m-17 6h0m0-4h0m-5-7h0m-5 4h0m-4-1h0m-1 6h0m-5-9h0m-3 2h0m-44 0h0m-8 1h0m-2 8h0m-14-2h0m-5-5h0m5 9h0m5 1h0m2 7h0m2-1h0m2-6h0m1 9h0m1-6h0m20-1h0" stroke="#0c0c0c" stroke-width="5.00" stroke-linecap="round" fill="none" />
<path transform="scale(0.5)" d="M476 814h0m-3 16h0m-30 6h0m-9-2h0m-4 3h0m-8 0h0m-51 10h0m47 3h0m3 1h0m7-1h0m6-2h0m47-8h0m6 21h0m-2-8h0m-35 0h0m-6 3h0m-5-1h0m-16 1h0m-36 4h0m-25 1h0m7 9h0m5-5h0m39 6h0m32-5h0m15 5h0m26 0h0m5 1h0m13-4h0m9 1h0m24 12h0m-18 3h0m-1-3h0m-4 1h0m-1-4h0m-11 6h0m-2 3h0m-23-3h0m-22-6h0m-19 0h0m-12 9h0m-1-10h0m-8 10h0m-51-2h0m-1-9h0m56 16h0m6 3h0m3-7h0m5 2h0m1 8h0m2-10h0m9 5h0m3 0h0m1 2h0m32 3h0m7-10h0m3 7h0m4-2h0m0 6h0m9-1h0m8-8h0m17 6h0m6 12h0m-32-6h0m-6 3h0m-11 5h0m-7-5h0m-1 5h0m-20-4h0m-2 1h0m0 1h0m-4 1h0m-26-8h0m-17 6h0m0 0h0m-1 0h0m-8 0h0m-18-7h0m48 22h0m3-9h0m2 6h0m5 4h0m6-9h0m1 4h0m0 0h0m5-1h0m3-4h0m6 4h0m5 4h0m5-7h0m11 8h0m2-4h0m2 3h0m7-5h0m4 3h0m1 0h0m9-1h0m26 3h0m4 0h0m-5 5h0m-3 2h0m-4-2h0m-4-2h0m-6 6h0m-12-4h0m-3 8h0m-10-3h0m-21-4h0m-16-3h0m-5 3h0m-6 0h0m-25-1h0m-35 0h0m26 18h0m42-1h0m11 3h0m4-2h0m10-4h0m0 6h0m21-6h0m0 4h0m5-1h0m5 4h0m9 5h0m-6 4h0m-4-7h0m-3 2h0m-13 0h0m-16 5h0m-6-4h0m-4 5h0m-10-4h0m-3 4h0m-7-4h0m-9 4h0m11 4h0m10 1h0m1 0h0m13 0h0m0-1h0m7 8h0m8-7h0m14 2h0m9 5h0m18 2h0m-30 9h0m-3-2h0m-5 3h0m-2-9h0m-8 6h0m0-3h0m-5 0h0m-3 6h0m-10-4h0m-3 2h0m-1-1h0m-7 2h0m-10-1h0m-14-2h0m-2 1h0m-1 4h0m-8-4h0m-5-2h0m-10 19h0m35-3h0m23 1h0m9-3h0m4-2h0m2 3h0m1-1h0m7 1h0m5-3h0m1-1h0m7 3h0m7 3h0m3-2h0m2 4h0m1 11h0m0-10h0m0 4h0m-1 3h0m-7 1h0m-17-1h0m-1-1h0m-1 3h0m-4 0h0m-45 2h0m-5-10h0" stroke="#a52c6a" stroke-width="5.00" stroke-linecap="round" fill="none" />
<path transform="scale(0.5)" d="M476 815h0m-13 4h0m-2 20h0m-18-4h0m-17-1h0m-14-1h0m-38 12h0m51-5h0m-5 34h0m45 1h0m19-2h0m21-9h0m14 20h0m-1-1h0m-1 2h0m-11-8h0m-18 1h0m-22 4h0m-59 5h0m-30-5h0m8 9h0m17 7h0m40-3h0m19-6h0m46 17h0m-16 2h0m-3 1h0m-11 0h0m-24-4h0m-1-2h0m-4 4h0m-39 4h0m-1-4h0m-33 1h0m-14 8h0m53 1h0m3 4h0m7-2h0m0-5h0m78 7h0m1-6h0m27 3h0m-24 15h0m-33 0h0m-12-6h0m-58 3h0m52 16h0m8-5h0m5-4h0m6 9h0m3-6h0m7 7h0m11-11h0m3 4h0m23-4h0m-21 14h0m-1 7h0m-6-8h0m-3-1h0m-6 4h0m-12 2h0m-20-4h0m-3 16h0m3-2h0m14 1h0m8 4h0m12-7h0m13 5h0m0 1h0m-14 6h0m-24-1h0m-1 2h0m-11 4h0m-11-5h0m-14 9h0m-5-2h0m39 9h0m8-4h0m30 6h0m2 1h0m-11 11h0m-24-8h0m-68 18h0m4-2h0" stroke="#f07e1a" stroke-width="5.00" stroke-linecap="round" fill="none" />
<path d="M177.6 432.6C178.4 429.9 180.4 425.6 182.6 423.7C184.8 421.8 188.1 421.2 190.9 421.1C193.6 420.9 196.7 421.9 199.1 422.9C201.4 423.9 203.8 425.7 204.9 427.3C206.0 428.9 206.2 430.8 205.7 432.6C205.3 434.3 203.1 435.8 202.4 437.8C201.7 439.9 201.3 442.0 201.6 444.9C201.8 447.9 202.8 452.6 204.0 455.5C205.3 458.4 207.1 461.1 209.1 462.5C211.0 464.0 213.9 463.5 215.7 464.3C217.5 465.2 219.5 466.4 219.8 467.8C220.1 469.3 217.2 471.3 217.3 473.1C217.4 474.9 220.2 475.8 220.6 478.5C221.0 481.1 220.1 485.5 219.8 489.0C219.5 492.6 220.0 496.7 219.0 499.6C218.0 502.5 216.3 504.9 214.0 506.6C211.8 508.4 208.5 509.9 205.7 510.2C203.0 510.5 199.4 509.9 197.5 508.4C195.5 507.0 194.4 504.3 194.1 501.3C193.8 498.4 195.8 493.7 195.8 490.8C195.8 487.8 195.5 486.4 194.1 483.7C192.7 481.1 189.5 477.6 187.5 474.9C185.6 472.3 183.9 470.8 182.6 467.8C181.2 464.9 179.5 460.5 179.2 457.2C178.9 454.0 181.1 451.3 180.9 448.4C180.6 445.5 178.1 442.3 177.6 439.7C177.1 437.0 176.8 435.2 177.6 432.6Z" fill="none" stroke="#c6848f" stroke-width="2.0"/>
<path d="M204.0 415.0C205.5 413.1 209.6 412.3 212.3 412.3C215.1 412.3 218.7 413.1 220.6 415.0C222.6 416.9 222.6 421.2 224.0 423.7C225.4 426.2 227.0 428.0 228.9 429.9C230.9 431.8 234.0 433.7 235.5 435.2C237.0 436.7 238.8 437.7 238.0 438.8C237.2 439.8 233.2 440.4 230.6 441.4C227.9 442.4 224.5 444.7 222.3 444.9C220.1 445.2 219.2 444.6 217.3 443.1C215.4 441.7 212.8 438.0 210.7 436.1C208.6 434.2 206.1 433.7 204.9 431.7C203.7 429.6 203.9 426.5 203.8 423.7C203.6 420.9 202.6 416.9 204.0 415.0Z" fill="none" stroke="#f5b07a" stroke-width="2.0"/>
<path d="M228.9 405.2C230.9 404.4 234.7 404.0 237.2 404.7C239.7 405.4 241.9 407.7 243.8 409.7C245.7 411.7 247.8 414.4 248.8 416.7C249.8 419.0 249.9 421.5 249.6 423.7C249.4 425.9 248.4 428.4 247.2 429.9C245.9 431.4 243.8 431.7 242.2 432.6C240.5 433.4 238.6 434.8 237.2 435.2C235.8 435.6 235.3 436.2 233.9 435.2C232.5 434.2 230.3 430.9 228.9 429.0C227.5 427.1 226.4 425.8 225.6 423.7C224.8 421.7 224.0 419.0 224.0 416.7C224.0 414.4 224.8 411.6 225.6 409.7C226.4 407.8 227.0 406.1 228.9 405.2Z" fill="none" stroke="#8d6cbd" stroke-width="2.0"/>
<path d="M257.1 432.6C257.6 431.8 261.2 434.3 263.7 435.2C266.2 436.1 269.5 436.5 272.0 437.8C274.5 439.2 277.0 441.1 278.6 443.1C280.3 445.2 281.4 447.6 281.9 450.2C282.4 452.9 282.2 456.1 281.9 459.1C281.6 462.0 280.8 464.9 280.3 467.8C279.7 470.7 279.5 473.4 278.6 476.7C277.8 479.9 276.7 484.0 275.3 487.2C273.9 490.5 272.3 494.3 270.3 496.1C268.4 497.8 265.9 497.4 263.7 497.8C261.5 498.2 258.7 498.7 257.1 498.7C255.4 498.7 254.8 498.8 253.7 497.8C252.6 496.8 251.2 494.6 250.5 492.5C249.8 490.5 248.8 486.9 249.6 485.5C250.5 484.0 253.7 485.2 255.4 483.7C257.2 482.3 259.0 479.3 260.4 476.7C261.8 474.0 262.3 470.5 263.7 467.8C265.0 465.2 267.5 463.1 268.6 460.8C269.7 458.4 270.6 455.8 270.3 453.7C270.1 451.6 268.7 450.8 267.0 448.4C265.4 446.1 262.1 442.3 260.4 439.7C258.8 437.0 256.5 433.3 257.1 432.6Z" fill="none" stroke="#cf7f2c" stroke-width="2.0"/>
<path d="M202.4 437.8C203.4 435.8 205.7 432.8 207.4 432.6C209.0 432.3 210.7 434.3 212.3 436.1C214.0 437.9 215.6 441.7 217.3 443.1C219.0 444.6 220.1 445.2 222.3 444.9C224.5 444.7 227.8 442.6 230.6 441.4C233.3 440.2 236.4 439.5 238.9 437.8C241.3 436.2 243.5 433.0 245.5 431.7C247.4 430.3 248.5 429.8 250.5 429.9C252.4 430.1 255.4 430.9 257.1 432.6C258.7 434.2 258.8 437.0 260.4 439.7C262.1 442.3 265.4 446.1 267.0 448.4C268.7 450.8 270.1 451.6 270.3 453.7C270.6 455.8 269.7 458.4 268.6 460.8C267.5 463.1 265.0 465.2 263.7 467.8C262.3 470.5 261.8 474.0 260.4 476.7C259.0 479.3 257.1 482.3 255.4 483.7C253.8 485.2 251.5 484.0 250.5 485.5C249.5 486.9 248.8 490.2 249.6 492.5C250.5 494.9 254.8 497.8 255.4 499.6C256.1 501.4 255.7 502.3 253.7 503.2C251.8 504.0 247.1 504.9 243.8 504.9C240.5 504.9 236.7 504.0 233.9 503.2C231.1 502.3 228.9 501.4 227.2 499.6C225.6 497.8 224.8 495.5 224.0 492.5C223.1 489.6 223.0 485.5 222.3 481.9C221.6 478.4 220.1 473.9 219.8 471.4C219.5 468.9 221.3 468.2 220.6 467.0C220.0 465.8 217.6 465.1 215.7 464.3C213.7 463.6 211.0 464.0 209.1 462.5C207.1 461.1 205.3 458.4 204.0 455.5C202.8 452.6 201.8 447.9 201.6 444.9C201.3 442.0 201.4 439.9 202.4 437.8Z" fill="none" stroke="#a9c3e8" stroke-width="2.0"/></g>
<rect x="41.7" y="394.8" width="121.6" height="121.2" fill="none" stroke="#2a1a1a" stroke-width="1.6" />
<rect x="168.7" y="394.8" width="120.9" height="121.2" fill="none" stroke="#2a1a1a" stroke-width="1.6" />
<path d="M93.40 522.40A42 42 0 0 1 98.61 522.72L96.01 543.56A21 21 0 0 0 93.40 543.40Z" fill="#8d6cbd" stroke="#e6e6e6" stroke-width="0.8"/>
<path d="M98.61 522.72A42 42 0 0 1 118.92 597.75L106.16 581.08A21 21 0 0 0 96.01 543.56Z" fill="#a9c3e8" stroke="#e6e6e6" stroke-width="0.8"/>
<path d="M118.92 597.75A42 42 0 0 1 105.00 604.76L99.20 584.58A21 21 0 0 0 106.16 581.08Z" fill="#f5b07a" stroke="#e6e6e6" stroke-width="0.8"/>
<path d="M105.00 604.76A42 42 0 0 1 53.62 550.93L73.51 557.66A21 21 0 0 0 99.20 584.58Z" fill="#c6848f" stroke="#e6e6e6" stroke-width="0.8"/>
<path d="M53.62 550.93A42 42 0 0 1 93.40 522.40L93.40 543.40A21 21 0 0 0 73.51 557.66Z" fill="#cf7f2c" stroke="#e6e6e6" stroke-width="0.8"/>
<text x="98.7" y="526.9" text-anchor="middle" dominant-baseline="central" style="font-size:10.3px" >2%</text>
<text x="124.6" y="556.2" text-anchor="middle" dominant-baseline="central" style="font-size:10.3px" >38%</text>
<text x="111.8" y="591.2" text-anchor="middle" dominant-baseline="central" style="font-size:10.3px" >6%</text>
<text x="73.3" y="583.3" text-anchor="middle" dominant-baseline="central" style="font-size:10.3px" >35%</text>
<text x="76.8" y="540.9" text-anchor="middle" dominant-baseline="central" style="font-size:10.3px" >20%</text>
<path d="M236.80 521.80A41.8 41.8 0 0 1 249.72 523.85L243.20 543.91A20.7 20.7 0 0 0 236.80 542.90Z" fill="#8d6cbd" stroke="#e6e6e6" stroke-width="0.8"/>
<path d="M249.72 523.85A41.8 41.8 0 1 1 204.59 590.24L220.85 576.79A20.7 20.7 0 1 0 243.20 543.91Z" fill="#a9c3e8" stroke="#e6e6e6" stroke-width="0.8"/>
<path d="M204.59 590.24A41.8 41.8 0 0 1 195.08 560.98L216.14 562.30A20.7 20.7 0 0 0 220.85 576.79Z" fill="#f5b07a" stroke="#e6e6e6" stroke-width="0.8"/>
<path d="M195.08 560.98A41.8 41.8 0 0 1 221.41 524.74L229.18 544.35A20.7 20.7 0 0 0 216.14 562.30Z" fill="#c6848f" stroke="#e6e6e6" stroke-width="0.8"/>
<path d="M221.41 524.74A41.8 41.8 0 0 1 236.80 521.80L236.80 542.90A20.7 20.7 0 0 0 229.18 544.35Z" fill="#cf7f2c" stroke="#e6e6e6" stroke-width="0.8"/>
<text x="242.5" y="528.0" text-anchor="middle" dominant-baseline="central" style="font-size:10.3px" >5%</text>
<text x="267.0" y="574.0" text-anchor="middle" dominant-baseline="central" style="font-size:10.3px" >59%</text>
<text x="210.3" y="573.2" text-anchor="middle" dominant-baseline="central" style="font-size:10.3px" >12%</text>
<text x="212.6" y="546.9" text-anchor="middle" dominant-baseline="central" style="font-size:10.3px" >18%</text>
<text x="229.8" y="534.9" text-anchor="middle" dominant-baseline="central" style="font-size:10.3px" >6%</text>
<circle cx="145.1" cy="537.9" r="3.00" fill="#8d6cbd" />
<text x="153.0" y="538.2" dominant-baseline="central" style="font-size:9.7px" >VSMC-1</text>
<circle cx="145.1" cy="550.6" r="3.00" fill="#a9c3e8" />
<text x="153.0" y="550.9" dominant-baseline="central" style="font-size:9.7px" >VSMC-2</text>
<circle cx="145.1" cy="563.3" r="3.00" fill="#f5b07a" />
<text x="153.0" y="563.6" dominant-baseline="central" style="font-size:9.7px" >VSMC-3</text>
<circle cx="145.1" cy="576.0" r="3.00" fill="#c6848f" />
<text x="153.0" y="576.3" dominant-baseline="central" style="font-size:9.7px" >VSMC-4</text>
<circle cx="145.1" cy="588.7" r="3.00" fill="#cf7f2c" />
<text x="153.0" y="589.0" dominant-baseline="central" style="font-size:9.7px" >VSMC-5</text>
<text x="0.8" y="638.9" fill="#000" style="font-size:18px;font-weight:bold" >F</text>
<text x="77.1" y="636.0" dominant-baseline="central" fill="#111" style="font-size:9.25px" >Pseudotime analysis</text>
<path d="M45.4 756.7C44.8 753.8 42.0 745.5 41.5 739.3C40.9 733.1 41.3 726.0 42.2 719.4C43.2 712.8 44.7 706.0 47.2 699.6C49.7 693.2 52.8 687.0 57.1 681.0C61.4 675.0 67.0 668.3 73.2 663.6C79.4 658.9 86.9 655.3 94.3 652.9C101.8 650.5 110.3 649.4 117.9 649.4C125.6 649.4 134.4 651.3 140.2 652.9C146.1 654.6 151.0 658.3 153.2 659.4" fill="none" stroke="#1f9a3c" stroke-width="1.6" stroke-dasharray="2.8 2.3"/>
<path d="M170.0 669.8C172.0 672.7 178.6 680.5 181.9 687.2C185.3 693.8 188.1 701.6 189.9 709.5C191.6 717.4 192.4 726.5 192.4 734.3C192.3 742.2 190.6 750.8 189.4 756.7C188.1 762.5 185.7 767.4 184.9 769.6" fill="none" stroke="#1f9a3c" stroke-width="1.6" stroke-dasharray="2.8 2.3"/>
<path d="M42.2 756.2 L53.4 758.6 L50.4 765.3Z" fill="#1f8a2c"/>
<path d="M180.5 767.8 L191.4 768.6 L182.9 776.0Z" fill="#1f8a2c"/>
<path transform="scale(0.5)" d="M244 1303h0m0-2h0m2-1h0m1 6h0m1-8h0m2 0h0m0 1h0m3 3h0m0 0h0m1 1h0m7 3h0m11 1h0m3-2h0m12 12h0m-6-3h0m-1 2h0m-1-3h0m0 0h0m-2 3h0m-2-7h0m-8 3h0m-1 6h0m0-2h0m0 2h0m-3-4h0m0 2h0m-1 1h0m0-2h0m-3-6h0m-3 10h0m-6-5h0m0-6h0m-3 5h0m0 5h0m0 1h0m-1-1h0m-1-4h0m-52 15h0m3 0h0m4 0h0m14-3h0m3 5h0m5 0h0m3 0h0m1-5h0m1 5h0m0-1h0m2-4h0m2-1h0m3 3h0m1-5h0m1 1h0m5 2h0m3-5h0m0-1h0m0 9h0m6-2h0m2 4h0m0-9h0m5 4h0m0-2h0m4-1h0m2 0h0m1 7h0m7-2h0m1 3h0m1-3h0m1-4h0m1 0h0m1-1h0m1 0h0m1-3h0m1 6h0m0-5h0m1-1h0m0 9h0m0 0h0m2-8h0m1 9h0m0-9h0m2 10h0m1-7h0m0-4h0m3 3h0m1 0h0m2 15h0m-4-5h0m-3 5h0m-1-3h0m-2-1h0m0 5h0m-3 1h0m-3 3h0m-9-2h0m-1-6h0m-3-1h0m-2 8h0m-2-10h0m-3 9h0m-1 2h0m-1-7h0m-2 0h0m0 3h0m-1 4h0m-2-7h0m-1-2h0m-3 9h0m-5-7h0m-3 7h0m0-3h0m-1-8h0m-6 4h0m-4-4h0m-1 0h0m-2 1h0m0 6h0m-3 1h0m-12 2h0m-1-4h0m-1 1h0m-5-2h0m-5-1h0m-3 7h0m-5 0h0m-2-3h0m0-5h0m-1 7h0m-2-8h0m-3 6h0m-5 3h0m-33 11h0m7 0h0m13 1h0m2-5h0m2 5h0m1-2h0m1-3h0m3 2h0m0-6h0m6 9h0m1-8h0m2-3h0m2 3h0m1 4h0m1-4h0m1-1h0m1 5h0m12 1h0m2 3h0m1-4h0m4-2h0m1 6h0m5-2h0m2-1h0m1-7h0m1 10h0m6-11h0m2 3h0m1 6h0m2 2h0m4-2h0m0-6h0m2 4h0m1-2h0m1 2h0m2-3h0m3-2h0m1 1h0m0-3h0m1 0h0m1 0h0m0 1h0m3-1h0m1 7h0m6-1h0m2 5h0m3-8h0m0 3h0m3 3h0m6-3h0m4-4h0m1 4h0m1 5h0m0-2h0m1-5h0m0-2h0m1 6h0m5-7h0m1 2h0m0 4h0m1-5h0m3 6h0m0-2h0m0-6h0m1 6h0m6 12h0m0-4h0m-2 6h0m-1 2h0m-3-2h0m-2 0h0m-1-3h0m-1-5h0m-3 2h0m-2-1h0m-5 7h0m-6 0h0m-1 1h0m-1 0h0m-1-5h0m-3 2h0m-1-4h0m-2-2h0m-2 5h0m0 3h0m-3-1h0m-2-6h0m-1 1h0m0 0h0m-2 7h0m-1 0h0m0-4h0m-2 0h0m0 6h0m0-8h0m-2 6h0m-2-7h0m-1-2h0m-1 4h0m-4 6h0m-4-5h0m-1-1h0m-13-1h0m-5 0h0m-1 6h0m-6-2h0m-1 3h0m0-5h0m-5 5h0m-1-9h0m-2 4h0m-1 4h0m-3-5h0m-2-2h0m-5 4h0m-1-6h0m-3 11h0m-2-10h0m-2 9h0m-3-2h0m0 1h0m-8 2h0m-1-8h0m-4 6h0m-2-1h0m-1-4h0m0-1h0m-2 7h0m-5-4h0m-1-1h0m-1-1h0m0 0h0m-1 0h0m-1 3h0m-1-1h0m0 5h0m-1-8h0m-3 0h0m-3 4h0m-2-1h0m-2-3h0m-1 8h0m-1-3h0m-6-4h0m-13 16h0m3-6h0m4 2h0m3 5h0m2-6h0m1 5h0m1 3h0m2-7h0m0-3h0m0 6h0m1-7h0m2 10h0m1-1h0m0-2h0m0 0h0m3-2h0m0 5h0m3-5h0m2 5h0m4-1h0m1-1h0m1-8h0m3 7h0m5-1h0m1 2h0m4-4h0m3 1h0m0 0h0m1-5h0m2 7h0m0-5h0m1 3h0m1-3h0m4 5h0m1 1h0m0 0h0m2-2h0m1 4h0m1 1h0m1-3h0m1 2h0m3-7h0m0 0h0m3 0h0m2 4h0m1-5h0m2 6h0m12-2h0m1-2h0m0-1h0m5 2h0m4 2h0m0-5h0m9-1h0m1 3h0m1 5h0m3-5h0m4 6h0m1-4h0m7 0h0m1-2h0m1 4h0m1-6h0m0 9h0m1-10h0m8 7h0m1-5h0m1 1h0m3 6h0m5-1h0m6-9h0m5 9h0m4 1h0m3 0h0m1-10h0m1 7h0m0 3h0m1 0h0m4-5h0m0-1h0m2-3h0m3 1h0m1 3h0m0-4h0m0 10h0m5-3h0m3-1h0m2 3h0m4-1h0m3-1h0m1 0h0m1 1h0m3 1h0m20 12h0m-6-5h0m-3 3h0m-2-3h0m-5-5h0m0 6h0m-4-3h0m-3 5h0m-1 3h0m0-7h0m0-3h0m-2-1h0m-2 9h0m-3-1h0m-2 3h0m0-2h0m0-9h0m-3 8h0m-2-5h0m-1 2h0m-1 0h0m-2 2h0m-2-4h0m-3 7h0m-2-10h0m-1 11h0m-1-2h0m-2-1h0m-2-6h0m-7 6h0m0-6h0m-2 9h0m0-11h0m-5 0h0m-1 7h0m0-5h0m-6 2h0m-3 5h0m-2-3h0m-4-4h0m-1 6h0m0-1h0m-6-4h0m-7 7h0m-2-5h0m-2 1h0m-2-2h0m-17 3h0m-1-7h0m-3 9h0m-1-6h0m-2 4h0m-2-6h0m-4-1h0m-3 4h0m-2 4h0m-1-6h0m0 5h0m-3 4h0m-1-9h0m-2 1h0m-1 6h0m0 0h0m-1-5h0m0 3h0m-2-1h0m-2 1h0m-2-7h0m-3 10h0m-2-5h0m-1 6h0m-1 0h0m0-1h0m-3-10h0m0 8h0m-3-5h0m0-1h0m-2 7h0m-10-6h0m-2 0h0m0 2h0m-3-3h0m-2-2h0m-3 11h0m0-1h0m-1-2h0m0-5h0m-1-1h0m-10 5h0m-2-6h0m-1 0h0m-7 1h0m0 7h0m-3-8h0m0 1h0m0 8h0m-2-6h0m-4 6h0m-3-4h0m-4 16h0m1 1h0m1-8h0m3 3h0m2 1h0m4 2h0m6-3h0m2 1h0m1-5h0m0 0h0m0 7h0m2 0h0m0-9h0m1 2h0m2-1h0m0-1h0m2 1h0m0 8h0m2-9h0m0 11h0m6-4h0m2 2h0m1 2h0m1 0h0m0-10h0m0 7h0m2-1h0m3-3h0m1-1h0m1 0h0m2-2h0m6 7h0m0 2h0m0-1h0m5-5h0m1 3h0m8 2h0m2-8h0m5 2h0m0 6h0m1 1h0m1-9h0m0 5h0m1 2h0m0 3h0m1-4h0m1-2h0m0-1h0m2 5h0m1-7h0m1 8h0m2-10h0m1 4h0m2-3h0m4 4h0m2-2h0m5 0h0m1 5h0m7-5h0m1-3h0m2 11h0m4-7h0m1-1h0m2 7h0m1-2h0m0-7h0m3 4h0m2 5h0m4-9h0m4 4h0m4 3h0m1-3h0m2 3h0m7-5h0m1-1h0m3 1h0m5 6h0m1-5h0m5 3h0m1-5h0m1-1h0m4-1h0m1 8h0m2 2h0m0-8h0m4 6h0m1 3h0m2-4h0m2 3h0m5-5h0m2-2h0m2 5h0m0 0h0m2-1h0m1-6h0m1 0h0m1 1h0m4 5h0m3-4h0m3-2h0m2 8h0m5 1h0m0-5h0m4-1h0m2 0h0m0 5h0m1-1h0m1 3h0m0-8h0m7-2h0m0 1h0m2 8h0m3-2h0m3-2h0m1 2h0m7-1h0m3 2h0m1-3h0m1-1h0m1 1h0m10 17h0m-14-7h0m-1 7h0m-1-2h0m-3 2h0m-1-9h0m0 3h0m0-1h0m-1 2h0m-4 0h0m-3 1h0m-8-3h0m-1 3h0m-2-6h0m0 2h0m-3 2h0m-9 4h0m-1-1h0m0-5h0m0 0h0m-7-1h0m-4 8h0m-1-7h0m-1 3h0m-2-5h0m-1 4h0m-1-2h0m-2 8h0m-2-2h0m-1-9h0m-1 10h0m-2-4h0m-1 4h0m-1 0h0m-1-8h0m-2 1h0m-1 1h0m0-2h0m-2 7h0m0 2h0m-1-4h0m-6 2h0m-1-3h0m-1-5h0m-2 6h0m-5 1h0m0-6h0m-3 7h0m-6-6h0m-3 2h0m-3-5h0m-2 2h0m-2 9h0m-1-11h0m-4 11h0m0-2h0m-2-1h0m-7-8h0m-1 3h0m-1 8h0m-5-8h0m-1-3h0m-3 5h0m-3 3h0m0 0h0m-3-2h0m0-1h0m-1-1h0m-3 7h0m0-1h0m-4-4h0m-10-3h0m-2 3h0m-3 3h0m-1-9h0m-1 9h0m-1-5h0m0 5h0m-2-2h0m-1-7h0m-3 7h0m-1 0h0m-5-5h0m0 9h0m-1-1h0m-2-10h0m0 3h0m-5-2h0m-1 8h0m0 0h0m-1-5h0m0-2h0m-5 3h0m0 6h0m-6-5h0m0 4h0m-4-1h0m-2-4h0m-1-3h0m0-1h0m-5 9h0m0-8h0m0 1h0m-2 0h0m0 2h0m-1-4h0m-1 9h0m-6-9h0m-6-1h0m0 1h0m-4-1h0m0 9h0m-1-4h0m-2 3h0m0 3h0m-1-3h0m-1-7h0m-3-1h0m-1 10h0m-1-2h0m-3 2h0m0-5h0m-2-1h0m-5 6h0m-6 12h0m1 1h0m2-2h0m3-5h0m1 7h0m2-11h0m0 6h0m1 3h0m1-1h0m2-8h0m1 9h0m1-9h0m1 1h0m1 10h0m1-4h0m3-3h0m7 6h0m3-1h0m0 2h0m3-4h0m3-5h0m1 7h0m4-2h0m2-4h0m1 3h0m2 0h0m1-4h0m1 5h0m1 0h0m2-6h0m4 8h0m1-2h0m4 4h0m2-9h0m0 0h0m1 1h0m1-2h0m0 3h0m5-2h0m1-2h0m2 9h0m1-8h0m1 2h0m3 4h0m1-1h0m0-2h0m1-4h0m6 2h0m2 9h0m2-3h0m0-8h0m2 0h0m4 3h0m1 5h0m3-2h0m4 2h0m1-5h0m8-3h0m9 8h0m2 3h0m0-11h0m3 6h0m1-4h0m3-2h0m2 6h0m2 0h0m3 0h0m2 5h0m4-7h0m2 2h0m2-2h0m1 2h0m3 1h0m1 0h0m6-7h0m9 8h0m2-3h0m0 1h0m12 5h0m5-9h0m1 6h0m0-1h0m0-2h0m1 4h0m0-3h0m1-5h0m0 4h0m1-5h0m1 4h0m1 3h0m2 3h0m0-9h0m3 10h0m0-6h0m0-3h0m1 9h0m1-11h0m1 7h0m2 1h0m1 3h0m2-6h0m0 3h0m0 2h0m4-2h0m3-8h0m0 2h0m0 7h0m0 2h0m3-4h0m2-5h0m2 0h0m2 3h0m1 1h0m3 5h0m2-11h0m2 5h0m0 1h0m1-5h0m3 0h0m0 1h0m2 6h0m0-7h0m1 9h0m2 0h0m2 1h0m0-2h0m1-2h0m0-6h0m3 10h0m0-1h0m1-4h0m1 2h0m1-4h0m0 4h0m5-1h0m2 0h0m1 2h0m2-9h0m0 7h0m1 1h0m3-5h0m2 5h0m5-5h0m1-2h0m5 9h0m5 10h0m-1 2h0m-9 0h0m-4-1h0m-1 2h0m0-2h0m-1-6h0m-1 4h0m0 1h0m-1-8h0m-1 6h0m-1-1h0m-2-3h0m-3 3h0m0-3h0m0 2h0m-1-2h0m-1 9h0m-1-5h0m-1-1h0m-1-5h0m-1 7h0m-1 3h0m-2-7h0m0 8h0m-3 0h0m0-5h0m-1 3h0m-1 2h0m-2-2h0m0 1h0m-1 1h0m-3-4h0m0-3h0m-4-2h0m-1 4h0m-1-2h0m0 2h0m-1-4h0m-2 4h0m-1-5h0m-1 0h0m0 2h0m-1 1h0m-1 5h0m-6-9h0m0 1h0m-3 2h0m-5 7h0m0-5h0m-2 6h0m-1-11h0m-2 8h0m0-8h0m0 1h0m-2 0h0m0 3h0m-1-3h0m-1 1h0m0-2h0m-1 10h0m-8-2h0m-1-4h0m-2 7h0m0-7h0m-2 6h0m-1-3h0m0-6h0m-3 10h0m-5-9h0m-1-1h0m-2 6h0m-2 4h0m-2-4h0m-1 1h0m0-3h0m-1-5h0m-4 9h0m-1-2h0m-1-7h0m-1 5h0m-1 0h0m-3-3h0m0 3h0m-3 5h0m-1-4h0m-5 1h0m-1-3h0m-1 6h0m-1-6h0m-3 4h0m-9-5h0m-1 3h0m-1 5h0m0-7h0m-2-3h0m-2 8h0m-3 0h0m-1-6h0m-1 5h0m-1 2h0m-5 0h0m0 0h0m-2-6h0m0-4h0m-1 9h0m-1-2h0m-6 2h0m-12-8h0m-2 5h0m-4 4h0m0-9h0m-2 7h0m0-1h0m-4-4h0m-1 2h0m0-4h0m-2 5h0m-2-1h0m-2 5h0m-1-5h0m0-5h0m-2 1h0m-2 7h0m0 3h0m-3 0h0m-2-2h0m-3 0h0m0-2h0m-1-7h0m-4 3h0m-1 5h0m0-3h0m-1-1h0m-1 7h0m-2 0h0m-2-4h0m-1-6h0m-1 3h0m-2 3h0m-2-1h0m0-2h0m0 4h0m-2 0h0m-1-6h0m-1 3h0m-3-4h0m-2 4h0m-2 1h0m0-4h0m-3-2h0m-1 8h0m0-2h0m-4-6h0m-1 11h0m-3-7h0m-4 7h0m-1-5h0m-1 4h0m-1-1h0m-1 0h0m-2-3h0m-4 1h0m-2 0h0m-3-2h0m-6 14h0m1-4h0m1 1h0m1 1h0m2-5h0m2 2h0m1 3h0m0 5h0m0-2h0m1-8h0m0 0h0m2 4h0m1 3h0m2-3h0m2 4h0m2-3h0m7 2h0m1-1h0m4 2h0m0-1h0m0 4h0m3-10h0m0 1h0m2 4h0m3-2h0m0-1h0m3-2h0m3 8h0m0-7h0m5 0h0m1 6h0m4 0h0m0-8h0m1 9h0m1-1h0m0 2h0m0-3h0m1 0h0m0-1h0m2-1h0m2-2h0m1-2h0m1 6h0m1 1h0m1-2h0m0 5h0m1-11h0m2 3h0m2 5h0m1 1h0m3 0h0m4-3h0m0 3h0m3 2h0m2-8h0m5-1h0m1-2h0m2 4h0m0 2h0m2-6h0m6 8h0m1 2h0m3 0h0m1-2h0m3-3h0m4 2h0m1 4h0m3-3h0m3-8h0m2 5h0m1 6h0m3-5h0m6 5h0m1-11h0m0 9h0m6-2h0m7-7h0m0 2h0m1-2h0m0 3h0m4-3h0m2 1h0m5-1h0m4 9h0m2-9h0m1 6h0m1 1h0m0-7h0m5 7h0m2-4h0m2 3h0m3 2h0m4 0h0m2 1h0m1 1h0m1 1h0m3 0h0m0-11h0m1 2h0m0 7h0m2-2h0m2-6h0m4 4h0m1-3h0m4 8h0m2-10h0m7 10h0m1-5h0m6 2h0m0-6h0m1 6h0m2-5h0m5 2h0m0 4h0m1 1h0m0-1h0m0 3h0m2-3h0m1 3h0m2-5h0m2 4h0m3-3h0m1-1h0m1 0h0m3-2h0m1 2h0m1 2h0m3-7h0m0 4h0m1-4h0m2 3h0m1-2h0m0-2h0m0 5h0m1-2h0m0 3h0m3-2h0m4-3h0m1 4h0m1-1h0m0-4h0m0 1h0m1-1h0m0 0h0m2 9h0m0-4h0m3-5h0m2 5h0m1 0h0m1 2h0m2 4h0m0 0h0m1-8h0m2 5h0m3-7h0m2 7h0m2-2h0m2 5h0m1-3h0m1-8h0m1 8h0m2 12h0m-2-7h0m-2 9h0m0 1h0m-2-2h0m-3-1h0m0 2h0m-3 0h0m-2-6h0m-1-1h0m-2 2h0m-4-2h0m-2 3h0m0 5h0m-1-3h0m-5 0h0m-1 2h0m-1-9h0m-1 2h0m-4 1h0m-2 2h0m-3-5h0m0 6h0m-2-2h0m-2-1h0m0-1h0m-1 3h0m-1 0h0m-1-2h0m0 2h0m-2 2h0m-1 0h0m-2-4h0m0-1h0m-2 6h0m0-4h0m-4 2h0m-5-2h0m0-3h0m0 3h0m-2 4h0m-1-9h0m-2 5h0m-2-2h0m-3 0h0m0 2h0m-5-4h0m-1 1h0m-2 5h0m-1-7h0m-3 11h0m-1-5h0m-1-5h0m-1 4h0m-5 3h0m-2-7h0m-1 7h0m-3-4h0m-5 4h0m0-6h0m-3-1h0m0 2h0m-3-2h0m-1-1h0m-4 9h0m-1 1h0m0-2h0m-8-2h0m0 2h0m0-6h0m-5-2h0m-1 11h0m-4-4h0m0 1h0m-1-6h0m-1 1h0m-1 7h0m0-7h0m-2 5h0m-2 3h0m-21-1h0m-7-4h0m-1-5h0m-3 10h0m-1-3h0m-1 3h0m-5-10h0m-2 1h0m-1 2h0m-1 6h0m-1-10h0m-4 3h0m-1 3h0m-6-5h0m-1 1h0m-3 8h0m-2 0h0m-2-10h0m-1 8h0m-2 0h0m-1-8h0m0 10h0m-1 1h0m-1-2h0m-3-6h0m-4 0h0m0 5h0m-8-5h0m-1-2h0m0 1h0m-1 3h0m-1-5h0m-4 4h0m-1 1h0m0 4h0m-1-2h0m-3-4h0m-3 1h0m-2 6h0m-2-4h0m0 0h0m-2-4h0m0 1h0m0-2h0m-6 4h0m-3-4h0m-4 8h0m-1-8h0m0 4h0m-2-2h0m-2 3h0m-3-6h0m-3 0h0m-1 3h0m-2 3h0m-1-6h0m-3 0h0m-2 6h0m-1-5h0m-6-1h0m11 16h0m7 4h0m1 2h0m1-8h0m1 0h0m4 1h0m2 1h0m3 7h0m0-1h0m1-8h0m2 9h0m0-7h0m1 2h0m3-3h0m1-3h0m3 7h0m1-3h0m1-4h0m1 8h0m1-6h0m1-1h0m0 3h0m2 4h0m0-5h0m1 8h0m1-10h0m6 10h0m4-10h0m1 6h0m2-3h0m0-3h0m4 9h0m5-2h0m3-5h0m2 0h0m0 5h0m0-7h0m2 3h0m0-3h0m1 2h0m1 0h0m1-1h0m6 3h0m1-4h0m1 1h0m1-2h0m12 11h0m1-4h0m3-7h0m3 1h0m0 5h0m1 1h0m1-6h0m2 5h0m2 2h0m1-4h0m0 4h0m2 2h0m1-1h0m1 0h0m2-5h0m1 1h0m18 1h0m1 5h0m2-6h0m1 2h0m0 1h0m3 2h0m2-2h0m3-3h0m1 3h0m4-4h0m1 3h0m1-4h0m3-1h0m3 9h0m1-5h0m1-1h0m2 2h0m6-7h0m4 8h0m1-5h0m2 5h0m0-2h0m1 1h0m1-2h0m2-5h0m1 3h0m0-3h0m1 6h0m2 0h0m1-3h0m1 4h0m0 1h0m1 2h0m0-4h0m1 2h0m2-2h0m4 3h0m0-1h0m1-5h0m0 3h0m1 3h0m3-7h0m1 7h0m0-9h0m2 0h0m3 11h0m3-11h0m5 11h0m0 0h0m1 0h0m4-6h0m0-5h0m1 2h0m5 0h0m4-2h0m3 6h0m0 5h0m1-2h0m4-5h0m1 2h0m3 2h0m2-4h0m1 5h0m0 1h0m1-6h0m4 7h0m0-2h0m6-1h0m0 1h0m0-7h0m1 4h0m2 0h0m0-6h0m4 4h0m0 5h0m8 0h0m5-9h0m4 3h0m3 13h0m-5 0h0m-1-4h0m0 6h0m-3 1h0m-6 4h0m-1 0h0m0-11h0m-3 3h0m-1 7h0m-1-9h0m-1 5h0m-3-3h0m-1 4h0m-1-5h0m-4 1h0m-1 7h0m-1 0h0m-5-10h0m-1 11h0m-1-8h0m0-1h0m0-2h0m-4 2h0m-1 9h0m0-2h0m-1 2h0m0 0h0m0-6h0m-6-3h0m-1 6h0m-3-6h0m-6 7h0m-9-8h0m-3 4h0m-1 2h0m-2-1h0m-1 2h0m-3 1h0m-4-6h0m0 7h0m-1-2h0m0-7h0m-1 10h0m-3-9h0m-4 3h0m-2-2h0m-1-3h0m0 6h0m-2 0h0m-1-2h0m-1 3h0m-6 0h0m-4 3h0m-2-2h0m-1 3h0m-6-8h0m-1 2h0m-3 4h0m-1-4h0m-1 6h0m-1-3h0m-1 3h0m-2-3h0m-2 1h0m-5-3h0m-4 3h0m-1-9h0m0 4h0m-1 6h0m-1 0h0m-2-9h0m-3 7h0m0-4h0m-1 2h0m0 1h0m-6 3h0m-17-6h0m0-3h0m-1 1h0m-1 9h0m-1-5h0m-2-6h0m-6 11h0m-2-4h0m-4-2h0m-2-2h0m-14-1h0m-3 6h0m-1-1h0m-2 4h0m-3-4h0m-1 4h0m-3-2h0m-2 1h0m-1 1h0m0-4h0m0 0h0m-1-6h0m-2 3h0m-3 3h0m-3 0h0m-3 4h0m-1 0h0m-3-1h0m-1-1h0m-4 1h0m0 0h0m-1-6h0m0 6h0m-1-5h0m-1 6h0m-3 0h0m-1-11h0m-1 5h0m-1-1h0m-2-1h0m-2 3h0m-1 3h0m-1-7h0m-2 7h0m0-2h0m0-1h0m-2 3h0m0-3h0m2 6h0m1 3h0m3-2h0m2 0h0m1 5h0m1-5h0m0 0h0m2 7h0m0-4h0m3-1h0m3-2h0m2 3h0m0-2h0m0 2h0m1-1h0m3 7h0m2-3h0m7-7h0m2 6h0m2-5h0m4 0h0m6 2h0m21-2h0m9-1h0m5 8h0m1-6h0m18 4h0m2-6h0m2 6h0m0-2h0m7 4h0m1-2h0m6-6h0m1 0h0m5 2h0m0 6h0m2 1h0m0 1h0m1-6h0m1 2h0m1 5h0m1-5h0m2-4h0m0 2h0m2-4h0m1 1h0m1 9h0m1-3h0m1-5h0m1 9h0m3-10h0m1 9h0m1-2h0m0-1h0m0-4h0m1-2h0m4 10h0m1-4h0m3-5h0m2-1h0m0 2h0m2 1h0m5 7h0m1-5h0m1-4h0m1 2h0m0 6h0m4-4h0m6 1h0m0-5h0m1-1h0m0 6h0m3-7h0m1 1h0m0 0h0m7 3h0m1-2h0m2-2h0m0 7h0m2-7h0m8 1h0m1 2h0m2-1h0m1-1h0m0-1h0m0 1h0m2 5h0m3 2h0m2-7h0m0 3h0m1 2h0m0-1h0m3 2h0m4-4h0m0 3h0m4-5h0m1 5h0m1 1h0m2-7h0m3 2h0m5 0h0m1 3h0m0-3h0m2 1h0m0 0h0m1 6h0m5-8h0m0 1h0m0 2h0m3-2h0m0 9h0m2-1h0m3-4h0m1 2h0m1 3h0m1-3h0m3 2h0m0 5h0m-6 4h0m-10-3h0m-1-2h0m0 7h0m-1-2h0m-1 2h0m-3 0h0m0-8h0m0 9h0m-2-1h0m-2-8h0m-1 9h0m-3-2h0m-2 2h0m-2-6h0m-2-1h0m-2-3h0m0 7h0m-1 2h0m-4-6h0m-1-2h0m-2 10h0m0-5h0m-3 0h0m-3-2h0m-3 1h0m0 4h0m-1 0h0m-3-6h0m0 0h0m-1 5h0m-2-4h0m-1 0h0m-1-2h0m-3 0h0m-3 1h0m-20 6h0m-4-8h0m-3 1h0m-2-2h0m-1 1h0m-1 5h0m-1 5h0m0-9h0m-6-1h0m-2 9h0m-1-6h0m-1-4h0m-2 5h0m-2 5h0m-3-10h0m-5 6h0m-3-5h0m-2 2h0m-5 1h0m-2 5h0m-1 1h0m0-9h0m0-1h0m-8 3h0m0 1h0m0 7h0m-3-11h0m-2 11h0m-3-6h0m0-5h0m-1 1h0m0 8h0m0-2h0m-1 4h0m-1-1h0m-1-9h0m0 10h0m0-6h0m-3 1h0m-1 1h0m-1 3h0m0-3h0m-1-3h0m-2 5h0m-19-5h0m-1-1h0m-18 6h0m-2 1h0m-2-4h0m-1 5h0m-2-5h0m-2 5h0m-3-1h0m-1-5h0m0-4h0m-1 3h0m0 3h0m-4-1h0m0-2h0m-2-4h0m-3 11h0m-4-7h0m-1 1h0m0 3h0m-1-5h0m-3-2h0m-2 1h0m-1 6h0m-6-3h0m-6 0h0m-1 1h0m-10 11h0m3 4h0m2-7h0m5 3h0m1 2h0m2-3h0m2-2h0m0 2h0m4 0h0m3 6h0m7-2h0m2-6h0m1 5h0m1-5h0m0 7h0m1-7h0m0 6h0m1 1h0m2 1h0m5-3h0m1 4h0m1-6h0m1-5h0m2 3h0m1 0h0m0 5h0m0-6h0m0 3h0m2 1h0m1-6h0m1 11h0m1-7h0m5 1h0m2-4h0m0 0h0m6 9h0m5-4h0m3-1h0m20-1h0m0-4h0m0 5h0m3-5h0m2 6h0m1 5h0m2 0h0m1 0h0m2-11h0m0 3h0m1 4h0m6-2h0m1-4h0m0 0h0m2 3h0m2 6h0m0-1h0m1-4h0m2 4h0m2 2h0m5-5h0m0 4h0m1-10h0m1 3h0m0 8h0m3-6h0m5 2h0m1-7h0m3 11h0m0 0h0m2-8h0m1 4h0m1-7h0m2 4h0m4 5h0m8-4h0m2 2h0m2-2h0m0-5h0m1 4h0m0 2h0m1-6h0m1 6h0m2-1h0m1-1h0m2 1h0m1-2h0m0 4h0m1-4h0m0 3h0m2 2h0m4 3h0m0-2h0m2 1h0m7-2h0m0-7h0m4 5h0m1 4h0m2 1h0m4 0h0m1-7h0m2 1h0m8 3h0m1-6h0m2 1h0m6 8h0m0-1h0m0-4h0m1-2h0m2 1h0m3-3h0m0-2h0m0 9h0m2-6h0m1 4h0m2 1h0m2-1h0m3-6h0m3 0h0m1 5h0m1-4h0m1 5h0m1 3h0m2-3h0m3-1h0m1-4h0m0 3h0m4-3h0m5 0h0m2 0h0m-8 15h0m-5 5h0m-1-8h0m-1 5h0m-5-6h0m-1 10h0m-5-9h0m0 4h0m0-6h0m-3 1h0m-6 1h0m-1-2h0m-3 2h0m0-2h0m-1 11h0m-1-7h0m-1 5h0m-2-4h0m-2-2h0m-7 1h0m0 1h0m0 6h0m-4-3h0m-3 0h0m0 2h0m-4-4h0m-4-4h0m-1 8h0m-1 1h0m-8-5h0m-5 0h0m-1 5h0m0-8h0m-1 7h0m-2-2h0m0-3h0m-1 1h0m-2 3h0m-2-3h0m-7 4h0m-2-3h0m-3-4h0m-3 4h0m-1 0h0m0-3h0m-4-1h0m0 4h0m-1 4h0m-2-9h0m-2 9h0m0-10h0m0 1h0m-1 8h0m-1 0h0m-3 1h0m-2-8h0m-7 4h0m0 3h0m-1-9h0m-5 9h0m-1 1h0m-2 0h0m-3-7h0m-1-1h0m-2 5h0m-7-1h0m-4-6h0m-1 7h0m-4-2h0m0 5h0m-1-11h0m-15 6h0m-2-4h0m-2 2h0m-4-3h0m0 6h0m0 4h0m-4-10h0m-2 6h0m-2-6h0m0 9h0m-4 0h0m-1-9h0m-1 7h0m-4-1h0m-1 2h0m-1-3h0m0 4h0m-5-7h0m-7-2h0m-8-1h0m-4 1h0m-2 7h0m0-3h0m-1-1h0m-1-3h0m0 8h0m-3 2h0m0-2h0m-5 2h0m-2-4h0m-4 2h0m-8-6h0m-1-3h0m-3 7h0m2 8h0m2 5h0m1-6h0m2 9h0m3 0h0m1-10h0m1 2h0m4 4h0m1-5h0m0 5h0m4 2h0m0-5h0m2 4h0m3-2h0m1-1h0m10 6h0m0-4h0m2-6h0m1 2h0m0 8h0m0-2h0m2-7h0m1 7h0m1-1h0m7-1h0m4-2h0m2 2h0m1 0h0m5-1h0m4 0h0m0-5h0m1 6h0m0-4h0m3 3h0m2-4h0m1 7h0m3-9h0m1 1h0m0 3h0m1 5h0m2-7h0m4 3h0m0-1h0m13 7h0m5-11h0m10 8h0m3 1h0m1-4h0m2 5h0m0-3h0m0-7h0m0 1h0m1 7h0m1-2h0m2 5h0m0-4h0m2 2h0m1-6h0m1 8h0m1-8h0m6 5h0m0-6h0m7 9h0m1-11h0m1 9h0m0 1h0m1-2h0m0 2h0m3-8h0m0 7h0m2-7h0m3 2h0m2-2h0m2 0h0m4 0h0m3 1h0m1-3h0m1 0h0m3 4h0m0 2h0m2-4h0m1 4h0m0-1h0m0-3h0m1-1h0m3 8h0m1-6h0m1 7h0m2-9h0m0 7h0m2-6h0m2 8h0m1-1h0m1-8h0m7 8h0m4-8h0m3 1h0m2 7h0m4-3h0m0 0h0m1 2h0m6-3h0m2 3h0m2-5h0m1 5h0m2 1h0m4 0h0m2-3h0m1-6h0m6 9h0m4-2h0m2-7h0m2 7h0m1 4h0m1-9h0m1 8h0m5-6h0m1-2h0m-11 12h0m0 1h0m-1 1h0m-2 2h0m-4-5h0m-3 5h0m0 2h0m-1-4h0m0 3h0m0-3h0m-1 3h0m-8-2h0m-1 4h0m-2-6h0m-1 8h0m0-5h0m-1-5h0m0 0h0m0 3h0m-3 3h0m0-6h0m-5 3h0m-11-3h0m-10 5h0m-2-6h0m-2 8h0m-1 0h0m-1-1h0m0 2h0m0-3h0m-6-3h0m-1 3h0m-5 4h0m0-10h0m-1 9h0m0 0h0m-3-4h0m0-5h0m-2 4h0m-1 6h0m-3-8h0m-1 6h0m-2-8h0m-2 10h0m-1-10h0m-1 0h0m-4 1h0m-1 10h0m-2-1h0m0-3h0m0 0h0m-1 3h0m-6-1h0m-1-3h0m-2-2h0m-1 3h0m-3 0h0m-1-2h0m-1 1h0m-2 0h0m-2 5h0m-2-9h0m0 3h0m-1 5h0m-2-4h0m0-4h0m-3 9h0m-2-1h0m-6-10h0m-3 5h0m-1 5h0m-1 0h0m-13-2h0m-5 2h0m-1-9h0m0 9h0m-5 0h0m0-1h0m-1 2h0m-1-7h0m-2-2h0m-6 5h0m-2-1h0m-1-4h0m0 5h0m-9 3h0m-1 1h0m-4-2h0m-1-1h0m0-3h0m0-5h0m-3 8h0m-1-5h0m-8 8h0m-3-2h0m0-6h0m-2 8h0m0-2h0m0-5h0m-2 7h0m0-10h0m-2 1h0m-1 9h0m-1-1h0m0-6h0m-1-2h0m-1 8h0m0 1h0m-3-3h0m-3 0h0m-2-5h0m-6-3h0m0 9h0m-2 2h0m0-3h0m0 10h0m2 0h0m4-2h0m1-4h0m2 7h0m2 1h0m3 2h0m2-7h0m1 2h0m2-5h0m2 11h0m2-4h0m1 4h0m7-3h0m5 0h0m0-7h0m4-1h0m2 3h0m3 2h0m1 1h0m2 1h0m2-4h0m6 8h0m4-11h0m2 8h0m6 0h0m0-3h0m3 1h0m7-5h0m0-1h0m16 6h0m2 4h0m0-10h0m11 9h0m1 2h0m0 0h0m0-2h0m2-8h0m1 2h0m0-3h0m1 9h0m6-9h0m2 6h0m1 5h0m1-11h0m0 6h0m4-3h0m0 0h0m8 7h0m4-7h0m0-1h0m1 2h0m1 0h0m0-2h0m1 6h0m3 1h0m1 0h0m3-9h0m2 6h0m0 0h0m0 4h0m5 0h0m2-9h0m2 10h0m1-11h0m3 7h0m1-4h0m2 6h0m2 1h0m0-9h0m0 8h0m1-4h0m2 6h0m1-8h0m2 3h0m0-5h0m1 5h0m1-2h0m23-3h0m1 1h0m2-1h0m18-1h0m-48 14h0m-5 3h0m-2 3h0m0 2h0m-3-9h0m-2 3h0m-2 2h0m0-6h0m-1 0h0m0 4h0m-1 7h0m-2 0h0m0-4h0m0-3h0m-6-4h0m-1 11h0m-1-4h0m-2 0h0m-2 2h0m-7-8h0m-2 5h0m-2 0h0m-1 1h0m-5 3h0m-1-2h0m-2-4h0m0 0h0m0-2h0m-5 0h0m0-2h0m-1 5h0m0 0h0m-1 2h0m0-1h0m-1 5h0m-3-9h0m-3 5h0m-3-7h0m0 3h0m-3 4h0m-5-5h0m-23 1h0m-2-2h0m-2 7h0m-1-6h0m-2-1h0m-2 6h0m0 4h0m-1 0h0m-1-10h0m0 0h0m-2 1h0m-1 2h0m-2-3h0m-2 5h0m0-6h0m-1 2h0m-2 8h0m-4-5h0m0 0h0m-1 0h0m-2 0h0m-1-5h0m-3 2h0m-2 4h0m-2-4h0m0 3h0m0-5h0m0 8h0m-1-1h0m-1-1h0m0 1h0m-1-6h0m-5 10h0m0-4h0m-1 4h0m-2-10h0m-1 9h0m-1-10h0m0 1h0m-1 3h0m-2 2h0m-1-4h0m-10-1h0m-2 0h0m38 12h0m13 1h0m2-2h0m48 2h0m5 1h0m4-2h0m0 4h0m1-5h0m3 1h0m1 0h0m1 2h0m1 1h0m2-3h0m8 1h0m0 3h0m0 5h0m1-3h0m1-6h0m0 0h0m1 8h0m1-3h0m0 5h0m2-5h0m0 1h0m0 0h0m2-6h0m1 10h0m3-5h0m3-3h0m3 2h0m0 5h0m2-2h0m0-4h0m0-2h0m1 9h0m2-7h0m1-4h0m1 4h0m0 4h0m6-6h0m0 4h0m4-5h0m1-1h0m1 2h0m2-2h0m-18 12h0m-7 2h0m-1-1h0m-9 1h0m-3 0h0m-1-2h0m-4 4h0m0-1h0m-2-2h0m0 1h0m-2-2h0" stroke="#5a3040" stroke-width="9.40" stroke-linecap="round" fill="none" opacity="0.35"/>
<path transform="scale(0.5)" d="M279 1313h0m-16 3h0m17 13h0m11 29h0m-6 6h0m-7-6h0m-7 6h0m8 14h0" stroke="#0d0887" stroke-width="8.00" stroke-linecap="round" fill="none" />
<path transform="scale(0.5)" d="M272 1307h0m15 10h0m-10-1h0m-11 2h0m0-2h0m0 2h0m-3-4h0m-1 3h0m0-2h0m9 13h0m1 3h0m5-8h0m1-3h0m1 6h0m0-5h0m1-1h0m5 11h0m1-7h0m2 9h0m-6 1h0m-6 9h0m-10-8h0m-5 7h0m5 8h0m4-4h0m2 9h0m1-7h0m0-2h0m1 6h0m5-7h0m1 2h0m4 5h0m1-2h0m6 12h0m-2 2h0m-6 0h0m-1-3h0m-1-5h0m-17 9h0m1 3h0m19 5h0m2-4h0m4 4h0" stroke="#1a078c" stroke-width="8.00" stroke-linecap="round" fill="none" />
<path transform="scale(0.5)" d="M275 1305h0m6 9h0m-1 2h0m-1-3h0m-4-4h0m-8 3h0m-4 11h0m1 7h0m9-2h0m1-4h0m1 0h0m1-1h0m4 6h0m2-8h0m1 9h0m0-9h0m3-1h0m3 3h0m1 0h0m2 15h0m-7 0h0m-1-3h0m-5 5h0m-16-6h0m8 16h0m1 3h0m8-2h0m1-5h0m3 4h0m0-6h0m4 22h0m-12-9h0m-11 7h0m13 4h0m1 7h0m1 3h0m9-8h0m9 5h0m6 2h0m4-1h0m1 1h0m3 1h0m4 2h0m-17 0h0m-3 13h0" stroke="#270692" stroke-width="8.00" stroke-linecap="round" fill="none" />
<path transform="scale(0.5)" d="M282 1339h0m-15 2h0m3 36h0m4 1h0m10-6h0m6-3h0m0 10h0m5-3h0m5 2h0m7-2h0m14 9h0m-5 1h0m-4-3h0m-4 1h0m0-3h0m-2-1h0m-27 8h0m-11-8h0m13 19h0m23-4h0m18 0h0" stroke="#340598" stroke-width="8.00" stroke-linecap="round" fill="none" />
<path transform="scale(0.5)" d="M277 1378h0m55 12h0m-6-5h0m-17 3h0m-5 1h0m-3-1h0m-5 0h0m-2-5h0m-1 2h0m-1 0h0m-4-2h0m-3 7h0m-2-10h0m-1 11h0m-5-9h0m-7 0h0m1 10h0m3 2h0m4 6h0m17-7h0m12 0h0m14 7h0m1 3h0m9-1h0m2 9h0m-14-2h0m-41-3h0" stroke="#41049d" stroke-width="8.00" stroke-linecap="round" fill="none" />
<path transform="scale(0.5)" d="M323 1388h0m-24 3h0m0-2h0m-9-2h0m-9 2h0m-11-1h0m-2 3h0m4 9h0m2 2h0m9 0h0m7-7h0m2 5h0m0 0h0m5-6h0m4 5h0m13-2h0m4-1h0m2 0h0m0 5h0m9-8h0m0 1h0m5 6h0m3-2h0m1 2h0m7-1h0m3 2h0m3-3h0m-5 17h0m-22-4h0m-14 2h0m-1-6h0m-16 2h0m-1-2h0m-14 1h0m-2 7h0m-1-4h0m18 5h0m-41 38h0m33 16h0" stroke="#4b03a0" stroke-width="8.00" stroke-linecap="round" fill="none" />
<path transform="scale(0.5)" d="M308 1391h0m-29 12h0m9-6h0m6 2h0m15 2h0m5 1h0m36-5h0m-3 11h0m-2 5h0m-3 2h0m-1-9h0m0 3h0m0-1h0m-5 2h0m-11-2h0m-3-3h0m0 2h0m-13 5h0m0-5h0m-7-1h0m-5 1h0m-3-2h0m-4 10h0m-3-11h0m-1 10h0m-2-4h0m-1 4h0m-2-8h0m-5 7h0m6 9h0m9-4h0m15 9h0m9-6h0m6-5h0m3 1h0m-25 22h0m-19-7h0m-32 17h0m77-3h0m23-5h0m-88 19h0m-20-5h0m44 16h0m10 15h0m-1-9h0m-43 15h0" stroke="#5602a2" stroke-width="8.00" stroke-linecap="round" fill="none" />
<path transform="scale(0.5)" d="M349 1398h0m-9 12h0m-42 4h0m-2-4h0m-8 3h0m-6 1h0m-3-7h0m-4 20h0m5-9h0m1 6h0m0-1h0m1 2h0m1-8h0m0 4h0m1-5h0m2 7h0m2 3h0m0-9h0m6 6h0m9 1h0m3-8h0m0 2h0m0 7h0m5-7h0m8 9h0m4-6h0m6-4h0m6 6h0m13 9h0m-3 2h0m-2-6h0m-1 7h0m-7 2h0m-3 1h0m-23-10h0m-11 0h0m-4 4h0m-1-3h0m-34 14h0m5 5h0m11-8h0m9 5h0m29-1h0m1 5h0m7 1h0m27-6h0m0-4h0m-2 13h0m-7 5h0m-8 0h0m-7-3h0m-6 4h0m-7 2h0m-13-8h0m-15 7h0m-17-7h0m-1-1h0m-4 9h0m-15 2h0m26 4h0m7-3h0m6 10h0m9-1h0m17 2h0m5-6h0m-31 12h0m-5 1h0m-2 1h0m-6 0h0m-14-2h0m-5 6h0m-4-3h0m-7-2h0m-7 4h0m1 2h0m6 2h0m3 2h0m5-2h0m7 9h0m3-10h0m2 6h0m1-6h0m17 10h0m13-9h0m4-2h0m-23 14h0" stroke="#6001a5" stroke-width="8.00" stroke-linecap="round" fill="none" />
<path transform="scale(0.5)" d="M281 1421h0m4-1h0m6 1h0m1 6h0m4-3h0m3-3h0m0 3h0m0 2h0m10-3h0m4-5h0m3 4h0m7 0h0m4-5h0m0 1h0m3 8h0m5-9h0m21 19h0m-3-3h0m-9 0h0m-22 1h0m-6-2h0m-7-3h0m-3 2h0m-5 2h0m-9-5h0m-1 10h0m-8-2h0m-5 2h0m-14 1h0m-11-6h0m-2 13h0m1-6h0m5 7h0m19 2h0m4-8h0m9 9h0m2-10h0m7 10h0m7-9h0m8 7h0m1 0h0m0 3h0m20-6h0m4 0h0m3 11h0m-9 0h0m0-1h0m-3 3h0m-7-1h0m-9-3h0m0 3h0m-19-5h0m-3 11h0m-2-10h0m-8 0h0m-1 7h0m-8-6h0m-25-2h0m-8 3h0m-2 5h0m-2 9h0m1 3h0m5 0h0m3-3h0m1 3h0m12 3h0m4-4h0m10 1h0m3-2h0m2-1h0m2-5h0m4 6h0m10 2h0m5-6h0m3-2h0m12 11h0m4-11h0m6 2h0m4-2h0m-18 13h0m-4 6h0m-6 2h0m-5-1h0m-4-6h0m-6 1h0m-15 7h0m-16-2h0m-1 3h0m-4-2h0m-9 0h0m-1-5h0m-4-3h0m9 19h0m12 2h0m2-8h0m5 8h0m10-8h0m2 1h0m2 1h0m8 6h0m11-9h0m0 6h0m4-6h0m-12 20h0m-4-8h0m-3 1h0m-11-1h0m-3 3h0m-1-4h0m14 12h0" stroke="#6a00a8" stroke-width="8.00" stroke-linecap="round" fill="none" />
<path transform="scale(0.5)" d="M291 1427h0m6 0h0m35-1h0m2 1h0m0-2h0m20 9h0m-3-4h0m-4 0h0m-1 9h0m-7 0h0m-3-5h0m-8-2h0m-5 2h0m-2-4h0m-3-1h0m-1 2h0m-16 7h0m-5-2h0m0-8h0m0 1h0m-4 1h0m-10 2h0m-2 7h0m-3-4h0m-3 4h0m-8-4h0m-4 0h0m-1 1h0m-9 11h0m9-1h0m7 2h0m2 1h0m1 1h0m1 1h0m3 0h0m1-9h0m9 0h0m14 3h0m6 2h0m1 0h0m2-5h0m9 9h0m7-4h0m2-1h0m9-5h0m12 4h0m-2 10h0m-9-2h0m0 6h0m-2-2h0m-4 1h0m-1-2h0m-2 4h0m-3-4h0m-2 5h0m-9-4h0m-3-5h0m-2 5h0m-5-2h0m-6-1h0m-2 5h0m-7-2h0m-11-1h0m-5 4h0m-3-7h0m-9 9h0m-8-4h0m-10 1h0m0 1h0m-7 3h0m-2 12h0m16-7h0m9 2h0m1-1h0m8-5h0m7 8h0m1-1h0m4-4h0m1 3h0m3-3h0m5 3h0m4 3h0m1-6h0m0 3h0m5 3h0m5 2h0m3-11h0m5 11h0m6-9h0m-12 15h0m-3 1h0m-10 5h0m-10-11h0m0 6h0m-3-2h0m-14 7h0m-10-2h0m-18-9h0m9 18h0m2 0h0m5-5h0m2 6h0m7 1h0m19-2h0m1-4h0m1 2h0m4 2h0m6 1h0m5-6h0m-21 11h0m-1 1h0m-10 9h0" stroke="#7303a7" stroke-width="8.00" stroke-linecap="round" fill="none" />
<path transform="scale(0.5)" d="M329 1424h0m23 0h0m-33 10h0m-25-5h0m-17 0h0m-9 0h0m-7 4h0m-5 4h0m22 10h0m41-1h0m10-2h0m1 2h0m9 0h0m12-1h0m-25 15h0m-20-5h0m-16 3h0m-38 2h0m-11-6h0m-2 8h0m-7 8h0m4 1h0m3 3h0m11-3h0m36 1h0m12-8h0m3 20h0m-7-5h0m-35 0h0m-23 7h0m16 2h0m15 11h0m1-4h0m5-6h0m2 17h0m-1 5h0m-12-6h0m-2 5h0m20 2h0" stroke="#7c06a6" stroke-width="8.00" stroke-linecap="round" fill="none" />
<path transform="scale(0.5)" d="M315 1437h0m-46-7h0m47 18h0m15 0h0m-28 9h0m-34-2h0m-18 12h0m15 17h0m-12-3h0m8 10h0m-5 9h0" stroke="#860aa5" stroke-width="8.00" stroke-linecap="round" fill="none" />
<path transform="scale(0.5)" d="M254 1466h0m30 6h0" stroke="#8f0da4" stroke-width="8.00" stroke-linecap="round" fill="none" />
<path transform="scale(0.5)" d="M269 1413h0m71 11h0" stroke="#98149f" stroke-width="8.00" stroke-linecap="round" fill="none" />
<path transform="scale(0.5)" d="M259 1332h0m0 69h0m8-8h0m-37 87h0m32 51h0m34 30h0m-60 22h0" stroke="#a01b9a" stroke-width="8.00" stroke-linecap="round" fill="none" />
<path transform="scale(0.5)" d="M261 1306h0m-9 16h0m5 2h0m4-1h0m-9 27h0m2 5h0m-6 3h0m11 19h0m3 5h0m3 17h0m3 11h0m-1-5h0m-4 17h0m71 19h0m-112 51h0m15-4h0m15 18h0m-12 3h0m-9 2h0m-9-4h0m-1 4h0m-2-6h0m-10 12h0m3-5h0m3 11h0m22 0h0m5-1h0m20-6h0m12 1h0m14 1h0m-1 11h0m-26 6h0m-44-10h0m16 12h0m45-1h0m1 21h0m0 0h0m-3-9h0m-13 0h0m-7 7h0m-41 3h0m14 11h0m61-8h0m0 8h0m1-4h0m5 1h0m-16 6h0m-16 9h0m-17 1h0m-10-4h0m8 7h0m50 1h0m-16 10h0" stroke="#a82395" stroke-width="8.00" stroke-linecap="round" fill="none" />
<path transform="scale(0.5)" d="M254 1303h0m5 6h0m-8 34h0m11 17h0m-6-4h0m-7 1h0m5 21h0m8 9h0m-8 8h0m6 1h0m6-2h0m-9 19h0m71 22h0m-68-7h0m-46 34h0m-22 0h0m14 10h0m128 15h0m0-2h0m-1-4h0m-103 3h0m-1-1h0m-6 3h0m-19 1h0m-9 0h0m-8-8h0m7 9h0m6 2h0m18 4h0m26 3h0m0 1h0m86 8h0m-81-5h0m-2 2h0m-8-3h0m-8 4h0m-3-4h0m-5 0h0m-1 9h0m-2 1h0m-7-6h0m-21 0h0m28 11h0m8-2h0m2 3h0m2 5h0m1-4h0m10-5h0m4 5h0m9 6h0m0 0h0m3-4h0m1-7h0m6 9h0m13-3h0m4-1h0m3 0h0m1-2h0m0 4h0m3 1h0m6 2h0m19-6h0m-5 14h0m-20 5h0m0-8h0m-20 0h0m-8 0h0m-6 7h0m-44-4h0m0 5h0m5 1h0m16 0h0m4 7h0m2 2h0m9-7h0m9 7h0m0 1h0m6-8h0m5 0h0m2 0h0m12 4h0m7 3h0m2 1h0m46-1h0m-45 9h0m-7 0h0m-11-2h0m-5 4h0m-5-8h0m-5 1h0m-1 10h0m-2-4h0m-1 3h0m-10-3h0m-11-2h0m-8 5h0m-9-5h0m-1 13h0m2-6h0m12 11h0m0-2h0m3-9h0m1 9h0m10-9h0m0 6h0m4-3h0m12-1h0m6 7h0m1 0h0m5-3h0m0 4h0m13-3h0m5 3h0m-6 3h0m-2 3h0m-4 7h0m-2-7h0m-8 3h0m-2 0h0m-27-7h0m-1 5h0m-19-3h0m27 11h0m4 0h0m8 9h0m4 1h0m2-4h0m0 0h0m12 3h0m13-4h0m4-5h0m4-1h0m-45 14h0" stroke="#b12a90" stroke-width="8.00" stroke-linecap="round" fill="none" />
<path transform="scale(0.5)" d="M250 1299h0m6 20h0m-6-5h0m0-6h0m-3 10h0m7 18h0m9 29h0m-4-3h0m-5-1h0m-3 2h0m-1 8h0m13 9h0m-7 4h0m-3 5h0m-2 5h0m14 17h0m-5 1h0m0-6h0m-9 1h0m-3 2h0m13 15h0m80 0h0m-86 11h0m-3-2h0m-52 18h0m18 0h0m21-10h0m5-1h0m-37 18h0m-14 17h0m4-11h0m155 8h0m-151 4h0m-8 7h0m6 13h0m21-8h0m2 6h0m7 2h0m18 3h0m58-7h0m1-2h0m2 5h0m14-6h0m11 6h0m-12 10h0m-1 4h0m-6-5h0m-72 0h0m-3 6h0m-8-7h0m-8 2h0m-1-4h0m-3 0h0m-3 5h0m-1 1h0m-1 3h0m-3-1h0m-2 7h0m5 2h0m7 1h0m7-6h0m4 9h0m10-4h0m11-6h0m23 7h0m2-2h0m6-1h0m4-1h0m6 8h0m0-2h0m20 2h0m11-3h0m10-4h0m-14 12h0m0 1h0m-34 3h0m-5-2h0m-7 4h0m-8-3h0m-1 0h0m0-3h0m-7-2h0m-2 9h0m0-10h0m-5 10h0m-9-4h0m-1-6h0m-5 9h0m-1 1h0m-25-11h0m16 20h0m3 1h0m1-4h0m2 5h0m1-2h0m3 3h0m4 0h0m1-8h0m6 5h0m7 3h0m1-11h0m5 2h0m0 7h0m13-7h0m10 0h0m1 4h0m0-1h0m1-4h0m4 2h0m3-2h0m4 9h0m1-1h0m1-8h0m33 16h0m-4 1h0m-1-5h0m0 0h0m-29 5h0m-6 1h0m-12 3h0m-4-5h0m-6-3h0m-3-2h0m-2 10h0m-16-1h0m-1-3h0m-12 5h0m-2-9h0m-3 4h0m0-4h0m-3 9h0m-8-11h0m-2 22h0m22-10h0m16 10h0m6-6h0m1 4h0m9-2h0m5 4h0m2-9h0m2 10h0m1-11h0m4 3h0m11 3h0m1-2h0m23-3h0m-32 16h0m-2 3h0m-7-2h0m-1-6h0m-3 11h0m-7 0h0m-14-5h0m-3 1h0m-6 1h0m-2-4h0m0 0h0m-6 1h0m-8 2h0m-3-7h0m-3 7h0m13 8h0m10 0h0m1 1h0m10-2h0m2-1h0m2 5h0m2 0h0m2-5h0m1 10h0m3-5h0m3-3h0m3 2h0m2 3h0m0-4h0m0-2h0m3 2h0m2 0h0m6-2h0m5-2h0m-23 13h0m-9 1h0m-10-1h0" stroke="#b8318a" stroke-width="8.00" stroke-linecap="round" fill="none" />
<path transform="scale(0.5)" d="M246 1300h0m7 2h0m-6 17h0m-1-1h0m6 13h0m5-5h0m-8 10h0m-41 6h0m32 2h0m17 3h0m0 3h0m1 8h0m-4 6h0m-8 1h0m-3-6h0m-4-1h0m-1 14h0m3-3h0m-1 14h0m10 12h0m-24 27h0m19 1h0m1 0h0m6-7h0m11 5h0m76 1h0m7 1h0m-7 8h0m-7 6h0m-1 2h0m-7-9h0m-2 2h0m-5-3h0m-63-1h0m-5 5h0m-3 5h0m-23-6h0m-8-1h0m-2 7h0m-15-1h0m-11 11h0m4 2h0m1-2h0m16-3h0m42-5h0m87 4h0m2-1h0m-136 20h0m-10-7h0m7 14h0m1 1h0m6-3h0m0 4h0m3 1h0m3-5h0m1 1h0m115 6h0m6-5h0m3 2h0m2-4h0m0 19h0m-7 0h0m-6-9h0m-4 0h0m-6 7h0m-88-3h0m-26 0h0m-14-1h0m-4 8h0m45 5h0m88-5h0m6 5h0m3 2h0m2-4h0m1 1h0m12 1h0m2 16h0m-11-7h0m-16 0h0m0 0h0m-1 5h0m-4-6h0m-73-1h0m-13 10h0m-35-8h0m26 20h0m10-6h0m17-2h0m0 8h0m14-8h0m21 1h0m2 2h0m26 0h0m19-4h0m8 8h0m0-4h0m6 3h0m-1 5h0m-4-2h0m-7 3h0m-7 8h0m-25-5h0m-10 0h0m-13 1h0m-16-5h0m-2 8h0m-5-7h0m-20 0h0m-9 4h0m-9 16h0m21-4h0m2-1h0m5-3h0m26 1h0m13-4h0m3 4h0m3-2h0m8 6h0m20-6h0m2 7h0m13-1h0m3 13h0m-2-6h0m-10 1h0m-23-4h0m-2 8h0m-2 1h0m-6-6h0m-6-3h0m-24 10h0m-10-6h0m-4 3h0m-1-2h0m-1 1h0m-2 0h0m-22 4h0m14 13h0m2-10h0m1 2h0m9 3h0m1 5h0m5-8h0m13 1h0m1-2h0m31 9h0m1-8h0m0 11h0m-15 2h0m-22-3h0m-13 1h0m-5 0h0m-2 5h0m-4-5h0m-6 1h0m14 10h0m0 4h0m1-5h0m16 5h0m1 2h0m20 4h0m3-11h0m1 8h0m-11 6h0m-14-2h0m-4 4h0m0-1h0m-4-3h0" stroke="#be3884" stroke-width="8.00" stroke-linecap="round" fill="none" />
<path transform="scale(0.5)" d="M244 1303h0m0-2h0m3 5h0m6-4h0m-8 12h0m-1 7h0m0-1h0m0 9h0m12 12h0m-1 2h0m-3-7h0m0 3h0m-4-5h0m-3 9h0m-5-7h0m-4-4h0m-30 7h0m-10-3h0m-32 14h0m7 2h0m7-5h0m2-3h0m6 7h0m12 1h0m25-5h0m17 0h0m2-2h0m3-1h0m15 9h0m-17 14h0m-28-8h0m-21 2h0m35 17h0m11 1h0m9-3h0m2-4h0m-5 15h0m-41-4h0m-21 6h0m2 12h0m5-5h0m8-1h0m5 0h0m16 0h0m8 7h0m15-2h0m-24 4h0m-6 8h0m-27-8h0m12 15h0m19-3h0m22 6h0m99 4h0m-2 13h0m-2 0h0m-85-9h0m-4 4h0m-5 1h0m-1-3h0m-5 4h0m-9-5h0m-6 6h0m-11 1h0m-4-3h0m-5 12h0m4 1h0m9-2h0m25-6h0m101 2h0m0-2h0m4 4h0m-140 16h0m-1 3h0m-5-10h0m-2 1h0m-3-2h0m-4 3h0m-1 3h0m8 13h0m6-6h0m2 0h0m9 8h0m130 0h0m0 1h0m0 2h0m-15 8h0m-120-4h0m0-3h0m-1 1h0m114 13h0m11 3h0m7 0h0m4-5h0m-3 18h0m-1 2h0m-5-8h0m-2 10h0m-9-2h0m-8-5h0m-4-2h0m-3 1h0m-87 8h0m-5-4h0m-5 5h0m9 11h0m2-11h0m15 9h0m17-2h0m51 1h0m5 2h0m9-5h0m11-2h0m6 8h0m3-6h0m3-3h0m0-2h0m7 7h0m9 0h0m-11 6h0m-11 10h0m-1-7h0m-3 1h0m-16 3h0m0 2h0m-9 0h0m-1 1h0m-13-5h0m-2 4h0m-5-1h0m-41 1h0m-9 1h0m-3-7h0m-3 4h0m30 14h0m19-7h0m18-1h0m11 7h0m13-3h0m0 0h0m1 2h0m6-3h0m4-2h0m1 5h0m2 1h0m12 4h0m-4 3h0m0 3h0m0-3h0m-14 0h0m-3 3h0m0-6h0m-31 7h0m-20 2h0m-40 0h0m37 2h0m18 9h0m-1 13h0m-11-3h0m-6-7h0m-17 6h0m-21 8h0m28-1h0m1 8h0m-2 5h0" stroke="#c5407e" stroke-width="8.00" stroke-linecap="round" fill="none" />
<path transform="scale(0.5)" d="M250 1298h0m-3 15h0m-54 16h0m3 0h0m31 1h0m2-4h0m12 0h0m-4 17h0m-14-10h0m-35 10h0m-21 10h0m10 2h0m5-8h0m39-3h0m5 11h0m4-8h0m4 4h0m2-3h0m6-4h0m4 7h0m2 7h0m-3 3h0m-2 0h0m-2 4h0m-8 1h0m-4-5h0m-1-1h0m-40-2h0m-7 13h0m21 0h0m9-1h0m10 2h0m9 2h0m7 0h0m2 2h0m1-6h0m11 16h0m-4-4h0m-18 4h0m-20-6h0m-15 4h0m-2 4h0m-1-6h0m0 5h0m-3 4h0m-4-2h0m0 7h0m3-2h0m10 3h0m8 3h0m8-8h0m6 4h0m7 1h0m14 3h0m5 4h0m-2 2h0m-2 9h0m-5-2h0m-10-6h0m-1 8h0m-12-3h0m-3-3h0m-4 6h0m-16-5h0m-3 3h0m-2 0h0m0 3h0m30 8h0m5-2h0m4-6h0m7 6h0m10-2h0m1 2h0m96 5h0m10-4h0m3-7h0m-3 17h0m-7 5h0m-103 0h0m-1-6h0m-13 2h0m-10 2h0m-6 2h0m-3-1h0m-10 8h0m11-5h0m3 11h0m10-11h0m0 9h0m13-9h0m1 3h0m116-3h0m2 9h0m3-9h0m-7 22h0m-141-9h0m3 21h0m120-4h0m28 12h0m-18-4h0m0-2h0m-4 2h0m-2 9h0m-25 1h0m2 0h0m11 2h0m1-1h0m0-1h0m7 1h0m14 6h0m11-2h0m-14 10h0m-2-3h0m-11 6h0m-3-2h0m-14 19h0m32-8h0m1 4h0m5 7h0m-10-2h0m-3 2h0m-3 7h0m-15-1h0m-11-6h0m-90 6h0m42 12h0m81-2h0m3 12h0m0 2h0m-2-1h0m-12 4h0m-20-10h0m-48 14h0m62-1h0m2-1h0m18-1h0" stroke="#cc4778" stroke-width="8.00" stroke-linecap="round" fill="none" />
<path transform="scale(0.5)" d="M200 1329h0m14-3h0m12 0h0m1 5h0m7-3h0m1-5h0m15 4h0m-25 5h0m-18 6h0m-6-1h0m-15 3h0m0-5h0m-3-1h0m-8 9h0m10 3h0m15 9h0m1-4h0m4-2h0m1 6h0m7-3h0m17 1h0m3-4h0m6-3h0m6 19h0m-7-9h0m-1 4h0m-27-1h0m-1 6h0m-6-2h0m-6 3h0m-4-1h0m-3-5h0m-7 2h0m1 9h0m2 4h0m1-5h0m2 6h0m13-4h0m5 1h0m4 2h0m9-6h0m5 3h0m21 16h0m-13 2h0m-6-6h0m-21 5h0m-3-2h0m-2-6h0m-14 1h0m-2 1h0m-2 1h0m1 13h0m4 5h0m2-10h0m25 11h0m7-1h0m1-2h0m9-7h0m4 4h0m4 7h0m-4 11h0m-20-6h0m-6 1h0m-20 14h0m7 0h0m9-8h0m11 11h0m4-9h0m12 9h0m4-7h0m104 0h0m15 15h0m-133 4h0m-2-10h0m-5 8h0m-10-5h0m0-4h0m19 19h0m8-7h0m116 0h0m4 20h0m-149 10h0m126 3h0m4-5h0m8 0h0m4 7h0m9-5h0m-2 13h0m-7 3h0m-7-7h0m-2 12h0m19 0h0m-2 18h0m-5 1h0m-3-2h0m-1 12h0m5-7h0m4 12h0m-44 12h0m36 8h0m9 2h0m-3 3h0m-1 2h0m-2 2h0" stroke="#d14e72" stroke-width="8.00" stroke-linecap="round" fill="none" />
<path transform="scale(0.5)" d="M248 1298h0m-31 33h0m5 0h0m3 0h0m6-6h0m6 15h0m-11-8h0m-3 7h0m-3 1h0m-27 3h0m-8-1h0m-17 8h0m3-4h0m12 5h0m1-4h0m27 6h0m3-8h0m1 10h0m17-4h0m-30 15h0m0-5h0m-6-4h0m-14-1h0m-3 11h0m-2-10h0m4 14h0m20 3h0m21 3h0m9 8h0m-21 2h0m2 8h0m11-2h0m18 4h0m-7 15h0m-7-8h0m-7 3h0m-11 1h0m-3 6h0m-14-7h0m-3 12h0m4 3h0m158 1h0m-163 27h0m44-8h0m114-1h0m11 4h0m3 6h0m-6 7h0m0 5h0m-6-3h0m-2 13h0m6 0h0m0-7h0m3-2h0m4 4h0m4 19h0m-9-8h0m-2-1h0m-5 8h0m-2 2h0m12 9h0m2 5h0m-7 7h0m-10-5h0m-39 9h0m52 1h0m-7 16h0m-8 6h0m12 15h0" stroke="#d6566d" stroke-width="8.00" stroke-linecap="round" fill="none" />
<path transform="scale(0.5)" d="M236 1324h0m-6 12h0m-50 4h0m44 13h0m17-9h0m-44 36h0m-14 7h0m10 6h0m9 17h0m26 12h0m121 3h0m6-6h0m4 18h0m-2-6h0m-2-3h0m-7 2h0m12 21h0m1-8h0m5-2h0m-3 15h0m-1-1h0m-6 0h0m3 18h0m0 13h0m-11 4h0m5 0h0m1 0h0m5 19h0m-1-2h0m-4-6h0m-4 0h0m4 17h0m5 1h0m4-5h0m-2 20h0m-13-10h0m2 19h0m2-7h0m2 7h0m2-5h0" stroke="#dc5d68" stroke-width="8.00" stroke-linecap="round" fill="none" />
<path transform="scale(0.5)" d="M361 1415h0m-4 9h0m5-5h0m1-2h0m-5 20h0m-2 8h0m2 2h0m10 1h0m7 5h0m-7 9h0m-15 8h0m23-3h0m-12 20h0m-16-8h0m14 10h0m0 1h0m3 0h0m0 9h0m5 8h0m-16 3h0m-1 3h0m4 9h0m6-5h0m3 12h0m-6-3h0m-1 5h0m-6 4h0m4 11h0" stroke="#e16462" stroke-width="8.00" stroke-linecap="round" fill="none" />
<path transform="scale(0.5)" d="M184 1408h0m184 18h0m5 10h0m-1 2h0m-9 0h0m-5 1h0m-172-10h0m177 19h0m5 12h0m-3 2h0m-185-9h0m193 23h0m-3 7h0m-7-7h0m-3 3h0m-2-2h0m-2 14h0m20 12h0m-16 1h0m-3 5h0m5 9h0m10-4h0m-10 26h0" stroke="#e56c5c" stroke-width="8.00" stroke-linecap="round" fill="none" />
<path transform="scale(0.5)" d="M174 1374h0m4 4h0m-6 7h0m-2 6h0m9 4h0m0 6h0m3 2h0m-4 8h0m3 16h0m2-11h0m1 18h0m-4 4h0m0-9h0m190 17h0m2 5h0m5 9h0m-4 2h0m0 1h0m-2-2h0m-11-4h0m-181-3h0m188 19h0m5-9h0m7 16h0m-5 0h0m-12 12h0m5 6h0m3-4h0m1 2h0m5 2h0m-9 16h0m-4 24h0" stroke="#ea7456" stroke-width="8.00" stroke-linecap="round" fill="none" />
<path transform="scale(0.5)" d="M166 1355h0m9 11h0m-3-2h0m3 14h0m1 1h0m5 7h0m-2 1h0m-2-7h0m-3 10h0m-3 1h0m-4-11h0m-17 15h0m2-2h0m6 7h0m0 2h0m6-3h0m8 2h0m9-8h0m1 7h0m2 13h0m-7-2h0m-8-7h0m0 3h0m3 15h0m0-2h0m1-4h0m10 8h0m-9 7h0m-3 3h0m-28 15h0m11-9h0m12 6h0m3 5h0m8-11h0m2 4h0m2-4h0m192 8h0m1-8h0m-198 22h0m-5-2h0m-2 0h0m-2 7h0m2 1h0m1-1h0m9-2h0m194 17h0m-200-4h0m-3 6h0m-3 3h0m206 9h0m1 18h0" stroke="#ee7c51" stroke-width="8.00" stroke-linecap="round" fill="none" />
<path transform="scale(0.5)" d="M162 1355h0m2 12h0m-1-8h0m-14 3h0m-18 2h0m31 9h0m1-5h0m2 7h0m2-5h0m5 6h0m0 0h0m5 0h0m-7 14h0m-7 6h0m11-3h0m7 5h0m2 1h0m-1 12h0m-10-5h0m-8-1h0m-1 8h0m-1-5h0m0-2h0m-25 1h0m17 20h0m2-9h0m10 7h0m13-7h0m-1 18h0m0-1h0m-5-2h0m-7 0h0m-2-4h0m-2 7h0m-5 1h0m-4-9h0m-9 20h0m0 2h0m1-3h0m4-4h0m4 3h0m0 5h0m9-2h0m9-6h0m8 3h0m196 2h0m-207 4h0m0 10h0m-1 1h0m-8-8h0m-11-3h0m-5 5h0m19 15h0m7-7h0m2 2h0m7 2h0m2-3h0m1-2h0m-17 19h0m-1 4h0m-15-4h0m224 16h0" stroke="#f2844b" stroke-width="8.00" stroke-linecap="round" fill="none" />
<path transform="scale(0.5)" d="M149 1354h0m23 11h0m-13 0h0m-3-5h0m0-1h0m-9 1h0m-15 7h0m-10 10h0m16-4h0m6 4h0m1-1h0m14-4h0m3 1h0m3-3h0m6 5h0m-4 13h0m-3-6h0m-2 7h0m-10-6h0m-5-1h0m-6 1h0m-10 18h0m12-8h0m0 7h0m2-1h0m3-3h0m32 6h0m1 2h0m-9 11h0m-1-1h0m-8-1h0m-6 2h0m-6-5h0m0 4h0m-6-5h0m-6-2h0m-4 7h0m3 8h0m3-4h0m9 5h0m7-4h0m1 1h0m5-2h0m4-1h0m1 2h0m3 4h0m2 6h0m-4 4h0m-3-5h0m-4 11h0m-13-8h0m-2 1h0m-13 4h0m-9-6h0m7 12h0m10-2h0m8 1h0m1 6h0m1 1h0m7 1h0m7 0h0m10-7h0m-4 10h0m-6 9h0m-3-6h0m-14 2h0m-6 4h0m-9 1h0m1 4h0m15-1h0m3 0h0m12 2h0m2-2h0m5 1h0m-3 17h0m-9 2h0m-2 1h0m-1-3h0m0 0h0m-1-6h0m-5 6h0m-10 3h0m-11 1h0m7 3h0m0 2h0m6 3h0m7-7h0m2 6h0m2-5h0" stroke="#f48c46" stroke-width="8.00" stroke-linecap="round" fill="none" />
<path transform="scale(0.5)" d="M154 1366h0m-6-5h0m-2-1h0m-1 3h0m-1-1h0m0 5h0m-1-8h0m-6 4h0m-2-1h0m-10-2h0m3 12h0m0-3h0m3 9h0m1-3h0m0 0h0m3-2h0m0 5h0m5 0h0m9-3h0m5-1h0m1 2h0m11-3h0m-2 10h0m-14 0h0m0 2h0m-5-5h0m-4 8h0m-1-6h0m-14 10h0m3 0h0m2 1h0m2-1h0m6 7h0m2 2h0m8-6h0m9 6h0m-1 8h0m-10 4h0m-3-8h0m-5 1h0m-3-1h0m-25 18h0m13 2h0m7 0h0m12-2h0m13-5h0m2-1h0m6-1h0m3 22h0m-8 1h0m-5-2h0m0-2h0m-6-2h0m-2 6h0m-2 0h0m-2-4h0m-1-6h0m-1 3h0m-2 3h0m-5-5h0m-6 3h0m-2 1h0m-3-6h0m-1 6h0m5 9h0m3-2h0m3 8h0m5-7h0m1 6h0m4 0h0m2-1h0m12-4h0m18 19h0m-15-2h0m-9-6h0m-6 2h0m-2 3h0m-3-4h0m-3 1h0m-4 2h0m-2-3h0m0-2h0m-10 22h0m11-4h0m1-3h0m1-4h0m1 8h0m2-7h0m2 2h0m8 8h0m5-4h0m2-3h0m4 6h0m10-2h0m-10 15h0m-12 0h0m-1 0h0m-8-1h0m-1 0h0m-2 1h0m-4-11h0m-1 5h0m-8 10h0m6 3h0m3-2h0m3-1h0m26-2h0m6 2h0" stroke="#f79540" stroke-width="8.00" stroke-linecap="round" fill="none" />
<path transform="scale(0.5)" d="M142 1354h0m15 10h0m-10-4h0m-7-1h0m-7 0h0m-14 13h0m5-1h0m1 5h0m4-8h0m3 9h0m10 14h0m0-1h0m-12-3h0m-3-6h0m-7 1h0m0 7h0m-3-8h0m0 1h0m0 8h0m-2-6h0m-10 19h0m16-5h0m3-4h0m0 0h0m2 7h0m3-8h0m13 10h0m1 0h0m1 3h0m-5 8h0m-2-5h0m-14-5h0m-14 8h0m-7 4h0m7 1h0m18 6h0m3-5h0m5 5h0m2-4h0m3 3h0m2 1h0m3-6h0m4 8h0m-1 11h0m-12-2h0m0-2h0m-4 1h0m-3-4h0m-8 7h0m-4-8h0m-9 6h0m-12 11h0m22 3h0m8-4h0m19 2h0m2-1h0m11 3h0m-7 7h0m-1-2h0m-20 1h0m-6 3h0m-3-4h0m-10 13h0m4 1h0m8 8h0m0-7h0m5-4h0m10 8h0m2-7h0m0 20h0m-4 1h0m-1-6h0m-1 1h0m-9-2h0m-2 3h0m-2-4h0m-2 7h0m0-2h0m-2 2h0m0-3h0m2 6h0m4 1h0m2 0h0m2 0h0m0 0h0m2 7h0m6-7h0m2 3h0m1-1h0m3 7h0" stroke="#fa9e3b" stroke-width="8.00" stroke-linecap="round" fill="none" />
<path transform="scale(0.5)" d="M112 1376h0m3-6h0m13 5h0m18-7h0m-18 13h0m-17 9h0m-3-4h0m-2 9h0m9 6h0m8-2h0m4-5h0m6 9h0m-4 2h0m-10-1h0m0 9h0m-1-4h0m-2 6h0m-1-3h0m-1-7h0m-3-1h0m-5 5h0m-7 5h0m-5 13h0m2-2h0m3-5h0m9-4h0m2 11h0m4-7h0m22 16h0m-20 3h0m-9-1h0m-1-1h0m-1 0h0m-2-3h0m-12 11h0m2-5h0m2 2h0m2-2h0m0 0h0m5 4h0m11 3h0m5 4h0m3-10h0m0 1h0m2 4h0m9 12h0m-15 3h0m-1-4h0m-4 1h0m-10-6h0m8 14h0m7 2h0m3 6h0m1-8h0m3 4h0m12-2h0m3 7h0m15 5h0m-27 0h0m-5 5h0m-3-3h0" stroke="#fca636" stroke-width="8.00" stroke-linecap="round" fill="none" />
<path transform="scale(0.5)" d="M126 1379h0m-22 23h0m5-4h0m2 1h0m12 6h0m-7 7h0m-10 2h0m-3 11h0m1-1h0m2-8h0m1 9h0m14 1h0m3 1h0m-15 12h0m-15-6h0m-6 14h0m1-4h0m1 1h0m6 6h0m0-2h0m8 0h0m2-3h0m8 1h0m4 1h0m-2 6h0m-2 2h0m-5-3h0m-4 3h0m-6-3h0m-2 6h0m-1-5h0m-6-1h0m18 20h0m1 2h0m18-7h0" stroke="#fcb032" stroke-width="8.00" stroke-linecap="round" fill="none" />
<path transform="scale(0.5)" d="M124 1401h0m-14 13h0m-6-6h0m-11 18h0m7 1h0m2-5h0m-3 13h0m-2 0h0m2 9h0m1 3h0m6 5h0m-3 6h0m-2 10h0" stroke="#fcba2e" stroke-width="8.00" stroke-linecap="round" fill="none" />
<path transform="scale(0.5)" d="M113 1432h0" stroke="#fcc429" stroke-width="8.00" stroke-linecap="round" fill="none" />
<path transform="scale(0.5)" d="M200 1560h0" stroke="#f9d924" stroke-width="8.00" stroke-linecap="round" fill="none" />
<path transform="scale(0.5)" d="M173 1509h0m-18-3h0m0-2h0m-16-2h0m-24 15h0m13-1h0m29 3h0m11-3h0m18 2h0m2 7h0m0 6h0m-46 1h0m-1-4h0m-4 7h0m-11-2h0m-9-9h0m18 21h0m18-8h0m1 2h0m0 8h0m3-2h0m24-3h0m1 1h0m6 2h0m5 0h0m4 13h0m-34-2h0m-12 3h0m-5 0h0m-2 0h0m-4-1h0m-1-8h0m-17 16h0m16-3h0m1 2h0m4 6h0m19-11h0m16 11h0m18 4h0m-2-2h0m-3 1h0m-4 5h0m-27-5h0m0 3h0m-1 2h0" stroke="#f6e323" stroke-width="8.00" stroke-linecap="round" fill="none" />
<path transform="scale(0.5)" d="M171 1510h0m-2-4h0m-1 5h0m-2-5h0m-5 4h0m-1-5h0m0-4h0m-1 3h0m0 3h0m-6-7h0m-3 11h0m-4-7h0m-1 1h0m0 3h0m-1-5h0m-3-2h0m-3 7h0m-6-3h0m-6 0h0m-8 16h0m2-7h0m5 3h0m1 2h0m4-5h0m4 2h0m3 6h0m7-2h0m2-6h0m1 5h0m1-5h0m0 7h0m1-7h0m0 6h0m1 1h0m2 1h0m6 1h0m1-6h0m1-5h0m2 3h0m1 0h0m0 5h0m0-6h0m0 3h0m2 1h0m1-6h0m1 11h0m6-6h0m2-4h0m0 0h0m14 4h0m7 13h0m-2-4h0m-2 2h0m-8-3h0m-2 6h0m-2-6h0m0 9h0m-4 0h0m-1-9h0m-1 7h0m-4-1h0m-1 2h0m-1-3h0m0 4h0m-5-7h0m-7-2h0m-8-1h0m-4 1h0m-2 4h0m-2-4h0m0 8h0m-3 0h0m-5 2h0m-2-4h0m-12-4h0m-4 4h0m2 8h0m2 5h0m1-6h0m2 9h0m3 0h0m1-10h0m1 2h0m4 4h0m1-5h0m0 5h0m4-3h0m2 4h0m3-2h0m1-1h0m10 6h0m0-4h0m3 2h0m2-7h0m2 6h0m7-1h0m4-2h0m2 2h0m6-1h0m4-5h0m4 5h0m6-6h0m1 1h0m0 3h0m3-2h0m4 3h0m0-1h0m3 16h0m-6-7h0m-5 9h0m0-1h0m-1 2h0m-1-7h0m-10 2h0m-1-4h0m-9 8h0m-1 1h0m-4-2h0m-1-4h0m-3 3h0m-1-5h0m-11 6h0m0-6h0m-2 6h0m-2-8h0m-2 1h0m-1 9h0m-1-7h0m-2 6h0m0 1h0m-3-3h0m-3 0h0m-2-5h0m-6-3h0m0 9h0m-2 2h0m0-3h0m6 8h0m1-4h0m2 7h0m2 1h0m3 2h0m5-10h0m4 7h0m1 4h0m7-3h0m5 0h0m0-7h0m6 2h0m3 2h0m1 1h0m2 1h0m2-4h0m10-3h0m2 8h0m6 0h0m0-3h0m3 1h0m7-5h0m-8 19h0m-3-7h0m-2 10h0m-1 0h0m-1-10h0m0 0h0m-2 1h0m-1 2h0m-2-3h0m-2 5h0m0-6h0m-1 2h0m-2 8h0m-4-5h0m0 0h0m-1 0h0m-2 0h0m-1-5h0m-3 2h0m-4-2h0m0 8h0m-2-2h0m-1-5h0m-5 10h0m0-4h0m-1 4h0m-2-10h0m-1 9h0m-1-10h0m0 1h0m-1 3h0m-2 2h0m-1-4h0m-10-1h0m-2 0h0m38 12h0m13 1h0m2-2h0" stroke="#f3ee22" stroke-width="8.00" stroke-linecap="round" fill="none" />
<path transform="scale(0.5)" d="M164 1511h0m-39-5h0m5 10h0m51 6h0m7 13h0m-16 8h0m10-4h0m5-1h0m9 20h0m-9-8h0m-6 5h0m-3 0h0m-15-7h0m-17 4h0m-22 14h0m38 12h0m-4 1h0" stroke="#f0f921" stroke-width="8.00" stroke-linecap="round" fill="none" />
<path transform="scale(0.5)" d="M242 1299h0m3 4h0m10-1h0m6 4h0m23 13h0m-4-6h0m0 2h0m-13 2h0m0 1h0m-3-1h0m0 1h0m-3-1h0m-13 2h0m-46 10h0m15 2h0m8-2h0m1 2h0m3-7h0m12 2h0m8 3h0m14-7h0m1 3h0m8 3h0m2 0h0m0-5h0m6 6h0m3 1h0m0-7h0m5 8h0m3 8h0m-8 1h0m-10-8h0m-5 10h0m-6-9h0m-10 10h0m-1-4h0m-5 4h0m-4 0h0m0-1h0m-11-8h0m-9 0h0m-3 7h0m-10-5h0m-1 4h0m-1 0h0m-25-5h0m-7 6h0m-25 12h0m19-3h0m8-3h0m1-3h0m0 9h0m5-7h0m0 3h0m2-3h0m8-1h0m13 3h0m10 6h0m13-1h0m2-5h0m4 0h0m4-4h0m2 4h0m1-2h0m2-1h0m11 0h0m0 9h0m1 1h0m2-4h0m3 2h0m10-4h0m1-4h0m2 1h0m5 0h0m4 4h0m1 4h0m7 6h0m-4 7h0m-1-3h0m-24-4h0m-5-3h0m-1 4h0m-10 4h0m-1-8h0m-1 2h0m-13 6h0m-3-5h0m-26 5h0m-22-9h0m-4 11h0m-4-4h0m-4-7h0m-9 11h0m-1-7h0m-2 3h0m-7-1h0m-9-6h0m-21 18h0m6 4h0m1-7h0m2 3h0m5 4h0m1-3h0m6 2h0m6-2h0m2 1h0m6 0h0m1 0h0m6-2h0m3-5h0m0 2h0m1 3h0m5 0h0m3 4h0m4 0h0m1 0h0m4-8h0m1 3h0m1 3h0m4 1h0m9 2h0m6-3h0m9 0h0m9 2h0m8-1h0m12-5h0m7 4h0m3-5h0m0 0h0m5 5h0m5 0h0m18 0h0m0-8h0m11 1h0m2 0h0m3 8h0m4 1h0m9 1h0m3-2h0m14 9h0m-5 1h0m-2 0h0m-8 3h0m-3-7h0m-6-1h0m-3 8h0m-14 0h0m-3-2h0m-6-6h0m-2 8h0m-4 1h0m-7-8h0m0 6h0m-15 0h0m-13 2h0m-6-7h0m-22-3h0m-13 6h0m-6-4h0m-8 2h0m-7 1h0m-5 3h0m-22-8h0m-1 0h0m-4-1h0m-13 0h0m-1 1h0m-6 9h0m-4-5h0m-7 13h0m13-3h0m2 8h0m0-3h0m3-5h0m5-2h0m13 7h0m1-5h0m20 5h0m4-7h0m10 10h0m3-8h0m1 6h0m2-5h0m1 6h0m3-6h0m0-3h0m8 4h0m1-1h0m7 5h0m17-8h0m7 1h0m22 1h0m8 5h0m14-6h0m16 3h0m2-1h0m4-3h0m14 8h0m10 0h0m2-6h0m8 1h0m3 7h0m3-6h0m13 11h0m-6 6h0m-1-5h0m-1 5h0m0-8h0m-3 2h0m-3 2h0m-12-1h0m-1 0h0m-1 6h0m-6-11h0m-9 11h0m-9 0h0m-2-11h0m-9 4h0m-11 3h0m-7-7h0m-1 5h0m-13 6h0m-13-8h0m-15-1h0m-3 7h0m-7-5h0m-29 5h0m-4-1h0m-1-2h0m-4 2h0m-5-7h0m-11 9h0m-10-2h0m-1 3h0m-4-5h0m-2-6h0m-1 1h0m0 0h0m-1 0h0m-3 2h0m-6 7h0m-3-8h0m-7-2h0m-17 6h0m-1-5h0m-13 20h0m0 2h0m6-8h0m2 4h0m1-5h0m3 5h0m2-7h0m5 6h0m9 5h0m12-5h0m4-4h0m7 4h0m10 5h0m1-9h0m2-1h0m0 1h0m1 0h0m5-1h0m8 4h0m8 6h0m3-9h0m1 7h0m8-2h0m5-3h0m1 3h0m17 0h0m5-6h0m6 5h0m3-1h0m3-1h0m2 6h0m1-9h0m7 4h0m0-4h0m7 8h0m7 1h0m25-5h0m3-3h0m2 4h0m4 3h0m1-8h0m3 7h0m1-8h0m0 11h0m1-2h0m6-4h0m4 2h0m3-1h0m1-4h0m9 9h0m6-4h0m1-2h0m4 3h0m4 1h0m3 2h0m3-9h0m1 4h0m11 3h0m3 1h0m10 12h0m-4-3h0m-1 2h0m-3-3h0m-6 5h0m0 0h0m-2-8h0m0 8h0m-4-7h0m-5-2h0m-4 7h0m-2 1h0m-10-10h0m0 6h0m-3-4h0m-13 1h0m-1-1h0m-6 9h0m-9-3h0m-1-8h0m-9 9h0m-13-3h0m-1-4h0m-5 3h0m-3 2h0m-9-1h0m-10-1h0m-2 4h0m0-5h0m-16 2h0m-5 2h0m-1 2h0m-2 1h0m-7 0h0m-4-4h0m-15-7h0m-5 10h0m-4-4h0m-1 1h0m-4-3h0m-1 0h0m0-2h0m-2 2h0m-6-1h0m0-2h0m-3 8h0m-3 1h0m-2 1h0m-4-2h0m-1 1h0m-1-9h0m-2 3h0m-2 7h0m-4 0h0m-3-9h0m0 3h0m-5-1h0m-2 5h0m-9-1h0m-1-7h0m-8 1h0m-5 4h0m-13 5h0m-1-4h0m-5 4h0m-5 7h0m7-2h0m6-2h0m20 5h0m1-7h0m0 11h0m6-9h0m2 1h0m10 4h0m1-3h0m4 2h0m1 1h0m5-3h0m15 4h0m14-5h0m3 2h0m4 2h0m2 2h0m10-3h0m10 4h0m16-9h0m4 7h0m5-4h0m19 2h0m10-1h0m12-5h0m8 3h0m18 8h0m0-4h0m5 1h0m11-4h0m4 4h0m8 0h0m6-1h0m4-4h0m1-2h0m0-1h0m0 4h0m3-3h0m8 1h0m10 7h0m2 0h0m0 2h0m5-2h0m7-9h0m3 8h0m3 13h0m-8 2h0m-5-4h0m-3-3h0m0 1h0m-4-5h0m-20 5h0m-5 0h0m-1-1h0m0 1h0m-8-1h0m-3 0h0m-7-3h0m-4 2h0m-1 4h0m-14 1h0m-8-3h0m-1-4h0m-6 6h0m-1-5h0m-9 0h0m-2 0h0m-3 9h0m-1-9h0m-7 7h0m-11-8h0m-5 5h0m0-4h0m-1 4h0m-34-5h0m-7 0h0m-1 10h0m-6-10h0m-1 1h0m-18 7h0m-15-2h0m-9-6h0m-5 8h0m-1-6h0m-1 1h0m-4 0h0m-6 7h0m0-5h0m-4-3h0m-13-3h0m-4 15h0m4 2h0m2 4h0m10-5h0m2 7h0m0-6h0m5-4h0m0-1h0m3 6h0m0 5h0m0-6h0m9 5h0m8 1h0m18-10h0m5 3h0m2-1h0m1-2h0m19 5h0m1-4h0m5 8h0m37-4h0m6-3h0m6 0h0m1 1h0m2 2h0m1 0h0m12 0h0m1-4h0m3 3h0m3-3h0m3 6h0m2-5h0m1 4h0m10-6h0m0 7h0m7-6h0m10 7h0m5-9h0m1 2h0m6-1h0m5 4h0m2 3h0m6-4h0m1 4h0m3-2h0m0 2h0m2 2h0m3-10h0m6 2h0m2 6h0m3-1h0m9 3h0m9 6h0m-11 6h0m-5-7h0m-7 1h0m-1-3h0m-9 10h0m0 0h0m-1-10h0m-4 9h0m-3 1h0m-1-5h0m-22-6h0m-3 1h0m-3 5h0m-11-3h0m0 4h0m-3-4h0m-5 0h0m-4 4h0m-2-4h0m-8 3h0m-6 3h0m-8-3h0m-8 3h0m-13 2h0m-7-3h0m-6 0h0m-17-7h0m-4-1h0m-11 1h0m-19 9h0m-12 0h0m-6-8h0m-13 5h0m-5 3h0m-1-5h0m-1 5h0m-4-5h0m-2-2h0m-6 7h0m0-6h0m-5 3h0m0 4h0m0-1h0m0-3h0m11 12h0m1 1h0m1-2h0m3-1h0m2-5h0m6 11h0m3-6h0m4-4h0m52-1h0m17 11h0m6-6h0m12-4h0m1-1h0m8 3h0m5 0h0m2-3h0m4 10h0m8-6h0m2-4h0m0 1h0m16 3h0m0-1h0m0-2h0m7 5h0m6 3h0m1-1h0m5-7h0m7 3h0m2 4h0m11-6h0m1-1h0m9-1h0m1 5h0m7-1h0m6 2h0m1-5h0m4 2h0m3 0h0m2 0h0m0 1h0m0-1h0m4 8h0m2-10h0m2 1h0m1 4h0m13 4h0m-1 5h0m-5-3h0m-9 5h0m-2 2h0m-4 1h0m-4 0h0m-4-1h0m-6 4h0m-1-7h0m-6-2h0m-9 5h0m-5-2h0m-5 3h0m-4-4h0m-24 6h0m-6-9h0m-3 2h0m-2-2h0m-2 10h0m-11-10h0m-2 9h0m-9-3h0m-12 0h0m0-6h0m-13 10h0m-8-2h0m-1-3h0m-2 0h0m-5 4h0m-3 1h0m-18-5h0m-25-1h0m-4 6h0m-1-9h0m-1-1h0m-14 6h0m-1-3h0m-4 3h0m-13 14h0m22-7h0m3 8h0m10-8h0m2 3h0m0 3h0m0-6h0m0-2h0m2 7h0m0 4h0m2-11h0m7 4h0m1-2h0m11 2h0m23 0h0m5 2h0m1 5h0m4-7h0m8 2h0m0-6h0m3 0h0m9 10h0m4-6h0m0 5h0m12 2h0m3-9h0m14 5h0m1 1h0m6-4h0m1-2h0m2 4h0m0-1h0m2-1h0m1-1h0m3 6h0m1-2h0m4 1h0m7-6h0m14 3h0m1 6h0m11-3h0m9-3h0m8 1h0m0 1h0m8-5h0m3-1h0m3 10h0m1-3h0m1-3h0m4-1h0m1-2h0m-4 13h0m-6 7h0m-6-7h0m-19 8h0m-8-2h0m-3-5h0m-5 2h0m-8 4h0m-2 0h0m-10-3h0m-4-4h0m-3 1h0m-4 3h0m-9 1h0m-9 0h0m-1-2h0m-4-1h0m-2-2h0m-1 7h0m-4 0h0m-2 0h0m-1-8h0m-9 7h0m-6 2h0m-15-3h0m-1-8h0m-1 0h0m-8 5h0m-17-3h0m-5 4h0m-6 5h0m-3-10h0m-4 8h0m-7-2h0m-11-7h0m-11 0h0m-4 5h0m-1 2h0m-1 2h0m-3 0h0m-20-5h0m-2 5h0m0-9h0m0 17h0m1 3h0m3-6h0m12 2h0m3 2h0m8 1h0m13 0h0m1 4h0m1-4h0m13-2h0m9 1h0m6-1h0m2-5h0m1 0h0m1 11h0m1-8h0m2-1h0m5-1h0m2 5h0m15 5h0m16-4h0m2-5h0m11 1h0m4 1h0m6 7h0m4-2h0m0 2h0m2-1h0m3-10h0m0 9h0m2-7h0m5 9h0m2-10h0m3 2h0m2 8h0m4 0h0m4-6h0m3-3h0m5 7h0m1-8h0m15 10h0m10-1h0m0-6h0m16 4h0m18 1h0m0-3h0m4-5h0m4-1h0m2 5h0m-11 10h0m-1-1h0m-7 5h0m-1-3h0m0 3h0m-1-1h0m-2 2h0m-10-6h0m-2-2h0m-10 3h0m-23 5h0m-3-2h0m-17-3h0m-2-1h0m-1 9h0m-7-10h0m-2-1h0m-5 9h0m-1 1h0m-6 0h0m-1-5h0m-5 2h0m-11-3h0m-1 0h0m-33 7h0m-2-1h0m0 1h0m-1-9h0m-6 6h0m-1-4h0m0-2h0m-10 2h0m-1 4h0m-8 2h0m-1 1h0m-5-6h0m-4 3h0m-7-8h0m-3 2h0m-3 7h0m-3 1h0m-2-1h0m-4 1h0m0-8h0m-2 9h0m-13 0h0m-1-11h0m-1 10h0m2 8h0m25 5h0m5-4h0m16-2h0m1-1h0m23 1h0m8-4h0m14-1h0m15 9h0m2-5h0m3 6h0m3 1h0m5-6h0m2-1h0m2 0h0m1 0h0m6 7h0m2 0h0m8-5h0m18 3h0m4-6h0m0 4h0m3-5h0m6-1h0m5 5h0m23-3h0m-28 20h0m-1 0h0m-3-5h0m-10-5h0m-2 2h0m0 7h0m-25-2h0m-4 3h0m-10-6h0m-2-4h0m-2 6h0m-6-7h0m-37 0h0m-6 0h0m-8 0h0m-11 11h0m-1-9h0m-2-2h0m-5 5h0m-1-3h0m-7 3h0m-5-3h0m-3 2h0m0-2h0m-3-2h0m6 12h0m6 0h0m0 0h0m85 4h0m4-3h0m17 4h0m0-1h0m0 5h0m0-7h0m3 6h0m4 0h0m6-3h0m6-1h0m5 2h0m-3 6h0m-11 0h0m-6 4h0m-7 1h0m-1 0h0m-5-4h0" stroke="#222" stroke-width="1.80" stroke-linecap="round" fill="none" />
<path d="M70.7 777.8 L67.0 769.1 L65.3 749.2 L63.3 739.3 L57.1 731.8 L60.8 721.9 L70.7 719.9 L73.2 708.3 L77.0 699.6 L85.6 695.8 L95.6 690.9 L103.0 689.6 L110.5 690.9 L111.7 699.6 L111.7 706.5 L119.1 709.0 L122.9 712.0 L125.8 719.4 L132.8 724.4 L141.5 731.3 L146.4 726.9 L150.7 721.9 L152.7 714.5 L150.7 705.0 L150.2 692.6" fill="none" stroke="#4d4d4d" stroke-width="1.9" stroke-linejoin="round"/>
<path d="M72.0 719.9 L75.2 723.9 L78.2 724.4" fill="none" stroke="#4d4d4d" stroke-width="1.9" stroke-linejoin="round"/>
<path d="M111.7 706.5 L106.0 712.0 L104.3 721.9 L110.5 733.1" fill="none" stroke="#4d4d4d" stroke-width="1.9" stroke-linejoin="round"/>
<path d="M141.5 731.3 L146.4 738.0 L150.2 743.7 L152.7 744.2 L160.1 735.6 L165.1 729.8 L171.3 728.1 L175.0 733.8 L180.5 734.8 L182.4 744.2 L178.0 754.2 L171.3 759.1 L166.3 764.1 L165.6 771.5 L158.1 774.5 L152.7 778.0 L147.7 779.0 L145.2 769.1 L145.2 759.1 L149.7 749.2 L150.2 743.7" fill="none" stroke="#4d4d4d" stroke-width="1.9" stroke-linejoin="round"/>
<circle cx="72.0" cy="719.9" r="1.90" fill="#fff" stroke="#333" stroke-width="0.8"/>
<circle cx="111.7" cy="706.5" r="1.90" fill="#fff" stroke="#333" stroke-width="0.8"/>
<circle cx="141.5" cy="731.3" r="1.90" fill="#fff" stroke="#333" stroke-width="0.8"/>
<circle cx="150.2" cy="743.7" r="1.90" fill="#fff" stroke="#333" stroke-width="0.8"/>
<circle cx="78.2" cy="724.4" r="1.90" fill="#333" stroke="#000" stroke-width="0.8"/>
<circle cx="110.5" cy="733.1" r="1.90" fill="#333" stroke="#000" stroke-width="0.8"/>
<circle cx="70.7" cy="777.8" r="1.90" fill="#333" stroke="#000" stroke-width="0.8"/>
<circle cx="150.2" cy="692.6" r="1.90" fill="#333" stroke="#000" stroke-width="0.8"/>
<line x1="36.8" y1="639.0" x2="36.8" y2="805.5" stroke="#555" stroke-width="1.0" />
<line x1="36.3" y1="805.0" x2="198.5" y2="805.0" stroke="#555" stroke-width="1.0" />
<line x1="34.0" y1="639.3" x2="36.8" y2="639.3" stroke="#555" stroke-width="0.9" />
<text x="33.0" y="639.3" text-anchor="end" dominant-baseline="central" fill="#222" style="font-size:9.4px" >20</text>
<line x1="34.0" y1="684.1" x2="36.8" y2="684.1" stroke="#555" stroke-width="0.9" />
<text x="33.0" y="684.1" text-anchor="end" dominant-baseline="central" fill="#222" style="font-size:9.4px" >10</text>
<line x1="34.0" y1="729.3" x2="36.8" y2="729.3" stroke="#555" stroke-width="0.9" />
<text x="33.0" y="729.3" text-anchor="end" dominant-baseline="central" fill="#222" style="font-size:9.4px" >0</text>
<line x1="34.0" y1="774.2" x2="36.8" y2="774.2" stroke="#555" stroke-width="0.9" />
<text x="33.0" y="774.2" text-anchor="end" dominant-baseline="central" fill="#222" style="font-size:9.4px" >−10</text>
<line x1="37.5" y1="805.0" x2="37.5" y2="807.8" stroke="#555" stroke-width="0.9" />
<text x="37.5" y="813.6" text-anchor="middle" dominant-baseline="central" fill="#222" style="font-size:9.4px" >−20</text>
<line x1="78.8" y1="805.0" x2="78.8" y2="807.8" stroke="#555" stroke-width="0.9" />
<text x="78.8" y="813.6" text-anchor="middle" dominant-baseline="central" fill="#222" style="font-size:9.4px" >−10</text>
<line x1="119.1" y1="805.0" x2="119.1" y2="807.8" stroke="#555" stroke-width="0.9" />
<text x="119.1" y="813.6" text-anchor="middle" dominant-baseline="central" fill="#222" style="font-size:9.4px" >0</text>
<line x1="159.4" y1="805.0" x2="159.4" y2="807.8" stroke="#555" stroke-width="0.9" />
<text x="159.4" y="813.6" text-anchor="middle" dominant-baseline="central" fill="#222" style="font-size:9.4px" >10</text>
<line x1="199.0" y1="805.0" x2="199.0" y2="807.8" stroke="#555" stroke-width="0.9" />
<text x="199.0" y="813.6" text-anchor="middle" dominant-baseline="central" fill="#222" style="font-size:9.4px" >20</text>
<text x="104.4" y="826.8" text-anchor="middle" dominant-baseline="central" fill="#111" style="font-size:9.6px" >UMAP 1</text>
<text x="0" y="0" transform="translate(19.3 735.6) rotate(-90)" text-anchor="middle" dominant-baseline="central" fill="#111" style="font-size:9.6px" >UMAP 2</text>
<defs><linearGradient id="gF" x1="0" y1="0" x2="0" y2="1"><stop offset="0.00" stop-color="#f0f921"/><stop offset="0.10" stop-color="#fcce25"/><stop offset="0.20" stop-color="#fca636"/><stop offset="0.30" stop-color="#f2844b"/><stop offset="0.40" stop-color="#e16462"/><stop offset="0.50" stop-color="#cc4778"/><stop offset="0.60" stop-color="#b12a90"/><stop offset="0.70" stop-color="#8f0da4"/><stop offset="0.80" stop-color="#6a00a8"/><stop offset="0.90" stop-color="#41049d"/><stop offset="1.00" stop-color="#0d0887"/></linearGradient></defs>
<rect x="198.8" y="672.4" width="7.3" height="75.0" fill="url(#gF)" />
<text x="181.5" y="661.3" dominant-baseline="central" fill="#111" style="font-size:9.75px" >Pseudotime</text>
<line x1="198.8" y1="675.0" x2="200.2" y2="675.0" stroke="#fff" stroke-width="0.6" />
<line x1="204.7" y1="675.0" x2="206.1" y2="675.0" stroke="#fff" stroke-width="0.6" />
<text x="219.4" y="675.0" text-anchor="end" dominant-baseline="central" fill="#222" style="font-size:9.7px" >50</text>
<line x1="198.8" y1="689.2" x2="200.2" y2="689.2" stroke="#fff" stroke-width="0.6" />
<line x1="204.7" y1="689.2" x2="206.1" y2="689.2" stroke="#fff" stroke-width="0.6" />
<text x="219.4" y="689.2" text-anchor="end" dominant-baseline="central" fill="#222" style="font-size:9.7px" >40</text>
<line x1="198.8" y1="703.5" x2="200.2" y2="703.5" stroke="#fff" stroke-width="0.6" />
<line x1="204.7" y1="703.5" x2="206.1" y2="703.5" stroke="#fff" stroke-width="0.6" />
<text x="219.4" y="703.5" text-anchor="end" dominant-baseline="central" fill="#222" style="font-size:9.7px" >30</text>
<line x1="198.8" y1="717.8" x2="200.2" y2="717.8" stroke="#fff" stroke-width="0.6" />
<line x1="204.7" y1="717.8" x2="206.1" y2="717.8" stroke="#fff" stroke-width="0.6" />
<text x="219.4" y="717.8" text-anchor="end" dominant-baseline="central" fill="#222" style="font-size:9.7px" >20</text>
<line x1="198.8" y1="732.0" x2="200.2" y2="732.0" stroke="#fff" stroke-width="0.6" />
<line x1="204.7" y1="732.0" x2="206.1" y2="732.0" stroke="#fff" stroke-width="0.6" />
<text x="219.4" y="732.0" text-anchor="end" dominant-baseline="central" fill="#222" style="font-size:9.7px" >10</text>
<line x1="198.8" y1="746.2" x2="200.2" y2="746.2" stroke="#fff" stroke-width="0.6" />
<line x1="204.7" y1="746.2" x2="206.1" y2="746.2" stroke="#fff" stroke-width="0.6" />
<text x="219.4" y="746.2" text-anchor="end" dominant-baseline="central" fill="#222" style="font-size:9.7px" >0</text>
<text x="63.1" y="850.4" text-anchor="middle" dominant-baseline="central" fill="#111" style="font-size:9.5px;font-style:italic" >Acta2</text>
<text x="125.9" y="850.4" text-anchor="middle" dominant-baseline="central" fill="#111" style="font-size:9.5px;font-style:italic" >Ogn</text>
<text x="188" y="850.4" text-anchor="middle" dominant-baseline="central" style="font-size:9.5px" fill="#111"><tspan style="font-style:italic">Il1</tspan>β</text>
<path transform="scale(0.5)" d="M280 1750h0m-3-1h0m-7 2h0m-6-1h0m-1-1h0m-3 2h0m-6-1h0m-9-1h0m-13-1h0m-7 3h0m-4 0h0m-1 0h0m-8 0h0m-9-2h0m-6 11h0m1-2h0m0-3h0m2-3h0m1 10h0m0-6h0m1 1h0m1 1h0m0 2h0m0-8h0m2 6h0m0-5h0m0 0h0m0 5h0m1-4h0m0-2h0m3 4h0m2 7h0m1-11h0m0 10h0m1-1h0m1-5h0m2 1h0m1 5h0m0-8h0m0-2h0m2 8h0m3 0h0m1 2h0m0-7h0m1 8h0m5-2h0m0-5h0m0 1h0m0 6h0m3-9h0m1 4h0m4 4h0m1-4h0m3-4h0m0 6h0m0 2h0m0-4h0m1 5h0m1-3h0m0-1h0m0 4h0m0-7h0m1 4h0m2-8h0m1 3h0m5 6h0m2-1h0m0-7h0m0 9h0m1-1h0m2-2h0m1 0h0m2-2h0m1-3h0m3 6h0m2 2h0m1-1h0m1-7h0m0 7h0m1 2h0m1-4h0m0-2h0m1 0h0m0 2h0m0-1h0m0-1h0m2 5h0m1 1h0m0-10h0m1 8h0m1-6h0m1 5h0m1 2h0m1-9h0m0 4h0m41 0h0m5 0h0m10 5h0m4-5h0m2 0h0m10 5h0m13 1h0m2 1h0m0 6h0m-7 5h0m-14-2h0m-13-5h0m-49 0h0m-2 0h0m-5-2h0m0 9h0m0-7h0m-1 0h0m-2 3h0m-3-3h0m-1 0h0m-3-4h0m0 6h0m0-2h0m-1-1h0m-1 5h0m0-4h0m0 0h0m0 0h0m-1 4h0m0-5h0m-1 6h0m-1-5h0m-1 0h0m-1 4h0m0-8h0m0 1h0m0 3h0m-1 3h0m0 2h0m-1-8h0m0 3h0m-1 0h0m-2 0h0m-1-3h0m0 3h0m-1 0h0m-2 0h0m-3 1h0m0-1h0m-1 3h0m-3-3h0m0 0h0m-1 1h0m-2-3h0m0 2h0m-1 0h0m-1 3h0m0 1h0m0-3h0m0-1h0m-4 0h0m0 0h0m-3-1h0m-1-2h0m0 10h0m0-7h0m-1 6h0m0 1h0m0-7h0m-1 7h0m-1-4h0m-2-3h0m-3-1h0m-1 1h0m-2-3h0m0 2h0m0 1h0m-1-2h0m-1 4h0m0 1h0m-1-3h0m-1 4h0m0 2h0m0-6h0m-3 3h0m0 0h0m-1-3h0m0 0h0m-4 0h0m-4 6h0m0-10h0m-1 0h0m0 8h0m0-4h0m-1-1h0m-1 8h0m-1-7h0m0 0h0m-1 2h0m-1-2h0m0 0h0m-1-4h0m-68 8h0m-2 1h0m-5 5h0m2-1h0m6 6h0m0-2h0m67 4h0m0-5h0m0 0h0m1-3h0m2 3h0m0 0h0m1-3h0m0 3h0m1 2h0m0-2h0m0 0h0m1 0h0m0 0h0m0 0h0m1-3h0m0 3h0m1 1h0m0 6h0m0-7h0m1 0h0m0-1h0m0 3h0m2 5h0m0-7h0m1 1h0m0-3h0m1-1h0m2 5h0m1-2h0m3 5h0m1-5h0m0-1h0m1 0h0m0 3h0m1 0h0m0-2h0m1 6h0m0-8h0m0 6h0m0-4h0m1 1h0m0-5h0m0 4h0m1 0h0m0 0h0m1 3h0m1-4h0m0 7h0m0-2h0m2-4h0m2 4h0m2 2h0m0 0h0m1 1h0m0-7h0m2 4h0m0 1h0m1-5h0m1 0h0m1 3h0m0-3h0m1-2h0m1-2h0m0 10h0m0-4h0m1 5h0m0-7h0m0 0h0m0 0h0m1 3h0m0-4h0m0 1h0m0 0h0m1 5h0m1-4h0m2-5h0m0 5h0m1-1h0m1 6h0m1-7h0m0 1h0m1 2h0m0-2h0m2-4h0m0 5h0m2-1h0m2 1h0m0-1h0m1-3h0m1 6h0m1-3h0m3 0h0m2 6h0m2-2h0m1-4h0m1 0h0m1-4h0m0 6h0m2 0h0m2 3h0m1-2h0m2-7h0m1 4h0m0 0h0m1-1h0m0-2h0m0 3h0m0 0h0m1 6h0m1 1h0m0-7h0m2 4h0m5-4h0m75-2h0m2 4h0m7 6h0m-2 9h0m-14 0h0m-2-5h0m-4 2h0m-4-1h0m-9-3h0m-50 2h0m-1 0h0m-3 1h0m-1 6h0m0-7h0m-1 5h0m-1 2h0m-1-2h0m-1-9h0m-2 5h0m-1 3h0m0-4h0m-1-2h0m-1-2h0m-1 4h0m0 0h0m-2-2h0m-1 2h0m0 0h0m-1 0h0m-1-3h0m-1 5h0m0-2h0m-1 1h0m-1-1h0m-1 4h0m0 3h0m-1-4h0m-1-5h0m-1 7h0m0-5h0m-1 0h0m-2 4h0m-1-6h0m0 0h0m0 8h0m0-6h0m-1 0h0m-1-2h0m-2-1h0m0 2h0m-1 1h0m-1 2h0m0-2h0m0 0h0m-1 1h0m0-1h0m0 0h0m-1 0h0m-1 0h0m-1 3h0m-1-3h0m0 0h0m-1 1h0m0-2h0m-1 1h0m-2 5h0m0-1h0m0-4h0m-1 5h0m-1-8h0m-1 7h0m-1-4h0m-1-1h0m-2 1h0m-1 0h0m-1 7h0m0-7h0m-1 0h0m-3-4h0m0 4h0m-1 1h0m-1-5h0m-1 11h0m0-7h0m-2 1h0m-1-3h0m0 9h0m-2-7h0m-1-4h0m0 6h0m0-2h0m-3 7h0m-1-7h0m0 0h0m0 0h0m-2-1h0m0-1h0m-1 2h0m-2 0h0m-1 7h0m0-7h0m-1 6h0m0-1h0m0-5h0m-1 6h0m-1-6h0m-1 0h0m-2 6h0m-1-6h0m-1-1h0m0 1h0m-1 7h0m-57-7h0m-6 0h0m-5 0h0m-15 0h0m-3 0h0m-2 0h0m-12 0h0m-5 0h0m0 0h0m-2 0h0m0 0h0m-3 0h0m-4 0h0m-3 0h0m0 17h0m4 0h0m0 0h0m3 0h0m4 0h0m1 0h0m5 0h0m1 0h0m2 0h0m3 0h0m0 0h0m0 0h0m0 0h0m8 0h0m3 0h0m1 0h0m3 0h0m9 0h0m1 0h0m3 0h0m1 0h0m0 0h0m8 0h0m2 0h0m1 0h0m0 0h0m0 0h0m2 0h0m5 0h0m4 0h0m8 0h0m1 0h0m1 0h0m1 0h0m1 0h0m1 0h0m2 0h0m1 0h0m0 0h0m4 0h0m23-5h0m1 0h0m0 0h0m1 0h0m0 0h0m0 5h0m2-5h0m0 0h0m0 5h0m2-5h0m1 0h0m1-1h0m0 1h0m1 4h0m0-8h0m0 9h0m1-5h0m0 0h0m1-2h0m0 7h0m3-1h0m0-4h0m0 5h0m0 0h0m1-3h0m0 0h0m0 3h0m1-6h0m1 6h0m1 0h0m1 0h0m1-5h0m3-2h0m0 2h0m1 0h0m2-2h0m1 1h0m1-3h0m2 9h0m1-2h0m0 2h0m1-5h0m0 0h0m0 5h0m1-7h0m0 3h0m0-2h0m0 0h0m1-1h0m0 0h0m1 2h0m0 5h0m0 0h0m3 0h0m1-5h0m0 0h0m1 0h0m1 5h0m1-4h0m0-1h0m0 5h0m1 0h0m1-5h0m0 0h0m1 2h0m0-2h0m0 0h0m1 5h0m1 0h0m0 0h0m1-3h0m0 0h0m0-2h0m1 4h0m1-4h0m0 5h0m0 0h0m1-5h0m1 3h0m1-1h0m0-4h0m0 2h0m0 5h0m1 0h0m2-9h0m1 2h0m0 2h0m2-4h0m0 6h0m0-2h0m1 0h0m0 0h0m1-4h0m2 5h0m0-1h0m4-4h0m1 2h0m1 7h0m1-5h0m0-2h0m0 7h0m2 0h0m1-7h0m0 2h0m0 0h0m1 0h0m0 5h0m2-2h0m0-7h0m0 3h0m0 1h0m2-1h0m2 6h0m2-7h0m0-1h0m1 3h0m1 5h0m1-5h0m0 0h0m0 5h0m0 0h0m2-5h0m4 5h0m0 0h0m4 0h0m3 0h0m4 0h0m1 0h0m19 0h0m0 0h0m5 0h0m1 0h0m5 0h0m2-5h0m5 5h0m1 0h0m2 0h0m1 0h0m2 0h0m2 0h0m2-2h0m2 2h0m2 0h0m2 0h0m4 0h0m3-8h0m0 2h0m1 6h0m1 0h0m2 0h0m2 0h0m3 0h0m5 0h0m2 0h0m2 0h0m3 0h0m4 0h0m15 0h0m1 0h0m5 0h0m1 0h0m2 0h0m1 0h0m5 0h0m7 0h0m3 0h0m1 0h0" stroke="#a3a500" stroke-width="3.40" stroke-linecap="round" fill="none" />
<path transform="scale(0.5)" d="M126 1721h0m-1-3h0m0 5h0m0-3h0m-1-1h0m-2 1h0m0 4h0m-44-3h0m0 6h0m0-1h0m0-1h0m-1-1h0m-1-1h0m1 5h0m0 2h0m0 9h0m0-9h0m1 1h0m0-1h0m0-2h0m0 2h0m0 1h0m0 1h0m1 2h0m0 5h0m1-7h0m0 2h0m42 2h0m2-1h0m0 1h0m0-1h0m0-6h0m0 9h0m0-9h0m0 2h0m0 8h0m0-7h0m1-3h0m1 9h0m0-6h0m0 11h0m-2 7h0m0-8h0m-1-1h0m-1 5h0m-42 5h0m-1-4h0m0 1h0m0-3h0m0-4h0m-1 9h0m0-2h0m0-7h0m0 3h0m-2 7h0m0-2h0m0 4h0m1-1h0m1 4h0m0-1h0m1 0h0m0 5h0m0 2h0m1-7h0m42 5h0m1-4h0m0-1h0m0 2h0m1-1h0m1-2h0m0 1h0m1-2h0m-2 13h0m0 1h0m0 1h0m-1 1h0m0-3h0m0 1h0m-1 3h0m-42 5h0m-1-9h0m0 7h0m0 0h0m-1-5h0m-1 7h0m0-1h0m0-1h0m0-9h0m-1 0h0m1 16h0m0 1h0m0 6h0m1 0h0m1-11h0m1 4h0m42-4h0m2 4h0m1-2h0m0-1h0m1 2h0m-47 12h0m0 6h0m-1-1h0m0-8h0m0 4h0m-1 2h0m0-1h0m0 13h0m0 0h0m0-4h0m1 0h0m0 0h0m1 6h0m0-6h0m1 2h0" stroke="#f8766d" stroke-width="3.40" stroke-linecap="round" fill="none" />
<path transform="scale(0.5)" d="M399 1749h0m-6-1h0m-28 10h0m2-6h0m9 9h0m2-2h0m2 0h0m14-6h0m4 7h0m-2 13h0m-9-9h0m-5 11h0m-15-10h0m-1 3h0m-97 7h0m-20-7h0m-26 0h0m-82 0h0m-4 0h0m-2 6h0m-2-6h0m-2-1h0m93 19h0m17-7h0m1 1h0m1 4h0m9-5h0m2-2h0m12 7h0m114-6h0m-132 10h0m-13 1h0" stroke="#00bf7d" stroke-width="3.40" stroke-linecap="round" fill="none" />
<path transform="scale(0.5)" d="M262 1719h0m-3 4h0m-1-4h0m0 3h0m-2-5h0m-2 3h0m-2 2h0m0-4h0m-2 0h0m-3 8h0m-1-1h0m-1 0h0m-1-1h0m-1-4h0m0 4h0m-1 1h0m-1-2h0m-1-5h0m-3 6h0m-1-1h0m0-1h0m0 5h0m-5-3h0m0 0h0m-1-6h0m-1-2h0m0 9h0m-1-8h0m-2 3h0m0 3h0m0 12h0m1 1h0m3 3h0m4-3h0m2 2h0m0-4h0m0-3h0m2 7h0m4-9h0m0 8h0m1-7h0m0-1h0m5 5h0m3-1h0m0-1h0m2 5h0m1-4h0m0 2h0m1-4h0m1 5h0m1-4h0m0 4h0m4 2h0m0-1h0m0 13h0m-2-1h0m-2 2h0m0-3h0m-1-2h0m-1 0h0m0-5h0m-3 7h0m0-5h0m-3 2h0m0 5h0m-1 1h0m-1-9h0m-3 0h0m-2 1h0m-1 6h0m-4 2h0m0-2h0m-2-1h0m-1 3h0m0-8h0m-1 3h0m-1-5h0m-1 4h0m-3 1h0m-1 0h0m0 3h0m0 2h0m-1 1h0m2 10h0m4-10h0m0 6h0m1 4h0m1 0h0m0 0h0m1-7h0m4 6h0m4-1h0m1-4h0m1 7h0m1-7h0m1-4h0m2 8h0m0-5h0m1-1h0m2 6h0m0 1h0m1-6h0m0 6h0m0-4h0m1 6h0m2-4h0m1-6h0m0 3h0m4 8h0m-29 0h0m132 37h0m1-1h0m5 8h0m3-7h0" stroke="#e76bf3" stroke-width="3.40" stroke-linecap="round" fill="none" />
<path transform="scale(0.5)" d="M417 1718h0m-3-1h0m-4 10h0m-14-4h0m-4-1h0m-15-3h0m-4 0h0m-4 0h0m-3 4h0m-4 14h0m1-5h0m1 6h0m1-4h0m2-3h0m2 0h0m3 2h0m1-2h0m6 2h0m1 4h0m13-4h0m0 6h0m11-8h0m4 3h0m2 3h0m7 8h0m-14 5h0m-3-5h0m-4-3h0m-7-1h0m-5 3h0m-18-1h0m-7 8h0m0-2h0m-2-1h0m-3 1h0m-1-3h0m0-5h0m-2 3h0m0 5h0m-61 1h0m-133-3h0m-3-2h0m-3 6h0m-2-7h0m4 8h0m7 10h0m2-8h0m95 7h0m14 1h0m0 0h0m5-9h0m1 3h0m2-2h0m1 0h0m19 4h0m2 3h0m1-4h0m50-3h0m14 4h0m6-4h0m3 7h0m3-5h0m9-1h0m1-2h0m3 9h0m7-1h0m4-5h0m4-1h0m5 7h0m7 4h0m0 2h0m-4-3h0m-2 3h0m0 3h0m-8 1h0m-1-3h0m-5 0h0m-26 6h0m-2 0h0m-4-2h0m-2-3h0m-3-5h0m-3 10h0m-62-5h0m-2 0h0m-5-6h0m-5 6h0m-8-2h0m-5-3h0m-3 9h0m-8 1h0m-1-11h0m-98 8h0m-7-4h0m-4 15h0m4-4h0m7 2h0m100 6h0m5-7h0m3 2h0m1-2h0m16 7h0m1-6h0m2 0h0m68-2h0m17 7h0m12-3h0m11-4h0m18 0h0m2 7h0m1 1h0m0 12h0m-10-8h0m-4 0h0m-10 8h0m-8-3h0m-4-7h0m-5 0h0m-6 9h0m-1-1h0m-15-5h0m-61 3h0m-3-4h0m-2 2h0m-4 4h0m0-2h0m0 1h0m-5 3h0m-18-4h0m-101-7h0m-6 2h0m-1 2h0m-3-4h0m0 1h0m-1 3h0m-1 17h0m1 0h0m2 0h0m0 0h0m2 0h0m0 0h0m6 0h0m0 0h0m4 0h0m4 0h0m6 0h0m0 0h0m94-9h0m4 5h0m15 2h0m9-6h0m1 6h0m59-5h0m11 1h0m3 0h0m1 0h0m7-3h0m0 0h0m21 3h0m2 0h0" stroke="#00b0f6" stroke-width="3.40" stroke-linecap="round" fill="none" />
<path d="M37.5 878 C40 888 42 900 45.5 905.5 L65 905.5 C68 901 72 901 75 905.5 L91 905.5" fill="none" stroke="#111" stroke-width="1.6"/>
<path d="M98.5 896 C108 890 118 880 128 877.5 C136 876 142 895 146 905.5 L151 905.5" fill="none" stroke="#111" stroke-width="1.6"/>
<path d="M158.5 905.5 L188 905.5 C193 898 200 896 205 899 C209 901 211 902 213 903" fill="none" stroke="#111" stroke-width="1.6"/>
<line x1="36.3" y1="907.0" x2="36.3" y2="857.0" stroke="#111" stroke-width="1.0" />
<path d="M36.3 853.8 L34.4 858.5 L38.2 858.5Z" fill="#111"/>
<line x1="35.8" y1="906.5" x2="217.0" y2="906.5" stroke="#111" stroke-width="1.0" />
<path d="M220.5 906.5 L215.8 904.6 L215.8 908.4Z" fill="#111"/>
<text x="0" y="0" transform="translate(25.2 883.7) rotate(-90)" text-anchor="middle" dominant-baseline="central" fill="#111" style="font-size:9.5px" >Expression</text>
<text x="127.0" y="914.0" text-anchor="middle" dominant-baseline="central" fill="#111" style="font-size:9.5px" >Pseudotime</text>
<circle cx="43.7" cy="929.0" r="3.20" fill="#f8766d" />
<text x="50.5" y="929.3" dominant-baseline="central" fill="#111" style="font-size:9.2px" >Contractile−VSMC</text>
<circle cx="134.3" cy="929.0" r="3.20" fill="#00bf7d" />
<text x="141.1" y="929.3" dominant-baseline="central" fill="#111" style="font-size:9.2px" >Osteogenic−VSMC</text>
<circle cx="43.7" cy="940.0" r="3.20" fill="#a3a500" />
<text x="50.5" y="940.3" dominant-baseline="central" fill="#111" style="font-size:9.2px" >Mesenchymal−VSMC</text>
<circle cx="147.0" cy="940.0" r="3.20" fill="#00b0f6" />
<text x="153.8" y="940.3" dominant-baseline="central" fill="#111" style="font-size:9.2px" >Mφ−VSMC</text>
<circle cx="43.7" cy="951.5" r="3.20" fill="#e76bf3" />
<text x="50.5" y="951.8" dominant-baseline="central" fill="#111" style="font-size:9.2px" >Fibroblast−VSMC</text>
<text x="220.4" y="638.6" fill="#000" style="font-size:18px;font-weight:bold" >G</text>
<text x="295.7" y="635.5" dominant-baseline="central" fill="#111" style="font-size:10.3px" >KO-P-AAA vs WT-P-AAA</text>
<rect x="288.3" y="644.7" width="7.9" height="7.9" fill="#f5a5a5" />
<text x="299.3" y="648.7" dominant-baseline="central" fill="#111" style="font-size:10.3px" >Upregulated</text>
<rect x="362.2" y="644.7" width="7.9" height="7.9" fill="#b9c9e9" />
<text x="372.6" y="649.2" dominant-baseline="central" fill="#111" style="font-size:10.3px" >Downregulated</text>
<rect x="275.3" y="658.4" width="20.5" height="20.3" fill="#f5a5a5" />
<rect x="295.8" y="658.4" width="20.5" height="20.3" fill="#f5a5a5" />
<rect x="316.3" y="658.4" width="20.5" height="20.3" fill="#f5a5a5" />
<rect x="336.8" y="658.4" width="20.5" height="20.3" fill="#f5a5a5" />
<rect x="357.3" y="658.4" width="20.5" height="20.3" fill="#f5a5a5" />
<text x="380.5" y="669.0" dominant-baseline="central" fill="#d42030" style="font-size:10.2px" >Extracellular matrix</text>
<rect x="275.3" y="678.7" width="20.5" height="20.3" fill="#f5a5a5" />
<rect x="295.8" y="678.7" width="20.5" height="20.3" fill="#bfbfbf" />
<rect x="316.3" y="678.7" width="20.5" height="20.3" fill="#f5a5a5" />
<rect x="336.8" y="678.7" width="20.5" height="20.3" fill="#f5a5a5" />
<rect x="357.3" y="678.7" width="20.5" height="20.3" fill="#bfbfbf" />
<text x="380.5" y="689.3" dominant-baseline="central" fill="#d42030" style="font-size:10.2px" >Elastic Fibre Formation</text>
<rect x="275.3" y="699.0" width="20.5" height="20.3" fill="#c7d4ec" />
<rect x="295.8" y="699.0" width="20.5" height="20.3" fill="#c7d4ec" />
<rect x="316.3" y="699.0" width="20.5" height="20.3" fill="#bfbfbf" />
<rect x="336.8" y="699.0" width="20.5" height="20.3" fill="#bfbfbf" />
<rect x="357.3" y="699.0" width="20.5" height="20.3" fill="#c7d4ec" />
<text x="380.5" y="709.6" dominant-baseline="central" fill="#1aa3e8" style="font-size:10.2px" >Collagens</text>
<rect x="275.3" y="719.3" width="20.5" height="20.3" fill="#c7d4ec" />
<rect x="295.8" y="719.3" width="20.5" height="20.3" fill="#c7d4ec" />
<rect x="316.3" y="719.3" width="20.5" height="20.3" fill="#bfbfbf" />
<rect x="336.8" y="719.3" width="20.5" height="20.3" fill="#c7d4ec" />
<rect x="357.3" y="719.3" width="20.5" height="20.3" fill="#bfbfbf" />
<text x="380.5" y="729.9" dominant-baseline="central" fill="#1aa3e8" style="font-size:10.2px" >Signaling by interleukins</text>
<rect x="275.3" y="739.6" width="20.5" height="20.3" fill="#c7d4ec" />
<rect x="295.8" y="739.6" width="20.5" height="20.3" fill="#bfbfbf" />
<rect x="316.3" y="739.6" width="20.5" height="20.3" fill="#c7d4ec" />
<rect x="336.8" y="739.6" width="20.5" height="20.3" fill="#bfbfbf" />
<rect x="357.3" y="739.6" width="20.5" height="20.3" fill="#c7d4ec" />
<text x="380.5" y="750.2" dominant-baseline="central" fill="#1aa3e8" style="font-size:10.2px" >IL18 Signaling pathway</text>
<rect x="275.3" y="759.9" width="20.5" height="20.3" fill="#c7d4ec" />
<rect x="295.8" y="759.9" width="20.5" height="20.3" fill="#c7d4ec" />
<rect x="316.3" y="759.9" width="20.5" height="20.3" fill="#bfbfbf" />
<rect x="336.8" y="759.9" width="20.5" height="20.3" fill="#bfbfbf" />
<rect x="357.3" y="759.9" width="20.5" height="20.3" fill="#bfbfbf" />
<text x="380.5" y="770.5" dominant-baseline="central" fill="#1aa3e8" style="font-size:10.2px" >IL1 Signaling pathway</text>
<rect x="275.3" y="780.3" width="20.5" height="20.3" fill="#c7d4ec" />
<rect x="295.8" y="780.3" width="20.5" height="20.3" fill="#c7d4ec" />
<rect x="316.3" y="780.3" width="20.5" height="20.3" fill="#c7d4ec" />
<rect x="336.8" y="780.3" width="20.5" height="20.3" fill="#bfbfbf" />
<rect x="357.3" y="780.3" width="20.5" height="20.3" fill="#bfbfbf" />
<text x="380.5" y="790.8" dominant-baseline="central" fill="#1aa3e8" style="font-size:10.2px" >MAPK pathway</text>
<rect x="275.3" y="800.6" width="20.5" height="20.3" fill="#c7d4ec" />
<rect x="295.8" y="800.6" width="20.5" height="20.3" fill="#bfbfbf" />
<rect x="316.3" y="800.6" width="20.5" height="20.3" fill="#bfbfbf" />
<rect x="336.8" y="800.6" width="20.5" height="20.3" fill="#bfbfbf" />
<rect x="357.3" y="800.6" width="20.5" height="20.3" fill="#bfbfbf" />
<text x="380.5" y="811.1" dominant-baseline="central" fill="#1aa3e8" style="font-size:10.2px" >p53 Regulation pathway</text>
<rect x="275.3" y="820.9" width="20.5" height="20.3" fill="#c7d4ec" />
<rect x="295.8" y="820.9" width="20.5" height="20.3" fill="#bfbfbf" />
<rect x="316.3" y="820.9" width="20.5" height="20.3" fill="#bfbfbf" />
<rect x="336.8" y="820.9" width="20.5" height="20.3" fill="#c7d4ec" />
<rect x="357.3" y="820.9" width="20.5" height="20.3" fill="#c7d4ec" />
<text x="380.5" y="831.4" dominant-baseline="central" fill="#1aa3e8" style="font-size:10.2px" >PI3K-AKT Signaling pathway</text>
<rect x="275.3" y="841.2" width="20.5" height="20.3" fill="#c7d4ec" />
<rect x="295.8" y="841.2" width="20.5" height="20.3" fill="#bfbfbf" />
<rect x="316.3" y="841.2" width="20.5" height="20.3" fill="#bfbfbf" />
<rect x="336.8" y="841.2" width="20.5" height="20.3" fill="#c7d4ec" />
<rect x="357.3" y="841.2" width="20.5" height="20.3" fill="#bfbfbf" />
<text x="380.5" y="851.7" dominant-baseline="central" fill="#1aa3e8" style="font-size:10.2px" >Programmed cell death</text>
<line x1="275.3" y1="658.4" x2="275.3" y2="861.5" stroke="#555" stroke-width="1.3" />
<line x1="295.8" y1="658.4" x2="295.8" y2="861.5" stroke="#555" stroke-width="1.3" />
<line x1="316.3" y1="658.4" x2="316.3" y2="861.5" stroke="#555" stroke-width="1.3" />
<line x1="336.8" y1="658.4" x2="336.8" y2="861.5" stroke="#555" stroke-width="1.3" />
<line x1="357.3" y1="658.4" x2="357.3" y2="861.5" stroke="#555" stroke-width="1.3" />
<line x1="377.8" y1="658.4" x2="377.8" y2="861.5" stroke="#555" stroke-width="1.3" />
<line x1="275.3" y1="658.4" x2="377.8" y2="658.4" stroke="#555" stroke-width="1.3" />
<line x1="275.3" y1="678.7" x2="377.8" y2="678.7" stroke="#555" stroke-width="1.3" />
<line x1="275.3" y1="699.0" x2="377.8" y2="699.0" stroke="#555" stroke-width="1.3" />
<line x1="275.3" y1="719.3" x2="377.8" y2="719.3" stroke="#555" stroke-width="1.3" />
<line x1="275.3" y1="739.6" x2="377.8" y2="739.6" stroke="#555" stroke-width="1.3" />
<line x1="275.3" y1="759.9" x2="377.8" y2="759.9" stroke="#555" stroke-width="1.3" />
<line x1="275.3" y1="780.3" x2="377.8" y2="780.3" stroke="#555" stroke-width="1.3" />
<line x1="275.3" y1="800.6" x2="377.8" y2="800.6" stroke="#555" stroke-width="1.3" />
<line x1="275.3" y1="820.9" x2="377.8" y2="820.9" stroke="#555" stroke-width="1.3" />
<line x1="275.3" y1="841.2" x2="377.8" y2="841.2" stroke="#555" stroke-width="1.3" />
<line x1="275.3" y1="861.5" x2="377.8" y2="861.5" stroke="#555" stroke-width="1.3" />
<circle cx="285.6" cy="668.6" r="5.50" fill="#f6c800" />
<circle cx="306.1" cy="668.6" r="4.50" fill="#e8a200" />
<circle cx="326.6" cy="668.6" r="7.00" fill="#c05210" />
<circle cx="347.1" cy="668.6" r="5.50" fill="#f2c200" />
<circle cx="367.6" cy="668.6" r="4.50" fill="#e0a010" />
<circle cx="285.6" cy="688.9" r="4.80" fill="#f0c400" />
<circle cx="326.6" cy="688.9" r="3.80" fill="#f5d000" />
<circle cx="347.1" cy="688.9" r="4.80" fill="#f8e200" />
<circle cx="285.6" cy="709.2" r="3.80" fill="#f0c800" />
<circle cx="306.1" cy="709.2" r="2.50" fill="#f8e800" />
<circle cx="367.6" cy="709.2" r="2.80" fill="#f5d800" />
<circle cx="285.6" cy="729.5" r="6.30" fill="#e0a800" />
<circle cx="306.1" cy="729.5" r="3.80" fill="#f8e200" />
<circle cx="347.1" cy="729.5" r="3.80" fill="#f8e200" />
<circle cx="285.6" cy="749.8" r="5.20" fill="#f8e800" />
<circle cx="326.6" cy="749.8" r="5.20" fill="#f5e000" />
<circle cx="367.6" cy="749.8" r="4.00" fill="#f0c800" />
<circle cx="285.6" cy="770.1" r="4.00" fill="#f2d000" />
<circle cx="306.1" cy="770.1" r="4.00" fill="#e0a000" />
<circle cx="285.6" cy="790.4" r="4.80" fill="#e8b800" />
<circle cx="306.1" cy="790.4" r="4.00" fill="#f2d000" />
<circle cx="326.6" cy="790.4" r="4.60" fill="#f0c800" />
<circle cx="285.6" cy="810.7" r="4.50" fill="#f5d800" />
<circle cx="285.6" cy="831.0" r="5.80" fill="#f8e800" />
<circle cx="347.1" cy="831.0" r="2.80" fill="#f5e000" />
<circle cx="367.6" cy="831.0" r="3.80" fill="#fbf000" />
<circle cx="285.6" cy="851.3" r="5.80" fill="#fff000" />
<circle cx="347.1" cy="851.3" r="4.30" fill="#f5e000" />
<rect x="271.2" y="679.6" width="217.7" height="20.8" fill="none" stroke="#d42030" stroke-width="1.2" />
<rect x="271.2" y="719.7" width="217.8" height="20.7" fill="none" stroke="#1aa3e8" stroke-width="1.2" />
<line x1="489.0" y1="689.8" x2="510.0" y2="689.8" stroke="#111" stroke-width="1.0" />
<path d="M514.5 689.8 L508.5 687.3 L509.8 689.8 L508.5 692.3Z" fill="#111"/>
<line x1="489.0" y1="740.4" x2="510.5" y2="752.7" stroke="#111" stroke-width="1.0" />
<path d="M514.8 755.2 L510.9 750.1 L510.6 752.9 L508.4 754.4Z" fill="#111"/>
<line x1="266.8" y1="658.3" x2="266.8" y2="700.0" stroke="#444" stroke-width="1.2" />
<text x="0" y="0" transform="translate(258.1 680.4) rotate(-90)" text-anchor="middle" dominant-baseline="central" fill="#111" style="font-size:10.5px" >Upregulated</text>
<line x1="265.7" y1="703.0" x2="265.7" y2="863.8" stroke="#444" stroke-width="1.2" />
<text x="0" y="0" transform="translate(258.7 795.5) rotate(-90)" text-anchor="middle" dominant-baseline="central" fill="#111" style="font-size:10.5px" >Downregulated</text>
<text x="0" y="0" transform="translate(285.9 865.0) rotate(-90)" text-anchor="end" dominant-baseline="central" fill="#111" style="font-size:9.2px" >Contractile−VSMC</text>
<text x="0" y="0" transform="translate(306.4 865.0) rotate(-90)" text-anchor="end" dominant-baseline="central" fill="#111" style="font-size:9.2px" >Mesenchymal−VSMC</text>
<text x="0" y="0" transform="translate(326.9 865.0) rotate(-90)" text-anchor="end" dominant-baseline="central" fill="#111" style="font-size:9.2px" >Osteogenic−VSMC</text>
<text x="0" y="0" transform="translate(347.4 865.0) rotate(-90)" text-anchor="end" dominant-baseline="central" fill="#111" style="font-size:9.2px" >Mφ−VSMC</text>
<text x="0" y="0" transform="translate(367.9 865.0) rotate(-90)" text-anchor="end" dominant-baseline="central" fill="#111" style="font-size:9.2px" >Fibroblast−VSMC</text>
<defs><linearGradient id="gG" x1="0" y1="0" x2="0" y2="1"><stop offset="0" stop-color="#b01e00"/><stop offset="0.5" stop-color="#e08c00"/><stop offset="1" stop-color="#ffff00"/></linearGradient></defs>
<rect x="406.2" y="872.9" width="10.6" height="66.0" fill="url(#gG)" />
<line x1="406.2" y1="875.5" x2="408.0" y2="875.5" stroke="#fff" stroke-width="0.7" />
<line x1="415.0" y1="875.5" x2="416.8" y2="875.5" stroke="#fff" stroke-width="0.7" />
<text x="418.5" y="875.5" dominant-baseline="central" fill="#111" style="font-size:9.5px" >10</text>
<line x1="406.2" y1="892.3" x2="408.0" y2="892.3" stroke="#fff" stroke-width="0.7" />
<line x1="415.0" y1="892.3" x2="416.8" y2="892.3" stroke="#fff" stroke-width="0.7" />
<text x="418.5" y="892.3" dominant-baseline="central" fill="#111" style="font-size:9.5px" >8</text>
<line x1="406.2" y1="907.2" x2="408.0" y2="907.2" stroke="#fff" stroke-width="0.7" />
<line x1="415.0" y1="907.2" x2="416.8" y2="907.2" stroke="#fff" stroke-width="0.7" />
<text x="418.5" y="907.2" dominant-baseline="central" fill="#111" style="font-size:9.5px" >6</text>
<line x1="406.2" y1="923.2" x2="408.0" y2="923.2" stroke="#fff" stroke-width="0.7" />
<line x1="415.0" y1="923.2" x2="416.8" y2="923.2" stroke="#fff" stroke-width="0.7" />
<text x="418.5" y="923.2" dominant-baseline="central" fill="#111" style="font-size:9.5px" >4</text>
<text transform="translate(396 904.5) rotate(-90)" x="0" y="0" text-anchor="middle" dominant-baseline="central" style="font-size:10.8px" fill="#111">−Log<tspan style="font-size:5.5px" dy="2.5">10</tspan><tspan dy="-2.5">(Pvalue)</tspan></text>
<text x="456.8" y="871.5" text-anchor="middle" dominant-baseline="central" fill="#111" style="font-size:11.2px" >Count</text>
<circle cx="448.5" cy="889.9" r="6.10" fill="#000" />
<text x="459.3" y="890.4" dominant-baseline="central" fill="#111" style="font-size:9.5px" >10</text>
<circle cx="448.5" cy="909.7" r="7.20" fill="#000" />
<text x="459.3" y="910.2" dominant-baseline="central" fill="#111" style="font-size:9.5px" >20</text>
<circle cx="448.5" cy="929.7" r="8.40" fill="#000" />
<text x="459.3" y="930.2" dominant-baseline="central" fill="#111" style="font-size:9.5px" >30</text>
<rect x="515.6" y="644.8" width="19.9" height="100.9" fill="#fff" stroke="#555" stroke-width="1.1" />
<text x="0" y="0" transform="translate(525.3 694.9) rotate(-90)" text-anchor="middle" dominant-baseline="central" fill="#e02020" style="font-size:9.3px" >Elastic Fibre Formation</text>
<rect x="515.6" y="757.9" width="19.9" height="186.9" fill="#fff" stroke="#555" stroke-width="1.1" />
<text x="0" y="0" transform="translate(525.3 851.3) rotate(-90)" text-anchor="middle" dominant-baseline="central" fill="#1aa3e8" style="font-size:9.3px" >Signaling by interleukins</text>
<circle cx="571.8" cy="646.8" r="2.40" fill="#2b78b8" />
<text x="575.2" y="647.1" dominant-baseline="central" fill="#111" style="font-size:9.25px" >KO-P-AAA</text>
<circle cx="623.2" cy="646.8" r="2.40" fill="#ff1a1a" />
<text x="626.3" y="647.1" dominant-baseline="central" fill="#111" style="font-size:9.25px" >WT-P-AAA</text>
<rect x="573.4" y="654.5" width="92.5" height="34.0" fill="#fff" />
<line x1="612.8" y1="659.1" x2="665.9" y2="659.1" stroke="#c8c8c8" stroke-width="1.0" stroke-dasharray="3 2"/>
<line x1="578.5" y1="659.1" x2="612.8" y2="659.1" stroke="#a9c6ea" stroke-width="1.3" />
<circle cx="612.8" cy="659.1" r="2.30" fill="#2b78b8" />
<circle cx="578.5" cy="659.1" r="2.30" fill="#ff1a1a" />
<line x1="571.2" y1="659.1" x2="573.4" y2="659.1" stroke="#333" stroke-width="0.8" />
<text x="569.6" y="659.4" text-anchor="end" dominant-baseline="central" style="font-size:9.4px;font-style:italic" >Itga8</text>
<line x1="661.4" y1="667.5" x2="665.9" y2="667.5" stroke="#c8c8c8" stroke-width="1.0" stroke-dasharray="3 2"/>
<line x1="578.5" y1="667.5" x2="661.4" y2="667.5" stroke="#a9c6ea" stroke-width="1.3" />
<circle cx="661.4" cy="667.5" r="2.30" fill="#2b78b8" />
<circle cx="578.5" cy="667.5" r="2.30" fill="#ff1a1a" />
<line x1="571.2" y1="667.5" x2="573.4" y2="667.5" stroke="#333" stroke-width="0.8" />
<text x="569.6" y="667.8" text-anchor="end" dominant-baseline="central" style="font-size:9.4px;font-style:italic" >Mfap4</text>
<line x1="592.8" y1="676.0" x2="665.9" y2="676.0" stroke="#c8c8c8" stroke-width="1.0" stroke-dasharray="3 2"/>
<line x1="578.5" y1="676.0" x2="592.8" y2="676.0" stroke="#a9c6ea" stroke-width="1.3" />
<circle cx="592.8" cy="676.0" r="2.30" fill="#2b78b8" />
<circle cx="578.5" cy="676.0" r="2.30" fill="#ff1a1a" />
<line x1="571.2" y1="676.0" x2="573.4" y2="676.0" stroke="#333" stroke-width="0.8" />
<text x="569.6" y="676.3" text-anchor="end" dominant-baseline="central" style="font-size:9.4px;font-style:italic" >Ltbp1</text>
<line x1="584.6" y1="684.6" x2="665.9" y2="684.6" stroke="#c8c8c8" stroke-width="1.0" stroke-dasharray="3 2"/>
<line x1="578.5" y1="684.6" x2="584.6" y2="684.6" stroke="#a9c6ea" stroke-width="1.3" />
<circle cx="584.6" cy="684.6" r="2.30" fill="#2b78b8" />
<circle cx="578.5" cy="684.6" r="2.30" fill="#ff1a1a" />
<line x1="571.2" y1="684.6" x2="573.4" y2="684.6" stroke="#333" stroke-width="0.8" />
<text x="569.6" y="684.9" text-anchor="end" dominant-baseline="central" style="font-size:9.4px;font-style:italic" >Tagln</text>
<rect x="573.4" y="654.5" width="92.5" height="34.0" fill="none" stroke="#111" stroke-width="1.2" />
<line x1="578.5" y1="688.5" x2="578.5" y2="691.0" stroke="#333" stroke-width="0.8" />
<text x="578.5" y="696.7" text-anchor="middle" dominant-baseline="central" style="font-size:9.3px" >1</text>
<line x1="614.2" y1="688.5" x2="614.2" y2="691.0" stroke="#333" stroke-width="0.8" />
<text x="614.2" y="696.7" text-anchor="middle" dominant-baseline="central" style="font-size:9.3px" >2</text>
<line x1="650.0" y1="688.5" x2="650.0" y2="691.0" stroke="#333" stroke-width="0.8" />
<text x="650.0" y="696.7" text-anchor="middle" dominant-baseline="central" style="font-size:9.3px" >3</text>
<rect x="573.4" y="704.3" width="92.5" height="35.8" fill="#fff" />
<line x1="633.2" y1="709.4" x2="665.9" y2="709.4" stroke="#c8c8c8" stroke-width="1.0" stroke-dasharray="3 2"/>
<line x1="578.5" y1="709.4" x2="633.2" y2="709.4" stroke="#a9c6ea" stroke-width="1.3" />
<circle cx="633.2" cy="709.4" r="2.30" fill="#2b78b8" />
<circle cx="578.5" cy="709.4" r="2.30" fill="#ff1a1a" />
<line x1="571.2" y1="709.4" x2="573.4" y2="709.4" stroke="#333" stroke-width="0.8" />
<text x="569.6" y="709.7" text-anchor="end" dominant-baseline="central" style="font-size:9.4px;font-style:italic" >Fbn1</text>
<line x1="605.3" y1="722.7" x2="665.9" y2="722.7" stroke="#c8c8c8" stroke-width="1.0" stroke-dasharray="3 2"/>
<line x1="578.5" y1="722.7" x2="605.3" y2="722.7" stroke="#a9c6ea" stroke-width="1.3" />
<circle cx="605.3" cy="722.7" r="2.30" fill="#2b78b8" />
<circle cx="578.5" cy="722.7" r="2.30" fill="#ff1a1a" />
<line x1="571.2" y1="722.7" x2="573.4" y2="722.7" stroke="#333" stroke-width="0.8" />
<text x="569.6" y="723.0" text-anchor="end" dominant-baseline="central" style="font-size:9.4px;font-style:italic" >Emilin2</text>
<line x1="662.2" y1="735.5" x2="665.9" y2="735.5" stroke="#c8c8c8" stroke-width="1.0" stroke-dasharray="3 2"/>
<line x1="578.5" y1="735.5" x2="662.2" y2="735.5" stroke="#a9c6ea" stroke-width="1.3" />
<circle cx="662.2" cy="735.5" r="2.30" fill="#2b78b8" />
<circle cx="578.5" cy="735.5" r="2.30" fill="#ff1a1a" />
<line x1="571.2" y1="735.5" x2="573.4" y2="735.5" stroke="#333" stroke-width="0.8" />
<text x="569.6" y="735.8" text-anchor="end" dominant-baseline="central" style="font-size:9.4px;font-style:italic" >Eln</text>
<rect x="573.4" y="704.3" width="92.5" height="35.8" fill="none" stroke="#111" stroke-width="1.2" />
<line x1="578.5" y1="740.1" x2="578.5" y2="742.6" stroke="#333" stroke-width="0.8" />
<text x="578.5" y="748.3" text-anchor="middle" dominant-baseline="central" style="font-size:9.3px" >1</text>
<line x1="614.2" y1="740.1" x2="614.2" y2="742.6" stroke="#333" stroke-width="0.8" />
<text x="614.2" y="748.3" text-anchor="middle" dominant-baseline="central" style="font-size:9.3px" >2</text>
<line x1="650.0" y1="740.1" x2="650.0" y2="742.6" stroke="#333" stroke-width="0.8" />
<text x="650.0" y="748.3" text-anchor="middle" dominant-baseline="central" style="font-size:9.3px" >3</text>
<rect x="573.4" y="754.8" width="93.0" height="122.6" fill="#fff" />
<line x1="573.4" y1="761.7" x2="586.6" y2="761.7" stroke="#c8c8c8" stroke-width="1.0" stroke-dasharray="3 2"/>
<line x1="586.6" y1="761.7" x2="661.5" y2="761.7" stroke="#a9c6ea" stroke-width="1.3" />
<circle cx="586.6" cy="761.7" r="2.30" fill="#2b78b8" />
<circle cx="661.5" cy="761.7" r="2.30" fill="#ff1a1a" />
<line x1="571.2" y1="761.7" x2="573.4" y2="761.7" stroke="#333" stroke-width="0.8" />
<text x="569.6" y="762.0" text-anchor="end" dominant-baseline="central" style="font-size:9.4px;font-style:italic" >Psmb6</text>
<line x1="573.4" y1="772.6" x2="621.6" y2="772.6" stroke="#c8c8c8" stroke-width="1.0" stroke-dasharray="3 2"/>
<line x1="621.6" y1="772.6" x2="661.5" y2="772.6" stroke="#a9c6ea" stroke-width="1.3" />
<circle cx="621.6" cy="772.6" r="2.30" fill="#2b78b8" />
<circle cx="661.5" cy="772.6" r="2.30" fill="#ff1a1a" />
<line x1="571.2" y1="772.6" x2="573.4" y2="772.6" stroke="#333" stroke-width="0.8" />
<text x="569.6" y="772.9" text-anchor="end" dominant-baseline="central" style="font-size:9.4px;font-style:italic" >Ikbip</text>
<line x1="573.4" y1="783.5" x2="620.4" y2="783.5" stroke="#c8c8c8" stroke-width="1.0" stroke-dasharray="3 2"/>
<line x1="620.4" y1="783.5" x2="661.5" y2="783.5" stroke="#a9c6ea" stroke-width="1.3" />
<circle cx="620.4" cy="783.5" r="2.30" fill="#2b78b8" />
<circle cx="661.5" cy="783.5" r="2.30" fill="#ff1a1a" />
<line x1="571.2" y1="783.5" x2="573.4" y2="783.5" stroke="#333" stroke-width="0.8" />
<text x="569.6" y="783.8" text-anchor="end" dominant-baseline="central" style="font-size:9.4px;font-style:italic" >Ube2n</text>
<line x1="573.4" y1="794.4" x2="630.6" y2="794.4" stroke="#c8c8c8" stroke-width="1.0" stroke-dasharray="3 2"/>
<line x1="630.6" y1="794.4" x2="661.5" y2="794.4" stroke="#a9c6ea" stroke-width="1.3" />
<circle cx="630.6" cy="794.4" r="2.30" fill="#2b78b8" />
<circle cx="661.5" cy="794.4" r="2.30" fill="#ff1a1a" />
<line x1="571.2" y1="794.4" x2="573.4" y2="794.4" stroke="#333" stroke-width="0.8" />
<text x="569.6" y="794.7" text-anchor="end" dominant-baseline="central" style="font-size:9.4px;font-style:italic" >Nfkbia</text>
<line x1="573.4" y1="805.3" x2="602.5" y2="805.3" stroke="#c8c8c8" stroke-width="1.0" stroke-dasharray="3 2"/>
<line x1="602.5" y1="805.3" x2="661.5" y2="805.3" stroke="#a9c6ea" stroke-width="1.3" />
<circle cx="602.5" cy="805.3" r="2.30" fill="#2b78b8" />
<circle cx="661.5" cy="805.3" r="2.30" fill="#ff1a1a" />
<line x1="571.2" y1="805.3" x2="573.4" y2="805.3" stroke="#333" stroke-width="0.8" />
<text x="569.6" y="805.6" text-anchor="end" dominant-baseline="central" style="font-size:9.4px;font-style:italic" >Map2k4</text>
<line x1="573.4" y1="816.2" x2="615.0" y2="816.2" stroke="#c8c8c8" stroke-width="1.0" stroke-dasharray="3 2"/>
<line x1="615.0" y1="816.2" x2="661.5" y2="816.2" stroke="#a9c6ea" stroke-width="1.3" />
<circle cx="615.0" cy="816.2" r="2.30" fill="#2b78b8" />
<circle cx="661.5" cy="816.2" r="2.30" fill="#ff1a1a" />
<line x1="571.2" y1="816.2" x2="573.4" y2="816.2" stroke="#333" stroke-width="0.8" />
<text x="569.6" y="816.5" text-anchor="end" dominant-baseline="central" style="font-size:9.4px;font-style:italic" >Shc1</text>
<line x1="573.4" y1="827.1" x2="611.4" y2="827.1" stroke="#c8c8c8" stroke-width="1.0" stroke-dasharray="3 2"/>
<line x1="611.4" y1="827.1" x2="661.5" y2="827.1" stroke="#a9c6ea" stroke-width="1.3" />
<circle cx="611.4" cy="827.1" r="2.30" fill="#2b78b8" />
<circle cx="661.5" cy="827.1" r="2.30" fill="#ff1a1a" />
<line x1="571.2" y1="827.1" x2="573.4" y2="827.1" stroke="#333" stroke-width="0.8" />
<text x="569.6" y="827.4" text-anchor="end" dominant-baseline="central" style="font-size:9.4px;font-style:italic" >Cbl</text>
<line x1="573.4" y1="838.0" x2="602.5" y2="838.0" stroke="#c8c8c8" stroke-width="1.0" stroke-dasharray="3 2"/>
<line x1="602.5" y1="838.0" x2="661.5" y2="838.0" stroke="#a9c6ea" stroke-width="1.3" />
<circle cx="602.5" cy="838.0" r="2.30" fill="#2b78b8" />
<circle cx="661.5" cy="838.0" r="2.30" fill="#ff1a1a" />
<line x1="571.2" y1="838.0" x2="573.4" y2="838.0" stroke="#333" stroke-width="0.8" />
<text x="569.6" y="838.3" text-anchor="end" dominant-baseline="central" style="font-size:9.4px;font-style:italic" >Creb1</text>
<line x1="573.4" y1="848.9" x2="579.0" y2="848.9" stroke="#c8c8c8" stroke-width="1.0" stroke-dasharray="3 2"/>
<line x1="579.0" y1="848.9" x2="661.5" y2="848.9" stroke="#a9c6ea" stroke-width="1.3" />
<circle cx="579.0" cy="848.9" r="2.30" fill="#2b78b8" />
<circle cx="661.5" cy="848.9" r="2.30" fill="#ff1a1a" />
<line x1="571.2" y1="848.9" x2="573.4" y2="848.9" stroke="#333" stroke-width="0.8" />
<text x="569.6" y="849.2" text-anchor="end" dominant-baseline="central" style="font-size:9.4px;font-style:italic" >Mapk8</text>
<line x1="573.4" y1="859.8" x2="602.5" y2="859.8" stroke="#c8c8c8" stroke-width="1.0" stroke-dasharray="3 2"/>
<line x1="602.5" y1="859.8" x2="661.5" y2="859.8" stroke="#a9c6ea" stroke-width="1.3" />
<circle cx="602.5" cy="859.8" r="2.30" fill="#2b78b8" />
<circle cx="661.5" cy="859.8" r="2.30" fill="#ff1a1a" />
<line x1="571.2" y1="859.8" x2="573.4" y2="859.8" stroke="#333" stroke-width="0.8" />
<text x="569.6" y="860.1" text-anchor="end" dominant-baseline="central" style="font-size:9.4px;font-style:italic" >Il1b</text>
<line x1="573.4" y1="870.7" x2="602.5" y2="870.7" stroke="#c8c8c8" stroke-width="1.0" stroke-dasharray="3 2"/>
<line x1="602.5" y1="870.7" x2="661.5" y2="870.7" stroke="#a9c6ea" stroke-width="1.3" />
<circle cx="602.5" cy="870.7" r="2.30" fill="#2b78b8" />
<circle cx="661.5" cy="870.7" r="2.30" fill="#ff1a1a" />
<line x1="571.2" y1="870.7" x2="573.4" y2="870.7" stroke="#333" stroke-width="0.8" />
<text x="569.6" y="871.0" text-anchor="end" dominant-baseline="central" style="font-size:9.4px;font-style:italic" >Sos1</text>
<rect x="573.4" y="754.8" width="93.0" height="122.6" fill="none" stroke="#111" stroke-width="1.2" />
<line x1="587.9" y1="877.4" x2="587.9" y2="879.9" stroke="#333" stroke-width="0.8" />
<text x="587.9" y="885.6" text-anchor="middle" dominant-baseline="central" style="font-size:9.3px" >0.25</text>
<line x1="612.4" y1="877.4" x2="612.4" y2="879.9" stroke="#333" stroke-width="0.8" />
<text x="612.4" y="885.6" text-anchor="middle" dominant-baseline="central" style="font-size:9.3px" >0.50</text>
<line x1="636.9" y1="877.4" x2="636.9" y2="879.9" stroke="#333" stroke-width="0.8" />
<text x="636.9" y="885.6" text-anchor="middle" dominant-baseline="central" style="font-size:9.3px" >0.75</text>
<line x1="661.4" y1="877.4" x2="661.4" y2="879.9" stroke="#333" stroke-width="0.8" />
<text x="661.4" y="885.6" text-anchor="middle" dominant-baseline="central" style="font-size:9.3px" >1.00</text>
<rect x="573.4" y="891.9" width="93.0" height="46.0" fill="#fff" />
<line x1="573.4" y1="895.8" x2="595.8" y2="895.8" stroke="#c8c8c8" stroke-width="1.0" stroke-dasharray="3 2"/>
<line x1="595.8" y1="895.8" x2="662.0" y2="895.8" stroke="#a9c6ea" stroke-width="1.3" />
<circle cx="595.8" cy="895.8" r="2.30" fill="#2b78b8" />
<circle cx="662.0" cy="895.8" r="2.30" fill="#ff1a1a" />
<line x1="571.2" y1="895.8" x2="573.4" y2="895.8" stroke="#333" stroke-width="0.8" />
<text x="569.6" y="896.1" text-anchor="end" dominant-baseline="central" style="font-size:9.4px;font-style:italic" >Bcl2l1</text>
<line x1="573.4" y1="906.0" x2="579.7" y2="906.0" stroke="#c8c8c8" stroke-width="1.0" stroke-dasharray="3 2"/>
<line x1="579.7" y1="906.0" x2="662.0" y2="906.0" stroke="#a9c6ea" stroke-width="1.3" />
<circle cx="579.7" cy="906.0" r="2.30" fill="#2b78b8" />
<circle cx="662.0" cy="906.0" r="2.30" fill="#ff1a1a" />
<line x1="571.2" y1="906.0" x2="573.4" y2="906.0" stroke="#333" stroke-width="0.8" />
<text x="569.6" y="906.3" text-anchor="end" dominant-baseline="central" style="font-size:9.4px;font-style:italic" >Mapk9</text>
<line x1="573.4" y1="915.7" x2="630.8" y2="915.7" stroke="#c8c8c8" stroke-width="1.0" stroke-dasharray="3 2"/>
<line x1="630.8" y1="915.7" x2="662.0" y2="915.7" stroke="#a9c6ea" stroke-width="1.3" />
<circle cx="630.8" cy="915.7" r="2.30" fill="#2b78b8" />
<circle cx="662.0" cy="915.7" r="2.30" fill="#ff1a1a" />
<line x1="571.2" y1="915.7" x2="573.4" y2="915.7" stroke="#333" stroke-width="0.8" />
<text x="569.6" y="916.0" text-anchor="end" dominant-baseline="central" style="font-size:9.4px;font-style:italic" >Lyn</text>
<line x1="573.4" y1="925.9" x2="605.3" y2="925.9" stroke="#c8c8c8" stroke-width="1.0" stroke-dasharray="3 2"/>
<line x1="605.3" y1="925.9" x2="662.0" y2="925.9" stroke="#a9c6ea" stroke-width="1.3" />
<circle cx="605.3" cy="925.9" r="2.30" fill="#2b78b8" />
<circle cx="662.0" cy="925.9" r="2.30" fill="#ff1a1a" />
<line x1="571.2" y1="925.9" x2="573.4" y2="925.9" stroke="#333" stroke-width="0.8" />
<text x="569.6" y="926.2" text-anchor="end" dominant-baseline="central" style="font-size:9.4px;font-style:italic" >Fyn</text>
<line x1="573.4" y1="935.6" x2="584.1" y2="935.6" stroke="#c8c8c8" stroke-width="1.0" stroke-dasharray="3 2"/>
<line x1="584.1" y1="935.6" x2="662.0" y2="935.6" stroke="#a9c6ea" stroke-width="1.3" />
<circle cx="584.1" cy="935.6" r="2.30" fill="#2b78b8" />
<circle cx="662.0" cy="935.6" r="2.30" fill="#ff1a1a" />
<line x1="571.2" y1="935.6" x2="573.4" y2="935.6" stroke="#333" stroke-width="0.8" />
<text x="569.6" y="935.9" text-anchor="end" dominant-baseline="central" style="font-size:9.4px;font-style:italic" >Il7r</text>
<rect x="573.4" y="891.9" width="93.0" height="46.0" fill="none" stroke="#111" stroke-width="1.2" />
<line x1="586.1" y1="937.9" x2="586.1" y2="940.4" stroke="#333" stroke-width="0.8" />
<text x="586.1" y="946.1" text-anchor="middle" dominant-baseline="central" style="font-size:9.3px" >0.6</text>
<line x1="624.2" y1="937.9" x2="624.2" y2="940.4" stroke="#333" stroke-width="0.8" />
<text x="624.2" y="946.1" text-anchor="middle" dominant-baseline="central" style="font-size:9.3px" >0.8</text>
<line x1="662.0" y1="937.9" x2="662.0" y2="940.4" stroke="#333" stroke-width="0.8" />
<text x="662.0" y="946.1" text-anchor="middle" dominant-baseline="central" style="font-size:9.3px" >1.0</text>
<text x="626.2" y="954.6" text-anchor="middle" dominant-baseline="central" fill="#111" style="font-size:9.2px" >Relative expression</text>
<text x="0" y="0" transform="translate(677.3 659.0) rotate(-90)" text-anchor="middle" dominant-baseline="central" fill="#111" style="font-size:9.2px" >Contractile−VSMC</text>
<text x="0" y="0" transform="translate(677.3 727.3) rotate(-90)" text-anchor="middle" dominant-baseline="central" fill="#111" style="font-size:9.2px" >Mφ−VSMC</text>
<text x="0" y="0" transform="translate(677.3 816.6) rotate(-90)" text-anchor="middle" dominant-baseline="central" fill="#111" style="font-size:9.2px" >Contractile−VSMC</text>
<text x="0" y="0" transform="translate(677.3 916.0) rotate(-90)" text-anchor="middle" dominant-baseline="central" fill="#111" style="font-size:9.2px" >Mφ−VSMC</text>
</svg></body></html>
